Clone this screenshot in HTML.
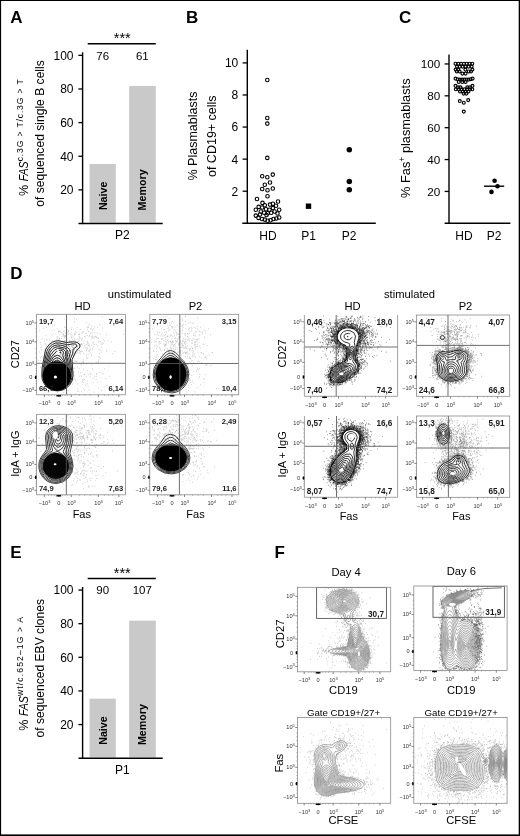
<!DOCTYPE html><html><head><meta charset="utf-8"><style>html,body{margin:0;padding:0;background:#fff;}body{width:520px;height:836px;overflow:hidden;font-family:"Liberation Sans", sans-serif;}</style></head><body><svg width="520" height="836" viewBox="0 0 520 836" style="display:block;font-family:'Liberation Sans', sans-serif;filter:grayscale(1)">
<rect x="0.00" y="0.00" width="520.00" height="836.00" fill="#fff"/>
<text x="10.20" y="23.40" font-size="17" text-anchor="start" font-weight="bold" fill="#000">A</text>
<rect x="89.50" y="163.97" width="26.30" height="58.73" fill="#c9c9c9"/>
<rect x="129.20" y="85.95" width="26.60" height="136.75" fill="#c9c9c9"/>
<line x1="82.60" y1="52.30" x2="82.60" y2="224.10" stroke="#000" stroke-width="1.4"/>
<line x1="78.50" y1="223.50" x2="162.70" y2="223.50" stroke="#000" stroke-width="1.4"/>
<line x1="78.40" y1="189.87" x2="82.60" y2="189.87" stroke="#000" stroke-width="1.3"/>
<text x="73.50" y="194.27" font-size="12" text-anchor="end" fill="#000">20</text>
<line x1="78.40" y1="156.24" x2="82.60" y2="156.24" stroke="#000" stroke-width="1.3"/>
<text x="73.50" y="160.64" font-size="12" text-anchor="end" fill="#000">40</text>
<line x1="78.40" y1="122.61" x2="82.60" y2="122.61" stroke="#000" stroke-width="1.3"/>
<text x="73.50" y="127.01" font-size="12" text-anchor="end" fill="#000">60</text>
<line x1="78.40" y1="88.98" x2="82.60" y2="88.98" stroke="#000" stroke-width="1.3"/>
<text x="73.50" y="93.38" font-size="12" text-anchor="end" fill="#000">80</text>
<line x1="78.40" y1="55.35" x2="82.60" y2="55.35" stroke="#000" stroke-width="1.3"/>
<text x="73.50" y="59.75" font-size="12" text-anchor="end" fill="#000">100</text>
<line x1="87.70" y1="43.80" x2="155.80" y2="43.80" stroke="#000" stroke-width="1.4"/>
<text x="122.30" y="43.00" font-size="14.5" text-anchor="middle" fill="#000">***</text>
<text x="102.70" y="59.50" font-size="11.5" text-anchor="middle" fill="#000">76</text>
<text x="142.30" y="59.50" font-size="11.5" text-anchor="middle" fill="#000">61</text>
<text x="122.30" y="239.40" font-size="12" text-anchor="middle" fill="#000">P2</text>
<text x="106.60" y="210.10" font-size="10.7" text-anchor="start" font-weight="bold" fill="#000" transform="rotate(-90 106.60 210.10)">Naive</text>
<text x="146.00" y="210.40" font-size="10.7" text-anchor="start" font-weight="bold" fill="#000" transform="rotate(-90 146.00 210.40)">Memory</text>
<text x="27.7" y="196.00" font-size="12.6" transform="rotate(-90 27.7 196.00)">% <tspan font-style="italic" textLength="20" lengthAdjust="spacingAndGlyphs">FAS</tspan><tspan font-size="8.6" dy="-4.6" textLength="82" lengthAdjust="spacing">c.3G &gt; T/c.3G &gt; T</tspan></text>
<text x="43.80" y="133.50" font-size="12.1" text-anchor="middle" fill="#000" transform="rotate(-90 43.80 133.50)">of sequenced single B cells</text>
<text x="186.00" y="23.40" font-size="17" text-anchor="start" font-weight="bold" fill="#000">B</text>
<line x1="247.30" y1="49.80" x2="247.30" y2="223.90" stroke="#000" stroke-width="1.4"/>
<line x1="242.30" y1="223.30" x2="375.80" y2="223.30" stroke="#000" stroke-width="1.4"/>
<line x1="242.60" y1="191.22" x2="247.30" y2="191.22" stroke="#000" stroke-width="1.3"/>
<text x="238.30" y="195.62" font-size="12" text-anchor="end" fill="#000">2</text>
<line x1="242.60" y1="159.14" x2="247.30" y2="159.14" stroke="#000" stroke-width="1.3"/>
<text x="238.30" y="163.54" font-size="12" text-anchor="end" fill="#000">4</text>
<line x1="242.60" y1="127.06" x2="247.30" y2="127.06" stroke="#000" stroke-width="1.3"/>
<text x="238.30" y="131.46" font-size="12" text-anchor="end" fill="#000">6</text>
<line x1="242.60" y1="94.98" x2="247.30" y2="94.98" stroke="#000" stroke-width="1.3"/>
<text x="238.30" y="99.38" font-size="12" text-anchor="end" fill="#000">8</text>
<line x1="242.60" y1="62.90" x2="247.30" y2="62.90" stroke="#000" stroke-width="1.3"/>
<text x="238.30" y="67.30" font-size="12" text-anchor="end" fill="#000">10</text>
<text x="268.00" y="240.00" font-size="12" text-anchor="middle" fill="#000">HD</text>
<text x="308.50" y="240.00" font-size="12" text-anchor="middle" fill="#000">P1</text>
<text x="349.20" y="240.00" font-size="12" text-anchor="middle" fill="#000">P2</text>
<text x="197.00" y="136.00" font-size="12.5" text-anchor="middle" fill="#000" transform="rotate(-90 197.00 136.00)">% Plasmablasts</text>
<text x="216.00" y="136.20" font-size="12.5" text-anchor="middle" fill="#000" transform="rotate(-90 216.00 136.20)">of CD19+ cells</text>
<circle cx="267.30" cy="80.00" r="1.75" fill="none" stroke="#000" stroke-width="1.1"/>
<circle cx="267.30" cy="118.00" r="1.75" fill="none" stroke="#000" stroke-width="1.1"/>
<circle cx="267.30" cy="123.60" r="1.75" fill="none" stroke="#000" stroke-width="1.1"/>
<circle cx="267.30" cy="157.90" r="1.75" fill="none" stroke="#000" stroke-width="1.1"/>
<circle cx="262.20" cy="176.30" r="1.75" fill="none" stroke="#000" stroke-width="1.1"/>
<circle cx="267.30" cy="177.30" r="1.75" fill="none" stroke="#000" stroke-width="1.1"/>
<circle cx="272.80" cy="174.60" r="1.75" fill="none" stroke="#000" stroke-width="1.1"/>
<circle cx="270.00" cy="182.50" r="1.75" fill="none" stroke="#000" stroke-width="1.1"/>
<circle cx="264.80" cy="184.80" r="1.75" fill="none" stroke="#000" stroke-width="1.1"/>
<circle cx="262.20" cy="189.00" r="1.75" fill="none" stroke="#000" stroke-width="1.1"/>
<circle cx="267.50" cy="190.20" r="1.75" fill="none" stroke="#000" stroke-width="1.1"/>
<circle cx="272.80" cy="188.50" r="1.75" fill="none" stroke="#000" stroke-width="1.1"/>
<circle cx="267.50" cy="196.20" r="1.75" fill="none" stroke="#000" stroke-width="1.1"/>
<circle cx="257.00" cy="199.00" r="1.75" fill="none" stroke="#000" stroke-width="1.1"/>
<circle cx="278.00" cy="201.50" r="1.75" fill="none" stroke="#000" stroke-width="1.1"/>
<circle cx="262.50" cy="202.90" r="1.75" fill="none" stroke="#000" stroke-width="1.1"/>
<circle cx="270.00" cy="204.60" r="1.75" fill="none" stroke="#000" stroke-width="1.1"/>
<circle cx="272.90" cy="203.80" r="1.75" fill="none" stroke="#000" stroke-width="1.1"/>
<circle cx="258.70" cy="206.90" r="1.75" fill="none" stroke="#000" stroke-width="1.1"/>
<circle cx="264.80" cy="205.20" r="1.75" fill="none" stroke="#000" stroke-width="1.1"/>
<circle cx="262.20" cy="207.50" r="1.75" fill="none" stroke="#000" stroke-width="1.1"/>
<circle cx="276.00" cy="205.80" r="1.75" fill="none" stroke="#000" stroke-width="1.1"/>
<circle cx="255.80" cy="209.80" r="1.75" fill="none" stroke="#000" stroke-width="1.1"/>
<circle cx="266.00" cy="209.20" r="1.75" fill="none" stroke="#000" stroke-width="1.1"/>
<circle cx="269.40" cy="209.80" r="1.75" fill="none" stroke="#000" stroke-width="1.1"/>
<circle cx="272.90" cy="208.10" r="1.75" fill="none" stroke="#000" stroke-width="1.1"/>
<circle cx="279.20" cy="209.80" r="1.75" fill="none" stroke="#000" stroke-width="1.1"/>
<circle cx="260.80" cy="211.50" r="1.75" fill="none" stroke="#000" stroke-width="1.1"/>
<circle cx="264.20" cy="212.70" r="1.75" fill="none" stroke="#000" stroke-width="1.1"/>
<circle cx="274.60" cy="211.50" r="1.75" fill="none" stroke="#000" stroke-width="1.1"/>
<circle cx="267.70" cy="213.30" r="1.75" fill="none" stroke="#000" stroke-width="1.1"/>
<circle cx="271.20" cy="212.70" r="1.75" fill="none" stroke="#000" stroke-width="1.1"/>
<circle cx="255.80" cy="215.60" r="1.75" fill="none" stroke="#000" stroke-width="1.1"/>
<circle cx="258.50" cy="217.90" r="1.75" fill="none" stroke="#000" stroke-width="1.1"/>
<circle cx="262.00" cy="219.00" r="1.75" fill="none" stroke="#000" stroke-width="1.1"/>
<circle cx="264.80" cy="219.60" r="1.75" fill="none" stroke="#000" stroke-width="1.1"/>
<circle cx="267.70" cy="220.80" r="1.75" fill="none" stroke="#000" stroke-width="1.1"/>
<circle cx="270.60" cy="220.20" r="1.75" fill="none" stroke="#000" stroke-width="1.1"/>
<circle cx="273.50" cy="219.00" r="1.75" fill="none" stroke="#000" stroke-width="1.1"/>
<circle cx="276.30" cy="218.50" r="1.75" fill="none" stroke="#000" stroke-width="1.1"/>
<circle cx="279.20" cy="217.50" r="1.75" fill="none" stroke="#000" stroke-width="1.1"/>
<circle cx="266.50" cy="215.00" r="1.75" fill="none" stroke="#000" stroke-width="1.1"/>
<circle cx="277.50" cy="213.50" r="1.75" fill="none" stroke="#000" stroke-width="1.1"/>
<circle cx="260.00" cy="214.50" r="1.75" fill="none" stroke="#000" stroke-width="1.1"/>
<rect x="305.80" y="203.50" width="5.40" height="5.40" fill="#000"/>
<circle cx="349.30" cy="149.70" r="2.75" fill="#000"/>
<circle cx="349.30" cy="181.50" r="2.75" fill="#000"/>
<circle cx="349.30" cy="189.70" r="2.75" fill="#000"/>
<text x="399.00" y="23.40" font-size="17" text-anchor="start" font-weight="bold" fill="#000">C</text>
<line x1="449.00" y1="54.40" x2="449.00" y2="223.90" stroke="#000" stroke-width="1.4"/>
<line x1="444.60" y1="223.30" x2="510.40" y2="223.30" stroke="#000" stroke-width="1.4"/>
<line x1="444.60" y1="191.43" x2="449.00" y2="191.43" stroke="#000" stroke-width="1.3"/>
<text x="440.30" y="195.73" font-size="11.7" text-anchor="end" fill="#000">20</text>
<line x1="444.60" y1="159.56" x2="449.00" y2="159.56" stroke="#000" stroke-width="1.3"/>
<text x="440.30" y="163.86" font-size="11.7" text-anchor="end" fill="#000">40</text>
<line x1="444.60" y1="127.69" x2="449.00" y2="127.69" stroke="#000" stroke-width="1.3"/>
<text x="440.30" y="131.99" font-size="11.7" text-anchor="end" fill="#000">60</text>
<line x1="444.60" y1="95.82" x2="449.00" y2="95.82" stroke="#000" stroke-width="1.3"/>
<text x="440.30" y="100.12" font-size="11.7" text-anchor="end" fill="#000">80</text>
<line x1="444.60" y1="63.95" x2="449.00" y2="63.95" stroke="#000" stroke-width="1.3"/>
<text x="440.30" y="68.25" font-size="11.7" text-anchor="end" fill="#000">100</text>
<text x="464.00" y="240.00" font-size="12" text-anchor="middle" fill="#000">HD</text>
<text x="494.00" y="240.00" font-size="12" text-anchor="middle" fill="#000">P2</text>
<text x="410.2" y="197.9" font-size="12.8" transform="rotate(-90 410.2 197.9)">% Fas<tspan font-size="8.5" dy="-4.8">+</tspan><tspan dy="4.8"> plasmablasts</tspan></text>
<circle cx="455.50" cy="63.70" r="1.45" fill="none" stroke="#000" stroke-width="1.15"/>
<circle cx="458.30" cy="63.70" r="1.45" fill="none" stroke="#000" stroke-width="1.15"/>
<circle cx="461.10" cy="63.70" r="1.45" fill="none" stroke="#000" stroke-width="1.15"/>
<circle cx="463.90" cy="63.70" r="1.45" fill="none" stroke="#000" stroke-width="1.15"/>
<circle cx="466.70" cy="63.70" r="1.45" fill="none" stroke="#000" stroke-width="1.15"/>
<circle cx="469.50" cy="63.70" r="1.45" fill="none" stroke="#000" stroke-width="1.15"/>
<circle cx="472.30" cy="63.70" r="1.45" fill="none" stroke="#000" stroke-width="1.15"/>
<circle cx="457.00" cy="66.60" r="1.45" fill="none" stroke="#000" stroke-width="1.15"/>
<circle cx="459.80" cy="66.60" r="1.45" fill="none" stroke="#000" stroke-width="1.15"/>
<circle cx="462.60" cy="66.60" r="1.45" fill="none" stroke="#000" stroke-width="1.15"/>
<circle cx="465.60" cy="66.60" r="1.45" fill="none" stroke="#000" stroke-width="1.15"/>
<circle cx="468.60" cy="66.60" r="1.45" fill="none" stroke="#000" stroke-width="1.15"/>
<circle cx="471.60" cy="66.60" r="1.45" fill="none" stroke="#000" stroke-width="1.15"/>
<circle cx="455.60" cy="69.60" r="1.45" fill="none" stroke="#000" stroke-width="1.15"/>
<circle cx="458.30" cy="69.60" r="1.45" fill="none" stroke="#000" stroke-width="1.15"/>
<circle cx="465.40" cy="69.60" r="1.45" fill="none" stroke="#000" stroke-width="1.15"/>
<circle cx="472.40" cy="69.60" r="1.45" fill="none" stroke="#000" stroke-width="1.15"/>
<circle cx="456.80" cy="71.40" r="1.45" fill="none" stroke="#000" stroke-width="1.15"/>
<circle cx="459.60" cy="71.40" r="1.45" fill="none" stroke="#000" stroke-width="1.15"/>
<circle cx="468.80" cy="71.40" r="1.45" fill="none" stroke="#000" stroke-width="1.15"/>
<circle cx="471.00" cy="71.40" r="1.45" fill="none" stroke="#000" stroke-width="1.15"/>
<circle cx="462.40" cy="73.60" r="1.45" fill="none" stroke="#000" stroke-width="1.15"/>
<circle cx="465.60" cy="73.60" r="1.45" fill="none" stroke="#000" stroke-width="1.15"/>
<circle cx="455.50" cy="78.60" r="1.45" fill="none" stroke="#000" stroke-width="1.15"/>
<circle cx="472.60" cy="78.60" r="1.45" fill="none" stroke="#000" stroke-width="1.15"/>
<circle cx="457.70" cy="79.20" r="1.45" fill="none" stroke="#000" stroke-width="1.15"/>
<circle cx="470.60" cy="79.20" r="1.45" fill="none" stroke="#000" stroke-width="1.15"/>
<circle cx="459.90" cy="79.60" r="1.45" fill="none" stroke="#000" stroke-width="1.15"/>
<circle cx="462.10" cy="79.60" r="1.45" fill="none" stroke="#000" stroke-width="1.15"/>
<circle cx="464.30" cy="79.60" r="1.45" fill="none" stroke="#000" stroke-width="1.15"/>
<circle cx="466.50" cy="79.60" r="1.45" fill="none" stroke="#000" stroke-width="1.15"/>
<circle cx="468.60" cy="79.60" r="1.45" fill="none" stroke="#000" stroke-width="1.15"/>
<circle cx="458.70" cy="81.90" r="1.45" fill="none" stroke="#000" stroke-width="1.15"/>
<circle cx="462.30" cy="81.90" r="1.45" fill="none" stroke="#000" stroke-width="1.15"/>
<circle cx="465.60" cy="81.90" r="1.45" fill="none" stroke="#000" stroke-width="1.15"/>
<circle cx="455.50" cy="85.80" r="1.45" fill="none" stroke="#000" stroke-width="1.15"/>
<circle cx="472.50" cy="85.80" r="1.45" fill="none" stroke="#000" stroke-width="1.15"/>
<circle cx="458.10" cy="87.30" r="1.45" fill="none" stroke="#000" stroke-width="1.15"/>
<circle cx="460.50" cy="87.30" r="1.45" fill="none" stroke="#000" stroke-width="1.15"/>
<circle cx="467.30" cy="87.30" r="1.45" fill="none" stroke="#000" stroke-width="1.15"/>
<circle cx="469.80" cy="87.30" r="1.45" fill="none" stroke="#000" stroke-width="1.15"/>
<circle cx="455.80" cy="89.30" r="1.45" fill="none" stroke="#000" stroke-width="1.15"/>
<circle cx="458.70" cy="89.30" r="1.45" fill="none" stroke="#000" stroke-width="1.15"/>
<circle cx="461.50" cy="89.30" r="1.45" fill="none" stroke="#000" stroke-width="1.15"/>
<circle cx="464.40" cy="89.30" r="1.45" fill="none" stroke="#000" stroke-width="1.15"/>
<circle cx="467.20" cy="89.30" r="1.45" fill="none" stroke="#000" stroke-width="1.15"/>
<circle cx="470.00" cy="89.30" r="1.45" fill="none" stroke="#000" stroke-width="1.15"/>
<circle cx="472.30" cy="89.30" r="1.45" fill="none" stroke="#000" stroke-width="1.15"/>
<circle cx="460.00" cy="91.40" r="1.45" fill="none" stroke="#000" stroke-width="1.15"/>
<circle cx="462.70" cy="91.40" r="1.45" fill="none" stroke="#000" stroke-width="1.15"/>
<circle cx="465.60" cy="91.40" r="1.45" fill="none" stroke="#000" stroke-width="1.15"/>
<circle cx="468.40" cy="91.40" r="1.45" fill="none" stroke="#000" stroke-width="1.15"/>
<circle cx="463.60" cy="93.60" r="1.45" fill="none" stroke="#000" stroke-width="1.15"/>
<circle cx="466.40" cy="93.60" r="1.45" fill="none" stroke="#000" stroke-width="1.15"/>
<circle cx="459.80" cy="101.00" r="1.45" fill="none" stroke="#000" stroke-width="1.15"/>
<circle cx="463.80" cy="102.70" r="1.45" fill="none" stroke="#000" stroke-width="1.15"/>
<circle cx="468.20" cy="100.10" r="1.45" fill="none" stroke="#000" stroke-width="1.15"/>
<circle cx="463.80" cy="111.60" r="1.45" fill="none" stroke="#000" stroke-width="1.15"/>
<circle cx="494.60" cy="180.80" r="2.30" fill="#000"/>
<circle cx="497.50" cy="186.20" r="2.30" fill="#000"/>
<circle cx="491.50" cy="191.90" r="2.30" fill="#000"/>
<line x1="484.00" y1="186.20" x2="504.20" y2="186.20" stroke="#000" stroke-width="1.4"/>
<text x="10.20" y="557.90" font-size="17" text-anchor="start" font-weight="bold" fill="#000">E</text>
<rect x="89.50" y="698.67" width="26.30" height="58.73" fill="#c9c9c9"/>
<rect x="129.20" y="620.65" width="26.60" height="136.75" fill="#c9c9c9"/>
<line x1="82.60" y1="587.00" x2="82.60" y2="758.80" stroke="#000" stroke-width="1.4"/>
<line x1="78.50" y1="758.20" x2="162.70" y2="758.20" stroke="#000" stroke-width="1.4"/>
<line x1="78.40" y1="724.57" x2="82.60" y2="724.57" stroke="#000" stroke-width="1.3"/>
<text x="73.50" y="728.97" font-size="12" text-anchor="end" fill="#000">20</text>
<line x1="78.40" y1="690.94" x2="82.60" y2="690.94" stroke="#000" stroke-width="1.3"/>
<text x="73.50" y="695.34" font-size="12" text-anchor="end" fill="#000">40</text>
<line x1="78.40" y1="657.31" x2="82.60" y2="657.31" stroke="#000" stroke-width="1.3"/>
<text x="73.50" y="661.71" font-size="12" text-anchor="end" fill="#000">60</text>
<line x1="78.40" y1="623.68" x2="82.60" y2="623.68" stroke="#000" stroke-width="1.3"/>
<text x="73.50" y="628.08" font-size="12" text-anchor="end" fill="#000">80</text>
<line x1="78.40" y1="590.05" x2="82.60" y2="590.05" stroke="#000" stroke-width="1.3"/>
<text x="73.50" y="594.45" font-size="12" text-anchor="end" fill="#000">100</text>
<line x1="87.70" y1="578.50" x2="155.80" y2="578.50" stroke="#000" stroke-width="1.4"/>
<text x="122.30" y="577.70" font-size="14.5" text-anchor="middle" fill="#000">***</text>
<text x="102.70" y="594.20" font-size="11.5" text-anchor="middle" fill="#000">90</text>
<text x="142.30" y="594.20" font-size="11.5" text-anchor="middle" fill="#000">107</text>
<text x="122.30" y="774.10" font-size="12" text-anchor="middle" fill="#000">P1</text>
<text x="106.60" y="744.80" font-size="10.7" text-anchor="start" font-weight="bold" fill="#000" transform="rotate(-90 106.60 744.80)">Naive</text>
<text x="146.00" y="745.10" font-size="10.7" text-anchor="start" font-weight="bold" fill="#000" transform="rotate(-90 146.00 745.10)">Memory</text>
<text x="27.7" y="730.70" font-size="12.6" transform="rotate(-90 27.7 730.70)">% <tspan font-style="italic" textLength="20" lengthAdjust="spacingAndGlyphs">FAS</tspan><tspan font-size="8.6" dy="-4.6" textLength="79" lengthAdjust="spacing">wt/c.652–1G &gt; A</tspan></text>
<text x="43.80" y="668.20" font-size="12.1" text-anchor="middle" fill="#000" transform="rotate(-90 43.80 668.20)">of sequenced EBV clones</text>
<text x="10.20" y="279.40" font-size="17" text-anchor="start" font-weight="bold" fill="#000">D</text>
<text x="139.50" y="297.60" font-size="11.2" text-anchor="middle" fill="#000">unstimulated</text>
<text x="82.50" y="309.60" font-size="11.2" text-anchor="middle" fill="#000">HD</text>
<text x="195.50" y="309.60" font-size="11.2" text-anchor="middle" fill="#000">P2</text>
<text x="409.50" y="298.00" font-size="11.2" text-anchor="middle" fill="#000">stimulated</text>
<text x="352.50" y="310.00" font-size="11.2" text-anchor="middle" fill="#000">HD</text>
<text x="465.50" y="310.00" font-size="11.2" text-anchor="middle" fill="#000">P2</text>
<text x="19.30" y="354.20" font-size="11" text-anchor="middle" fill="#000" transform="rotate(-90 19.30 354.20)">CD27</text>
<text x="18.80" y="453.60" font-size="11" text-anchor="middle" fill="#000" transform="rotate(-90 18.80 453.60)">IgA + IgG</text>
<text x="286.00" y="353.50" font-size="11" text-anchor="middle" fill="#000" transform="rotate(-90 286.00 353.50)">CD27</text>
<text x="286.00" y="454.30" font-size="11" text-anchor="middle" fill="#000" transform="rotate(-90 286.00 454.30)">IgA + IgG</text>
<text x="81.80" y="518.00" font-size="11" text-anchor="middle" fill="#000">Fas</text>
<text x="195.50" y="518.00" font-size="11" text-anchor="middle" fill="#000">Fas</text>
<text x="348.80" y="520.00" font-size="11" text-anchor="middle" fill="#000">Fas</text>
<text x="461.30" y="520.00" font-size="11" text-anchor="middle" fill="#000">Fas</text>
<clipPath id="c1"><rect x="36.60" y="314.30" width="88.90" height="80.50"/></clipPath>
<g clip-path="url(#c1)">
<path d="M74.5 334.3h0.75M86.1 356.3h0.75M54.8 373.5h0.75M61.7 346.8h0.75M100.0 334.1h0.75M92.8 337.3h0.75M64.0 337.0h0.75M66.9 353.0h0.75M60.9 354.8h0.75M72.4 346.8h0.75M59.0 331.1h0.75M56.7 342.6h0.75M68.8 341.6h0.75M56.9 351.2h0.75M78.6 368.5h0.75M96.4 374.0h0.75M71.5 327.8h0.75M54.4 325.1h0.75M51.6 365.0h0.75M101.3 352.0h0.75M66.5 347.2h0.75M72.1 384.2h0.75M77.0 350.9h0.75M114.6 351.5h0.75M109.6 376.4h0.75M54.6 373.0h0.75M79.3 346.5h0.75M59.5 334.2h0.75M75.8 351.2h0.75M57.6 346.3h0.75M58.9 346.0h0.75M89.8 348.3h0.75M61.7 336.5h0.75M102.7 373.6h0.75M76.6 349.6h0.75M76.7 346.0h0.75M74.8 360.9h0.75M81.5 343.8h0.75M66.2 354.3h0.75M65.2 359.1h0.75M58.3 330.1h0.75M102.9 339.5h0.75M73.5 363.2h0.75M56.7 357.5h0.75M67.5 390.6h0.75M60.5 344.8h0.75M83.2 361.7h0.75M91.0 328.1h0.75M50.4 353.9h0.75M72.8 347.0h0.75M69.7 350.2h0.75M71.0 337.1h0.75M77.2 384.0h0.75M75.6 346.4h0.75M57.5 342.5h0.75M90.7 331.9h0.75M58.7 375.1h0.75M63.3 341.7h0.75M56.4 337.2h0.75M40.7 349.2h0.75M52.1 356.1h0.75M77.6 358.3h0.75M89.5 373.7h0.75M75.2 334.0h0.75M60.0 375.1h0.75M101.4 347.1h0.75M75.2 394.1h0.75M53.4 345.6h0.75M44.0 340.8h0.75M56.1 339.9h0.75M51.3 351.2h0.75M54.6 343.6h0.75M88.4 345.5h0.75M87.0 329.4h0.75M54.8 355.2h0.75M93.9 326.9h0.75M84.1 374.6h0.75M86.2 344.4h0.75M71.6 344.3h0.75M60.5 353.6h0.75M59.4 338.4h0.75M72.1 354.7h0.75M61.6 364.3h0.75M82.3 338.6h0.75M59.4 370.6h0.75M49.9 367.2h0.75M88.5 344.9h0.75M76.0 344.3h0.75M91.8 333.0h0.75M49.4 339.5h0.75M63.9 341.1h0.75M59.2 338.4h0.75M71.4 380.0h0.75M61.3 377.3h0.75M86.4 364.0h0.75M59.8 332.3h0.75M99.5 341.0h0.75M46.2 345.1h0.75M39.1 352.0h0.75M45.7 375.1h0.75M87.9 325.7h0.75M57.5 336.6h0.75M78.0 334.6h0.75M52.0 361.3h0.75M98.5 357.3h0.75M79.1 350.9h0.75M72.7 379.2h0.75M65.2 349.6h0.75M61.3 332.6h0.75M78.5 347.9h0.75M41.3 346.8h0.75M80.5 344.6h0.75M48.5 355.7h0.75M78.4 391.1h0.75M65.3 335.8h0.75M95.8 376.4h0.75M92.2 368.5h0.75M42.2 364.8h0.75M82.8 382.5h0.75M65.0 376.5h0.75M69.8 350.4h0.75M51.6 345.8h0.75M70.4 354.9h0.75M79.0 334.7h0.75M46.3 339.7h0.75M99.1 324.2h0.75M48.4 363.2h0.75M72.7 352.2h0.75M89.6 349.9h0.75M92.4 342.8h0.75M101.8 344.5h0.75M77.2 339.1h0.75M92.0 329.9h0.75M57.9 347.6h0.75M49.0 361.0h0.75M64.1 358.7h0.75M59.1 339.0h0.75M81.6 351.5h0.75M68.4 347.9h0.75M106.7 385.3h0.75M79.1 337.1h0.75M87.4 327.7h0.75M64.2 360.3h0.75M81.3 333.0h0.75M45.3 362.1h0.75M72.3 368.0h0.75M78.2 343.8h0.75M80.8 344.1h0.75M75.0 379.1h0.75M84.0 390.1h0.75M69.2 346.3h0.75M62.1 356.9h0.75M92.7 382.8h0.75M65.6 341.9h0.75M68.2 365.0h0.75M74.9 340.2h0.75M57.7 339.9h0.75M67.1 394.0h0.75M54.8 356.7h0.75M69.2 356.0h0.75M104.2 340.9h0.75M86.9 335.5h0.75M103.7 386.3h0.75M67.9 355.5h0.75M63.8 361.1h0.75M84.7 336.4h0.75M72.1 349.3h0.75M58.9 342.0h0.75M108.0 340.9h0.75M71.8 336.0h0.75M67.7 368.9h0.75M62.4 367.4h0.75M41.4 350.1h0.75M53.8 355.3h0.75M86.4 322.6h0.75M123.3 334.3h0.75M86.5 385.0h0.75M69.6 358.5h0.75M47.4 361.9h0.75M90.0 333.6h0.75M64.6 319.3h0.75M73.8 362.1h0.75M48.4 353.0h0.75M57.9 339.2h0.75M55.7 358.3h0.75M88.6 389.8h0.75M59.3 348.2h0.75M63.7 345.8h0.75M43.9 370.6h0.75M54.3 356.3h0.75M88.0 331.4h0.75M66.5 360.9h0.75M57.7 360.1h0.75M49.7 323.7h0.75M55.4 341.8h0.75M91.0 345.1h0.75M52.5 355.2h0.75M98.1 388.1h0.75M63.2 360.6h0.75M55.5 352.7h0.75M87.1 341.3h0.75M83.0 331.3h0.75M38.8 330.7h0.75M72.7 355.7h0.75M96.0 362.5h0.75M63.1 384.0h0.75M87.3 358.1h0.75M93.6 344.2h0.75M97.4 345.9h0.75M92.5 378.3h0.75M65.5 340.1h0.75M69.3 350.8h0.75M64.9 327.1h0.75M67.0 370.6h0.75M99.0 353.4h0.75M40.7 344.7h0.75M52.2 354.2h0.75M82.6 332.9h0.75M83.2 388.7h0.75M79.4 353.0h0.75M93.0 346.5h0.75M63.3 349.3h0.75M96.1 337.7h0.75M73.4 382.9h0.75M68.6 346.7h0.75M71.4 355.6h0.75M80.2 351.6h0.75M67.8 332.9h0.75M66.0 390.4h0.75M86.4 349.5h0.75M59.9 342.7h0.75M47.0 361.1h0.75M82.7 380.4h0.75M62.5 348.7h0.75M106.3 334.5h0.75M74.6 368.3h0.75M66.6 353.7h0.75M62.6 333.7h0.75M68.0 368.3h0.75M73.5 368.1h0.75M91.6 338.2h0.75M44.4 357.5h0.75M64.9 355.8h0.75M40.6 347.4h0.75M41.2 356.7h0.75M64.2 340.9h0.75M83.5 343.9h0.75M98.3 361.3h0.75M48.4 352.0h0.75M98.6 356.9h0.75M83.0 348.0h0.75M83.4 359.1h0.75M75.1 380.6h0.75M70.9 361.7h0.75M57.4 338.3h0.75M94.6 336.5h0.75M45.4 335.7h0.75M50.2 375.9h0.75M86.9 380.9h0.75M71.8 351.1h0.75M83.3 363.6h0.75M72.7 344.7h0.75M96.0 374.0h0.75M65.0 383.0h0.75M72.4 359.8h0.75M70.8 360.9h0.75M57.8 358.5h0.75M55.1 362.0h0.75M74.4 350.6h0.75M45.0 343.4h0.75M83.4 369.1h0.75M90.4 374.2h0.75M71.5 344.8h0.75M52.7 333.0h0.75M63.2 334.7h0.75M72.6 343.7h0.75M91.9 348.2h0.75M80.4 372.7h0.75M73.3 348.6h0.75M83.6 353.7h0.75M62.0 369.2h0.75M86.9 383.3h0.75M55.3 360.3h0.75M74.2 349.5h0.75M55.6 346.1h0.75M97.2 381.8h0.75M58.9 362.5h0.75M49.0 343.3h0.75M54.9 352.9h0.75M70.8 342.4h0.75M71.2 332.9h0.75M49.7 354.4h0.75M95.5 336.6h0.75M49.2 347.0h0.75M81.8 361.9h0.75M64.6 335.8h0.75M60.3 364.2h0.75M78.7 339.0h0.75M88.7 343.8h0.75M111.9 353.7h0.75M74.1 338.8h0.75M72.3 339.3h0.75M88.6 336.3h0.75M101.5 373.8h0.75M77.2 352.2h0.75M58.4 363.6h0.75M87.6 342.8h0.75M82.0 379.6h0.75M70.8 341.0h0.75M42.8 328.6h0.75M96.9 333.4h0.75M69.2 356.7h0.75M71.8 347.5h0.75M52.7 353.7h0.75M47.6 362.5h0.75M81.2 344.0h0.75M89.7 349.9h0.75M81.2 376.1h0.75M55.2 351.7h0.75M68.6 357.6h0.75M89.1 335.7h0.75M74.7 353.4h0.75M69.9 333.7h0.75M63.0 372.0h0.75M86.5 327.1h0.75M70.0 341.2h0.75M106.2 351.6h0.75M91.1 354.7h0.75M55.4 361.6h0.75M64.9 341.2h0.75M81.9 381.5h0.75M46.1 366.2h0.75M89.8 353.0h0.75M68.3 343.8h0.75M99.5 350.6h0.75M68.1 344.9h0.75M76.1 353.8h0.75M63.6 390.8h0.75M78.6 341.6h0.75M65.0 336.1h0.75M76.9 352.8h0.75M67.8 363.5h0.75M79.1 350.3h0.75M68.6 349.7h0.75M53.1 359.7h0.75M65.2 363.2h0.75M72.9 340.8h0.75M64.9 336.5h0.75M60.9 361.7h0.75M93.4 342.1h0.75M79.5 376.1h0.75M72.9 371.9h0.75M84.4 345.2h0.75M46.1 349.8h0.75M49.0 350.3h0.75M52.2 357.6h0.75M63.2 341.4h0.75M63.9 367.9h0.75M65.2 384.3h0.75M56.5 343.3h0.75M87.2 370.6h0.75M74.2 335.1h0.75M84.1 374.5h0.75M75.9 332.6h0.75M71.2 346.1h0.75M73.7 353.7h0.75M98.1 342.0h0.75M63.1 348.4h0.75M64.8 346.1h0.75M71.2 349.7h0.75M77.1 366.8h0.75M81.7 344.7h0.75M90.7 372.9h0.75M57.3 359.4h0.75M44.9 356.3h0.75M63.4 331.3h0.75M87.8 374.4h0.75M43.4 357.0h0.75M44.7 344.3h0.75M40.4 342.5h0.75M63.1 355.8h0.75M85.1 385.1h0.75M57.9 344.8h0.75M74.4 358.6h0.75M78.8 345.3h0.75M57.2 357.5h0.75M63.5 353.9h0.75M56.5 343.1h0.75M48.2 359.7h0.75M88.8 351.3h0.75M79.1 333.9h0.75M87.1 348.3h0.75M57.4 350.1h0.75M86.5 358.7h0.75M67.9 358.8h0.75M89.3 324.2h0.75M68.2 331.2h0.75M46.3 327.4h0.75M75.1 351.9h0.75M84.6 346.6h0.75M77.2 391.4h0.75M87.8 386.7h0.75M56.8 345.6h0.75M62.5 345.7h0.75M60.9 338.5h0.75M60.6 370.4h0.75M85.5 348.1h0.75M48.2 344.8h0.75M45.3 356.1h0.75M95.8 379.5h0.75M78.6 331.1h0.75M63.9 351.0h0.75M52.0 325.1h0.75M73.9 333.4h0.75M101.6 342.7h0.75M64.1 337.5h0.75M77.7 341.1h0.75M89.4 346.7h0.75M76.2 361.7h0.75M73.0 347.6h0.75M79.6 352.0h0.75M77.8 362.1h0.75M77.3 346.7h0.75M73.8 375.9h0.75M79.1 344.1h0.75M91.3 337.1h0.75M67.0 353.5h0.75M55.3 345.2h0.75M72.5 365.3h0.75M41.9 338.7h0.75M68.2 366.1h0.75M71.7 358.0h0.75M49.3 351.3h0.75M60.4 354.5h0.75M68.5 368.8h0.75M81.3 391.3h0.75M73.7 372.0h0.75M102.9 343.5h0.75M93.8 338.3h0.75M75.3 341.5h0.75M81.4 339.2h0.75M59.1 364.0h0.75M73.4 356.2h0.75M66.7 367.4h0.75M64.1 327.0h0.75M101.3 390.4h0.75M59.7 359.7h0.75M65.9 328.9h0.75M62.8 334.1h0.75M91.8 335.9h0.75M83.1 361.9h0.75M81.5 351.0h0.75M93.9 332.4h0.75M70.9 346.3h0.75M75.5 346.7h0.75M65.4 356.1h0.75M43.9 352.8h0.75M99.9 341.7h0.75M86.0 350.8h0.75M50.1 371.8h0.75M99.9 358.5h0.75M97.3 337.9h0.75M70.8 334.7h0.75M66.3 334.6h0.75M93.7 392.1h0.75M70.0 350.6h0.75M43.7 350.0h0.75M69.9 355.1h0.75M59.5 355.7h0.75M73.2 337.3h0.75M47.0 352.7h0.75M70.4 344.8h0.75M44.3 357.7h0.75M85.9 354.8h0.75M94.3 376.7h0.75M73.5 352.5h0.75M58.6 374.2h0.75M101.9 317.0h0.75M49.6 349.5h0.75M69.2 376.6h0.75M79.2 337.2h0.75M58.3 332.1h0.75M65.1 333.4h0.75M91.2 326.1h0.75M56.1 365.3h0.75M77.9 350.5h0.75M50.8 360.5h0.75M91.3 364.7h0.75M67.4 374.4h0.75M58.8 355.8h0.75M100.5 381.4h0.75M98.6 349.5h0.75M108.5 366.2h0.75M67.1 361.0h0.75M64.0 361.2h0.75M57.4 364.6h0.75M63.3 335.2h0.75M68.2 345.4h0.75M91.8 349.9h0.75M84.1 336.6h0.75M37.8 360.3h0.75M83.7 378.9h0.75M99.1 372.5h0.75M76.2 319.4h0.75M86.8 342.1h0.75M73.1 379.3h0.75M46.4 347.1h0.75M106.5 350.1h0.75M70.1 365.2h0.75M89.7 377.0h0.75M111.0 341.8h0.75M67.7 351.6h0.75M74.0 318.2h0.75M52.0 358.0h0.75M76.7 348.5h0.75M78.5 348.6h0.75M46.9 379.3h0.75M64.3 335.3h0.75M40.2 357.6h0.75M59.5 377.3h0.75M64.8 345.8h0.75M79.9 344.4h0.75M98.1 338.4h0.75M91.3 355.9h0.75M65.5 362.5h0.75M85.5 333.4h0.75M61.7 376.9h0.75M64.8 343.2h0.75M90.4 328.8h0.75M80.1 354.1h0.75M51.4 334.7h0.75M70.9 368.5h0.75M78.4 371.9h0.75M74.8 331.4h0.75M51.1 358.7h0.75M64.6 338.2h0.75M72.0 347.7h0.75M72.6 379.7h0.75M83.5 340.8h0.75M73.5 354.6h0.75M44.5 358.5h0.75M60.1 353.7h0.75M61.4 387.2h0.75M84.4 379.8h0.75M55.6 372.6h0.75M80.9 364.7h0.75M66.9 380.6h0.75M67.5 332.1h0.75M49.9 363.3h0.75M93.0 329.1h0.75M53.7 365.9h0.75M71.1 337.8h0.75M71.0 329.2h0.75M59.1 358.5h0.75M58.9 343.3h0.75M94.1 344.4h0.75M91.8 336.8h0.75M75.0 343.3h0.75M104.2 368.9h0.75M73.0 363.6h0.75M53.6 347.4h0.75M50.3 349.7h0.75M87.9 351.1h0.75M77.5 389.1h0.75M46.6 339.9h0.75M45.0 362.7h0.75M56.8 328.3h0.75M73.9 378.2h0.75M97.3 327.3h0.75M81.7 384.2h0.75M59.7 331.6h0.75M54.4 330.4h0.75M43.7 384.3h0.75M88.0 327.5h0.75M40.5 360.6h0.75M69.9 348.0h0.75M69.4 340.2h0.75M81.8 331.9h0.75M51.6 330.3h0.75M68.7 340.1h0.75M77.6 341.5h0.75M85.6 333.2h0.75M97.9 362.2h0.75M85.8 376.4h0.75M73.4 363.2h0.75M81.0 340.5h0.75M68.0 330.5h0.75M87.7 354.0h0.75M63.6 341.4h0.75M61.0 348.1h0.75M72.3 369.4h0.75M50.8 341.5h0.75M92.6 370.0h0.75M100.8 344.0h0.75M76.6 327.7h0.75M73.8 340.4h0.75M49.6 378.3h0.75M52.1 340.8h0.75M63.3 360.2h0.75M102.0 328.1h0.75M49.4 355.4h0.75M80.2 338.3h0.75M67.7 352.9h0.75M63.7 336.4h0.75M98.5 359.5h0.75M68.8 342.0h0.75M66.4 333.1h0.75M44.8 348.2h0.75M96.1 344.3h0.75M67.8 334.3h0.75M61.9 354.2h0.75M58.1 331.5h0.75M40.4 367.4h0.75M57.3 392.3h0.75M63.7 331.1h0.75M86.5 347.6h0.75M74.2 321.8h0.75M75.5 361.8h0.75M63.0 345.5h0.75M65.8 345.9h0.75M78.6 340.0h0.75M95.6 337.2h0.75M73.1 352.9h0.75M60.8 353.4h0.75M55.1 366.9h0.75M68.8 346.5h0.75M105.3 378.5h0.75M66.8 329.7h0.75M79.9 329.5h0.75M55.5 334.1h0.75M44.7 365.7h0.75M63.4 392.5h0.75M48.8 355.1h0.75M87.1 343.9h0.75M66.5 339.5h0.75" stroke="#b0b0b0" stroke-width="0.75" fill="none"/>
<ellipse cx="56.80" cy="376.10" rx="14.2" ry="14.8" fill="#000" transform="rotate(0 56.80 376.10)"/>
<path d="M57.2 376.3 56.4 375.7 57.0 374.1 57.8 375.2 57.2 376.3Z M57.7 377.2 56.2 377.1 55.4 375.9 55.8 373.2 57.0 371.8 58.1 372.4 58.8 374.4 58.8 376.2 57.7 377.2Z M58.0 378.2 55.7 378.0 54.3 375.9 55.1 371.4 56.0 370.0 57.0 369.4 58.8 370.7 59.9 374.2 59.7 376.7 58.0 378.2Z M58.2 379.3 56.5 379.4 55.0 378.8 53.9 377.7 53.3 375.9 54.4 369.7 55.5 367.9 57.0 367.1 58.5 367.6 59.6 368.9 61.0 373.7 60.7 377.2 58.2 379.3Z M57.5 380.4 55.7 380.3 53.8 379.2 52.6 377.4 52.2 375.7 52.6 371.7 53.5 368.2 55.1 365.7 57.0 364.7 59.0 365.5 60.6 367.7 61.7 370.9 62.1 374.9 62.0 376.9 61.0 378.7 59.5 379.9 57.5 380.4Z M58.0 381.4 55.5 381.3 53.5 380.3 51.9 378.4 51.2 375.9 51.6 370.9 52.8 366.4 54.7 363.5 57.0 362.4 59.2 363.2 61.2 365.7 62.6 369.7 63.2 373.9 63.1 376.7 62.2 378.9 60.5 380.5 58.0 381.4Z M58.5 382.4 55.5 382.4 52.7 381.0 50.9 378.7 50.1 375.9 50.6 369.9 52.1 364.7 54.5 361.2 57.0 360.0 59.7 361.1 61.9 363.9 63.4 367.9 64.3 373.4 64.2 376.7 63.3 379.2 61.2 381.3 58.5 382.4Z M58.7 383.5 55.2 383.4 52.2 381.9 50.1 379.4 49.1 376.2 49.6 369.4 51.1 363.7 53.7 359.4 56.7 357.7 59.7 358.6 62.3 361.7 64.3 366.7 65.3 372.7 65.4 376.7 64.3 379.7 62.0 382.1 58.7 383.5Z M61.0 352.7 60.0 352.7 59.8 352.2 61.0 352.0 61.0 352.7Z M59.0 384.5 55.2 384.5 51.7 382.9 49.1 379.9 48.1 376.2 48.6 368.4 50.6 361.4 53.7 356.8 57.2 355.1 60.2 356.3 63.3 360.4 65.4 365.9 66.4 372.9 66.4 377.2 65.1 380.4 62.5 383.0 59.0 384.5Z M57.7 385.7 53.0 384.8 49.0 381.7 47.2 377.4 47.1 371.7 48.6 363.4 51.4 356.9 56.5 351.4 58.5 350.5 60.7 350.3 62.7 350.9 63.6 352.2 62.7 355.4 66.5 365.7 67.6 376.4 66.6 379.9 64.5 382.8 61.5 384.8 57.7 385.7Z M58.2 386.7 53.2 386.1 48.7 382.9 46.3 378.4 46.0 372.9 47.6 362.7 50.8 354.7 54.7 349.9 57.2 348.8 60.0 348.6 63.7 349.5 65.7 351.7 65.1 356.4 67.9 366.4 68.7 376.2 67.8 379.9 65.5 383.3 62.2 385.6 58.2 386.7Z M58.7 387.7 53.5 387.3 49.0 384.7 45.9 380.4 44.9 375.7 46.1 363.7 49.8 352.9 51.5 350.2 53.5 348.3 56.0 347.1 58.7 346.8 64.7 348.1 66.7 349.5 67.9 351.2 68.1 352.9 67.0 357.4 69.1 366.9 69.8 375.7 68.9 380.2 66.6 383.7 63.2 386.3 58.7 387.7Z M59.2 388.7 53.5 388.3 48.7 385.9 45.1 381.2 43.9 375.9 44.9 364.2 48.5 351.7 50.1 348.9 52.2 346.8 55.0 345.4 57.7 344.9 62.5 345.5 67.2 347.4 69.5 349.4 70.4 352.2 68.8 358.2 70.7 370.4 70.9 375.9 70.4 379.2 68.9 382.4 66.2 385.5 63.0 387.6 59.2 388.7Z M73.7 346.0 73.4 345.7 73.7 346.0Z M59.5 389.7 54.2 389.6 49.7 387.8 45.9 384.4 43.6 380.2 42.8 375.9 43.3 367.4 46.8 351.4 48.2 348.7 50.2 346.2 52.7 344.3 55.5 343.1 59.5 343.0 68.0 344.9 72.5 343.8 75.2 344.0 76.7 345.0 76.9 346.4 73.2 349.2 72.6 353.7 70.4 358.7 71.9 373.2 71.9 377.2 71.2 380.2 69.4 383.7 66.7 386.5 63.5 388.5 59.5 389.7Z M57.7 390.9 52.7 390.3 48.2 388.1 44.5 384.4 42.4 379.9 41.8 375.9 42.1 367.9 45.5 349.9 47.1 347.2 49.7 344.2 52.7 342.1 55.5 341.0 59.0 340.8 66.2 342.5 73.2 341.8 77.2 342.5 79.5 344.2 80.1 346.2 79.3 347.9 76.2 350.9 72.0 359.7 73.1 375.4 72.1 380.9 69.8 384.9 66.5 388.0 62.5 390.1 57.7 390.9Z" stroke="#000" stroke-width="0.85" fill="none" stroke-linejoin="round"/>
<ellipse cx="55.40" cy="376.90" rx="1.6" ry="1.5" fill="#fff"/>
<ellipse cx="57.80" cy="350.30" rx="0.9" ry="1.6" fill="#fff"/>
</g>
<line x1="66.50" y1="314.30" x2="66.50" y2="394.80" stroke="#555" stroke-width="0.85"/>
<line x1="36.60" y1="363.30" x2="125.50" y2="363.30" stroke="#555" stroke-width="0.85"/>
<rect x="36.60" y="314.30" width="88.90" height="80.50" fill="none" stroke="#8a8a8a" stroke-width="0.8"/>
<line x1="34.40" y1="322.90" x2="36.60" y2="322.90" stroke="#555" stroke-width="0.7"/>
<text x="34.00" y="324.80" font-size="5.6" fill="#333" text-anchor="end">10<tspan font-size="4.03" dy="-2.2">5</tspan></text>
<line x1="34.40" y1="341.80" x2="36.60" y2="341.80" stroke="#555" stroke-width="0.7"/>
<text x="34.00" y="343.70" font-size="5.6" fill="#333" text-anchor="end">10<tspan font-size="4.03" dy="-2.2">4</tspan></text>
<line x1="34.40" y1="364.40" x2="36.60" y2="364.40" stroke="#555" stroke-width="0.7"/>
<text x="34.00" y="366.30" font-size="5.6" fill="#333" text-anchor="end">10<tspan font-size="4.03" dy="-2.2">3</tspan></text>
<line x1="34.40" y1="377.30" x2="36.60" y2="377.30" stroke="#555" stroke-width="0.7"/>
<text x="32.40" y="379.20" font-size="5.6" fill="#333" text-anchor="end">0</text>
<line x1="34.40" y1="390.30" x2="36.60" y2="390.30" stroke="#555" stroke-width="0.7"/>
<text x="34.00" y="392.20" font-size="5.6" fill="#333" text-anchor="end">−10<tspan font-size="4.03" dy="-2.2">3</tspan></text>
<line x1="35.50" y1="328.57" x2="36.60" y2="328.57" stroke="#777" stroke-width="0.5"/>
<line x1="35.50" y1="332.35" x2="36.60" y2="332.35" stroke="#777" stroke-width="0.5"/>
<line x1="35.50" y1="336.13" x2="36.60" y2="336.13" stroke="#777" stroke-width="0.5"/>
<line x1="35.50" y1="348.58" x2="36.60" y2="348.58" stroke="#777" stroke-width="0.5"/>
<line x1="35.50" y1="353.10" x2="36.60" y2="353.10" stroke="#777" stroke-width="0.5"/>
<line x1="35.50" y1="357.62" x2="36.60" y2="357.62" stroke="#777" stroke-width="0.5"/>
<line x1="35.50" y1="368.27" x2="36.60" y2="368.27" stroke="#777" stroke-width="0.5"/>
<line x1="35.50" y1="370.85" x2="36.60" y2="370.85" stroke="#777" stroke-width="0.5"/>
<line x1="35.50" y1="373.43" x2="36.60" y2="373.43" stroke="#777" stroke-width="0.5"/>
<line x1="35.50" y1="381.20" x2="36.60" y2="381.20" stroke="#777" stroke-width="0.5"/>
<line x1="35.50" y1="383.80" x2="36.60" y2="383.80" stroke="#777" stroke-width="0.5"/>
<line x1="35.50" y1="386.40" x2="36.60" y2="386.40" stroke="#777" stroke-width="0.5"/>
<line x1="44.40" y1="394.80" x2="44.40" y2="397.00" stroke="#555" stroke-width="0.7"/>
<text x="44.60" y="405.40" font-size="5.6" fill="#333" text-anchor="middle">−10<tspan font-size="4.03" dy="-2.2">3</tspan></text>
<line x1="58.80" y1="394.80" x2="58.80" y2="397.00" stroke="#555" stroke-width="0.7"/>
<text x="58.80" y="405.40" font-size="5.6" fill="#333" text-anchor="middle">0</text>
<line x1="71.30" y1="394.80" x2="71.30" y2="397.00" stroke="#555" stroke-width="0.7"/>
<text x="71.50" y="405.40" font-size="5.6" fill="#333" text-anchor="middle">10<tspan font-size="4.03" dy="-2.2">3</tspan></text>
<line x1="98.30" y1="394.80" x2="98.30" y2="397.00" stroke="#555" stroke-width="0.7"/>
<text x="98.50" y="405.40" font-size="5.6" fill="#333" text-anchor="middle">10<tspan font-size="4.03" dy="-2.2">4</tspan></text>
<line x1="118.80" y1="394.80" x2="118.80" y2="397.00" stroke="#555" stroke-width="0.7"/>
<text x="119.00" y="405.40" font-size="5.6" fill="#333" text-anchor="middle">10<tspan font-size="4.03" dy="-2.2">5</tspan></text>
<line x1="48.72" y1="394.80" x2="48.72" y2="395.90" stroke="#777" stroke-width="0.5"/>
<line x1="51.60" y1="394.80" x2="51.60" y2="395.90" stroke="#777" stroke-width="0.5"/>
<line x1="54.48" y1="394.80" x2="54.48" y2="395.90" stroke="#777" stroke-width="0.5"/>
<line x1="62.55" y1="394.80" x2="62.55" y2="395.90" stroke="#777" stroke-width="0.5"/>
<line x1="65.05" y1="394.80" x2="65.05" y2="395.90" stroke="#777" stroke-width="0.5"/>
<line x1="67.55" y1="394.80" x2="67.55" y2="395.90" stroke="#777" stroke-width="0.5"/>
<line x1="79.40" y1="394.80" x2="79.40" y2="395.90" stroke="#777" stroke-width="0.5"/>
<line x1="84.80" y1="394.80" x2="84.80" y2="395.90" stroke="#777" stroke-width="0.5"/>
<line x1="90.20" y1="394.80" x2="90.20" y2="395.90" stroke="#777" stroke-width="0.5"/>
<line x1="104.45" y1="394.80" x2="104.45" y2="395.90" stroke="#777" stroke-width="0.5"/>
<line x1="108.55" y1="394.80" x2="108.55" y2="395.90" stroke="#777" stroke-width="0.5"/>
<line x1="112.65" y1="394.80" x2="112.65" y2="395.90" stroke="#777" stroke-width="0.5"/>
<rect x="35.00" y="375.70" width="1.4" height="3.2" fill="#000"/>
<rect x="56.40" y="395.10" width="4.8" height="1.4" fill="#000"/>
<text x="38.90" y="323.90" font-size="7.6" fill="#1a1a1a" font-weight="bold">19,7</text>
<text x="123.30" y="323.90" font-size="7.6" fill="#1a1a1a" font-weight="bold" text-anchor="end">7,64</text>
<text x="38.90" y="391.40" font-size="7.6" fill="#1a1a1a" font-weight="bold">66,7</text>
<text x="123.30" y="391.40" font-size="7.6" fill="#1a1a1a" font-weight="bold" text-anchor="end">6,14</text>
<clipPath id="c2"><rect x="149.80" y="314.30" width="88.90" height="80.50"/></clipPath>
<g clip-path="url(#c2)">
<path d="M199.0 362.0h0.75M167.6 325.2h0.75M185.9 374.9h0.75M205.0 333.0h0.75M173.2 353.0h0.75M181.6 343.4h0.75M175.5 341.0h0.75M182.0 347.1h0.75M171.3 323.2h0.75M203.7 378.8h0.75M189.1 363.4h0.75M193.1 322.8h0.75M187.8 387.2h0.75M174.5 338.4h0.75M182.8 384.9h0.75M188.1 379.9h0.75M175.6 364.1h0.75M192.3 348.2h0.75M170.6 359.3h0.75M199.1 376.6h0.75M165.3 337.5h0.75M171.1 370.1h0.75M176.8 353.2h0.75M179.3 360.2h0.75M157.7 331.7h0.75M178.4 373.8h0.75M166.3 344.1h0.75M158.9 344.0h0.75M160.8 370.3h0.75M184.3 377.9h0.75M206.5 364.6h0.75M200.7 352.6h0.75M153.2 350.6h0.75M189.2 380.1h0.75M160.7 341.9h0.75M194.7 342.3h0.75M163.4 340.6h0.75M159.3 347.1h0.75M161.9 364.3h0.75M190.8 350.8h0.75M179.5 326.5h0.75M195.2 328.1h0.75M175.2 346.9h0.75M184.5 342.5h0.75M154.5 346.8h0.75M165.3 374.5h0.75M185.0 364.9h0.75M166.9 336.7h0.75M181.7 333.4h0.75M163.9 350.3h0.75M176.7 374.3h0.75M153.8 340.3h0.75M191.7 328.4h0.75M163.6 343.8h0.75M178.4 354.8h0.75M168.6 329.3h0.75M173.5 384.1h0.75M185.2 347.1h0.75M187.1 336.4h0.75M185.9 392.0h0.75M179.7 382.4h0.75M174.0 344.3h0.75M188.9 330.8h0.75M185.1 317.0h0.75M158.2 335.6h0.75M165.5 339.6h0.75M193.1 335.6h0.75M169.9 377.8h0.75M174.4 327.1h0.75M161.1 365.3h0.75M201.1 358.5h0.75M197.2 346.2h0.75M164.1 349.8h0.75M167.6 336.5h0.75M169.7 341.2h0.75M199.6 331.7h0.75M197.4 329.1h0.75M185.1 356.6h0.75M160.5 336.0h0.75M164.2 329.7h0.75M167.1 348.8h0.75M176.9 361.9h0.75M205.8 357.8h0.75M189.4 358.0h0.75M178.8 343.1h0.75M185.8 352.7h0.75M154.3 334.6h0.75M179.9 350.4h0.75M181.8 319.2h0.75M155.8 339.1h0.75M159.1 342.0h0.75M190.1 349.0h0.75M168.5 349.9h0.75M178.6 344.5h0.75M176.5 361.5h0.75M192.2 380.8h0.75M191.9 323.5h0.75M176.4 334.0h0.75M156.5 359.4h0.75M186.6 348.3h0.75M179.9 363.7h0.75M169.9 334.8h0.75M177.5 333.8h0.75M192.5 354.9h0.75M172.5 336.8h0.75M172.4 342.1h0.75M164.4 345.9h0.75M173.9 329.3h0.75M200.3 384.8h0.75M191.3 342.9h0.75M178.9 352.1h0.75M153.3 358.6h0.75M174.2 335.9h0.75M185.7 348.5h0.75M193.7 327.4h0.75M175.8 360.9h0.75M182.2 325.6h0.75M205.3 365.4h0.75M179.3 337.4h0.75M173.2 332.4h0.75M183.4 347.9h0.75M175.9 332.5h0.75M171.6 338.8h0.75M154.9 359.5h0.75M156.0 348.3h0.75M198.7 331.1h0.75M199.6 374.5h0.75M180.6 331.4h0.75M170.6 355.8h0.75M168.3 351.7h0.75M187.6 333.8h0.75M168.1 341.5h0.75M188.6 354.3h0.75M159.3 367.5h0.75M198.4 369.8h0.75M185.3 383.4h0.75M177.4 367.0h0.75M168.0 352.3h0.75M184.8 339.1h0.75M205.1 374.7h0.75M188.4 339.5h0.75M193.3 352.0h0.75M168.4 327.2h0.75M193.5 333.4h0.75M165.8 345.1h0.75M192.3 352.9h0.75M208.7 354.8h0.75M191.3 375.4h0.75M179.4 336.9h0.75M172.5 354.5h0.75M184.5 373.0h0.75M201.6 332.4h0.75M171.9 356.2h0.75M186.6 354.1h0.75M188.2 323.0h0.75M183.3 341.1h0.75M185.5 343.9h0.75M173.6 345.3h0.75M171.0 335.7h0.75M166.5 336.3h0.75M162.3 359.1h0.75M170.5 335.0h0.75M197.4 339.0h0.75M203.9 330.2h0.75M185.0 334.1h0.75M188.4 371.6h0.75M183.8 343.3h0.75M180.1 341.9h0.75M188.4 338.0h0.75M159.8 320.7h0.75M175.9 341.9h0.75M168.4 380.6h0.75M162.6 327.0h0.75M181.9 380.5h0.75M171.2 342.7h0.75M153.4 351.3h0.75M179.4 324.2h0.75M162.3 353.8h0.75M165.0 334.6h0.75M184.3 347.9h0.75M168.1 365.2h0.75M194.7 334.4h0.75M177.5 338.6h0.75M171.6 354.5h0.75M199.1 345.9h0.75M156.9 354.6h0.75M190.9 330.1h0.75M156.2 345.2h0.75M193.6 354.8h0.75M176.2 369.2h0.75M204.4 357.7h0.75M178.9 351.9h0.75M203.1 353.6h0.75M178.6 365.7h0.75M151.3 342.3h0.75M178.6 371.5h0.75M165.6 348.1h0.75M176.5 377.9h0.75M203.5 344.5h0.75M195.1 349.1h0.75M181.6 371.9h0.75M169.6 347.7h0.75M211.6 364.8h0.75M163.9 335.7h0.75M183.6 348.3h0.75M195.2 347.8h0.75M194.7 346.2h0.75M160.6 326.1h0.75M159.9 343.5h0.75M186.5 352.7h0.75M188.8 349.5h0.75M198.6 339.1h0.75M154.9 370.3h0.75M196.8 387.9h0.75M185.2 321.5h0.75M202.8 354.1h0.75M187.6 336.8h0.75M171.9 352.5h0.75M199.5 356.6h0.75M196.3 371.5h0.75M156.7 334.8h0.75M154.7 341.7h0.75M179.9 352.4h0.75M189.9 358.4h0.75M175.1 370.3h0.75M195.2 336.0h0.75M166.2 331.9h0.75M186.2 342.0h0.75M177.1 352.2h0.75M190.0 380.3h0.75M161.2 334.6h0.75M163.9 375.8h0.75M174.3 344.7h0.75M165.7 321.0h0.75M172.3 342.0h0.75M174.6 352.2h0.75M168.8 322.9h0.75M197.0 340.2h0.75M175.4 337.9h0.75M186.8 351.1h0.75M206.6 345.6h0.75M158.2 323.4h0.75M164.0 346.0h0.75M162.7 374.7h0.75M189.0 350.4h0.75M190.8 327.7h0.75M181.7 351.0h0.75M179.6 330.1h0.75M170.2 342.0h0.75M183.1 324.3h0.75M197.6 361.5h0.75M185.4 333.9h0.75M203.7 379.2h0.75M182.9 352.8h0.75M182.3 340.5h0.75M182.6 353.1h0.75M184.4 366.6h0.75M187.8 385.3h0.75M202.9 344.0h0.75M194.1 344.8h0.75M180.0 364.6h0.75M180.1 324.1h0.75M164.6 344.6h0.75M191.1 340.4h0.75M185.2 316.3h0.75M197.3 367.9h0.75M182.0 320.8h0.75M198.6 342.5h0.75M153.7 327.0h0.75M192.7 356.0h0.75M168.4 343.1h0.75M206.5 365.5h0.75M178.7 334.4h0.75M199.9 348.0h0.75M182.7 387.8h0.75M196.6 369.7h0.75M185.8 346.9h0.75M162.6 359.4h0.75M181.8 344.8h0.75M203.8 382.3h0.75M173.7 346.6h0.75M194.2 353.7h0.75M187.2 356.3h0.75M185.5 328.7h0.75M191.3 346.8h0.75M206.5 358.8h0.75M195.1 357.3h0.75M154.4 345.2h0.75M166.1 343.1h0.75M169.0 353.9h0.75M178.3 343.3h0.75M165.0 341.3h0.75M162.6 336.0h0.75M177.7 339.3h0.75M197.1 369.0h0.75M188.2 329.2h0.75M185.7 371.0h0.75M180.3 353.6h0.75M202.2 333.8h0.75M173.6 359.5h0.75M171.7 341.2h0.75M180.9 355.4h0.75M171.7 355.6h0.75M187.9 372.0h0.75M169.4 325.6h0.75M192.0 350.6h0.75M204.3 337.7h0.75M163.5 338.5h0.75M197.8 361.0h0.75M161.0 328.8h0.75M168.0 331.1h0.75M198.7 335.8h0.75M176.7 325.5h0.75M153.6 321.3h0.75M173.6 350.0h0.75M198.5 377.8h0.75M201.3 363.5h0.75M184.6 374.8h0.75M190.4 382.7h0.75M196.8 326.6h0.75M156.9 333.0h0.75M171.5 353.6h0.75M171.1 357.1h0.75M164.0 323.3h0.75M170.1 341.6h0.75M153.7 356.1h0.75M159.0 332.6h0.75M172.3 327.9h0.75M176.9 347.6h0.75M195.0 344.3h0.75M164.5 332.2h0.75M193.4 362.7h0.75M178.8 347.5h0.75M201.3 362.4h0.75M155.8 342.1h0.75M183.9 334.0h0.75M184.9 353.0h0.75M167.7 358.9h0.75M186.7 352.8h0.75M216.1 388.5h0.75M174.9 330.9h0.75M178.9 344.2h0.75M174.4 352.3h0.75M209.7 365.7h0.75M161.6 339.0h0.75M187.1 368.1h0.75M189.3 333.5h0.75M177.5 349.5h0.75M173.9 363.0h0.75M187.4 340.1h0.75M199.1 368.4h0.75M173.8 364.5h0.75M187.5 364.1h0.75M184.5 342.0h0.75M204.4 336.9h0.75M155.7 341.4h0.75M190.8 384.5h0.75M182.0 318.6h0.75M172.8 348.5h0.75M175.3 340.5h0.75M170.2 347.9h0.75M180.7 369.9h0.75M157.0 346.4h0.75M165.7 334.0h0.75M196.6 341.6h0.75M155.9 356.9h0.75M180.3 347.9h0.75M157.7 356.5h0.75M162.8 317.0h0.75M167.9 365.7h0.75M184.8 381.9h0.75M184.7 344.2h0.75M165.8 341.9h0.75M175.9 335.0h0.75M193.2 351.1h0.75M185.2 353.3h0.75M195.6 339.5h0.75M187.3 345.3h0.75M167.7 339.0h0.75M178.0 345.2h0.75M197.6 352.2h0.75M160.2 349.2h0.75M196.2 331.7h0.75M195.2 341.6h0.75M165.3 344.9h0.75M171.7 327.2h0.75M168.4 350.7h0.75M166.8 336.0h0.75M170.9 348.2h0.75M181.0 369.6h0.75M194.4 391.9h0.75M169.3 353.2h0.75M181.2 343.8h0.75M170.1 325.0h0.75M189.1 341.2h0.75M163.8 374.9h0.75M172.4 344.6h0.75M172.6 327.0h0.75M161.0 338.9h0.75M179.5 337.2h0.75M202.3 331.8h0.75M165.2 365.0h0.75M167.5 328.4h0.75M171.8 343.7h0.75M190.5 359.2h0.75M192.3 348.5h0.75M211.8 352.6h0.75M185.2 379.2h0.75M176.9 340.2h0.75M189.2 361.8h0.75M175.1 349.0h0.75M159.4 348.0h0.75M171.2 388.7h0.75M185.1 352.9h0.75M205.4 330.9h0.75M182.9 345.9h0.75M183.0 338.4h0.75M183.6 389.7h0.75M175.1 343.8h0.75M158.1 360.2h0.75M167.0 340.4h0.75M183.1 345.4h0.75M197.0 344.4h0.75M169.6 336.1h0.75M186.7 364.0h0.75M187.3 333.8h0.75M173.3 322.3h0.75M173.1 346.5h0.75M192.2 365.4h0.75M190.3 348.7h0.75M186.5 358.2h0.75M182.7 327.7h0.75M182.5 341.7h0.75M152.4 328.7h0.75M208.1 328.8h0.75M199.5 334.7h0.75M181.1 347.1h0.75M200.1 327.2h0.75M193.2 371.2h0.75M178.7 352.1h0.75M172.2 341.4h0.75M170.3 346.2h0.75M184.9 339.4h0.75M163.4 329.5h0.75M181.6 326.1h0.75M184.4 352.0h0.75M171.9 321.5h0.75M190.6 331.3h0.75M191.8 357.0h0.75M194.2 342.1h0.75M188.3 363.7h0.75M166.4 365.1h0.75M192.5 338.4h0.75M173.7 365.0h0.75M183.6 381.2h0.75M182.0 330.0h0.75M194.7 347.0h0.75M185.0 365.1h0.75M189.3 374.6h0.75M178.5 334.5h0.75M173.7 333.8h0.75M179.7 352.0h0.75M158.0 338.3h0.75M196.0 346.3h0.75M180.3 359.4h0.75M185.5 324.6h0.75M205.1 357.1h0.75M189.3 370.6h0.75M164.7 345.6h0.75M158.0 341.9h0.75M188.7 349.0h0.75M206.6 356.2h0.75M153.0 365.8h0.75M179.7 351.6h0.75M186.8 371.9h0.75M159.3 341.3h0.75M191.8 343.2h0.75M168.9 318.5h0.75M162.4 333.1h0.75M193.7 339.4h0.75M185.6 346.2h0.75M185.3 341.4h0.75M182.2 340.9h0.75M160.6 350.6h0.75M179.0 350.9h0.75M156.2 354.9h0.75M170.9 344.6h0.75M171.3 348.8h0.75M175.6 361.7h0.75M173.1 342.0h0.75M177.3 341.8h0.75M182.2 345.1h0.75M178.5 336.6h0.75M201.1 353.0h0.75M161.5 338.4h0.75M171.4 326.5h0.75M179.9 381.6h0.75M175.9 360.0h0.75M156.8 338.5h0.75M176.4 341.9h0.75M190.9 361.0h0.75M161.2 371.3h0.75M195.1 332.0h0.75M192.8 382.9h0.75M197.0 318.1h0.75M189.8 322.6h0.75M188.1 390.5h0.75M194.4 344.3h0.75M163.7 350.0h0.75M184.9 335.8h0.75M174.7 338.1h0.75M165.7 316.7h0.75M173.0 354.6h0.75M188.7 358.1h0.75M192.2 360.4h0.75M192.0 340.5h0.75M165.2 344.3h0.75M193.6 335.3h0.75M189.0 328.4h0.75M156.3 351.3h0.75M194.5 356.4h0.75M192.1 348.4h0.75M210.1 334.8h0.75M173.7 363.0h0.75M212.2 352.3h0.75M169.4 330.1h0.75M189.0 378.5h0.75M170.7 349.5h0.75M196.5 339.3h0.75" stroke="#b0b0b0" stroke-width="0.75" fill="none"/>
<ellipse cx="171.00" cy="374.30" rx="15.2" ry="16.7" fill="#000" transform="rotate(0 171.00 374.30)"/>
<path d="M171.2 375.0 170.3 374.4 170.9 373.6 171.7 374.2 171.2 375.0Z M171.7 376.0 170.4 376.0 169.3 374.9 169.5 373.4 170.4 372.6 171.7 372.6 172.6 373.7 172.6 374.9 171.7 376.0Z M171.4 377.2 169.3 376.7 168.2 374.7 168.8 372.4 170.7 371.4 172.7 371.9 173.8 373.9 173.2 376.2 171.4 377.2Z M172.2 378.2 169.2 377.9 167.3 375.4 167.7 372.2 170.2 370.3 172.9 370.8 174.7 373.2 174.5 376.2 172.2 378.2Z M171.7 379.4 169.7 379.3 167.9 378.4 166.7 376.9 166.1 374.9 166.2 372.9 167.0 371.2 168.4 369.9 170.4 369.1 172.4 369.3 174.2 370.3 175.3 371.7 175.9 373.7 175.8 375.7 175.0 377.4 173.4 378.8 171.7 379.4Z M172.4 380.4 169.9 380.5 167.7 379.6 166.0 377.9 165.1 375.7 165.0 373.2 166.0 370.7 167.7 369.0 169.9 368.1 172.2 368.1 174.4 369.1 176.1 370.9 176.9 372.9 176.9 375.4 176.1 377.7 174.4 379.5 172.4 380.4Z M171.7 381.7 168.7 381.3 166.4 380.0 164.8 377.9 163.9 374.9 164.3 371.9 165.6 369.4 167.9 367.6 170.4 366.9 173.2 367.2 175.7 368.7 177.3 370.9 178.1 373.7 177.8 376.4 176.6 378.9 174.4 380.8 171.7 381.7Z M172.7 382.7 169.4 382.7 166.4 381.4 164.1 378.9 163.0 375.9 163.0 372.4 164.3 369.4 166.7 367.0 169.7 365.9 172.9 366.0 175.7 367.3 177.9 369.7 179.0 372.7 179.0 375.9 177.7 379.2 175.4 381.5 172.7 382.7Z M171.9 383.9 168.4 383.6 165.2 381.8 162.9 378.9 161.8 375.2 162.2 371.2 164.0 367.9 166.9 365.6 170.4 364.6 173.9 365.1 177.2 367.1 179.3 369.9 180.2 373.7 179.8 377.4 178.0 380.7 175.4 382.8 171.9 383.9Z M172.7 385.0 168.7 384.8 164.9 383.0 162.0 379.7 160.8 375.9 161.0 371.4 162.8 367.7 165.7 365.0 169.7 363.6 173.7 363.9 177.4 365.8 180.1 369.2 181.3 372.9 181.0 376.9 179.3 380.7 176.4 383.5 172.7 385.0Z M171.9 386.2 167.4 385.6 163.4 383.2 160.8 379.7 159.6 374.9 160.3 370.2 162.4 366.4 165.9 363.6 170.4 362.4 174.9 363.1 178.6 365.4 181.3 369.2 182.4 373.4 181.8 378.2 179.6 382.2 175.9 385.1 171.9 386.2Z M172.9 387.2 168.2 387.0 163.7 384.9 160.2 380.9 158.6 375.9 159.0 370.7 161.2 366.2 164.9 362.9 169.7 361.2 174.4 361.7 178.7 364.0 181.8 367.7 183.4 372.4 183.1 377.4 181.1 381.9 177.7 385.3 172.9 387.2Z M171.9 388.4 166.7 387.7 162.0 384.9 158.8 380.4 157.5 375.2 158.1 369.9 160.6 365.2 164.4 361.9 170.4 359.3 176.4 361.3 180.4 364.1 183.3 368.4 184.5 373.7 183.8 378.9 181.2 383.7 176.9 387.0 171.9 388.4Z M172.9 389.5 167.2 389.1 161.9 386.3 158.1 381.4 156.5 375.9 157.0 369.9 159.4 364.9 163.2 361.3 170.2 357.5 177.2 360.3 181.0 363.2 184.1 367.4 185.6 372.9 185.0 378.7 182.4 383.9 178.2 387.6 172.9 389.5Z M171.9 390.7 165.9 389.8 160.7 386.7 156.9 381.4 155.3 375.2 156.1 369.2 158.8 363.9 161.7 361.0 167.7 356.4 170.2 355.4 172.9 356.2 179.4 360.3 182.3 362.9 185.4 367.7 186.7 373.4 185.8 379.7 182.8 385.2 177.9 389.0 171.9 390.7Z M173.2 391.7 166.7 391.2 163.7 390.1 160.7 388.1 158.2 385.7 156.3 382.7 154.3 375.9 154.8 369.7 157.3 364.2 166.4 354.7 169.9 353.1 171.9 353.3 173.9 354.3 183.2 362.2 186.3 367.2 187.7 372.9 187.0 379.4 184.0 385.4 179.2 389.6 173.2 391.7Z M171.7 392.9 164.9 391.8 161.4 390.0 158.8 387.9 154.8 382.2 153.6 378.4 153.2 374.9 154.0 368.4 156.8 362.9 165.2 352.8 167.4 351.3 170.2 350.6 172.7 351.0 175.2 352.4 184.2 361.7 187.6 367.4 188.8 373.7 187.8 380.7 186.3 383.9 184.1 386.9 181.7 389.2 178.4 391.3 174.9 392.5 171.7 392.9Z" stroke="#000" stroke-width="0.75" fill="none" stroke-linejoin="round"/>
<ellipse cx="170.60" cy="377.10" rx="1.2" ry="1.8" fill="#fff"/>
</g>
<line x1="179.80" y1="314.30" x2="179.80" y2="394.80" stroke="#555" stroke-width="0.85"/>
<line x1="149.80" y1="363.50" x2="238.70" y2="363.50" stroke="#555" stroke-width="0.85"/>
<rect x="149.80" y="314.30" width="88.90" height="80.50" fill="none" stroke="#8a8a8a" stroke-width="0.8"/>
<line x1="147.60" y1="322.90" x2="149.80" y2="322.90" stroke="#555" stroke-width="0.7"/>
<text x="147.20" y="324.80" font-size="5.6" fill="#333" text-anchor="end">10<tspan font-size="4.03" dy="-2.2">5</tspan></text>
<line x1="147.60" y1="341.80" x2="149.80" y2="341.80" stroke="#555" stroke-width="0.7"/>
<text x="147.20" y="343.70" font-size="5.6" fill="#333" text-anchor="end">10<tspan font-size="4.03" dy="-2.2">4</tspan></text>
<line x1="147.60" y1="364.40" x2="149.80" y2="364.40" stroke="#555" stroke-width="0.7"/>
<text x="147.20" y="366.30" font-size="5.6" fill="#333" text-anchor="end">10<tspan font-size="4.03" dy="-2.2">3</tspan></text>
<line x1="147.60" y1="377.30" x2="149.80" y2="377.30" stroke="#555" stroke-width="0.7"/>
<text x="145.60" y="379.20" font-size="5.6" fill="#333" text-anchor="end">0</text>
<line x1="147.60" y1="390.30" x2="149.80" y2="390.30" stroke="#555" stroke-width="0.7"/>
<text x="147.20" y="392.20" font-size="5.6" fill="#333" text-anchor="end">−10<tspan font-size="4.03" dy="-2.2">3</tspan></text>
<line x1="148.70" y1="328.57" x2="149.80" y2="328.57" stroke="#777" stroke-width="0.5"/>
<line x1="148.70" y1="332.35" x2="149.80" y2="332.35" stroke="#777" stroke-width="0.5"/>
<line x1="148.70" y1="336.13" x2="149.80" y2="336.13" stroke="#777" stroke-width="0.5"/>
<line x1="148.70" y1="348.58" x2="149.80" y2="348.58" stroke="#777" stroke-width="0.5"/>
<line x1="148.70" y1="353.10" x2="149.80" y2="353.10" stroke="#777" stroke-width="0.5"/>
<line x1="148.70" y1="357.62" x2="149.80" y2="357.62" stroke="#777" stroke-width="0.5"/>
<line x1="148.70" y1="368.27" x2="149.80" y2="368.27" stroke="#777" stroke-width="0.5"/>
<line x1="148.70" y1="370.85" x2="149.80" y2="370.85" stroke="#777" stroke-width="0.5"/>
<line x1="148.70" y1="373.43" x2="149.80" y2="373.43" stroke="#777" stroke-width="0.5"/>
<line x1="148.70" y1="381.20" x2="149.80" y2="381.20" stroke="#777" stroke-width="0.5"/>
<line x1="148.70" y1="383.80" x2="149.80" y2="383.80" stroke="#777" stroke-width="0.5"/>
<line x1="148.70" y1="386.40" x2="149.80" y2="386.40" stroke="#777" stroke-width="0.5"/>
<line x1="157.60" y1="394.80" x2="157.60" y2="397.00" stroke="#555" stroke-width="0.7"/>
<text x="157.80" y="405.40" font-size="5.6" fill="#333" text-anchor="middle">−10<tspan font-size="4.03" dy="-2.2">3</tspan></text>
<line x1="172.00" y1="394.80" x2="172.00" y2="397.00" stroke="#555" stroke-width="0.7"/>
<text x="172.00" y="405.40" font-size="5.6" fill="#333" text-anchor="middle">0</text>
<line x1="184.50" y1="394.80" x2="184.50" y2="397.00" stroke="#555" stroke-width="0.7"/>
<text x="184.70" y="405.40" font-size="5.6" fill="#333" text-anchor="middle">10<tspan font-size="4.03" dy="-2.2">3</tspan></text>
<line x1="211.50" y1="394.80" x2="211.50" y2="397.00" stroke="#555" stroke-width="0.7"/>
<text x="211.70" y="405.40" font-size="5.6" fill="#333" text-anchor="middle">10<tspan font-size="4.03" dy="-2.2">4</tspan></text>
<line x1="232.00" y1="394.80" x2="232.00" y2="397.00" stroke="#555" stroke-width="0.7"/>
<text x="232.20" y="405.40" font-size="5.6" fill="#333" text-anchor="middle">10<tspan font-size="4.03" dy="-2.2">5</tspan></text>
<line x1="161.92" y1="394.80" x2="161.92" y2="395.90" stroke="#777" stroke-width="0.5"/>
<line x1="164.80" y1="394.80" x2="164.80" y2="395.90" stroke="#777" stroke-width="0.5"/>
<line x1="167.68" y1="394.80" x2="167.68" y2="395.90" stroke="#777" stroke-width="0.5"/>
<line x1="175.75" y1="394.80" x2="175.75" y2="395.90" stroke="#777" stroke-width="0.5"/>
<line x1="178.25" y1="394.80" x2="178.25" y2="395.90" stroke="#777" stroke-width="0.5"/>
<line x1="180.75" y1="394.80" x2="180.75" y2="395.90" stroke="#777" stroke-width="0.5"/>
<line x1="192.60" y1="394.80" x2="192.60" y2="395.90" stroke="#777" stroke-width="0.5"/>
<line x1="198.00" y1="394.80" x2="198.00" y2="395.90" stroke="#777" stroke-width="0.5"/>
<line x1="203.40" y1="394.80" x2="203.40" y2="395.90" stroke="#777" stroke-width="0.5"/>
<line x1="217.65" y1="394.80" x2="217.65" y2="395.90" stroke="#777" stroke-width="0.5"/>
<line x1="221.75" y1="394.80" x2="221.75" y2="395.90" stroke="#777" stroke-width="0.5"/>
<line x1="225.85" y1="394.80" x2="225.85" y2="395.90" stroke="#777" stroke-width="0.5"/>
<rect x="148.20" y="375.70" width="1.4" height="3.2" fill="#000"/>
<rect x="169.60" y="395.10" width="4.8" height="1.4" fill="#000"/>
<text x="152.10" y="323.90" font-size="7.6" fill="#1a1a1a" font-weight="bold">7,79</text>
<text x="236.50" y="323.90" font-size="7.6" fill="#1a1a1a" font-weight="bold" text-anchor="end">3,15</text>
<text x="152.10" y="391.40" font-size="7.6" fill="#1a1a1a" font-weight="bold">78,7</text>
<text x="236.50" y="391.40" font-size="7.6" fill="#1a1a1a" font-weight="bold" text-anchor="end">10,4</text>
<clipPath id="c3"><rect x="36.60" y="414.30" width="88.90" height="80.50"/></clipPath>
<g clip-path="url(#c3)">
<path d="M95.9 455.9h0.75M57.8 462.0h0.75M82.6 463.5h0.75M89.1 448.5h0.75M88.1 433.0h0.75M56.3 440.8h0.75M63.0 435.7h0.75M103.2 441.7h0.75M79.4 437.0h0.75M90.4 480.4h0.75M42.8 456.9h0.75M102.6 443.8h0.75M67.9 429.5h0.75M56.9 459.8h0.75M100.9 468.5h0.75M71.3 462.4h0.75M77.0 435.2h0.75M54.4 443.5h0.75M66.2 475.8h0.75M70.6 430.9h0.75M72.9 433.8h0.75M70.3 432.5h0.75M83.6 466.0h0.75M66.2 439.4h0.75M44.3 429.9h0.75M57.3 478.3h0.75M54.3 440.8h0.75M89.6 479.0h0.75M79.5 462.7h0.75M79.8 430.4h0.75M43.2 471.9h0.75M66.1 454.3h0.75M64.8 447.9h0.75M84.7 448.6h0.75M59.3 427.0h0.75M63.9 438.0h0.75M63.5 454.7h0.75M68.4 431.0h0.75M95.2 447.5h0.75M60.2 436.0h0.75M87.4 439.2h0.75M61.6 478.5h0.75M90.1 426.6h0.75M65.1 450.1h0.75M61.1 466.7h0.75M57.3 441.0h0.75M62.5 477.0h0.75M84.2 425.6h0.75M75.2 432.0h0.75M84.6 482.5h0.75M107.4 439.4h0.75M77.6 471.4h0.75M80.2 433.0h0.75M83.0 470.4h0.75M63.5 442.7h0.75M78.4 458.6h0.75M65.6 448.8h0.75M104.3 442.0h0.75M60.6 445.0h0.75M54.8 467.4h0.75M51.4 466.1h0.75M50.3 439.1h0.75M91.1 440.5h0.75M59.5 469.5h0.75M67.7 427.2h0.75M60.8 472.2h0.75M64.7 452.6h0.75M83.9 441.5h0.75M44.6 416.0h0.75M65.3 422.1h0.75M71.5 425.0h0.75M49.1 461.4h0.75M81.0 436.8h0.75M79.5 449.0h0.75M55.0 473.2h0.75M69.3 450.8h0.75M98.4 474.4h0.75M66.9 464.6h0.75M93.6 464.8h0.75M78.9 426.2h0.75M61.5 459.0h0.75M77.4 478.6h0.75M121.5 425.9h0.75M69.9 469.2h0.75M72.8 444.8h0.75M97.5 478.7h0.75M78.7 434.2h0.75M83.9 447.0h0.75M92.9 460.6h0.75M75.7 444.0h0.75M55.3 467.4h0.75M85.0 464.0h0.75M67.6 461.9h0.75M84.2 452.6h0.75M92.8 456.8h0.75M73.9 438.1h0.75M81.7 471.6h0.75M91.1 439.4h0.75M70.2 417.9h0.75M74.9 420.2h0.75M80.3 473.7h0.75M66.0 467.9h0.75M74.0 455.4h0.75M64.0 427.7h0.75M84.5 440.2h0.75M55.8 448.5h0.75M65.3 462.9h0.75M83.9 425.8h0.75M77.8 449.8h0.75M56.7 430.0h0.75M62.7 431.3h0.75M112.1 440.3h0.75M65.4 420.9h0.75M46.2 442.4h0.75M74.4 473.1h0.75M117.2 471.1h0.75M58.5 457.4h0.75M73.1 426.8h0.75M54.6 468.6h0.75M76.9 451.4h0.75M59.4 424.8h0.75M57.3 459.4h0.75M83.8 447.1h0.75M54.9 464.7h0.75M61.4 463.0h0.75M39.3 437.8h0.75M67.3 448.3h0.75M102.8 437.6h0.75M63.8 437.6h0.75M72.6 451.6h0.75M101.1 443.5h0.75M72.7 437.0h0.75M93.1 428.2h0.75M67.3 444.7h0.75M67.3 450.9h0.75M78.3 445.8h0.75M95.0 435.0h0.75M58.5 424.9h0.75M66.0 453.3h0.75M66.8 435.5h0.75M80.8 473.0h0.75M68.9 437.4h0.75M92.1 430.3h0.75M57.0 447.0h0.75M96.2 451.1h0.75M91.3 467.5h0.75M82.3 442.5h0.75M62.7 484.2h0.75M54.8 458.0h0.75M60.3 467.0h0.75M71.5 485.3h0.75M73.7 427.3h0.75M60.3 445.3h0.75M90.9 428.4h0.75M80.7 445.9h0.75M71.0 457.5h0.75M75.8 472.7h0.75M61.5 473.9h0.75M81.5 433.6h0.75M51.3 455.4h0.75M63.6 458.6h0.75M75.4 468.7h0.75M52.0 444.2h0.75M69.2 445.1h0.75M61.0 461.5h0.75M71.4 462.1h0.75M76.4 448.4h0.75M88.5 430.1h0.75M61.3 456.6h0.75M47.9 418.4h0.75M92.6 440.3h0.75M83.8 461.4h0.75M55.1 461.3h0.75M82.3 483.7h0.75M80.8 428.5h0.75M87.7 430.4h0.75M82.2 418.6h0.75M74.2 442.2h0.75M70.0 436.4h0.75M87.3 437.3h0.75M103.4 466.5h0.75M76.5 435.0h0.75M86.4 433.3h0.75M98.4 435.8h0.75M76.6 446.9h0.75M62.2 477.1h0.75M46.2 460.8h0.75M67.1 462.5h0.75M95.1 446.9h0.75M79.6 431.1h0.75M70.8 455.6h0.75M93.7 486.2h0.75M82.2 427.9h0.75M56.3 466.3h0.75M76.3 448.9h0.75M80.3 438.5h0.75M71.1 436.2h0.75M95.2 433.8h0.75M78.7 461.0h0.75M90.7 421.9h0.75M70.6 446.2h0.75M99.6 434.8h0.75M93.1 417.2h0.75M90.1 439.9h0.75M62.4 419.1h0.75M53.3 458.8h0.75M86.7 471.3h0.75M91.6 478.4h0.75M60.0 433.0h0.75M53.1 469.5h0.75M76.4 482.0h0.75M80.7 460.3h0.75M81.7 470.0h0.75M77.8 438.3h0.75M88.4 448.0h0.75M67.1 434.9h0.75M67.3 441.2h0.75M68.8 465.7h0.75M77.0 434.3h0.75M49.7 451.1h0.75M72.5 484.7h0.75M78.6 450.9h0.75M78.6 417.7h0.75M75.7 473.8h0.75M82.9 437.9h0.75M92.2 470.8h0.75M73.7 452.6h0.75M52.2 425.1h0.75M68.7 429.3h0.75M68.2 434.3h0.75M69.0 436.0h0.75M87.1 436.8h0.75M80.7 427.1h0.75M45.2 450.4h0.75M91.7 440.2h0.75M93.9 446.3h0.75M94.4 428.4h0.75M96.5 478.5h0.75M107.7 442.3h0.75M83.3 435.1h0.75M83.7 449.7h0.75M75.3 436.0h0.75M92.6 429.9h0.75M60.3 479.9h0.75M71.4 444.8h0.75M71.3 435.4h0.75M87.2 480.0h0.75M52.9 440.3h0.75M99.9 438.3h0.75M68.2 467.2h0.75M89.3 433.8h0.75M80.1 451.0h0.75M83.9 463.9h0.75M78.5 454.9h0.75M66.9 455.2h0.75M59.9 443.6h0.75M99.9 428.3h0.75M63.8 447.3h0.75M57.0 449.4h0.75M56.5 431.4h0.75M56.4 450.1h0.75M93.1 436.9h0.75M82.6 437.0h0.75M61.1 457.2h0.75M55.9 452.2h0.75M60.3 426.6h0.75M70.4 438.5h0.75M73.7 455.2h0.75M76.2 432.9h0.75M86.9 481.6h0.75M80.6 467.9h0.75M51.8 452.2h0.75M71.2 458.1h0.75M68.2 453.5h0.75M77.7 474.4h0.75M94.3 438.0h0.75M56.8 423.3h0.75M85.7 477.3h0.75M95.4 480.8h0.75M72.2 442.8h0.75M59.3 451.7h0.75M72.1 470.3h0.75M52.8 441.8h0.75M66.6 453.0h0.75M97.3 454.9h0.75M61.5 469.2h0.75M69.7 436.0h0.75M91.6 439.7h0.75M81.6 450.3h0.75M59.3 432.6h0.75M52.6 453.8h0.75M70.4 434.6h0.75M82.8 475.8h0.75M82.8 463.3h0.75M55.8 467.2h0.75M76.3 427.2h0.75M47.2 458.7h0.75M86.7 448.6h0.75M74.7 450.0h0.75M74.3 434.4h0.75M71.3 441.7h0.75M93.3 436.3h0.75M72.2 421.6h0.75M83.7 465.6h0.75M76.2 430.4h0.75M71.7 464.6h0.75M85.0 445.8h0.75M78.8 439.7h0.75M76.2 435.3h0.75M65.9 479.8h0.75M88.8 486.5h0.75M70.6 437.7h0.75M71.1 472.3h0.75M77.2 443.1h0.75M76.9 442.7h0.75M53.1 462.7h0.75M74.8 432.3h0.75M82.9 473.8h0.75M59.8 421.8h0.75M61.1 453.9h0.75M68.5 439.6h0.75M61.3 468.3h0.75M42.1 454.1h0.75M93.4 424.4h0.75M65.5 471.9h0.75M71.7 471.7h0.75M38.2 438.2h0.75M57.8 447.5h0.75M83.4 437.9h0.75M102.9 436.0h0.75M61.1 455.7h0.75M94.0 425.8h0.75M63.4 444.2h0.75M59.8 448.1h0.75M86.2 450.2h0.75M85.0 477.3h0.75M60.6 462.6h0.75M73.5 453.3h0.75M48.8 478.2h0.75M79.8 480.0h0.75M83.8 475.1h0.75M76.6 456.9h0.75M66.4 439.1h0.75M66.8 421.5h0.75M70.7 470.0h0.75M55.1 435.3h0.75M68.9 439.2h0.75M54.3 450.4h0.75M65.8 470.3h0.75M58.9 455.9h0.75M92.1 442.2h0.75M77.8 449.9h0.75M65.6 471.7h0.75M73.6 431.9h0.75M82.0 437.2h0.75M113.1 443.1h0.75M84.2 453.0h0.75M71.2 429.4h0.75M81.0 444.1h0.75M71.0 439.7h0.75M73.0 440.5h0.75M56.8 417.6h0.75M52.6 458.0h0.75M97.8 466.5h0.75M73.2 480.6h0.75M79.6 454.5h0.75M77.9 417.5h0.75M68.1 427.2h0.75M42.5 444.0h0.75M69.5 433.8h0.75M52.5 460.3h0.75M63.8 457.1h0.75M84.3 447.3h0.75M55.9 427.9h0.75M82.5 422.1h0.75M76.9 472.5h0.75M105.4 472.7h0.75M71.5 447.3h0.75M81.7 433.5h0.75M72.0 441.8h0.75M84.1 470.4h0.75M92.5 455.8h0.75M60.8 432.5h0.75M74.9 436.8h0.75M73.4 440.6h0.75M66.8 457.4h0.75M46.0 470.3h0.75M40.3 451.4h0.75M69.1 445.6h0.75M96.4 455.2h0.75M77.3 460.2h0.75M70.2 447.0h0.75M86.3 474.6h0.75M79.8 437.7h0.75M75.6 416.7h0.75M84.0 439.3h0.75M107.0 443.3h0.75M79.4 444.9h0.75M87.1 436.0h0.75M54.0 433.7h0.75M83.0 488.6h0.75M52.5 426.8h0.75M90.5 471.5h0.75M84.3 417.7h0.75M70.3 441.2h0.75M65.5 458.3h0.75M66.2 441.6h0.75M61.8 426.9h0.75M44.6 474.3h0.75M76.6 469.9h0.75M47.8 447.1h0.75M84.9 419.7h0.75M39.3 477.3h0.75M65.3 454.5h0.75M75.9 439.5h0.75M94.7 475.2h0.75M89.6 463.1h0.75M75.4 445.7h0.75M48.6 426.6h0.75M91.1 430.0h0.75M96.2 431.3h0.75M72.4 433.6h0.75M45.5 447.9h0.75M50.9 451.3h0.75M98.9 437.3h0.75M92.1 473.1h0.75M67.7 458.0h0.75M72.3 451.2h0.75M87.0 460.6h0.75M81.0 439.8h0.75M83.2 436.1h0.75M97.2 457.3h0.75M70.1 417.1h0.75M63.2 428.1h0.75M56.8 453.4h0.75M93.5 431.9h0.75M77.9 437.3h0.75M66.1 433.0h0.75M91.5 452.8h0.75M69.9 443.0h0.75M92.9 432.9h0.75M75.6 430.1h0.75M54.3 468.1h0.75M68.4 438.5h0.75M79.7 480.0h0.75M62.9 418.5h0.75M41.7 463.4h0.75M94.3 471.3h0.75M51.2 452.7h0.75M86.2 424.0h0.75M54.6 435.2h0.75M96.2 471.3h0.75M81.0 429.3h0.75M91.2 419.0h0.75M80.5 461.9h0.75M56.5 441.0h0.75M90.3 468.0h0.75M51.1 461.0h0.75M77.5 430.8h0.75M51.1 464.7h0.75M46.9 450.7h0.75M74.4 439.1h0.75M55.9 484.0h0.75M60.2 476.0h0.75M77.6 447.0h0.75M55.3 448.1h0.75M58.7 442.8h0.75M64.3 454.2h0.75M72.3 459.0h0.75M79.4 428.4h0.75M57.7 447.1h0.75M89.2 444.2h0.75M64.3 454.5h0.75M62.8 460.8h0.75M81.7 428.1h0.75M49.4 437.8h0.75M83.1 457.1h0.75M76.0 449.2h0.75M53.8 467.6h0.75M100.1 417.8h0.75M64.1 474.7h0.75M68.4 441.5h0.75M89.9 463.0h0.75M90.0 453.6h0.75M91.8 427.4h0.75M76.4 430.9h0.75M100.5 434.3h0.75M68.9 436.7h0.75M85.8 432.5h0.75M80.1 436.3h0.75M67.5 468.0h0.75M62.0 447.9h0.75M84.4 427.5h0.75M71.6 459.3h0.75M61.7 420.6h0.75M112.0 451.0h0.75M96.6 437.8h0.75M88.3 465.1h0.75M73.7 478.6h0.75M87.5 438.1h0.75M84.1 426.9h0.75M89.9 454.1h0.75M105.0 444.8h0.75M67.4 415.9h0.75M80.9 442.0h0.75M47.4 478.7h0.75M62.7 448.8h0.75M60.0 435.8h0.75M57.1 464.5h0.75M94.4 437.4h0.75M88.1 487.3h0.75M88.4 434.5h0.75M88.4 431.9h0.75M86.0 437.6h0.75M64.3 443.1h0.75M83.6 479.0h0.75M61.1 448.2h0.75M95.8 433.6h0.75M78.3 437.5h0.75M59.2 467.0h0.75M69.6 425.5h0.75M76.1 455.9h0.75M77.7 458.0h0.75M66.5 438.5h0.75M73.3 444.7h0.75M81.7 438.9h0.75M64.7 456.9h0.75M71.7 464.5h0.75M70.6 461.0h0.75M42.7 436.4h0.75M93.7 438.6h0.75M75.7 438.7h0.75M88.7 432.4h0.75M70.2 426.2h0.75M48.7 443.6h0.75M95.1 439.4h0.75M86.7 431.0h0.75M93.7 421.0h0.75M85.7 443.5h0.75M52.0 440.3h0.75M88.2 461.1h0.75M48.2 454.3h0.75M63.3 435.2h0.75M107.3 432.2h0.75M69.8 439.9h0.75M82.9 466.3h0.75M56.9 465.2h0.75M84.6 452.8h0.75M74.5 459.5h0.75M89.2 431.8h0.75M73.4 467.1h0.75M49.6 454.4h0.75M46.1 454.6h0.75M81.3 454.6h0.75M102.5 475.6h0.75M75.8 476.8h0.75M90.3 434.5h0.75M48.6 429.5h0.75M78.3 455.7h0.75M56.4 460.0h0.75M63.2 461.4h0.75M89.7 416.5h0.75M80.1 474.1h0.75M57.8 471.6h0.75M77.4 480.7h0.75M103.1 466.6h0.75M79.4 433.7h0.75M89.8 415.2h0.75M64.4 466.2h0.75M91.3 442.6h0.75M67.7 452.7h0.75M83.4 462.3h0.75M88.5 485.5h0.75M78.3 421.5h0.75M71.5 437.7h0.75M92.4 426.7h0.75M82.9 424.9h0.75M80.3 423.4h0.75M53.6 433.6h0.75M47.4 432.7h0.75M51.7 449.0h0.75M96.3 475.7h0.75M54.9 475.6h0.75M55.8 461.0h0.75M72.9 458.2h0.75M100.1 435.4h0.75M57.5 457.0h0.75M63.3 426.2h0.75M68.7 431.0h0.75M95.3 439.7h0.75M96.1 444.6h0.75M88.0 454.4h0.75M58.5 453.8h0.75M95.4 430.4h0.75M73.1 465.0h0.75M53.4 437.4h0.75M51.2 455.8h0.75M58.6 424.9h0.75M69.8 461.8h0.75M84.9 471.1h0.75M73.5 427.7h0.75M69.0 442.8h0.75M72.2 471.6h0.75M58.8 423.5h0.75M86.4 435.3h0.75M82.4 436.3h0.75M82.1 438.0h0.75M82.7 438.0h0.75M79.7 442.6h0.75M63.5 489.0h0.75M84.0 463.9h0.75M71.1 440.9h0.75M83.9 473.2h0.75M76.9 435.3h0.75M91.6 486.6h0.75M63.7 453.9h0.75M45.6 439.1h0.75M83.0 467.2h0.75M81.2 456.7h0.75M77.7 417.4h0.75M67.9 460.4h0.75M87.6 430.6h0.75M47.8 458.6h0.75M77.7 445.9h0.75M83.6 438.7h0.75M76.3 443.1h0.75M50.0 433.1h0.75M91.5 431.6h0.75M59.3 463.2h0.75M63.9 448.6h0.75M61.1 475.0h0.75M54.2 441.8h0.75M57.0 430.5h0.75M63.5 470.8h0.75M64.4 461.2h0.75M95.4 440.0h0.75M74.0 450.7h0.75M55.0 433.5h0.75M79.8 433.1h0.75M89.7 419.5h0.75" stroke="#b0b0b0" stroke-width="0.75" fill="none"/>
<ellipse cx="55.90" cy="465.90" rx="13.0" ry="13.0" fill="#111" transform="rotate(0 55.90 465.90)"/>
<path d="M56.0 466.5 55.3 465.9 55.7 465.3 56.5 465.7 56.0 466.5Z M56.5 467.5 55.2 467.4 54.4 466.4 54.4 465.2 55.5 464.3 56.7 464.5 57.5 465.4 57.3 466.7 56.5 467.5Z M56.7 468.5 54.7 468.4 53.3 466.7 53.5 464.7 55.2 463.3 57.2 463.5 58.5 465.2 58.3 467.2 56.7 468.5Z M56.2 469.7 53.5 468.8 52.2 466.2 53.1 463.4 55.7 462.1 58.5 463.2 59.6 465.7 58.7 468.4 56.2 469.7Z M56.7 470.7 54.7 470.6 53.2 469.9 51.9 468.4 51.2 466.7 51.3 464.7 52.2 462.9 53.5 461.7 55.2 461.1 57.2 461.2 58.7 462.0 60.0 463.4 60.6 465.2 59.8 468.7 58.5 470.0 56.7 470.7Z M57.0 471.7 55.0 471.7 52.7 470.8 51.1 469.2 50.2 466.9 50.3 464.4 51.2 462.4 53.0 460.8 55.0 460.1 57.2 460.1 59.2 461.1 60.9 462.9 61.6 464.9 61.5 467.2 60.7 469.2 59.0 470.9 57.0 471.7Z M57.5 472.7 54.7 472.8 52.2 471.8 50.4 469.9 49.3 467.4 49.2 464.7 50.2 462.2 52.0 460.2 54.5 459.1 57.0 459.0 59.5 460.0 61.5 461.9 62.5 464.4 62.6 467.2 61.6 469.7 59.7 471.7 57.5 472.7Z M56.2 473.9 53.5 473.5 50.7 471.9 48.9 469.4 48.1 466.2 48.6 463.2 50.2 460.4 52.7 458.6 55.7 457.9 58.5 458.3 61.2 460.0 63.1 462.7 63.7 465.7 63.1 468.9 61.6 471.4 59.0 473.3 56.2 473.9Z M58.5 437.9 57.7 437.9 57.3 436.9 57.4 435.9 58.0 435.6 59.1 436.2 58.5 437.9Z M57.0 474.9 53.5 474.6 50.5 473.1 48.1 470.2 47.1 466.9 47.4 463.4 49.0 460.2 51.7 457.9 55.0 456.8 58.2 457.1 61.5 458.8 63.6 461.4 64.7 464.7 64.4 468.4 62.9 471.4 60.2 473.8 57.0 474.9Z M58.7 441.0 57.0 440.5 55.9 437.7 56.0 435.4 57.7 434.4 59.7 434.7 60.8 436.2 60.3 439.2 58.7 441.0Z M57.5 475.9 53.5 475.8 50.0 474.0 47.3 470.9 46.1 467.4 46.3 463.4 47.9 459.9 50.7 457.2 54.5 455.8 58.2 456.0 61.7 457.7 64.4 460.7 65.6 464.2 65.5 468.2 63.8 471.9 61.0 474.6 57.5 475.9Z M58.2 444.2 56.7 443.6 55.6 442.2 54.3 436.7 55.2 434.2 58.0 433.1 61.0 433.9 62.5 436.2 61.3 441.7 60.0 443.4 58.2 444.2Z M57.7 477.0 53.5 476.8 49.5 475.0 46.6 471.7 45.1 467.7 45.3 463.2 47.2 459.2 50.2 456.3 54.2 454.8 58.5 455.0 62.2 456.7 65.1 459.9 66.6 463.9 66.6 468.2 64.8 472.4 61.7 475.4 57.7 477.0Z M58.7 447.2 56.7 446.9 54.9 444.9 53.6 441.9 52.9 437.7 52.9 435.4 53.9 433.7 55.5 432.5 57.7 431.9 60.0 432.1 62.2 433.0 63.6 434.4 64.2 436.2 63.8 440.2 62.6 443.7 61.0 446.0 58.7 447.2Z M56.0 478.2 51.5 477.3 47.5 474.6 44.8 470.4 44.0 465.7 45.1 460.7 47.7 457.0 51.7 454.4 56.2 453.5 60.7 454.6 64.5 457.3 66.9 461.2 67.8 465.9 66.9 470.7 64.2 474.7 60.5 477.2 56.0 478.2Z M57.7 450.9 55.2 449.1 53.1 445.7 51.8 441.4 51.4 436.2 52.0 433.9 53.5 432.2 55.7 431.0 58.5 430.7 61.7 431.3 64.1 432.7 65.6 434.7 65.9 437.2 65.1 442.4 63.3 446.7 60.7 449.6 57.7 450.9Z M57.0 479.2 51.7 478.5 47.0 475.6 43.9 470.9 42.9 465.7 44.1 460.4 47.0 456.2 51.0 453.5 57.5 451.5 62.2 454.0 65.9 457.4 68.1 461.4 68.9 466.2 67.9 470.9 65.4 474.9 61.7 477.8 57.0 479.2Z M57.7 480.2 52.0 479.7 46.6 476.7 43.1 471.7 41.9 465.7 42.6 461.4 44.6 457.4 47.2 454.6 52.7 450.7 50.2 440.7 49.9 436.2 50.4 433.9 51.5 432.2 53.5 430.6 58.2 429.4 61.2 429.8 64.0 430.9 66.2 432.7 67.3 434.7 67.6 438.2 66.8 443.2 63.1 451.9 68.4 459.4 69.5 462.7 69.9 465.9 68.9 471.2 66.4 475.4 62.5 478.6 57.7 480.2Z M58.0 481.2 51.7 480.8 48.7 479.5 46.0 477.5 43.9 475.2 42.2 472.2 40.9 465.9 41.4 461.9 43.2 457.7 45.3 454.9 50.4 450.2 48.6 439.7 48.4 435.9 49.1 433.4 50.6 431.2 52.7 429.5 55.2 428.5 58.2 428.2 61.7 428.6 65.2 430.0 67.6 431.9 69.0 434.4 69.3 437.4 68.8 442.4 65.7 452.4 69.9 460.2 70.9 465.9 69.9 471.4 67.1 476.2 63.0 479.5 58.0 481.2Z M58.5 482.2 55.0 482.4 51.5 481.8 48.5 480.6 45.5 478.5 43.1 475.9 41.4 472.9 40.3 469.7 39.8 466.2 40.3 461.9 41.8 457.9 48.4 449.9 47.0 438.4 47.0 435.2 47.7 432.9 49.4 430.4 51.7 428.6 54.7 427.4 58.0 426.9 62.0 427.4 66.0 428.9 68.9 431.2 70.6 433.9 71.0 436.4 70.6 442.2 67.9 452.9 71.1 460.4 72.0 465.7 71.0 471.4 68.1 476.7 63.7 480.3 58.5 482.2Z M57.2 483.4 53.7 483.3 50.2 482.5 47.2 481.1 44.2 478.7 41.9 475.9 40.1 472.7 39.1 469.2 38.8 465.4 39.3 461.7 40.7 457.9 46.6 449.7 45.5 437.2 46.4 432.4 48.5 429.5 51.5 427.3 55.0 426.0 58.7 425.7 63.0 426.3 67.2 428.0 70.3 430.4 72.3 433.7 72.7 436.2 72.4 441.9 69.9 453.4 72.4 461.2 73.0 466.2 71.7 472.7 68.4 477.9 63.2 481.8 57.2 483.4Z" stroke="#000" stroke-width="0.75" fill="none" stroke-linejoin="round"/>
<ellipse cx="55.10" cy="464.30" rx="1.4" ry="1.0" fill="#fff"/>
<ellipse cx="55.40" cy="435.30" rx="2.5" ry="3.8" fill="#fff"/>
</g>
<line x1="66.30" y1="414.30" x2="66.30" y2="494.80" stroke="#555" stroke-width="0.85"/>
<line x1="36.60" y1="445.30" x2="125.50" y2="445.30" stroke="#555" stroke-width="0.85"/>
<rect x="36.60" y="414.30" width="88.90" height="80.50" fill="none" stroke="#8a8a8a" stroke-width="0.8"/>
<line x1="34.40" y1="422.90" x2="36.60" y2="422.90" stroke="#555" stroke-width="0.7"/>
<text x="34.00" y="424.80" font-size="5.6" fill="#333" text-anchor="end">10<tspan font-size="4.03" dy="-2.2">5</tspan></text>
<line x1="34.40" y1="441.80" x2="36.60" y2="441.80" stroke="#555" stroke-width="0.7"/>
<text x="34.00" y="443.70" font-size="5.6" fill="#333" text-anchor="end">10<tspan font-size="4.03" dy="-2.2">4</tspan></text>
<line x1="34.40" y1="464.40" x2="36.60" y2="464.40" stroke="#555" stroke-width="0.7"/>
<text x="34.00" y="466.30" font-size="5.6" fill="#333" text-anchor="end">10<tspan font-size="4.03" dy="-2.2">3</tspan></text>
<line x1="34.40" y1="477.30" x2="36.60" y2="477.30" stroke="#555" stroke-width="0.7"/>
<text x="32.40" y="479.20" font-size="5.6" fill="#333" text-anchor="end">0</text>
<line x1="34.40" y1="490.30" x2="36.60" y2="490.30" stroke="#555" stroke-width="0.7"/>
<text x="34.00" y="492.20" font-size="5.6" fill="#333" text-anchor="end">−10<tspan font-size="4.03" dy="-2.2">3</tspan></text>
<line x1="35.50" y1="428.57" x2="36.60" y2="428.57" stroke="#777" stroke-width="0.5"/>
<line x1="35.50" y1="432.35" x2="36.60" y2="432.35" stroke="#777" stroke-width="0.5"/>
<line x1="35.50" y1="436.13" x2="36.60" y2="436.13" stroke="#777" stroke-width="0.5"/>
<line x1="35.50" y1="448.58" x2="36.60" y2="448.58" stroke="#777" stroke-width="0.5"/>
<line x1="35.50" y1="453.10" x2="36.60" y2="453.10" stroke="#777" stroke-width="0.5"/>
<line x1="35.50" y1="457.62" x2="36.60" y2="457.62" stroke="#777" stroke-width="0.5"/>
<line x1="35.50" y1="468.27" x2="36.60" y2="468.27" stroke="#777" stroke-width="0.5"/>
<line x1="35.50" y1="470.85" x2="36.60" y2="470.85" stroke="#777" stroke-width="0.5"/>
<line x1="35.50" y1="473.43" x2="36.60" y2="473.43" stroke="#777" stroke-width="0.5"/>
<line x1="35.50" y1="481.20" x2="36.60" y2="481.20" stroke="#777" stroke-width="0.5"/>
<line x1="35.50" y1="483.80" x2="36.60" y2="483.80" stroke="#777" stroke-width="0.5"/>
<line x1="35.50" y1="486.40" x2="36.60" y2="486.40" stroke="#777" stroke-width="0.5"/>
<line x1="44.40" y1="494.80" x2="44.40" y2="497.00" stroke="#555" stroke-width="0.7"/>
<text x="44.60" y="505.40" font-size="5.6" fill="#333" text-anchor="middle">−10<tspan font-size="4.03" dy="-2.2">3</tspan></text>
<line x1="58.80" y1="494.80" x2="58.80" y2="497.00" stroke="#555" stroke-width="0.7"/>
<text x="58.80" y="505.40" font-size="5.6" fill="#333" text-anchor="middle">0</text>
<line x1="71.30" y1="494.80" x2="71.30" y2="497.00" stroke="#555" stroke-width="0.7"/>
<text x="71.50" y="505.40" font-size="5.6" fill="#333" text-anchor="middle">10<tspan font-size="4.03" dy="-2.2">3</tspan></text>
<line x1="98.30" y1="494.80" x2="98.30" y2="497.00" stroke="#555" stroke-width="0.7"/>
<text x="98.50" y="505.40" font-size="5.6" fill="#333" text-anchor="middle">10<tspan font-size="4.03" dy="-2.2">4</tspan></text>
<line x1="118.80" y1="494.80" x2="118.80" y2="497.00" stroke="#555" stroke-width="0.7"/>
<text x="119.00" y="505.40" font-size="5.6" fill="#333" text-anchor="middle">10<tspan font-size="4.03" dy="-2.2">5</tspan></text>
<line x1="48.72" y1="494.80" x2="48.72" y2="495.90" stroke="#777" stroke-width="0.5"/>
<line x1="51.60" y1="494.80" x2="51.60" y2="495.90" stroke="#777" stroke-width="0.5"/>
<line x1="54.48" y1="494.80" x2="54.48" y2="495.90" stroke="#777" stroke-width="0.5"/>
<line x1="62.55" y1="494.80" x2="62.55" y2="495.90" stroke="#777" stroke-width="0.5"/>
<line x1="65.05" y1="494.80" x2="65.05" y2="495.90" stroke="#777" stroke-width="0.5"/>
<line x1="67.55" y1="494.80" x2="67.55" y2="495.90" stroke="#777" stroke-width="0.5"/>
<line x1="79.40" y1="494.80" x2="79.40" y2="495.90" stroke="#777" stroke-width="0.5"/>
<line x1="84.80" y1="494.80" x2="84.80" y2="495.90" stroke="#777" stroke-width="0.5"/>
<line x1="90.20" y1="494.80" x2="90.20" y2="495.90" stroke="#777" stroke-width="0.5"/>
<line x1="104.45" y1="494.80" x2="104.45" y2="495.90" stroke="#777" stroke-width="0.5"/>
<line x1="108.55" y1="494.80" x2="108.55" y2="495.90" stroke="#777" stroke-width="0.5"/>
<line x1="112.65" y1="494.80" x2="112.65" y2="495.90" stroke="#777" stroke-width="0.5"/>
<rect x="35.00" y="475.70" width="1.4" height="3.2" fill="#000"/>
<rect x="56.40" y="495.10" width="4.8" height="1.4" fill="#000"/>
<text x="38.90" y="423.90" font-size="7.6" fill="#1a1a1a" font-weight="bold">12,3</text>
<text x="123.30" y="423.90" font-size="7.6" fill="#1a1a1a" font-weight="bold" text-anchor="end">5,20</text>
<text x="38.90" y="491.40" font-size="7.6" fill="#1a1a1a" font-weight="bold">74,9</text>
<text x="123.30" y="491.40" font-size="7.6" fill="#1a1a1a" font-weight="bold" text-anchor="end">7,63</text>
<clipPath id="c4"><rect x="149.80" y="414.30" width="88.90" height="80.50"/></clipPath>
<g clip-path="url(#c4)">
<path d="M194.1 431.9h0.75M172.7 436.0h0.75M171.0 440.6h0.75M172.4 433.1h0.75M188.3 473.1h0.75M187.7 443.1h0.75M207.2 441.0h0.75M183.1 429.6h0.75M192.9 442.5h0.75M172.4 439.7h0.75M185.4 430.9h0.75M182.5 440.3h0.75M153.8 434.2h0.75M201.7 464.2h0.75M195.8 440.9h0.75M203.0 442.4h0.75M164.0 442.1h0.75M188.1 427.2h0.75M179.6 424.4h0.75M185.8 444.2h0.75M163.8 435.9h0.75M169.2 420.7h0.75M163.6 429.8h0.75M182.1 448.8h0.75M189.0 427.9h0.75M153.9 430.1h0.75M203.5 431.8h0.75M177.4 438.5h0.75M163.3 423.1h0.75M195.0 415.3h0.75M175.3 420.5h0.75M178.5 429.3h0.75M188.2 448.2h0.75M158.2 434.2h0.75M185.7 441.8h0.75M196.5 466.7h0.75M171.5 429.3h0.75M195.4 461.5h0.75M170.7 435.8h0.75M154.4 421.4h0.75M191.8 435.6h0.75M191.7 448.9h0.75M190.4 445.2h0.75M189.7 463.4h0.75M179.3 419.8h0.75M190.8 437.3h0.75M172.6 440.8h0.75M164.4 439.1h0.75M192.9 422.3h0.75M187.8 439.2h0.75M181.7 474.4h0.75M166.2 442.8h0.75M185.5 417.9h0.75M175.1 443.1h0.75M167.5 439.8h0.75M188.6 428.8h0.75M179.1 431.4h0.75M162.6 439.4h0.75M192.5 449.1h0.75M193.1 446.7h0.75M195.5 415.9h0.75M185.8 432.4h0.75M199.5 423.7h0.75M171.9 429.8h0.75M196.2 460.7h0.75M199.1 468.2h0.75M193.2 430.2h0.75M168.0 439.4h0.75M190.1 421.6h0.75M187.9 441.1h0.75M182.2 443.6h0.75M159.1 442.0h0.75M152.2 427.2h0.75M180.9 454.5h0.75M177.4 437.6h0.75M183.0 451.2h0.75M187.1 442.0h0.75M200.9 461.4h0.75M176.2 415.8h0.75M194.4 439.9h0.75M195.2 464.2h0.75M162.6 442.0h0.75M165.6 442.8h0.75M173.4 435.6h0.75M164.5 426.7h0.75M173.9 417.9h0.75M200.7 458.8h0.75M194.6 452.7h0.75M175.1 432.0h0.75M197.8 476.8h0.75M164.1 435.7h0.75M172.8 450.6h0.75M175.8 443.8h0.75M189.9 422.2h0.75M166.5 427.3h0.75M201.2 455.2h0.75M181.4 429.6h0.75M177.6 415.9h0.75M161.8 436.5h0.75M160.1 417.6h0.75M190.4 446.1h0.75M170.3 432.4h0.75M194.7 431.6h0.75M180.4 446.8h0.75M156.2 446.2h0.75M197.7 440.2h0.75M197.1 479.0h0.75M191.4 452.6h0.75M187.9 478.2h0.75M152.0 444.8h0.75M198.2 448.7h0.75M160.6 450.8h0.75M203.2 467.0h0.75M174.9 441.0h0.75M181.1 418.3h0.75M182.6 465.1h0.75M154.2 431.0h0.75M172.3 445.0h0.75M179.2 424.8h0.75M199.8 439.7h0.75M203.5 422.5h0.75M188.7 447.5h0.75M171.2 421.9h0.75M181.3 445.5h0.75M179.5 438.6h0.75M197.3 418.1h0.75M183.2 474.6h0.75M194.8 439.1h0.75M179.6 424.6h0.75M182.9 446.1h0.75M176.4 437.8h0.75M203.5 478.2h0.75M184.0 434.0h0.75M174.8 422.2h0.75M151.8 426.7h0.75M182.9 446.1h0.75M194.9 422.1h0.75M170.0 453.7h0.75M189.8 448.1h0.75M179.6 436.6h0.75M189.0 421.2h0.75M168.9 416.6h0.75M164.2 447.6h0.75M171.0 434.2h0.75M178.2 438.7h0.75M183.6 416.9h0.75M202.1 463.7h0.75M157.1 439.6h0.75M174.4 433.0h0.75M198.0 419.3h0.75M170.4 427.9h0.75M180.7 439.0h0.75M188.9 457.1h0.75M188.7 449.2h0.75M182.8 428.3h0.75M193.4 470.1h0.75M190.6 452.8h0.75M191.4 424.0h0.75M167.6 437.5h0.75M194.5 452.2h0.75M200.0 474.1h0.75M192.6 462.1h0.75M172.8 425.4h0.75M174.0 446.2h0.75M197.2 466.0h0.75M160.4 424.8h0.75M182.1 431.7h0.75M174.9 439.9h0.75M196.3 448.6h0.75M159.3 432.2h0.75M175.8 443.2h0.75M162.6 426.8h0.75M182.5 442.0h0.75M194.9 433.1h0.75M179.5 436.1h0.75M173.4 439.9h0.75M179.4 435.7h0.75M183.7 430.8h0.75M173.7 435.2h0.75M170.4 420.9h0.75M164.2 436.1h0.75M193.5 451.7h0.75M169.7 430.8h0.75M173.4 421.0h0.75M167.7 423.3h0.75M170.4 426.6h0.75M165.1 455.1h0.75M181.8 461.5h0.75M191.8 434.0h0.75M181.0 435.7h0.75M172.2 465.0h0.75M183.5 420.1h0.75M165.1 433.6h0.75M171.7 435.4h0.75M192.9 462.4h0.75M193.5 447.0h0.75M161.8 434.1h0.75M181.7 426.2h0.75M175.1 431.7h0.75M185.6 433.8h0.75M174.3 420.9h0.75M178.7 444.1h0.75M162.2 448.1h0.75M180.7 425.6h0.75M208.9 447.3h0.75M184.6 469.4h0.75M176.3 421.8h0.75M193.3 429.3h0.75M168.7 447.1h0.75M184.5 437.0h0.75M198.2 425.5h0.75M181.9 435.0h0.75M179.0 419.8h0.75M185.6 438.3h0.75M157.4 434.7h0.75M176.0 447.7h0.75M179.2 446.6h0.75M188.2 445.0h0.75M189.4 480.2h0.75M163.3 429.1h0.75M170.3 443.3h0.75M193.5 448.7h0.75M190.4 448.9h0.75M200.6 448.0h0.75M176.7 418.4h0.75M176.9 446.4h0.75M168.0 445.9h0.75M159.8 440.3h0.75M161.1 423.9h0.75M206.1 419.1h0.75M175.5 446.5h0.75M187.0 425.6h0.75M188.0 458.7h0.75M181.2 439.1h0.75M189.5 473.9h0.75M184.2 436.5h0.75M196.2 456.7h0.75M202.9 437.2h0.75M161.5 454.1h0.75M190.0 439.5h0.75M203.7 466.5h0.75M184.4 431.4h0.75M172.2 432.5h0.75M213.2 419.2h0.75M167.9 424.8h0.75M161.9 420.3h0.75M180.9 450.9h0.75M205.8 428.5h0.75M176.3 430.5h0.75M187.7 433.4h0.75M168.3 440.9h0.75M194.1 420.5h0.75M199.9 470.8h0.75M176.8 422.4h0.75M197.1 428.9h0.75M164.7 434.4h0.75M164.6 438.3h0.75M173.0 444.4h0.75M156.0 437.9h0.75M186.5 461.4h0.75M205.7 431.2h0.75M179.1 461.5h0.75M192.6 422.9h0.75M170.0 447.9h0.75M171.9 419.8h0.75M157.7 429.8h0.75M159.7 433.0h0.75M185.8 438.1h0.75M171.3 451.5h0.75M159.1 435.9h0.75M188.5 424.9h0.75M178.6 453.9h0.75M177.2 465.1h0.75M167.6 432.8h0.75M187.8 432.6h0.75M196.5 433.5h0.75M173.2 426.5h0.75M156.7 434.9h0.75M175.6 441.3h0.75M190.4 426.8h0.75M169.7 430.9h0.75M155.4 437.4h0.75M167.3 421.6h0.75M165.9 440.3h0.75M165.2 439.8h0.75M202.0 440.3h0.75M158.0 428.3h0.75M188.9 426.2h0.75M177.6 420.2h0.75M197.4 434.1h0.75M166.6 441.4h0.75M189.9 434.0h0.75M191.9 426.7h0.75M185.0 446.9h0.75M176.3 422.0h0.75M206.0 431.3h0.75M152.1 441.9h0.75M176.8 437.6h0.75M178.9 450.6h0.75M195.5 440.5h0.75M192.3 440.8h0.75M214.3 430.3h0.75M192.9 475.7h0.75M178.6 426.0h0.75M168.9 430.5h0.75M175.6 462.7h0.75M200.7 440.1h0.75M182.4 439.5h0.75M162.3 440.5h0.75M151.1 448.4h0.75M185.9 456.4h0.75M154.9 423.8h0.75M185.1 433.2h0.75M172.3 421.0h0.75M175.0 425.2h0.75M179.3 452.2h0.75M153.4 429.9h0.75M188.8 446.1h0.75M154.8 438.4h0.75M193.4 475.1h0.75M164.4 427.3h0.75M198.1 417.2h0.75M176.1 448.0h0.75M190.8 448.7h0.75M187.4 434.1h0.75M176.1 424.7h0.75M168.9 446.5h0.75M173.1 420.3h0.75M194.2 455.6h0.75M193.4 436.5h0.75M211.2 421.7h0.75M192.4 430.8h0.75M209.9 441.6h0.75M156.4 439.0h0.75M187.9 424.6h0.75M194.0 437.7h0.75M176.5 430.5h0.75M202.2 448.0h0.75M188.0 431.7h0.75M192.6 434.6h0.75M156.1 441.0h0.75M160.6 450.1h0.75M195.4 471.3h0.75M166.0 435.9h0.75M163.1 429.7h0.75M178.1 453.2h0.75M177.2 456.5h0.75M197.9 425.2h0.75M184.2 438.8h0.75M180.9 439.3h0.75M166.1 425.9h0.75M169.1 437.3h0.75M166.2 433.9h0.75M178.5 433.0h0.75M185.6 420.8h0.75M189.1 430.7h0.75M187.6 472.3h0.75M179.4 434.8h0.75M183.5 438.1h0.75M193.4 439.4h0.75M154.2 437.9h0.75M158.8 437.8h0.75M174.4 436.1h0.75M183.1 434.5h0.75M173.4 424.6h0.75M168.7 431.9h0.75M170.5 432.4h0.75M192.7 448.5h0.75M177.9 442.2h0.75M187.9 430.2h0.75M210.8 441.6h0.75M188.0 433.7h0.75M180.2 443.6h0.75M178.8 421.2h0.75M216.1 440.3h0.75M186.5 440.2h0.75M170.8 453.3h0.75M186.3 467.5h0.75M192.3 415.8h0.75M166.7 448.6h0.75M181.8 439.9h0.75M181.5 452.3h0.75M182.1 475.3h0.75M198.0 443.6h0.75M181.2 443.3h0.75M179.9 443.0h0.75M184.0 441.2h0.75M186.5 480.0h0.75M181.0 440.7h0.75M163.4 440.0h0.75M158.8 425.8h0.75M174.1 473.9h0.75M165.4 445.3h0.75M203.2 449.6h0.75M186.4 454.8h0.75M203.7 422.4h0.75M175.0 426.7h0.75M169.5 448.6h0.75M194.4 456.5h0.75M197.8 446.5h0.75M189.2 449.1h0.75M199.8 454.0h0.75M204.4 421.4h0.75M159.8 436.6h0.75M203.1 428.9h0.75M152.9 434.9h0.75M164.5 451.6h0.75M165.1 447.2h0.75M179.6 434.3h0.75M194.3 465.3h0.75M177.4 437.3h0.75M182.6 481.7h0.75M193.8 427.0h0.75M196.0 435.6h0.75M166.0 428.2h0.75M154.3 425.4h0.75M175.9 438.3h0.75M188.1 423.8h0.75M161.9 452.2h0.75M161.0 444.3h0.75M174.4 440.5h0.75M185.4 434.4h0.75M169.8 423.1h0.75M204.1 456.8h0.75M192.2 482.5h0.75M206.7 429.9h0.75M176.1 446.3h0.75M195.8 462.1h0.75M198.3 456.1h0.75M188.6 456.4h0.75M178.1 420.4h0.75M196.1 444.8h0.75M169.9 444.9h0.75M196.7 436.0h0.75M189.4 418.7h0.75M181.7 434.8h0.75M168.3 474.7h0.75M193.3 464.8h0.75M192.8 438.6h0.75M165.6 452.3h0.75M189.4 428.1h0.75M167.2 435.8h0.75M201.3 453.2h0.75M157.9 449.6h0.75M184.3 432.4h0.75M162.4 457.6h0.75M177.7 433.3h0.75M189.3 475.4h0.75M194.3 437.6h0.75M172.6 436.3h0.75M180.7 427.7h0.75M214.3 466.9h0.75M183.7 466.6h0.75M172.2 435.9h0.75M182.9 425.9h0.75M200.2 441.3h0.75M160.4 428.7h0.75M174.8 460.9h0.75M169.7 433.8h0.75M176.4 421.6h0.75M189.9 446.3h0.75M175.4 439.3h0.75M157.6 435.9h0.75M206.9 470.1h0.75M202.1 431.3h0.75M166.3 433.8h0.75M195.0 420.9h0.75M188.9 448.9h0.75M186.7 434.3h0.75M181.3 444.6h0.75M193.3 462.8h0.75M186.6 457.7h0.75M169.9 423.4h0.75M182.8 438.2h0.75M162.4 418.1h0.75M200.4 458.4h0.75M189.6 438.7h0.75M168.0 433.6h0.75M188.3 432.4h0.75M190.0 464.2h0.75M207.5 472.7h0.75M208.1 432.3h0.75M190.2 443.1h0.75M180.8 444.5h0.75M191.3 434.0h0.75M205.9 429.9h0.75M177.1 424.6h0.75M184.8 429.5h0.75M191.1 435.2h0.75M195.9 441.0h0.75M152.3 428.7h0.75M164.0 434.2h0.75M173.4 429.5h0.75M191.4 476.5h0.75M178.7 422.0h0.75M180.2 452.8h0.75M179.2 431.3h0.75M180.7 432.1h0.75M188.8 424.1h0.75M163.5 434.4h0.75M166.3 447.5h0.75M186.3 428.4h0.75M161.9 454.7h0.75M187.4 431.2h0.75M185.3 436.2h0.75M177.2 426.1h0.75M208.0 440.9h0.75M167.6 462.1h0.75M188.6 437.7h0.75M178.1 436.5h0.75M191.1 431.8h0.75M192.0 445.6h0.75M165.0 422.1h0.75M191.8 417.8h0.75M164.8 447.4h0.75M171.8 420.6h0.75M168.9 430.7h0.75M190.5 447.8h0.75" stroke="#b0b0b0" stroke-width="0.75" fill="none"/>
<ellipse cx="171.00" cy="457.80" rx="15.8" ry="13.4" fill="#000" transform="rotate(0 171.00 457.80)"/>
<path d="M171.4 458.3 170.4 458.2 170.4 457.4 171.6 457.4 171.4 458.3Z M171.9 459.2 170.7 459.4 169.4 458.7 169.1 457.7 169.7 456.7 171.2 456.2 172.4 456.8 172.8 458.2 171.9 459.2Z M171.9 460.2 169.7 460.1 168.3 458.9 168.1 457.2 169.4 455.6 171.9 455.4 173.7 456.7 173.8 458.7 171.9 460.2Z M172.2 461.2 169.2 461.0 167.2 459.2 167.1 456.7 168.9 454.7 172.4 454.5 174.8 456.4 174.8 459.2 173.7 460.5 172.2 461.2Z M172.2 462.2 168.7 461.8 166.1 459.4 165.7 457.9 166.1 456.2 168.7 453.8 170.7 453.3 172.9 453.6 174.8 454.7 176.0 456.4 176.3 458.2 175.6 459.9 174.2 461.4 172.2 462.2Z M172.2 463.2 169.9 463.2 167.7 462.5 166.0 461.2 164.9 459.4 164.6 457.4 165.2 455.4 166.7 453.8 168.4 452.8 171.2 452.3 173.7 452.8 175.8 454.2 177.1 456.2 177.4 458.4 176.4 460.7 174.7 462.3 172.2 463.2Z M171.9 464.2 169.2 464.1 166.7 463.1 164.6 461.2 163.6 458.9 163.6 456.4 164.8 454.2 166.7 452.5 169.2 451.5 172.2 451.4 174.9 452.3 177.2 454.1 178.4 456.4 178.4 459.2 177.2 461.4 174.9 463.3 171.9 464.2Z M171.7 465.2 168.2 464.8 165.4 463.5 163.3 461.2 162.4 458.7 162.6 455.9 164.0 453.4 166.4 451.5 169.4 450.5 172.9 450.6 176.2 451.8 178.6 454.2 179.6 456.9 179.3 459.9 177.7 462.5 175.2 464.3 171.7 465.2Z M171.4 466.2 167.9 465.8 164.4 464.0 162.3 461.7 161.2 458.4 161.6 455.4 163.5 452.4 166.4 450.4 169.9 449.5 173.9 449.8 177.2 451.3 179.7 453.9 180.8 457.2 180.3 460.4 178.3 463.4 175.2 465.4 171.4 466.2Z M173.2 467.0 169.2 467.0 165.4 465.9 162.3 463.4 160.5 460.4 160.1 457.2 161.0 453.9 163.4 451.1 166.9 449.1 171.4 448.4 175.7 449.3 179.3 451.7 181.5 455.2 181.8 459.2 180.3 462.7 177.2 465.5 173.2 467.0Z M173.2 468.0 168.9 468.0 164.7 466.6 161.3 463.9 159.3 460.4 159.0 456.7 160.4 452.9 163.2 449.9 166.9 448.1 171.7 447.4 176.4 448.6 180.3 451.2 182.6 454.9 183.0 459.2 181.3 463.2 177.9 466.3 173.2 468.0Z M173.2 468.9 168.2 468.8 163.4 467.1 160.1 464.2 158.1 460.2 158.0 455.9 159.7 451.9 162.9 448.9 167.7 446.8 171.9 446.4 177.7 448.0 181.7 451.2 183.9 455.4 184.0 459.9 181.9 464.2 178.2 467.3 173.2 468.9Z M172.9 470.0 166.9 469.6 161.9 467.3 158.3 463.4 156.7 458.9 157.3 454.2 160.0 449.9 163.9 447.1 170.4 444.7 176.7 446.5 180.7 448.7 183.9 452.4 185.3 456.7 184.8 461.2 182.2 465.4 177.9 468.5 172.9 470.0Z M172.9 470.9 166.7 470.5 161.2 468.0 157.3 463.9 155.6 458.7 156.3 453.7 159.0 449.4 162.7 446.5 170.4 442.8 177.9 445.8 181.9 448.4 185.0 452.2 186.4 456.7 185.8 461.7 183.0 466.2 178.7 469.3 172.9 470.9Z M172.7 471.9 165.9 471.3 160.2 468.6 156.0 463.9 154.4 458.7 155.1 453.7 157.8 449.2 167.9 441.2 170.4 440.3 172.9 441.0 183.4 448.3 186.4 452.4 187.6 456.9 186.8 462.2 183.7 467.0 178.9 470.3 172.7 471.9Z M172.2 472.9 164.9 472.1 159.2 469.1 155.0 464.4 153.8 461.4 153.3 458.4 154.0 453.4 156.5 448.9 162.9 443.2 166.4 439.0 170.2 437.4 172.4 437.6 174.4 438.7 178.3 442.9 184.7 448.1 187.6 452.4 188.7 457.2 188.5 460.2 187.6 463.2 184.2 468.0 178.7 471.5 172.2 472.9Z M171.7 473.9 164.7 473.0 158.2 469.6 155.6 467.2 153.8 464.4 152.5 461.2 152.1 458.2 153.0 452.9 155.5 448.4 160.4 443.2 164.7 436.8 167.4 435.0 170.4 434.4 173.4 434.9 176.2 436.5 180.7 442.7 186.1 447.9 188.8 452.4 189.9 457.4 189.6 460.7 188.6 463.7 184.7 468.9 178.7 472.6 171.7 473.9Z" stroke="#000" stroke-width="0.75" fill="none" stroke-linejoin="round"/>
<ellipse cx="170.60" cy="458.10" rx="1.6" ry="1.0" fill="#fff"/>
</g>
<line x1="179.40" y1="414.30" x2="179.40" y2="494.80" stroke="#555" stroke-width="0.85"/>
<line x1="149.80" y1="445.30" x2="238.70" y2="445.30" stroke="#555" stroke-width="0.85"/>
<rect x="149.80" y="414.30" width="88.90" height="80.50" fill="none" stroke="#8a8a8a" stroke-width="0.8"/>
<line x1="147.60" y1="422.90" x2="149.80" y2="422.90" stroke="#555" stroke-width="0.7"/>
<text x="147.20" y="424.80" font-size="5.6" fill="#333" text-anchor="end">10<tspan font-size="4.03" dy="-2.2">5</tspan></text>
<line x1="147.60" y1="441.80" x2="149.80" y2="441.80" stroke="#555" stroke-width="0.7"/>
<text x="147.20" y="443.70" font-size="5.6" fill="#333" text-anchor="end">10<tspan font-size="4.03" dy="-2.2">4</tspan></text>
<line x1="147.60" y1="464.40" x2="149.80" y2="464.40" stroke="#555" stroke-width="0.7"/>
<text x="147.20" y="466.30" font-size="5.6" fill="#333" text-anchor="end">10<tspan font-size="4.03" dy="-2.2">3</tspan></text>
<line x1="147.60" y1="477.30" x2="149.80" y2="477.30" stroke="#555" stroke-width="0.7"/>
<text x="145.60" y="479.20" font-size="5.6" fill="#333" text-anchor="end">0</text>
<line x1="147.60" y1="490.30" x2="149.80" y2="490.30" stroke="#555" stroke-width="0.7"/>
<text x="147.20" y="492.20" font-size="5.6" fill="#333" text-anchor="end">−10<tspan font-size="4.03" dy="-2.2">3</tspan></text>
<line x1="148.70" y1="428.57" x2="149.80" y2="428.57" stroke="#777" stroke-width="0.5"/>
<line x1="148.70" y1="432.35" x2="149.80" y2="432.35" stroke="#777" stroke-width="0.5"/>
<line x1="148.70" y1="436.13" x2="149.80" y2="436.13" stroke="#777" stroke-width="0.5"/>
<line x1="148.70" y1="448.58" x2="149.80" y2="448.58" stroke="#777" stroke-width="0.5"/>
<line x1="148.70" y1="453.10" x2="149.80" y2="453.10" stroke="#777" stroke-width="0.5"/>
<line x1="148.70" y1="457.62" x2="149.80" y2="457.62" stroke="#777" stroke-width="0.5"/>
<line x1="148.70" y1="468.27" x2="149.80" y2="468.27" stroke="#777" stroke-width="0.5"/>
<line x1="148.70" y1="470.85" x2="149.80" y2="470.85" stroke="#777" stroke-width="0.5"/>
<line x1="148.70" y1="473.43" x2="149.80" y2="473.43" stroke="#777" stroke-width="0.5"/>
<line x1="148.70" y1="481.20" x2="149.80" y2="481.20" stroke="#777" stroke-width="0.5"/>
<line x1="148.70" y1="483.80" x2="149.80" y2="483.80" stroke="#777" stroke-width="0.5"/>
<line x1="148.70" y1="486.40" x2="149.80" y2="486.40" stroke="#777" stroke-width="0.5"/>
<line x1="157.60" y1="494.80" x2="157.60" y2="497.00" stroke="#555" stroke-width="0.7"/>
<text x="157.80" y="505.40" font-size="5.6" fill="#333" text-anchor="middle">−10<tspan font-size="4.03" dy="-2.2">3</tspan></text>
<line x1="172.00" y1="494.80" x2="172.00" y2="497.00" stroke="#555" stroke-width="0.7"/>
<text x="172.00" y="505.40" font-size="5.6" fill="#333" text-anchor="middle">0</text>
<line x1="184.50" y1="494.80" x2="184.50" y2="497.00" stroke="#555" stroke-width="0.7"/>
<text x="184.70" y="505.40" font-size="5.6" fill="#333" text-anchor="middle">10<tspan font-size="4.03" dy="-2.2">3</tspan></text>
<line x1="211.50" y1="494.80" x2="211.50" y2="497.00" stroke="#555" stroke-width="0.7"/>
<text x="211.70" y="505.40" font-size="5.6" fill="#333" text-anchor="middle">10<tspan font-size="4.03" dy="-2.2">4</tspan></text>
<line x1="232.00" y1="494.80" x2="232.00" y2="497.00" stroke="#555" stroke-width="0.7"/>
<text x="232.20" y="505.40" font-size="5.6" fill="#333" text-anchor="middle">10<tspan font-size="4.03" dy="-2.2">5</tspan></text>
<line x1="161.92" y1="494.80" x2="161.92" y2="495.90" stroke="#777" stroke-width="0.5"/>
<line x1="164.80" y1="494.80" x2="164.80" y2="495.90" stroke="#777" stroke-width="0.5"/>
<line x1="167.68" y1="494.80" x2="167.68" y2="495.90" stroke="#777" stroke-width="0.5"/>
<line x1="175.75" y1="494.80" x2="175.75" y2="495.90" stroke="#777" stroke-width="0.5"/>
<line x1="178.25" y1="494.80" x2="178.25" y2="495.90" stroke="#777" stroke-width="0.5"/>
<line x1="180.75" y1="494.80" x2="180.75" y2="495.90" stroke="#777" stroke-width="0.5"/>
<line x1="192.60" y1="494.80" x2="192.60" y2="495.90" stroke="#777" stroke-width="0.5"/>
<line x1="198.00" y1="494.80" x2="198.00" y2="495.90" stroke="#777" stroke-width="0.5"/>
<line x1="203.40" y1="494.80" x2="203.40" y2="495.90" stroke="#777" stroke-width="0.5"/>
<line x1="217.65" y1="494.80" x2="217.65" y2="495.90" stroke="#777" stroke-width="0.5"/>
<line x1="221.75" y1="494.80" x2="221.75" y2="495.90" stroke="#777" stroke-width="0.5"/>
<line x1="225.85" y1="494.80" x2="225.85" y2="495.90" stroke="#777" stroke-width="0.5"/>
<rect x="148.20" y="475.70" width="1.4" height="3.2" fill="#000"/>
<rect x="169.60" y="495.10" width="4.8" height="1.4" fill="#000"/>
<text x="152.10" y="423.90" font-size="7.6" fill="#1a1a1a" font-weight="bold">6,28</text>
<text x="236.50" y="423.90" font-size="7.6" fill="#1a1a1a" font-weight="bold" text-anchor="end">2,49</text>
<text x="152.10" y="491.40" font-size="7.6" fill="#1a1a1a" font-weight="bold">79,6</text>
<text x="236.50" y="491.40" font-size="7.6" fill="#1a1a1a" font-weight="bold" text-anchor="end">11,6</text>
<clipPath id="c5"><rect x="304.40" y="315.00" width="93.20" height="81.30"/></clipPath>
<g clip-path="url(#c5)">
<path d="M347.0 348.0h0.65M324.0 374.3h0.65M335.4 361.4h0.65M341.4 329.1h0.65M337.0 332.4h0.65M358.1 370.9h0.65M368.1 316.5h0.65M364.7 364.6h0.65M362.9 362.5h0.65M328.6 340.9h0.65M368.9 332.3h0.65M337.2 331.4h0.65M335.9 330.3h0.65M358.9 339.6h0.65M331.0 342.7h0.65M373.1 344.6h0.65M334.7 385.4h0.65M357.1 362.4h0.65M327.1 348.0h0.65M334.3 384.1h0.65M368.9 328.5h0.65M350.5 327.1h0.65M332.9 347.3h0.65M344.1 322.0h0.65M347.4 321.5h0.65M326.5 343.2h0.65M361.0 340.6h0.65M356.1 376.8h0.65M345.8 348.2h0.65M364.6 342.9h0.65M358.8 342.0h0.65M376.4 330.0h0.65M362.6 318.2h0.65M364.6 328.0h0.65M336.2 353.0h0.65M366.7 328.1h0.65M332.3 335.8h0.65M337.5 316.4h0.65M335.6 365.5h0.65M323.1 327.2h0.65M338.5 330.8h0.65M355.7 371.8h0.65M330.8 342.9h0.65M331.1 367.6h0.65M377.2 348.7h0.65M356.4 358.4h0.65M345.4 325.0h0.65M360.7 344.2h0.65M359.5 342.7h0.65M356.7 370.7h0.65M336.9 335.5h0.65M343.2 346.7h0.65M353.0 323.0h0.65M364.9 336.6h0.65M363.5 333.3h0.65M348.5 326.8h0.65M335.6 364.3h0.65M332.9 336.5h0.65M337.8 383.0h0.65M322.4 346.3h0.65M347.0 346.9h0.65M346.3 348.6h0.65M345.3 351.3h0.65M350.0 327.0h0.65M359.3 339.4h0.65M357.3 329.6h0.65M366.1 337.3h0.65M342.4 325.1h0.65M333.7 382.7h0.65M363.9 328.7h0.65M359.8 350.8h0.65M337.8 332.4h0.65M328.2 371.1h0.65M359.9 350.2h0.65M343.8 326.3h0.65M331.9 367.3h0.65M349.2 380.3h0.65M353.7 375.1h0.65M356.9 345.5h0.65M380.7 326.7h0.65M365.3 327.9h0.65M348.7 378.4h0.65M359.3 344.5h0.65M351.4 327.6h0.65M355.7 372.5h0.65M344.6 349.0h0.65M356.8 345.4h0.65M359.5 336.2h0.65M360.4 338.0h0.65M357.4 329.7h0.65M344.2 321.6h0.65M330.0 371.4h0.65M324.8 340.8h0.65M370.2 344.4h0.65M360.0 333.4h0.65M346.0 359.3h0.65M323.6 320.3h0.65M361.7 335.9h0.65M344.1 320.9h0.65M339.7 326.2h0.65M331.0 382.5h0.65M346.9 349.8h0.65M331.1 338.9h0.65M358.6 343.5h0.65M330.7 370.9h0.65M325.0 334.6h0.65M331.0 346.4h0.65M363.8 352.0h0.65M334.7 335.2h0.65M362.1 343.2h0.65M339.0 360.6h0.65M352.4 375.8h0.65M350.7 327.0h0.65M330.1 379.2h0.65M360.5 316.7h0.65M334.8 359.6h0.65M336.0 363.8h0.65M366.1 326.3h0.65M334.2 338.5h0.65M359.4 364.2h0.65M354.1 318.6h0.65M343.0 348.2h0.65M358.2 362.3h0.65M359.0 342.9h0.65M346.1 356.6h0.65M355.9 329.1h0.65M355.0 328.1h0.65M365.5 335.3h0.65M349.0 327.6h0.65M336.2 334.6h0.65M330.9 380.8h0.65M339.2 345.7h0.65M332.7 334.3h0.65M331.9 331.1h0.65M354.2 381.2h0.65M336.5 339.5h0.65M326.7 383.4h0.65M333.4 343.1h0.65M335.6 343.4h0.65M353.9 374.2h0.65M341.9 358.7h0.65M343.4 345.8h0.65M363.5 338.7h0.65M330.2 371.6h0.65M362.6 337.9h0.65M352.4 377.5h0.65M364.1 323.6h0.65M337.2 338.9h0.65M365.0 343.2h0.65M343.7 381.2h0.65M356.2 330.1h0.65M358.1 363.5h0.65M345.4 351.4h0.65M338.2 355.7h0.65M347.1 348.2h0.65M342.7 382.6h0.65M361.2 334.0h0.65M322.7 337.5h0.65M339.6 328.5h0.65M345.6 322.6h0.65M354.8 328.6h0.65M324.6 376.8h0.65M361.5 366.7h0.65M353.2 325.7h0.65M343.7 346.8h0.65M335.5 341.4h0.65M359.1 346.4h0.65M326.0 350.0h0.65M359.3 332.7h0.65M333.6 382.1h0.65M359.9 340.6h0.65M341.3 348.0h0.65M363.8 348.4h0.65M369.2 327.6h0.65M343.8 323.4h0.65M362.0 337.8h0.65M356.3 360.4h0.65M359.5 364.1h0.65M346.1 357.2h0.65M357.2 325.7h0.65M353.6 376.4h0.65M340.4 363.1h0.65M328.4 371.5h0.65M357.6 343.5h0.65M327.6 377.0h0.65M339.3 322.4h0.65M343.2 321.0h0.65M345.5 319.7h0.65M362.7 330.2h0.65M334.3 330.1h0.65M343.8 327.8h0.65M338.8 345.4h0.65M353.1 321.6h0.65M332.5 346.4h0.65M341.5 327.4h0.65M363.6 351.3h0.65M362.4 319.6h0.65M336.7 332.8h0.65M348.5 379.7h0.65M338.5 344.2h0.65M357.4 363.9h0.65M356.7 349.9h0.65M357.6 347.2h0.65M357.3 327.8h0.65M342.7 345.6h0.65M365.1 321.7h0.65M339.5 363.2h0.65M351.1 381.8h0.65M357.3 368.3h0.65M345.6 322.7h0.65M367.3 334.2h0.65M363.6 333.2h0.65M354.8 325.7h0.65M371.0 347.9h0.65M335.1 363.0h0.65M318.9 333.1h0.65M327.1 369.6h0.65M364.1 362.7h0.65M323.6 326.3h0.65M354.8 360.7h0.65M357.6 372.1h0.65M352.1 328.2h0.65M340.3 345.7h0.65M357.9 348.6h0.65M344.3 347.2h0.65M340.4 325.2h0.65M346.8 350.2h0.65M337.1 348.3h0.65M327.9 365.0h0.65M362.2 363.2h0.65M359.7 333.7h0.65M355.6 356.2h0.65M331.0 370.2h0.65M354.4 373.5h0.65M354.2 327.2h0.65M354.4 320.5h0.65M357.6 349.4h0.65M361.5 328.6h0.65M357.2 345.2h0.65M347.8 380.3h0.65M332.0 336.4h0.65M362.9 330.2h0.65M363.2 340.1h0.65M345.6 349.8h0.65M320.8 325.3h0.65M336.4 336.3h0.65M349.7 326.5h0.65M364.1 350.1h0.65M358.7 365.5h0.65M361.0 336.1h0.65M360.3 335.9h0.65M341.5 344.1h0.65M364.8 328.7h0.65M371.1 330.0h0.65M332.0 334.0h0.65M314.2 340.5h0.65M349.8 324.4h0.65M362.6 359.3h0.65M337.3 346.0h0.65M335.8 332.3h0.65M356.4 324.2h0.65M345.5 360.3h0.65M342.1 326.5h0.65M348.2 326.3h0.65M340.3 326.4h0.65M348.6 324.3h0.65M327.7 375.7h0.65M359.3 330.9h0.65M358.7 332.7h0.65M358.2 365.8h0.65M345.8 347.5h0.65M343.1 328.0h0.65M337.2 339.2h0.65M355.4 372.4h0.65M335.7 336.2h0.65M343.0 354.9h0.65M343.0 325.0h0.65M341.7 356.9h0.65M342.0 361.3h0.65M358.9 365.1h0.65M356.7 351.1h0.65M336.2 335.9h0.65M361.6 323.5h0.65M360.2 343.2h0.65M355.3 359.9h0.65M355.8 328.0h0.65M334.0 331.0h0.65M365.2 343.9h0.65M345.0 359.1h0.65M354.4 374.2h0.65M349.3 326.1h0.65M327.0 327.8h0.65M357.7 362.8h0.65M336.9 349.2h0.65M326.1 356.1h0.65M332.8 385.9h0.65M329.6 379.9h0.65M332.2 367.0h0.65M344.1 361.3h0.65M335.4 337.0h0.65M342.8 348.9h0.65M330.2 327.8h0.65M343.8 360.1h0.65M355.7 360.0h0.65M342.5 356.2h0.65M337.3 339.7h0.65M369.6 336.2h0.65M336.7 338.5h0.65M349.9 321.0h0.65M360.2 367.1h0.65M326.8 344.5h0.65M364.4 336.6h0.65M327.4 344.7h0.65M345.5 356.0h0.65M359.9 336.3h0.65M359.1 365.7h0.65M328.4 377.4h0.65M363.7 336.6h0.65M335.3 326.7h0.65M354.9 360.1h0.65M341.1 384.7h0.65M342.7 326.8h0.65M325.0 355.1h0.65M357.8 365.1h0.65M351.1 377.4h0.65M341.8 326.1h0.65M346.7 325.0h0.65M340.0 383.8h0.65M344.3 325.8h0.65M343.5 327.5h0.65M344.1 345.7h0.65M362.4 339.7h0.65M340.1 359.4h0.65M355.1 327.9h0.65M329.8 376.7h0.65M338.0 328.8h0.65M341.9 360.8h0.65M352.4 323.7h0.65M332.1 341.1h0.65M341.3 321.2h0.65M323.6 333.1h0.65M360.9 332.8h0.65M346.0 355.8h0.65M358.2 340.1h0.65M331.7 323.1h0.65M332.3 385.4h0.65M328.6 373.1h0.65M350.6 376.9h0.65M361.3 329.9h0.65M331.9 337.0h0.65M358.1 329.1h0.65M346.9 326.2h0.65M346.8 321.0h0.65M363.7 342.4h0.65M340.7 326.1h0.65M342.3 327.7h0.65M359.1 369.1h0.65M335.2 341.6h0.65M365.5 327.6h0.65M339.9 351.0h0.65M331.7 330.8h0.65M337.0 343.5h0.65M333.9 331.5h0.65M336.6 343.2h0.65M343.3 348.1h0.65M366.3 343.8h0.65M336.7 337.1h0.65M338.1 362.5h0.65M357.5 370.9h0.65M348.9 327.5h0.65M360.6 326.4h0.65M357.4 325.6h0.65M340.7 383.0h0.65M330.4 380.2h0.65M337.9 329.4h0.65M338.2 382.5h0.65M364.4 328.5h0.65M339.1 342.7h0.65M360.4 342.2h0.65M352.1 376.6h0.65M340.1 321.8h0.65M335.7 333.1h0.65M357.8 346.6h0.65M345.8 323.7h0.65M336.0 329.7h0.65M338.3 340.7h0.65M357.8 371.8h0.65M356.8 360.1h0.65M366.8 365.3h0.65M357.3 360.1h0.65M358.2 354.3h0.65M332.4 367.8h0.65M337.7 351.8h0.65M334.3 357.8h0.65M359.8 332.3h0.65M345.6 327.4h0.65M343.9 359.8h0.65M340.7 327.3h0.65M328.5 377.4h0.65M336.5 346.7h0.65M328.8 333.9h0.65M354.6 379.4h0.65M334.8 327.2h0.65M369.7 342.9h0.65M345.8 324.9h0.65M340.7 382.3h0.65M345.0 345.6h0.65M366.9 363.2h0.65M311.5 331.5h0.65M339.8 363.1h0.65M356.3 353.8h0.65M365.8 348.9h0.65M331.5 381.2h0.65M333.3 339.2h0.65M336.9 338.1h0.65M338.3 352.8h0.65M358.1 366.2h0.65M333.1 334.2h0.65M337.5 350.9h0.65M333.4 328.7h0.65M357.4 344.7h0.65M342.6 361.0h0.65M338.1 323.7h0.65M345.8 357.0h0.65M347.9 318.9h0.65M332.9 381.9h0.65M334.0 341.0h0.65M333.6 337.8h0.65M357.4 355.9h0.65M357.4 343.4h0.65M357.9 357.0h0.65M339.5 324.7h0.65M343.8 345.2h0.65M359.1 345.0h0.65M348.8 378.8h0.65M362.6 321.6h0.65M329.1 340.2h0.65M368.7 348.1h0.65M342.0 344.7h0.65M335.6 324.1h0.65M345.3 346.3h0.65M372.7 328.8h0.65M341.8 328.1h0.65M356.2 371.6h0.65M353.3 328.0h0.65M336.6 340.2h0.65M337.4 359.5h0.65M356.4 354.3h0.65M371.3 344.5h0.65M332.1 363.5h0.65M359.9 340.7h0.65M346.9 347.5h0.65M334.1 364.7h0.65M381.1 351.3h0.65M345.5 348.8h0.65M360.3 337.6h0.65M359.7 344.9h0.65M359.5 337.0h0.65M356.7 358.7h0.65M336.0 336.4h0.65M362.9 340.6h0.65M360.0 359.6h0.65M367.3 342.4h0.65M362.8 334.2h0.65M333.3 365.3h0.65M359.1 336.3h0.65M329.1 367.4h0.65M355.9 362.0h0.65M374.4 339.6h0.65M338.3 355.2h0.65M385.2 321.2h0.65M334.6 336.9h0.65M358.3 369.1h0.65M339.4 345.9h0.65M358.1 344.9h0.65M356.5 350.4h0.65M359.8 351.3h0.65M364.9 345.8h0.65M359.9 338.5h0.65M362.8 327.6h0.65M371.6 332.0h0.65M322.9 332.2h0.65M360.3 338.9h0.65M331.0 387.5h0.65M361.5 334.9h0.65M389.3 339.7h0.65M360.1 335.8h0.65M345.1 346.0h0.65M330.2 380.9h0.65M329.9 373.0h0.65M361.7 336.0h0.65M336.7 330.8h0.65M357.0 372.4h0.65M330.2 342.2h0.65M346.8 352.0h0.65M363.0 323.8h0.65M325.2 370.2h0.65M364.6 332.9h0.65M334.9 342.1h0.65M353.6 328.2h0.65M359.1 338.5h0.65M358.4 365.5h0.65M335.7 365.4h0.65M333.6 341.0h0.65M358.9 360.5h0.65M331.2 340.4h0.65M371.9 336.0h0.65M357.4 344.3h0.65M330.7 328.4h0.65M358.5 333.1h0.65M344.2 354.4h0.65M355.3 360.8h0.65M329.7 323.1h0.65M356.9 357.3h0.65M357.8 364.3h0.65M359.0 339.6h0.65M347.4 323.4h0.65M356.6 351.9h0.65M359.5 329.9h0.65M360.4 349.0h0.65M360.4 336.1h0.65M343.0 348.7h0.65M359.9 330.3h0.65M361.2 341.2h0.65M362.7 343.5h0.65M366.7 348.1h0.65M340.2 328.4h0.65M341.7 382.2h0.65M336.2 331.8h0.65M357.8 332.6h0.65M339.7 330.3h0.65M351.7 323.6h0.65M327.7 338.7h0.65M364.5 361.0h0.65M355.9 354.7h0.65M341.8 328.1h0.65M371.1 326.3h0.65M358.4 333.4h0.65M364.0 360.6h0.65M378.3 341.6h0.65M327.8 377.9h0.65M339.8 349.9h0.65M358.1 347.6h0.65M357.7 360.7h0.65M336.3 359.4h0.65M371.5 334.4h0.65M356.8 330.5h0.65M325.6 339.5h0.65M334.4 342.0h0.65M349.1 326.7h0.65M362.2 339.3h0.65M324.3 348.9h0.65M356.8 326.4h0.65M336.9 326.6h0.65M322.2 327.7h0.65M335.6 331.5h0.65M341.0 382.1h0.65M342.2 320.4h0.65M366.0 327.5h0.65M337.8 327.4h0.65M336.2 341.1h0.65M340.6 319.0h0.65M331.9 340.3h0.65M360.5 327.1h0.65M360.7 331.0h0.65M356.2 362.4h0.65M390.4 327.5h0.65M377.6 347.3h0.65M360.9 337.7h0.65M316.9 338.3h0.65M337.1 364.3h0.65M352.5 327.2h0.65M330.0 377.9h0.65M356.6 373.6h0.65M357.4 350.6h0.65M329.2 322.7h0.65M338.4 350.3h0.65M359.2 346.6h0.65M338.1 361.1h0.65M357.5 328.7h0.65M343.2 381.3h0.65M356.5 372.6h0.65M321.7 325.8h0.65M335.2 333.2h0.65M339.7 321.2h0.65M360.3 365.5h0.65M352.7 376.7h0.65M339.7 384.2h0.65M368.9 347.1h0.65M313.9 350.7h0.65M334.8 351.6h0.65M357.7 345.4h0.65M329.8 381.3h0.65M338.1 347.1h0.65M335.3 334.1h0.65M358.5 343.0h0.65M348.2 319.5h0.65M355.5 356.4h0.65M361.5 352.8h0.65M361.1 338.4h0.65M331.5 368.1h0.65M361.1 359.7h0.65M358.9 334.2h0.65M355.8 324.1h0.65M345.4 326.3h0.65M327.0 327.9h0.65M330.9 332.5h0.65M323.2 340.0h0.65M349.0 378.4h0.65M337.3 331.4h0.65M354.9 374.4h0.65M358.4 351.6h0.65M331.3 368.3h0.65M325.3 337.6h0.65M352.0 316.0h0.65M336.7 362.0h0.65M357.3 329.9h0.65M351.2 326.7h0.65M357.6 362.8h0.65M360.4 352.1h0.65M353.7 328.7h0.65M338.6 331.0h0.65M329.4 380.0h0.65M357.3 330.9h0.65M345.9 353.9h0.65M333.1 326.4h0.65M358.7 364.2h0.65M347.1 325.9h0.65M336.4 343.1h0.65M342.7 321.3h0.65M340.2 344.5h0.65M360.9 367.3h0.65M336.4 324.7h0.65M357.8 331.1h0.65M361.0 360.3h0.65M339.4 347.2h0.65M363.3 332.8h0.65M344.8 348.2h0.65M337.5 340.2h0.65M358.7 369.4h0.65M323.6 332.1h0.65M356.1 360.0h0.65M326.0 348.5h0.65M341.8 358.3h0.65M371.3 336.1h0.65M365.2 356.3h0.65M357.4 353.4h0.65M364.1 336.6h0.65M351.1 320.3h0.65M344.9 382.2h0.65M346.0 355.2h0.65M352.4 328.3h0.65M357.5 357.2h0.65M337.9 331.4h0.65M336.4 340.9h0.65M357.0 369.2h0.65M331.4 340.0h0.65M330.7 331.8h0.65M337.4 332.7h0.65M352.8 324.1h0.65M354.9 328.8h0.65M326.8 331.1h0.65M361.8 327.3h0.65M351.2 323.5h0.65M359.7 340.6h0.65M359.7 328.5h0.65M346.1 358.2h0.65M351.1 377.6h0.65M337.8 331.2h0.65M332.8 345.5h0.65M339.7 342.7h0.65M342.9 324.2h0.65M346.8 326.0h0.65M326.6 372.6h0.65M335.6 341.0h0.65M338.2 363.4h0.65M346.8 323.5h0.65M359.8 346.5h0.65M331.1 369.8h0.65M330.4 370.2h0.65M346.1 316.9h0.65M337.6 343.3h0.65M328.1 335.8h0.65M345.4 360.2h0.65M361.9 323.8h0.65M368.4 330.6h0.65M361.7 363.8h0.65M337.1 340.9h0.65M332.0 340.1h0.65M335.5 382.5h0.65M333.4 333.4h0.65M351.3 321.9h0.65M362.9 336.9h0.65M359.2 326.9h0.65M351.6 324.3h0.65M341.6 345.3h0.65M343.7 381.4h0.65M339.0 345.9h0.65M358.3 349.1h0.65M369.2 333.5h0.65M362.9 345.3h0.65M357.0 359.5h0.65M362.1 346.2h0.65M358.1 363.2h0.65M341.2 344.7h0.65M354.1 328.1h0.65M358.6 346.0h0.65M339.2 341.9h0.65M341.2 327.4h0.65M343.2 347.7h0.65M337.5 364.4h0.65M354.2 326.4h0.65M341.2 344.3h0.65M342.6 357.6h0.65M381.1 337.3h0.65M363.0 330.8h0.65M362.1 335.8h0.65M365.1 344.2h0.65M385.9 352.2h0.65M368.1 344.9h0.65M362.3 325.3h0.65M359.1 364.3h0.65M349.1 378.0h0.65M329.6 325.3h0.65M338.1 330.2h0.65M318.5 327.6h0.65M330.0 367.8h0.65M328.5 376.1h0.65M346.9 322.1h0.65M360.6 333.9h0.65M365.8 327.9h0.65M337.0 340.9h0.65M329.2 377.6h0.65M341.6 323.8h0.65M354.1 327.4h0.65M361.9 341.5h0.65M359.6 343.4h0.65M344.0 358.9h0.65M326.8 339.4h0.65M347.6 326.5h0.65M368.9 334.8h0.65M337.5 383.4h0.65M343.5 359.3h0.65M342.9 326.0h0.65M338.8 363.7h0.65M337.6 332.8h0.65M355.5 361.6h0.65M350.6 318.4h0.65M356.4 370.6h0.65M356.9 327.2h0.65M359.9 340.2h0.65M357.3 350.2h0.65M359.7 342.6h0.65M339.4 327.5h0.65M341.9 326.6h0.65M338.7 331.5h0.65M360.4 322.6h0.65M335.3 328.9h0.65M337.6 326.5h0.65M337.7 340.7h0.65M359.1 335.1h0.65M343.7 346.2h0.65M362.0 331.4h0.65M357.2 321.1h0.65M336.5 333.9h0.65M357.5 359.6h0.65M338.8 330.3h0.65M334.8 337.7h0.65M356.5 359.7h0.65M362.1 337.7h0.65M329.6 372.8h0.65M329.9 377.2h0.65M336.6 332.9h0.65M343.0 357.8h0.65M366.0 330.1h0.65M343.0 326.7h0.65M329.2 339.3h0.65M338.2 346.8h0.65M330.5 379.5h0.65M331.8 326.8h0.65M359.7 354.9h0.65M358.3 341.1h0.65M344.0 326.5h0.65M331.9 382.9h0.65M356.7 353.1h0.65M368.1 326.2h0.65M353.8 375.3h0.65M343.4 325.4h0.65M350.3 324.8h0.65M337.6 333.9h0.65M346.9 379.7h0.65M346.8 321.2h0.65M350.2 377.1h0.65M362.8 347.1h0.65M349.4 323.7h0.65M343.2 345.5h0.65M334.7 340.3h0.65M357.9 345.0h0.65M356.6 357.8h0.65M338.7 351.7h0.65M329.8 386.0h0.65M341.9 327.0h0.65M367.3 363.8h0.65M360.6 338.0h0.65M337.9 361.8h0.65M358.0 373.4h0.65M330.7 384.7h0.65M333.0 330.9h0.65M330.2 340.2h0.65M349.2 380.1h0.65M330.6 380.6h0.65M365.4 335.8h0.65M346.9 379.8h0.65M359.9 337.6h0.65M333.7 336.1h0.65M344.2 359.8h0.65M360.6 341.0h0.65M332.1 339.8h0.65M359.3 336.5h0.65M328.1 339.2h0.65M344.0 326.6h0.65M337.1 323.3h0.65M345.5 359.6h0.65M360.2 345.2h0.65M361.4 350.8h0.65M356.8 363.2h0.65M336.0 329.4h0.65M358.9 329.4h0.65M335.7 331.5h0.65M330.9 332.5h0.65M355.9 360.1h0.65M330.6 336.2h0.65M364.4 333.4h0.65M337.2 348.5h0.65M341.4 327.9h0.65M357.0 325.4h0.65M342.8 353.4h0.65M343.4 359.8h0.65M359.8 332.0h0.65M334.4 348.6h0.65M360.3 321.0h0.65M333.9 337.5h0.65M321.1 345.9h0.65M372.3 330.1h0.65M364.2 334.5h0.65M345.1 347.2h0.65M380.7 346.1h0.65M368.8 327.0h0.65M344.5 354.4h0.65M342.5 324.4h0.65M337.8 382.6h0.65M337.6 328.4h0.65M309.6 330.3h0.65M363.1 328.1h0.65M340.0 384.5h0.65M363.4 331.6h0.65M356.9 346.8h0.65M333.1 384.4h0.65M329.7 381.1h0.65M358.6 321.8h0.65M335.6 343.5h0.65M378.5 346.6h0.65M346.1 353.8h0.65M335.9 334.2h0.65M362.2 333.6h0.65M360.1 316.3h0.65M342.9 321.5h0.65M340.3 344.6h0.65M346.9 324.2h0.65M338.1 328.5h0.65M363.9 334.0h0.65M343.3 323.8h0.65M349.9 320.8h0.65M326.7 378.4h0.65M359.1 339.2h0.65M352.8 328.3h0.65M339.9 354.6h0.65M374.6 317.6h0.65M355.9 329.8h0.65M331.8 382.1h0.65M329.1 374.4h0.65M332.9 348.7h0.65M352.8 324.8h0.65M363.7 333.0h0.65M342.0 320.5h0.65M354.0 328.8h0.65M335.5 320.3h0.65M350.5 326.2h0.65M344.5 348.3h0.65M360.4 325.0h0.65M338.6 327.2h0.65M327.7 375.2h0.65M334.5 334.2h0.65M362.5 333.9h0.65M348.3 324.6h0.65M356.5 362.6h0.65M344.8 351.3h0.65M362.8 344.5h0.65M336.3 347.7h0.65M360.1 325.1h0.65M333.3 330.7h0.65M365.9 345.9h0.65M328.4 381.4h0.65M337.8 364.3h0.65M339.5 348.8h0.65M360.5 343.1h0.65M341.7 319.0h0.65M329.6 373.5h0.65M348.3 323.7h0.65M318.4 326.5h0.65M346.4 353.0h0.65M358.7 363.9h0.65M363.3 361.9h0.65M316.1 340.0h0.65M343.9 327.7h0.65M343.7 321.3h0.65M331.0 368.2h0.65M334.7 383.2h0.65M339.7 329.8h0.65M357.9 369.9h0.65M366.5 337.5h0.65M358.2 332.8h0.65M334.9 342.6h0.65M359.7 317.4h0.65M326.7 339.7h0.65M358.6 328.2h0.65M362.1 354.9h0.65M360.1 342.3h0.65M330.0 370.4h0.65M354.4 374.1h0.65M358.9 333.0h0.65M359.7 331.3h0.65M329.4 379.8h0.65M385.9 342.3h0.65M341.8 325.1h0.65M369.8 322.2h0.65M330.3 384.5h0.65M337.9 345.9h0.65M346.7 322.9h0.65M338.1 342.9h0.65M322.6 342.7h0.65M359.5 339.2h0.65M344.7 381.0h0.65M344.7 381.0h0.65M347.0 326.0h0.65M352.6 326.8h0.65M367.3 337.6h0.65M332.7 366.1h0.65M342.4 347.9h0.65M345.2 357.1h0.65M356.9 345.7h0.65M338.4 328.7h0.65M358.6 364.5h0.65M348.7 318.6h0.65M358.0 353.3h0.65M338.0 328.0h0.65M360.4 340.9h0.65M339.0 382.9h0.65M340.2 344.1h0.65M335.1 323.1h0.65M334.0 338.8h0.65M342.3 350.1h0.65M329.7 323.1h0.65M362.0 330.2h0.65M342.7 319.3h0.65M357.2 344.2h0.65M359.9 336.5h0.65M367.9 342.3h0.65M358.2 332.2h0.65M343.0 349.9h0.65M363.0 327.4h0.65M328.9 375.7h0.65M352.0 382.0h0.65M367.3 341.8h0.65M358.8 340.7h0.65M331.8 369.0h0.65M338.0 331.8h0.65M359.3 363.1h0.65M373.6 331.6h0.65M355.5 355.9h0.65M377.0 333.9h0.65M339.1 346.9h0.65M348.8 378.2h0.65M345.6 323.0h0.65M334.7 363.6h0.65M367.0 344.1h0.65M330.2 336.4h0.65M334.0 334.8h0.65M334.4 323.9h0.65M361.2 330.4h0.65M339.3 347.8h0.65M346.4 325.2h0.65M332.9 350.9h0.65M342.2 382.1h0.65M331.9 383.3h0.65M354.4 373.1h0.65M360.7 363.3h0.65M346.1 327.7h0.65M338.8 382.6h0.65M338.9 328.3h0.65M330.7 370.5h0.65M329.6 371.7h0.65M370.1 347.5h0.65M335.9 343.4h0.65M364.3 328.1h0.65M364.4 343.2h0.65M358.2 331.8h0.65M349.7 326.1h0.65M359.4 326.2h0.65M337.8 363.1h0.65M350.6 377.7h0.65M349.5 326.5h0.65M379.0 318.3h0.65M359.3 330.5h0.65M352.1 326.5h0.65M350.4 327.9h0.65M362.0 345.8h0.65M369.2 338.3h0.65M335.5 338.9h0.65M354.2 328.3h0.65M346.6 350.4h0.65M337.2 331.9h0.65M332.7 337.3h0.65M333.0 340.5h0.65M325.8 375.3h0.65M360.2 329.8h0.65M361.4 355.7h0.65M332.1 332.8h0.65M329.7 373.9h0.65M331.9 337.1h0.65M335.0 342.7h0.65M358.2 371.4h0.65M338.3 351.0h0.65M360.6 324.9h0.65M367.7 326.5h0.65M334.0 384.4h0.65M357.8 320.7h0.65M357.9 332.3h0.65M342.2 381.8h0.65M341.4 318.9h0.65M353.9 327.2h0.65M356.0 328.6h0.65M347.9 324.5h0.65M364.2 340.8h0.65M343.3 346.4h0.65M365.7 333.1h0.65M338.8 325.7h0.65M337.8 363.9h0.65M337.8 363.5h0.65M342.1 345.1h0.65M334.7 326.7h0.65M368.2 344.2h0.65M346.7 348.0h0.65M331.6 338.9h0.65M357.2 369.5h0.65M335.2 336.9h0.65M336.7 342.8h0.65M369.1 325.7h0.65M357.0 345.1h0.65M345.2 360.7h0.65M321.3 357.4h0.65M356.7 330.5h0.65M326.0 384.7h0.65M355.6 355.9h0.65M333.8 338.7h0.65M336.5 338.0h0.65M333.1 361.5h0.65M340.5 327.7h0.65M369.5 348.7h0.65M376.6 355.7h0.65M337.4 343.1h0.65M356.8 370.9h0.65M333.7 340.9h0.65M337.8 340.6h0.65M356.9 331.6h0.65M328.0 377.5h0.65M358.1 333.1h0.65M346.0 353.2h0.65M334.6 337.9h0.65M330.1 379.4h0.65M330.5 381.0h0.65M339.6 321.0h0.65M333.5 385.2h0.65M346.8 346.9h0.65M330.0 324.1h0.65M359.2 342.2h0.65M330.1 322.7h0.65M335.9 344.7h0.65M337.9 327.8h0.65M365.1 335.5h0.65M334.9 332.6h0.65M336.5 346.9h0.65M336.5 365.0h0.65M351.0 379.3h0.65M372.3 333.6h0.65M356.7 345.4h0.65M351.3 316.8h0.65M361.9 335.8h0.65M331.5 382.1h0.65M351.1 325.9h0.65M358.2 370.5h0.65M338.4 349.5h0.65M333.9 332.2h0.65M356.6 361.3h0.65M336.9 331.9h0.65M354.3 373.9h0.65M356.8 324.3h0.65M351.5 326.0h0.65M363.4 359.2h0.65M335.9 340.0h0.65M341.1 326.8h0.65M360.4 342.9h0.65M362.1 332.2h0.65M337.7 344.7h0.65M354.8 358.6h0.65M360.9 368.5h0.65M351.3 323.2h0.65M342.9 346.3h0.65M329.6 383.5h0.65M337.8 340.3h0.65M344.1 360.9h0.65M344.9 325.1h0.65M357.7 370.9h0.65M356.9 346.0h0.65M358.6 372.8h0.65M338.1 362.2h0.65M331.0 370.5h0.65M339.3 323.2h0.65M345.4 355.4h0.65M351.3 328.1h0.65M331.2 330.8h0.65M332.4 333.7h0.65M338.9 346.4h0.65M339.7 348.1h0.65M329.9 378.9h0.65M350.5 318.4h0.65M332.6 328.2h0.65M360.6 335.4h0.65M359.5 364.4h0.65M339.7 344.7h0.65M339.9 342.8h0.65M346.1 360.1h0.65M360.6 349.7h0.65M338.2 332.0h0.65M351.0 324.7h0.65M371.8 340.3h0.65M330.5 371.8h0.65M343.2 346.7h0.65M336.4 323.0h0.65M358.5 339.3h0.65M333.7 336.7h0.65M357.5 345.8h0.65M344.6 346.1h0.65M344.7 381.2h0.65M363.1 334.1h0.65M324.5 338.0h0.65M340.3 347.5h0.65M357.7 372.5h0.65M336.7 354.4h0.65M359.6 340.8h0.65M357.5 364.0h0.65M338.3 341.6h0.65M329.9 382.4h0.65M330.7 331.7h0.65M354.9 326.2h0.65M358.3 365.5h0.65M363.7 332.0h0.65M332.4 367.7h0.65M344.4 347.1h0.65M367.3 342.7h0.65M350.4 324.6h0.65M360.2 362.0h0.65M342.7 323.6h0.65M340.4 382.4h0.65M357.0 371.3h0.65M367.8 332.4h0.65M357.2 326.1h0.65M354.7 372.5h0.65M337.6 341.4h0.65M346.8 326.2h0.65M371.1 342.1h0.65M362.8 329.8h0.65M375.5 337.5h0.65M335.1 348.9h0.65M356.0 376.7h0.65M336.4 363.0h0.65M352.8 327.1h0.65M366.4 341.1h0.65M360.3 341.8h0.65M337.6 384.1h0.65M350.0 324.6h0.65M336.5 342.8h0.65M329.8 376.7h0.65M330.9 337.3h0.65M338.4 330.6h0.65M340.7 344.9h0.65M333.9 333.4h0.65M328.2 378.3h0.65M339.7 324.7h0.65M357.8 328.3h0.65M328.0 324.6h0.65M356.2 355.0h0.65M328.1 332.2h0.65M353.8 374.7h0.65M358.6 373.6h0.65M349.6 379.4h0.65M339.2 330.5h0.65M364.8 336.7h0.65M343.2 382.0h0.65M355.6 360.4h0.65M356.6 323.1h0.65M346.5 353.8h0.65M353.8 376.8h0.65M333.3 382.7h0.65M355.8 355.3h0.65M329.5 369.7h0.65M358.2 366.8h0.65M366.2 335.1h0.65M352.1 325.1h0.65M343.8 357.0h0.65M370.3 326.3h0.65M331.7 336.7h0.65M338.5 385.3h0.65M330.3 345.2h0.65M337.8 343.4h0.65M330.4 380.8h0.65M337.5 331.6h0.65M326.0 388.3h0.65M327.7 376.4h0.65M324.2 335.5h0.65M360.0 333.7h0.65M352.1 326.1h0.65M327.5 376.8h0.65M339.3 327.8h0.65M350.1 317.7h0.65M360.2 373.0h0.65M343.0 346.6h0.65M360.8 350.8h0.65M360.7 357.3h0.65M365.4 321.9h0.65M347.1 324.9h0.65M334.8 342.3h0.65M341.7 322.6h0.65M328.2 342.7h0.65M345.6 357.8h0.65M346.0 349.8h0.65M362.2 347.4h0.65M336.1 322.3h0.65M336.6 329.7h0.65M328.4 374.3h0.65M341.2 326.1h0.65M339.6 343.9h0.65M339.8 322.6h0.65M329.5 380.0h0.65M355.0 327.3h0.65M336.2 337.9h0.65M360.4 344.4h0.65M360.9 355.7h0.65M330.6 379.6h0.65M345.6 358.0h0.65M360.5 334.7h0.65M344.2 324.1h0.65M356.6 354.3h0.65M331.2 382.9h0.65M348.2 319.1h0.65M357.1 361.1h0.65M341.8 327.5h0.65M338.0 340.4h0.65M340.1 343.5h0.65M343.9 347.5h0.65M337.7 384.1h0.65M342.8 352.4h0.65M364.1 337.0h0.65M336.6 355.4h0.65M363.5 340.7h0.65M327.8 338.2h0.65M335.7 335.7h0.65M319.7 342.2h0.65M363.7 331.3h0.65M331.2 329.8h0.65M344.2 326.8h0.65M359.0 339.5h0.65M329.5 332.2h0.65M334.6 366.4h0.65M357.6 367.5h0.65M372.8 334.3h0.65M343.3 347.6h0.65M355.0 374.8h0.65M326.7 335.3h0.65M336.3 344.8h0.65M333.6 339.7h0.65M346.9 349.4h0.65M345.6 381.8h0.65M339.7 326.6h0.65M340.8 382.3h0.65M363.9 350.4h0.65M356.6 362.7h0.65M362.4 348.4h0.65M328.1 370.7h0.65M337.2 333.6h0.65M368.5 354.3h0.65M361.2 330.7h0.65M364.1 342.7h0.65M338.1 352.0h0.65M327.3 328.3h0.65M338.2 323.3h0.65M338.8 362.4h0.65M357.7 363.7h0.65M362.6 350.4h0.65M358.4 333.4h0.65M357.2 349.8h0.65M328.3 324.7h0.65M365.8 350.0h0.65M357.2 345.6h0.65M320.4 347.7h0.65M367.2 339.7h0.65M341.1 329.2h0.65M345.9 356.6h0.65M336.0 340.6h0.65M343.1 359.0h0.65M328.7 335.6h0.65M354.3 324.6h0.65M328.8 344.3h0.65M336.5 348.0h0.65M329.8 377.7h0.65M355.2 372.9h0.65M337.9 323.1h0.65M364.8 360.9h0.65M337.5 330.7h0.65M343.4 353.4h0.65M332.8 336.4h0.65M359.9 333.5h0.65M324.9 341.9h0.65M364.7 343.6h0.65M337.0 353.0h0.65M346.0 348.7h0.65M330.3 351.7h0.65M330.9 336.7h0.65M357.2 351.3h0.65M334.3 334.5h0.65M335.6 347.2h0.65M337.1 340.5h0.65M343.8 345.0h0.65M359.3 319.2h0.65M322.2 342.3h0.65M355.7 329.0h0.65M337.0 336.6h0.65M327.5 324.0h0.65M343.7 349.9h0.65M356.7 373.6h0.65M330.7 335.1h0.65M350.7 325.3h0.65M346.9 347.6h0.65M353.6 326.0h0.65M356.3 373.3h0.65M337.2 326.1h0.65M360.0 335.3h0.65M335.4 342.2h0.65M347.8 326.0h0.65M373.6 333.1h0.65M361.3 331.0h0.65M345.1 355.2h0.65M328.8 383.8h0.65M363.7 335.3h0.65M337.5 362.4h0.65M345.6 326.7h0.65M340.9 345.8h0.65M326.4 339.1h0.65M332.2 331.9h0.65M334.2 364.9h0.65M355.2 358.8h0.65M350.6 326.4h0.65M367.0 331.8h0.65M336.6 364.6h0.65M335.8 384.7h0.65M362.2 347.1h0.65M358.3 370.6h0.65M333.9 383.7h0.65M343.2 358.5h0.65M338.8 349.2h0.65M360.6 328.8h0.65M335.6 336.0h0.65M341.5 347.8h0.65M350.6 378.2h0.65M360.5 332.4h0.65M336.0 337.1h0.65M348.4 320.0h0.65M333.8 353.4h0.65M333.8 339.7h0.65M337.3 363.0h0.65M358.5 329.3h0.65M336.1 350.1h0.65M341.9 351.2h0.65M336.5 340.5h0.65M350.2 327.9h0.65M372.5 337.5h0.65M336.1 358.8h0.65M351.6 327.8h0.65M337.7 324.8h0.65M327.5 340.6h0.65M362.4 329.3h0.65M330.6 363.1h0.65M357.3 364.5h0.65M327.7 380.6h0.65M359.0 366.6h0.65M361.1 349.0h0.65M342.8 327.8h0.65M358.6 365.0h0.65M355.2 356.8h0.65M356.7 359.0h0.65M345.3 353.3h0.65M335.4 365.7h0.65M369.9 332.2h0.65M332.4 351.0h0.65M339.8 343.0h0.65M362.1 334.1h0.65M359.1 333.5h0.65M337.0 327.1h0.65M359.1 341.8h0.65M321.4 335.8h0.65M362.8 338.4h0.65M332.0 368.1h0.65M338.5 351.8h0.65M357.3 351.6h0.65M333.1 383.7h0.65M339.9 328.8h0.65M360.0 342.7h0.65M349.8 324.9h0.65M366.9 337.0h0.65M331.1 381.0h0.65M345.5 324.5h0.65M356.0 359.8h0.65M331.3 370.0h0.65M367.1 342.6h0.65M336.6 363.0h0.65M361.4 339.4h0.65M365.8 334.8h0.65M337.0 342.6h0.65M339.5 328.1h0.65M362.3 332.6h0.65M337.1 332.7h0.65M324.1 384.0h0.65M333.4 334.2h0.65M316.3 329.4h0.65M331.1 379.8h0.65M339.8 326.7h0.65M341.8 382.3h0.65M330.6 368.4h0.65M358.1 349.1h0.65M326.6 338.9h0.65M352.1 328.0h0.65M355.7 325.3h0.65M345.8 325.5h0.65M323.2 334.9h0.65M364.5 337.6h0.65M329.9 377.9h0.65M366.9 344.0h0.65M333.1 384.3h0.65M369.3 356.0h0.65M335.6 326.8h0.65M379.6 344.7h0.65M348.6 327.1h0.65M355.5 321.6h0.65M330.9 380.4h0.65M362.1 334.2h0.65M352.6 327.9h0.65M336.3 325.4h0.65M333.3 349.7h0.65M361.3 340.3h0.65M357.6 318.1h0.65M341.3 355.4h0.65M356.1 330.4h0.65M342.7 361.6h0.65M330.0 341.9h0.65M361.1 343.9h0.65M370.5 340.2h0.65M341.5 351.5h0.65M341.9 384.2h0.65M338.1 362.8h0.65M326.2 324.0h0.65M336.1 342.2h0.65M361.2 329.3h0.65M340.3 325.5h0.65M340.7 328.1h0.65M331.1 330.2h0.65M345.0 381.9h0.65M366.4 358.7h0.65M363.8 368.2h0.65M364.6 353.5h0.65M336.5 333.0h0.65M359.5 336.8h0.65M360.1 339.3h0.65M331.0 332.1h0.65M362.5 338.4h0.65M357.5 360.8h0.65M346.0 324.1h0.65M323.7 331.4h0.65M334.9 341.4h0.65M343.7 351.4h0.65M345.9 349.1h0.65M372.1 356.5h0.65M351.5 325.4h0.65M352.1 327.6h0.65M328.7 332.8h0.65M369.8 331.3h0.65M362.0 359.6h0.65M331.0 384.8h0.65M357.1 351.8h0.65M346.9 321.0h0.65M366.4 332.1h0.65M358.7 363.0h0.65M350.1 378.0h0.65M360.2 346.4h0.65M371.5 334.5h0.65M333.6 335.1h0.65M345.3 348.3h0.65M358.2 369.5h0.65M335.5 334.4h0.65M355.3 327.8h0.65M323.1 316.0h0.65M331.7 326.7h0.65M329.6 368.1h0.65M345.6 347.9h0.65M333.1 384.4h0.65M335.0 323.9h0.65M336.7 335.6h0.65M356.1 362.6h0.65M346.8 350.1h0.65M347.2 323.6h0.65M360.7 337.5h0.65M345.0 348.6h0.65M345.6 352.3h0.65M364.6 339.8h0.65M345.2 327.9h0.65M342.4 382.5h0.65M362.3 340.6h0.65M343.8 355.6h0.65M358.0 343.9h0.65M346.0 324.5h0.65M336.5 329.6h0.65M351.1 323.4h0.65M355.5 327.9h0.65M362.0 328.1h0.65M336.5 338.0h0.65M358.9 333.4h0.65M362.3 335.3h0.65M337.2 364.3h0.65M329.0 319.9h0.65M344.8 325.5h0.65M337.7 363.5h0.65M341.4 343.8h0.65M335.1 339.4h0.65M337.9 331.0h0.65M325.5 344.3h0.65M362.5 328.9h0.65M358.5 368.8h0.65M332.0 365.1h0.65M359.2 333.3h0.65M352.8 320.2h0.65M355.0 372.8h0.65M330.8 332.4h0.65M343.6 349.8h0.65M357.8 368.8h0.65M339.7 362.8h0.65M359.7 369.3h0.65M334.1 341.8h0.65M361.1 366.8h0.65M361.3 340.4h0.65M359.9 330.6h0.65M358.9 341.5h0.65M334.4 334.1h0.65M355.6 360.6h0.65M332.9 365.9h0.65M347.8 326.7h0.65M333.9 327.4h0.65M326.6 336.5h0.65M332.3 340.6h0.65M343.6 381.5h0.65M330.7 380.2h0.65M330.1 382.5h0.65M345.1 357.1h0.65M357.1 351.3h0.65M365.8 331.0h0.65M363.7 335.8h0.65M362.6 315.9h0.65M358.8 365.9h0.65M367.3 331.1h0.65M337.6 324.4h0.65M336.5 333.1h0.65M364.4 333.3h0.65M346.3 356.3h0.65M345.5 316.8h0.65M335.5 329.4h0.65M353.7 374.0h0.65M360.8 368.3h0.65M345.4 348.0h0.65M364.5 345.0h0.65M328.7 329.1h0.65M356.9 371.1h0.65M355.7 360.1h0.65M358.7 343.0h0.65M352.8 327.2h0.65M328.7 328.9h0.65M331.8 336.3h0.65M336.9 333.9h0.65M337.3 323.5h0.65M360.9 337.6h0.65M334.5 339.9h0.65M367.8 331.7h0.65M332.4 336.5h0.65M360.3 333.8h0.65M360.8 336.2h0.65M342.8 347.7h0.65M360.2 342.0h0.65M352.8 328.0h0.65M341.2 362.5h0.65M359.5 342.9h0.65M333.1 340.3h0.65M345.2 355.1h0.65M356.6 359.4h0.65M328.8 367.8h0.65M338.4 364.0h0.65M367.4 350.6h0.65M337.7 356.1h0.65M343.4 327.1h0.65M337.0 353.6h0.65M333.8 330.4h0.65M359.1 330.3h0.65M356.4 325.9h0.65M362.0 337.1h0.65M339.4 319.6h0.65M344.3 349.8h0.65M344.0 359.1h0.65M389.9 361.2h0.65M368.2 326.2h0.65M342.1 348.8h0.65M329.5 366.7h0.65M350.2 321.4h0.65M332.1 328.0h0.65M339.0 330.8h0.65M366.4 340.5h0.65M357.3 327.3h0.65M339.9 344.0h0.65M376.7 334.4h0.65M360.9 349.7h0.65M328.6 344.0h0.65M360.0 352.1h0.65M360.2 329.8h0.65M346.6 354.3h0.65M355.2 357.6h0.65M346.3 356.2h0.65M359.9 323.7h0.65M331.6 380.5h0.65M359.4 345.6h0.65M335.8 331.1h0.65M335.5 339.0h0.65M340.6 343.1h0.65M357.2 343.2h0.65M329.2 330.1h0.65M369.2 330.7h0.65M372.7 335.5h0.65M343.8 361.6h0.65M317.0 339.5h0.65M349.5 321.7h0.65M371.5 339.9h0.65M331.0 328.3h0.65M343.7 318.3h0.65M331.7 383.0h0.65M333.1 332.2h0.65M334.7 344.2h0.65M365.1 335.0h0.65M337.7 322.9h0.65M326.7 374.8h0.65M330.4 379.4h0.65M341.1 327.9h0.65M328.7 338.5h0.65M322.2 336.2h0.65M344.6 327.3h0.65M356.9 350.1h0.65M357.2 361.6h0.65M344.5 360.2h0.65M322.6 351.3h0.65M357.7 319.0h0.65M333.4 329.3h0.65M374.9 342.8h0.65M356.3 353.8h0.65M360.1 336.6h0.65M336.3 339.8h0.65M331.8 366.9h0.65M338.5 320.2h0.65M357.5 331.0h0.65M338.4 331.8h0.65M339.0 384.6h0.65M359.6 329.2h0.65M343.8 322.3h0.65M362.6 338.1h0.65M344.2 349.3h0.65M359.4 326.8h0.65M358.9 366.6h0.65M343.8 328.2h0.65M344.1 354.1h0.65M355.3 327.1h0.65M329.8 372.1h0.65M330.6 328.3h0.65M335.3 357.5h0.65M332.7 366.6h0.65M336.1 330.3h0.65M350.9 324.9h0.65M341.9 346.1h0.65M328.2 342.4h0.65M336.1 341.3h0.65M355.3 361.5h0.65M330.9 340.7h0.65M359.3 342.1h0.65M363.0 341.7h0.65M337.2 340.1h0.65M359.4 337.6h0.65M352.3 327.2h0.65M338.3 332.1h0.65M367.9 330.5h0.65M331.7 330.1h0.65M364.7 361.7h0.65M366.1 325.6h0.65M353.9 328.4h0.65M334.9 343.7h0.65M362.0 332.9h0.65M359.4 329.7h0.65M372.8 336.0h0.65M358.3 342.3h0.65M357.1 351.2h0.65M328.5 382.9h0.65M359.5 368.1h0.65M337.3 338.8h0.65M364.2 339.8h0.65M360.1 338.0h0.65M355.9 329.7h0.65M347.0 381.1h0.65M363.0 323.5h0.65M352.7 328.5h0.65M358.3 350.1h0.65M365.3 346.1h0.65M337.7 331.3h0.65M328.6 379.6h0.65M334.7 338.0h0.65M333.1 346.6h0.65M343.6 324.9h0.65M329.9 373.4h0.65M343.0 325.4h0.65M331.8 337.2h0.65M330.4 372.5h0.65M349.7 380.3h0.65M354.0 375.0h0.65M336.1 365.5h0.65M357.2 329.3h0.65M374.9 320.8h0.65M365.5 339.9h0.65M352.0 323.4h0.65M330.9 382.2h0.65M360.7 317.3h0.65M335.2 333.5h0.65M340.7 328.3h0.65M341.8 318.6h0.65M329.3 342.3h0.65M347.7 324.1h0.65M353.3 374.7h0.65M344.7 352.3h0.65M334.4 335.9h0.65M358.0 366.8h0.65M360.6 362.6h0.65M358.4 333.7h0.65M331.5 367.7h0.65M329.9 378.6h0.65M345.8 347.7h0.65M359.3 334.8h0.65M356.2 374.6h0.65M350.8 380.1h0.65M360.3 334.6h0.65M347.3 324.7h0.65M357.4 370.1h0.65M356.5 350.3h0.65M341.4 329.4h0.65M338.4 345.3h0.65M367.5 332.7h0.65M326.1 377.3h0.65M359.8 334.3h0.65M343.2 328.0h0.65M335.5 322.1h0.65M360.9 334.4h0.65M337.3 384.1h0.65M341.4 328.8h0.65M331.1 340.4h0.65M324.4 382.9h0.65M346.5 317.0h0.65M337.4 332.1h0.65M363.5 364.5h0.65M336.7 325.0h0.65M350.0 378.3h0.65M334.5 366.1h0.65M352.9 326.7h0.65M343.1 346.3h0.65M339.5 344.9h0.65M358.4 352.9h0.65M359.9 332.6h0.65M331.5 336.6h0.65M362.9 329.6h0.65M362.8 331.8h0.65M340.5 327.5h0.65M325.4 375.5h0.65M354.5 372.8h0.65M333.2 335.3h0.65M356.2 352.9h0.65M337.7 341.9h0.65M361.6 331.4h0.65M330.3 334.8h0.65M340.3 382.3h0.65M336.9 334.4h0.65M334.7 345.8h0.65M354.8 380.3h0.65M366.3 332.2h0.65M357.8 363.6h0.65M367.0 325.7h0.65M373.5 357.3h0.65M361.6 363.4h0.65M358.6 366.4h0.65M339.0 382.9h0.65M343.9 354.9h0.65M332.7 383.0h0.65M337.0 331.4h0.65M337.0 343.4h0.65M358.6 328.5h0.65M367.3 324.4h0.65M335.1 339.4h0.65M345.9 355.9h0.65M357.5 361.4h0.65M347.7 319.2h0.65M346.5 380.2h0.65M367.0 330.0h0.65M364.7 331.9h0.65M335.2 366.0h0.65M329.1 373.9h0.65M345.9 357.8h0.65M361.9 333.8h0.65M328.5 340.5h0.65M334.8 366.1h0.65M361.1 335.0h0.65M340.1 363.4h0.65M357.2 361.7h0.65M334.1 340.9h0.65M354.1 374.1h0.65M333.2 336.6h0.65M361.0 359.1h0.65M309.7 349.0h0.65M337.0 333.8h0.65M333.3 343.8h0.65M360.3 346.9h0.65M327.7 344.0h0.65M347.3 325.7h0.65M339.6 384.4h0.65M346.3 382.3h0.65M337.1 321.5h0.65M345.8 380.3h0.65M330.8 343.9h0.65M349.3 326.1h0.65M358.9 364.5h0.65M329.7 339.1h0.65M344.1 355.1h0.65M335.1 365.5h0.65M337.2 344.2h0.65M334.8 322.7h0.65M336.7 365.0h0.65M365.8 353.0h0.65M328.0 376.1h0.65M363.6 330.9h0.65M355.8 361.8h0.65M356.6 370.8h0.65M333.2 335.1h0.65M336.7 337.8h0.65M375.3 333.8h0.65M346.1 316.8h0.65M340.4 329.4h0.65M337.6 333.8h0.65M337.2 325.5h0.65M341.8 360.6h0.65M365.7 338.6h0.65M342.6 345.4h0.65M338.8 331.6h0.65M334.6 335.4h0.65M342.5 359.5h0.65M337.5 340.9h0.65M335.6 346.7h0.65M321.9 338.6h0.65M343.6 344.9h0.65M327.3 374.4h0.65M338.4 330.8h0.65M361.7 343.0h0.65M340.6 352.5h0.65M349.5 324.6h0.65M341.4 382.2h0.65M320.5 342.4h0.65M357.0 330.0h0.65M355.0 360.0h0.65M362.0 364.1h0.65M360.4 348.1h0.65M329.6 376.9h0.65M365.2 324.5h0.65M339.2 343.6h0.65M343.3 358.6h0.65M352.1 376.9h0.65M344.1 348.8h0.65M337.4 346.9h0.65M375.6 336.7h0.65M373.0 345.4h0.65M336.9 344.8h0.65M329.5 375.4h0.65M334.5 365.3h0.65M356.5 357.8h0.65M330.0 377.8h0.65M344.3 323.7h0.65M343.9 360.8h0.65M334.1 340.7h0.65M355.2 359.3h0.65M359.3 332.0h0.65M370.3 340.6h0.65M335.3 365.1h0.65M342.2 321.5h0.65M359.8 332.0h0.65M328.2 342.0h0.65M331.6 368.1h0.65M362.8 330.8h0.65M358.8 364.9h0.65M340.6 330.0h0.65M371.2 332.3h0.65M327.6 345.0h0.65M346.6 349.5h0.65M330.4 371.9h0.65M327.9 371.9h0.65M339.5 330.2h0.65M344.6 359.0h0.65M360.8 348.3h0.65M359.5 336.6h0.65M339.8 361.3h0.65M328.4 374.4h0.65M335.6 341.3h0.65M329.6 376.8h0.65M355.9 326.1h0.65M342.1 327.3h0.65M357.1 360.4h0.65M337.3 332.7h0.65M338.9 346.0h0.65M359.4 342.2h0.65M329.7 326.9h0.65M345.9 359.6h0.65M355.3 358.5h0.65M366.6 326.6h0.65M328.1 330.6h0.65M331.9 363.1h0.65M328.8 376.5h0.65M361.0 370.3h0.65M358.0 342.3h0.65M362.4 335.6h0.65M359.0 339.5h0.65M342.4 327.7h0.65M339.2 342.1h0.65M338.8 329.4h0.65M355.9 327.2h0.65M336.4 336.4h0.65M358.0 323.3h0.65M358.2 340.9h0.65M358.9 353.1h0.65M361.9 349.3h0.65M339.6 382.8h0.65M355.0 372.6h0.65M346.3 348.4h0.65M328.8 374.3h0.65M336.5 339.7h0.65M341.0 362.8h0.65M338.5 331.6h0.65M336.0 343.5h0.65M341.9 383.1h0.65M345.0 346.6h0.65M339.8 342.7h0.65M339.3 362.2h0.65M361.3 332.8h0.65M361.0 365.7h0.65M346.6 319.3h0.65M340.9 329.6h0.65M344.5 327.5h0.65M357.5 330.5h0.65M329.6 380.6h0.65M344.2 320.2h0.65M331.6 332.3h0.65M342.8 345.7h0.65M357.3 353.8h0.65M345.0 361.1h0.65M375.1 336.4h0.65M356.2 328.8h0.65M358.4 368.1h0.65M334.5 326.2h0.65M334.5 323.5h0.65M340.6 329.4h0.65M363.6 341.8h0.65M346.4 380.0h0.65M359.3 356.9h0.65M358.0 345.1h0.65M335.7 343.4h0.65M356.8 353.0h0.65M366.0 347.9h0.65M336.8 334.1h0.65M350.9 324.9h0.65M315.3 328.4h0.65M362.0 361.7h0.65M357.4 348.4h0.65M365.9 362.6h0.65M348.7 322.0h0.65M325.8 375.0h0.65M362.6 336.3h0.65M349.6 378.1h0.65M358.3 346.5h0.65M364.6 344.3h0.65M359.8 364.5h0.65M357.4 347.8h0.65M358.1 351.0h0.65M344.4 327.1h0.65M345.9 346.9h0.65M358.7 335.1h0.65M345.6 324.2h0.65M348.2 326.3h0.65M337.3 341.5h0.65M356.2 330.5h0.65M340.0 360.6h0.65M336.7 326.0h0.65M344.9 318.7h0.65M337.5 385.9h0.65M364.6 332.9h0.65M330.6 342.8h0.65M338.4 328.7h0.65M331.3 328.7h0.65M364.4 337.3h0.65M359.3 362.1h0.65M353.4 321.7h0.65M358.2 366.5h0.65M351.9 384.2h0.65M367.8 344.8h0.65M333.2 335.4h0.65M359.6 329.3h0.65M359.0 327.6h0.65M365.7 333.4h0.65M332.0 368.1h0.65M351.4 316.1h0.65M358.4 361.8h0.65M345.3 350.5h0.65M354.5 319.3h0.65M336.0 323.9h0.65M357.1 357.5h0.65M342.7 351.2h0.65M371.3 333.0h0.65M330.6 369.5h0.65M338.8 328.7h0.65M365.3 338.5h0.65M335.6 325.8h0.65M344.8 349.1h0.65M350.5 324.5h0.65M349.4 327.5h0.65M345.0 360.7h0.65M336.3 342.5h0.65M357.7 350.2h0.65M345.1 357.6h0.65M366.2 347.0h0.65M353.1 328.2h0.65M358.0 353.3h0.65M341.1 325.8h0.65M361.5 330.8h0.65M331.9 339.9h0.65M326.5 326.0h0.65M354.8 325.3h0.65M335.5 349.6h0.65M357.5 358.3h0.65M336.3 336.0h0.65M334.7 336.8h0.65M362.3 328.4h0.65M337.4 343.3h0.65M342.2 345.9h0.65M330.5 379.2h0.65M340.9 322.0h0.65M329.8 376.0h0.65M333.2 384.3h0.65M336.8 334.6h0.65M345.8 356.5h0.65M336.1 365.1h0.65M359.1 349.3h0.65M335.6 331.9h0.65M337.5 347.8h0.65M356.9 371.3h0.65M362.9 325.4h0.65M337.7 341.4h0.65M354.8 320.0h0.65M331.4 367.3h0.65M357.8 361.3h0.65M324.4 322.5h0.65M345.5 358.8h0.65M363.8 352.7h0.65M351.0 326.0h0.65M368.5 343.3h0.65M330.1 352.6h0.65M334.5 334.2h0.65M373.3 342.4h0.65M341.8 382.9h0.65M326.3 348.6h0.65M358.2 342.3h0.65M343.2 323.5h0.65M365.4 325.8h0.65M360.3 367.9h0.65M338.2 358.6h0.65M358.2 366.0h0.65M327.0 345.9h0.65M356.7 345.6h0.65M365.4 343.6h0.65M357.2 357.7h0.65M333.9 334.0h0.65M358.6 342.0h0.65M337.5 340.9h0.65M357.1 350.1h0.65M333.1 328.8h0.65M368.2 320.0h0.65M360.0 324.5h0.65M348.7 327.5h0.65M329.7 368.8h0.65M373.9 355.4h0.65M362.4 359.0h0.65M336.1 339.7h0.65M341.9 325.5h0.65M358.6 340.6h0.65M329.3 369.7h0.65M371.8 342.7h0.65M335.7 348.3h0.65M330.8 336.1h0.65M348.2 326.9h0.65M371.8 347.8h0.65M337.5 341.6h0.65M335.3 334.5h0.65M362.0 330.4h0.65M357.8 353.0h0.65M363.1 333.1h0.65M356.9 345.7h0.65M327.6 330.6h0.65M342.8 359.6h0.65M334.3 336.2h0.65M332.0 341.4h0.65M330.1 378.4h0.65M357.2 355.6h0.65M345.5 357.9h0.65M326.6 334.3h0.65M365.4 366.6h0.65M336.7 336.6h0.65M344.8 383.8h0.65M329.1 374.2h0.65M372.7 349.9h0.65M330.8 366.0h0.65M339.1 344.3h0.65M359.8 357.3h0.65M346.5 326.0h0.65M330.6 384.1h0.65M361.3 362.8h0.65M351.1 326.5h0.65M334.8 329.8h0.65M344.1 345.6h0.65M343.9 360.5h0.65M345.2 326.9h0.65M331.4 382.2h0.65M336.0 334.5h0.65M339.5 385.0h0.65M360.1 359.5h0.65M338.7 341.5h0.65M363.1 335.3h0.65M341.5 325.1h0.65M355.1 324.6h0.65M346.6 348.0h0.65M344.6 361.2h0.65M353.6 375.7h0.65M333.8 335.5h0.65M330.8 379.6h0.65M361.4 332.1h0.65M345.9 380.0h0.65M352.6 377.0h0.65M333.7 327.1h0.65M362.9 369.1h0.65M324.7 354.0h0.65M346.3 354.0h0.65M327.5 367.0h0.65M322.8 344.1h0.65M339.8 342.7h0.65M360.7 335.6h0.65M330.9 370.0h0.65M328.3 374.8h0.65M351.5 327.0h0.65M337.5 361.0h0.65M362.5 331.1h0.65M368.6 327.5h0.65M351.7 328.2h0.65M339.2 345.7h0.65M358.0 331.4h0.65M332.9 329.9h0.65M349.9 325.1h0.65M332.0 333.7h0.65M355.2 361.2h0.65M337.6 319.9h0.65M369.8 341.3h0.65M340.1 346.8h0.65M333.9 322.6h0.65M334.3 332.1h0.65M328.4 375.5h0.65M329.1 385.2h0.65M358.4 367.8h0.65M350.1 327.4h0.65M357.0 360.3h0.65M360.8 339.9h0.65M352.3 327.4h0.65M358.8 341.3h0.65M354.7 377.7h0.65M358.5 371.3h0.65M360.6 336.8h0.65M353.0 323.4h0.65M355.7 374.6h0.65M329.4 384.0h0.65M338.4 342.8h0.65M341.4 329.1h0.65M338.1 344.4h0.65M361.1 353.2h0.65M364.3 341.5h0.65M361.6 334.8h0.65M326.3 330.1h0.65M361.5 332.1h0.65M337.0 322.7h0.65M336.6 330.3h0.65M332.3 381.5h0.65M356.9 317.4h0.65M343.8 356.8h0.65M356.0 362.1h0.65M335.2 337.6h0.65M362.9 346.5h0.65M358.7 328.9h0.65M356.5 350.7h0.65M359.9 354.5h0.65M355.2 357.6h0.65M359.4 342.0h0.65M339.3 382.6h0.65M359.5 369.8h0.65M334.4 345.5h0.65M346.1 351.9h0.65M359.2 331.1h0.65M330.5 380.5h0.65M341.8 349.1h0.65M354.8 373.9h0.65M334.6 331.8h0.65M338.5 383.4h0.65M352.2 325.4h0.65M363.2 343.6h0.65M346.6 325.6h0.65M352.8 328.0h0.65M356.7 360.5h0.65M343.7 323.6h0.65M365.0 336.3h0.65M359.0 328.0h0.65M358.0 367.9h0.65M354.2 324.5h0.65M358.6 334.2h0.65M357.8 368.6h0.65M334.4 352.5h0.65M359.5 353.9h0.65M337.5 384.4h0.65M335.6 320.2h0.65M356.6 350.4h0.65M327.4 359.0h0.65M344.5 359.1h0.65M356.1 355.1h0.65M352.8 323.9h0.65M330.0 324.6h0.65M342.2 361.2h0.65M364.9 347.1h0.65M356.7 330.7h0.65M359.7 317.7h0.65M340.0 343.9h0.65M340.3 325.0h0.65M345.2 359.2h0.65M335.2 334.5h0.65M336.2 363.5h0.65M335.2 325.0h0.65M331.4 342.2h0.65M355.5 325.1h0.65M342.3 361.7h0.65M332.4 345.1h0.65M364.1 329.4h0.65M344.6 382.1h0.65M344.1 351.9h0.65M336.9 334.2h0.65M330.2 368.7h0.65M334.8 336.3h0.65M347.4 380.1h0.65M362.9 332.1h0.65" stroke="#1a1a1a" stroke-width="0.65" fill="none"/>
<path d="M341.3 374.2 340.8 373.4 342.3 372.9 342.2 373.6 341.3 374.2Z M341.5 375.0 339.8 374.8 339.8 372.9 341.8 371.7 343.8 371.8 344.1 372.4 343.7 373.4 341.5 375.0Z M341.3 375.9 339.8 376.0 338.6 375.4 338.3 373.9 338.9 372.4 342.0 370.5 344.0 370.3 345.3 370.7 345.8 371.6 345.2 373.1 341.3 375.9Z M340.8 376.9 338.5 376.8 337.3 375.6 337.1 373.6 338.1 371.6 339.8 370.3 342.5 369.2 345.0 369.0 346.8 369.6 347.5 371.1 346.5 373.1 343.8 375.5 340.8 376.9Z M351.5 353.5 351.1 353.1 351.5 352.4 351.5 353.5Z M340.0 377.9 337.5 377.5 336.1 375.9 336.0 373.4 337.4 370.9 340.0 369.0 343.5 367.8 346.5 367.7 348.4 368.6 349.1 370.6 347.3 373.6 343.3 376.8 340.0 377.9Z M351.3 355.5 350.5 355.1 350.2 353.4 350.8 351.3 351.8 350.4 352.5 351.1 352.6 352.6 351.3 355.5Z M340.8 378.7 337.5 378.7 335.3 377.1 334.7 373.9 336.2 370.6 338.8 368.5 343.3 366.7 347.0 366.4 349.8 367.3 350.9 369.6 349.3 372.9 345.3 376.5 340.8 378.7Z M348.3 336.9 347.5 336.9 347.3 336.4 348.3 336.1 348.3 336.9Z M351.3 357.4 350.5 357.5 349.8 356.8 349.3 353.6 350.4 349.9 352.0 348.4 353.2 349.4 353.5 352.4 352.6 355.6 351.3 357.4Z M340.3 379.6 336.5 379.5 334.1 377.6 333.5 373.9 335.3 370.1 338.5 367.5 343.8 365.5 348.3 365.0 351.3 366.2 352.3 367.4 352.5 368.9 350.6 372.9 345.5 377.3 340.3 379.6Z M349.3 339.7 346.5 339.6 344.4 338.1 344.0 335.9 345.3 334.0 348.5 333.3 351.4 334.9 352.0 336.4 351.7 337.9 349.3 339.7Z M350.8 359.7 349.8 359.6 348.9 358.1 348.5 353.1 350.2 347.9 351.3 346.5 352.5 346.1 354.1 348.1 354.3 352.6 352.9 357.4 350.8 359.7Z M339.5 380.6 335.3 380.2 332.8 377.9 332.4 373.9 334.3 369.6 337.8 366.8 344.0 364.2 349.5 363.3 352.5 364.7 353.9 366.4 354.2 368.1 353.6 370.4 351.9 372.9 345.5 378.3 342.8 379.7 339.5 380.6Z M338.8 381.6 335.0 381.3 332.6 379.9 331.2 376.9 331.2 373.6 332.7 370.1 335.5 367.0 340.0 364.5 346.6 362.1 347.6 361.1 347.6 353.1 349.7 344.1 348.8 343.2 344.8 342.0 342.5 340.6 340.9 338.6 340.5 336.1 341.4 333.6 343.8 331.5 346.8 330.5 350.0 330.7 353.8 332.7 355.5 336.1 354.3 342.4 355.3 347.9 355.3 351.9 352.7 361.4 355.6 365.6 355.8 368.1 353.8 372.1 349.5 376.4 343.8 380.2 338.8 381.6Z M339.8 382.4 335.8 382.5 332.8 381.5 330.9 379.6 329.9 376.1 330.7 371.6 333.3 367.6 337.3 364.7 345.3 361.1 346.4 359.4 347.0 346.7 346.0 345.6 341.0 343.3 338.9 341.4 337.3 338.4 337.2 335.1 338.7 331.9 341.8 329.2 346.0 327.8 350.5 328.0 353.5 329.0 356.0 330.6 357.9 332.9 358.8 335.4 358.8 338.1 356.9 344.1 356.2 352.4 354.6 359.9 354.9 361.4 357.4 364.9 357.5 367.4 355.5 371.6 351.0 376.3 344.8 380.6 339.8 382.4Z" stroke="#000" stroke-width="0.8" fill="none" stroke-linejoin="round"/>
<ellipse cx="350.50" cy="335.80" rx="2.6" ry="1.7" fill="#fff"/>
<ellipse cx="341.40" cy="373.80" rx="2.3" ry="1.4" fill="#fff"/>
</g>
<line x1="336.20" y1="315.00" x2="336.20" y2="396.30" stroke="#555" stroke-width="0.85"/>
<line x1="304.40" y1="347.00" x2="397.60" y2="347.00" stroke="#555" stroke-width="0.85"/>
<path d="M304.40 315.00V396.30H397.60V315.00" fill="none" stroke="#8a8a8a" stroke-width="0.8"/>
<line x1="302.20" y1="321.80" x2="304.40" y2="321.80" stroke="#555" stroke-width="0.7"/>
<text x="301.80" y="323.70" font-size="5.6" fill="#333" text-anchor="end">10<tspan font-size="4.03" dy="-2.2">5</tspan></text>
<line x1="302.20" y1="342.00" x2="304.40" y2="342.00" stroke="#555" stroke-width="0.7"/>
<text x="301.80" y="343.90" font-size="5.6" fill="#333" text-anchor="end">10<tspan font-size="4.03" dy="-2.2">4</tspan></text>
<line x1="302.20" y1="362.40" x2="304.40" y2="362.40" stroke="#555" stroke-width="0.7"/>
<text x="301.80" y="364.30" font-size="5.6" fill="#333" text-anchor="end">10<tspan font-size="4.03" dy="-2.2">3</tspan></text>
<line x1="302.20" y1="377.00" x2="304.40" y2="377.00" stroke="#555" stroke-width="0.7"/>
<text x="300.20" y="378.90" font-size="5.6" fill="#333" text-anchor="end">0</text>
<line x1="302.20" y1="388.50" x2="304.40" y2="388.50" stroke="#555" stroke-width="0.7"/>
<text x="301.80" y="390.40" font-size="5.6" fill="#333" text-anchor="end">−10<tspan font-size="4.03" dy="-2.2">3</tspan></text>
<line x1="303.30" y1="327.86" x2="304.40" y2="327.86" stroke="#777" stroke-width="0.5"/>
<line x1="303.30" y1="331.90" x2="304.40" y2="331.90" stroke="#777" stroke-width="0.5"/>
<line x1="303.30" y1="335.94" x2="304.40" y2="335.94" stroke="#777" stroke-width="0.5"/>
<line x1="303.30" y1="348.12" x2="304.40" y2="348.12" stroke="#777" stroke-width="0.5"/>
<line x1="303.30" y1="352.20" x2="304.40" y2="352.20" stroke="#777" stroke-width="0.5"/>
<line x1="303.30" y1="356.28" x2="304.40" y2="356.28" stroke="#777" stroke-width="0.5"/>
<line x1="303.30" y1="366.78" x2="304.40" y2="366.78" stroke="#777" stroke-width="0.5"/>
<line x1="303.30" y1="369.70" x2="304.40" y2="369.70" stroke="#777" stroke-width="0.5"/>
<line x1="303.30" y1="372.62" x2="304.40" y2="372.62" stroke="#777" stroke-width="0.5"/>
<line x1="303.30" y1="380.45" x2="304.40" y2="380.45" stroke="#777" stroke-width="0.5"/>
<line x1="303.30" y1="382.75" x2="304.40" y2="382.75" stroke="#777" stroke-width="0.5"/>
<line x1="303.30" y1="385.05" x2="304.40" y2="385.05" stroke="#777" stroke-width="0.5"/>
<line x1="310.60" y1="396.30" x2="310.60" y2="398.50" stroke="#555" stroke-width="0.7"/>
<text x="310.80" y="406.90" font-size="5.6" fill="#333" text-anchor="middle">−10<tspan font-size="4.03" dy="-2.2">3</tspan></text>
<line x1="324.60" y1="396.30" x2="324.60" y2="398.50" stroke="#555" stroke-width="0.7"/>
<text x="324.60" y="406.90" font-size="5.6" fill="#333" text-anchor="middle">0</text>
<line x1="338.50" y1="396.30" x2="338.50" y2="398.50" stroke="#555" stroke-width="0.7"/>
<text x="338.70" y="406.90" font-size="5.6" fill="#333" text-anchor="middle">10<tspan font-size="4.03" dy="-2.2">3</tspan></text>
<line x1="365.40" y1="396.30" x2="365.40" y2="398.50" stroke="#555" stroke-width="0.7"/>
<text x="365.60" y="406.90" font-size="5.6" fill="#333" text-anchor="middle">10<tspan font-size="4.03" dy="-2.2">4</tspan></text>
<line x1="385.60" y1="396.30" x2="385.60" y2="398.50" stroke="#555" stroke-width="0.7"/>
<text x="385.80" y="406.90" font-size="5.6" fill="#333" text-anchor="middle">10<tspan font-size="4.03" dy="-2.2">5</tspan></text>
<line x1="314.80" y1="396.30" x2="314.80" y2="397.40" stroke="#777" stroke-width="0.5"/>
<line x1="317.60" y1="396.30" x2="317.60" y2="397.40" stroke="#777" stroke-width="0.5"/>
<line x1="320.40" y1="396.30" x2="320.40" y2="397.40" stroke="#777" stroke-width="0.5"/>
<line x1="328.77" y1="396.30" x2="328.77" y2="397.40" stroke="#777" stroke-width="0.5"/>
<line x1="331.55" y1="396.30" x2="331.55" y2="397.40" stroke="#777" stroke-width="0.5"/>
<line x1="334.33" y1="396.30" x2="334.33" y2="397.40" stroke="#777" stroke-width="0.5"/>
<line x1="346.57" y1="396.30" x2="346.57" y2="397.40" stroke="#777" stroke-width="0.5"/>
<line x1="351.95" y1="396.30" x2="351.95" y2="397.40" stroke="#777" stroke-width="0.5"/>
<line x1="357.33" y1="396.30" x2="357.33" y2="397.40" stroke="#777" stroke-width="0.5"/>
<line x1="371.46" y1="396.30" x2="371.46" y2="397.40" stroke="#777" stroke-width="0.5"/>
<line x1="375.50" y1="396.30" x2="375.50" y2="397.40" stroke="#777" stroke-width="0.5"/>
<line x1="379.54" y1="396.30" x2="379.54" y2="397.40" stroke="#777" stroke-width="0.5"/>
<rect x="302.80" y="375.40" width="1.4" height="3.2" fill="#000"/>
<rect x="322.20" y="396.60" width="4.8" height="1.4" fill="#000"/>
<text x="306.70" y="324.60" font-size="8.2" fill="#1a1a1a" font-weight="bold">0,46</text>
<text x="392.40" y="324.60" font-size="8.2" fill="#1a1a1a" font-weight="bold" text-anchor="end">18,0</text>
<text x="306.70" y="392.90" font-size="8.2" fill="#1a1a1a" font-weight="bold">7,40</text>
<text x="392.40" y="392.90" font-size="8.2" fill="#1a1a1a" font-weight="bold" text-anchor="end">74,2</text>
<clipPath id="c6"><rect x="304.40" y="416.00" width="93.20" height="81.30"/></clipPath>
<g clip-path="url(#c6)">
<path d="M359.8 438.2h0.65M347.5 485.4h0.65M362.3 437.7h0.65M329.0 469.4h0.65M331.3 477.7h0.65M364.6 441.5h0.65M365.1 443.6h0.65M339.8 440.6h0.65M344.1 428.6h0.65M367.8 445.7h0.65M342.2 433.7h0.65M360.0 434.3h0.65M362.6 430.8h0.65M344.7 431.4h0.65M356.4 471.9h0.65M339.5 443.0h0.65M342.1 434.3h0.65M340.0 452.1h0.65M357.6 453.0h0.65M331.5 456.0h0.65M349.0 480.8h0.65M359.2 429.5h0.65M364.9 440.5h0.65M342.1 435.9h0.65M340.3 422.8h0.65M344.9 430.9h0.65M359.3 441.6h0.65M342.5 441.6h0.65M338.3 453.8h0.65M358.8 444.3h0.65M356.4 453.0h0.65M360.9 432.7h0.65M344.1 429.4h0.65M332.1 438.4h0.65M355.3 428.2h0.65M361.5 440.1h0.65M343.0 444.9h0.65M330.0 462.4h0.65M331.1 477.4h0.65M356.1 426.2h0.65M338.4 483.2h0.65M333.4 462.3h0.65M346.4 485.5h0.65M351.4 429.0h0.65M360.0 440.5h0.65M360.9 446.8h0.65M329.0 465.2h0.65M336.7 437.3h0.65M342.4 444.4h0.65M360.2 435.3h0.65M339.0 444.3h0.65M356.9 447.4h0.65M360.3 450.3h0.65M356.1 460.9h0.65M342.9 433.7h0.65M336.9 454.8h0.65M360.0 428.0h0.65M356.5 453.3h0.65M333.9 444.8h0.65M346.2 429.4h0.65M359.4 434.3h0.65M353.3 427.0h0.65M337.7 440.5h0.65M343.5 442.2h0.65M373.2 446.0h0.65M352.3 427.2h0.65M357.8 461.8h0.65M363.1 437.6h0.65M363.1 435.7h0.65M323.0 479.7h0.65M359.4 452.5h0.65M357.5 456.8h0.65M344.8 448.6h0.65M344.0 432.4h0.65M363.4 429.5h0.65M360.0 430.9h0.65M342.5 438.8h0.65M356.4 430.3h0.65M358.8 445.5h0.65M341.9 483.7h0.65M328.6 464.5h0.65M336.0 437.5h0.65M336.9 437.1h0.65M330.5 468.6h0.65M340.7 484.0h0.65M356.2 453.5h0.65M359.0 434.3h0.65M340.6 444.4h0.65M358.9 430.0h0.65M342.2 443.7h0.65M348.5 479.3h0.65M326.2 431.8h0.65M358.7 443.8h0.65M356.9 455.0h0.65M333.9 483.0h0.65M358.8 454.7h0.65M364.9 443.9h0.65M330.3 456.6h0.65M360.1 436.3h0.65M343.5 428.4h0.65M352.3 473.8h0.65M346.3 445.0h0.65M343.6 481.8h0.65M344.7 431.0h0.65M345.5 422.1h0.65M357.9 447.7h0.65M358.4 461.5h0.65M340.2 486.0h0.65M338.2 455.3h0.65M344.5 428.0h0.65M344.9 450.2h0.65M365.3 441.1h0.65M363.5 430.9h0.65M327.9 472.7h0.65M332.7 461.8h0.65M353.9 471.5h0.65M340.3 453.4h0.65M332.0 460.4h0.65M333.4 459.3h0.65M367.1 434.1h0.65M357.5 450.2h0.65M331.3 477.8h0.65M359.5 440.4h0.65M339.5 430.5h0.65M344.9 423.7h0.65M344.5 427.6h0.65M345.0 443.7h0.65M366.2 423.1h0.65M335.4 458.5h0.65M365.8 462.7h0.65M333.1 482.4h0.65M331.9 464.7h0.65M361.4 443.2h0.65M327.9 468.2h0.65M356.2 466.2h0.65M356.0 426.8h0.65M351.9 424.1h0.65M344.9 431.3h0.65M335.5 482.9h0.65M362.9 440.8h0.65M352.9 472.4h0.65M359.1 440.1h0.65M360.5 456.0h0.65M341.3 440.7h0.65M355.0 472.5h0.65M360.1 447.6h0.65M341.0 482.6h0.65M329.2 471.9h0.65M340.1 484.7h0.65M359.6 438.3h0.65M362.2 435.4h0.65M333.5 456.1h0.65M356.8 460.8h0.65M359.4 443.1h0.65M337.1 429.8h0.65M367.0 433.8h0.65M341.1 489.8h0.65M335.8 437.2h0.65M360.7 438.3h0.65M346.4 447.7h0.65M347.0 428.9h0.65M361.8 429.6h0.65M328.3 469.9h0.65M357.4 446.5h0.65M365.6 432.4h0.65M333.9 480.6h0.65M361.4 434.8h0.65M358.6 459.2h0.65M334.4 460.0h0.65M351.9 428.2h0.65M360.9 427.4h0.65M354.5 467.6h0.65M348.3 429.4h0.65M359.5 431.3h0.65M330.6 478.0h0.65M357.9 449.7h0.65M352.8 479.7h0.65M332.5 479.2h0.65M331.6 463.3h0.65M348.0 427.9h0.65M358.8 448.0h0.65M341.2 434.4h0.65M346.7 430.3h0.65M337.5 443.6h0.65M353.9 470.8h0.65M340.9 482.6h0.65M357.3 447.3h0.65M341.2 447.4h0.65M350.2 478.4h0.65M357.4 451.4h0.65M329.7 473.9h0.65M359.3 446.7h0.65M339.5 483.8h0.65M333.0 461.2h0.65M339.7 444.6h0.65M346.5 430.1h0.65M345.7 481.2h0.65M351.6 426.6h0.65M338.1 426.7h0.65M348.0 422.9h0.65M327.5 474.5h0.65M332.9 462.5h0.65M349.8 426.6h0.65M345.9 426.6h0.65M338.7 430.4h0.65M332.7 459.8h0.65M338.9 439.5h0.65M352.7 471.7h0.65M337.2 483.3h0.65M356.2 456.4h0.65M359.4 445.5h0.65M351.6 477.7h0.65M333.0 435.3h0.65M355.7 462.3h0.65M338.2 425.4h0.65M368.5 434.7h0.65M335.0 455.9h0.65M331.6 465.2h0.65M361.0 443.7h0.65M346.0 445.0h0.65M331.0 465.0h0.65M355.6 463.9h0.65M357.4 463.8h0.65M333.1 480.4h0.65M348.5 427.7h0.65M338.2 436.4h0.65M356.5 464.5h0.65M351.1 479.6h0.65M351.5 475.3h0.65M331.2 444.4h0.65M330.1 470.5h0.65M342.5 451.9h0.65M340.5 428.5h0.65M330.2 475.1h0.65M361.0 442.3h0.65M337.3 422.3h0.65M359.8 432.0h0.65M366.5 432.7h0.65M360.5 426.6h0.65M337.8 483.3h0.65M340.2 443.3h0.65M344.2 450.1h0.65M342.1 452.5h0.65M339.1 482.7h0.65M345.9 449.5h0.65M361.7 438.8h0.65M359.7 443.6h0.65M360.2 437.1h0.65M355.6 466.0h0.65M350.9 477.6h0.65M363.5 430.5h0.65M359.7 424.4h0.65M330.8 477.5h0.65M337.9 456.2h0.65M346.0 482.1h0.65M341.0 438.6h0.65M342.9 431.5h0.65M333.2 480.1h0.65M343.6 426.9h0.65M358.8 468.6h0.65M328.1 470.1h0.65M329.4 475.0h0.65M345.3 444.8h0.65M340.3 432.8h0.65M365.0 424.4h0.65M340.2 445.4h0.65M340.5 488.7h0.65M340.4 439.1h0.65M336.3 448.9h0.65M347.1 429.5h0.65M335.3 459.4h0.65M329.9 474.4h0.65M337.2 437.1h0.65M338.9 448.8h0.65M339.1 435.3h0.65M342.3 436.1h0.65M350.0 426.0h0.65M361.6 442.4h0.65M329.2 474.9h0.65M330.5 466.3h0.65M356.3 460.7h0.65M343.4 441.4h0.65M346.2 447.9h0.65M357.4 453.3h0.65M354.6 428.6h0.65M327.6 472.6h0.65M361.3 435.3h0.65M370.8 440.0h0.65M346.5 427.1h0.65M342.5 444.6h0.65M355.4 465.0h0.65M358.5 442.2h0.65M337.6 448.6h0.65M336.5 453.6h0.65M343.5 482.0h0.65M353.2 475.3h0.65M344.1 446.0h0.65M339.9 438.3h0.65M328.5 473.6h0.65M346.1 448.7h0.65M355.9 472.8h0.65M354.6 430.0h0.65M363.2 434.4h0.65M332.0 458.6h0.65M357.1 452.4h0.65M342.0 438.4h0.65M331.5 440.3h0.65M369.8 439.4h0.65M330.2 468.7h0.65M348.5 427.2h0.65M365.2 431.8h0.65M335.8 457.7h0.65M357.2 430.8h0.65M335.1 452.8h0.65M344.2 443.2h0.65M330.0 471.6h0.65M355.0 468.7h0.65M362.4 436.1h0.65M360.7 431.5h0.65M359.1 426.7h0.65M359.1 443.5h0.65M343.3 443.8h0.65M329.8 463.7h0.65M360.6 464.1h0.65M355.2 466.2h0.65M334.3 460.5h0.65M339.5 453.8h0.65M359.1 443.2h0.65M358.1 432.3h0.65M357.0 464.3h0.65M360.1 469.0h0.65M355.4 430.0h0.65M359.8 434.4h0.65M342.9 449.4h0.65M340.5 435.0h0.65M340.1 446.5h0.65M346.3 480.3h0.65M361.2 437.8h0.65M357.8 454.8h0.65M362.2 451.5h0.65M364.3 439.9h0.65M368.5 438.2h0.65M345.0 443.1h0.65M343.1 419.2h0.65M356.8 428.7h0.65M330.1 469.7h0.65M341.5 430.2h0.65M342.4 435.8h0.65M374.7 445.1h0.65M328.7 471.9h0.65M357.6 462.8h0.65M359.6 445.0h0.65M356.7 463.7h0.65M361.4 435.1h0.65M330.0 471.0h0.65M350.7 426.7h0.65M359.9 434.5h0.65M342.8 434.3h0.65M366.6 441.9h0.65M348.6 429.1h0.65M328.8 479.6h0.65M359.5 438.6h0.65M343.6 451.1h0.65M346.9 427.9h0.65M333.4 446.7h0.65M359.4 442.6h0.65M345.3 425.8h0.65M337.1 448.0h0.65M334.3 459.1h0.65M330.0 472.3h0.65M356.1 462.0h0.65M327.8 467.3h0.65M366.8 453.7h0.65M356.3 460.7h0.65M342.1 442.6h0.65M366.1 445.0h0.65M361.8 439.9h0.65M357.6 455.2h0.65M339.3 442.7h0.65M358.5 449.3h0.65M351.3 477.7h0.65M357.8 454.8h0.65M358.3 447.8h0.65M358.9 444.8h0.65M357.6 461.4h0.65M331.5 464.8h0.65M329.4 480.6h0.65M342.3 438.0h0.65M368.0 445.1h0.65M359.3 452.2h0.65M327.1 469.4h0.65M358.3 447.5h0.65M356.5 431.0h0.65M329.1 463.6h0.65M352.2 429.4h0.65M361.0 446.5h0.65M336.1 486.1h0.65M356.1 478.9h0.65M349.9 479.8h0.65M362.0 432.7h0.65M362.1 422.4h0.65M340.8 428.1h0.65M329.6 466.7h0.65M333.1 483.0h0.65M336.9 484.5h0.65M358.3 444.1h0.65M355.3 464.9h0.65M353.0 472.3h0.65M351.0 426.3h0.65M342.5 449.4h0.65M329.7 467.1h0.65M342.9 441.4h0.65M358.2 446.0h0.65M347.0 423.0h0.65M356.5 430.9h0.65M348.1 429.7h0.65M358.5 446.1h0.65M335.2 482.2h0.65M360.2 453.5h0.65M361.1 449.6h0.65M361.1 437.3h0.65M346.4 428.3h0.65M358.5 445.0h0.65M346.6 445.7h0.65M361.4 438.0h0.65M348.7 426.6h0.65M338.4 482.4h0.65M358.0 454.6h0.65M344.6 450.7h0.65M357.4 451.4h0.65M361.6 452.1h0.65M367.7 452.2h0.65M337.8 456.8h0.65M371.2 434.8h0.65M355.8 430.1h0.65M343.2 451.3h0.65M355.4 471.1h0.65M342.5 443.4h0.65M345.0 449.2h0.65M351.8 426.6h0.65M359.0 447.4h0.65M334.2 437.1h0.65M353.1 471.1h0.65M357.7 427.7h0.65M359.4 432.2h0.65M356.3 467.8h0.65M349.0 426.5h0.65M341.1 437.7h0.65M343.9 449.0h0.65M362.4 447.3h0.65M363.3 448.8h0.65M342.5 483.9h0.65M352.8 422.4h0.65M358.4 459.9h0.65M341.5 437.9h0.65M339.3 436.2h0.65M343.0 427.0h0.65M365.4 433.7h0.65M350.1 480.7h0.65M334.9 481.2h0.65M343.6 482.8h0.65M346.5 447.0h0.65M346.5 429.7h0.65M343.1 426.8h0.65M342.0 436.6h0.65M357.6 445.8h0.65M363.0 446.7h0.65M330.2 477.8h0.65M343.5 446.3h0.65M354.0 469.2h0.65M337.6 434.7h0.65M336.6 484.1h0.65M333.6 482.3h0.65M362.3 438.5h0.65M349.5 480.1h0.65M357.6 453.1h0.65M367.3 440.9h0.65M327.1 439.2h0.65M357.9 445.1h0.65M344.7 426.7h0.65M330.3 468.7h0.65M363.0 435.5h0.65M358.8 468.4h0.65M353.1 429.2h0.65M345.8 445.7h0.65M348.0 429.3h0.65M363.9 446.4h0.65M331.0 460.5h0.65M342.3 449.0h0.65M340.2 429.8h0.65M348.0 482.4h0.65M330.6 480.4h0.65M337.6 482.9h0.65M359.6 445.1h0.65M346.5 448.7h0.65M343.8 430.9h0.65M338.2 431.5h0.65M332.2 456.1h0.65M331.2 463.4h0.65M340.7 443.6h0.65M356.2 457.9h0.65M360.7 458.4h0.65M357.4 446.4h0.65M360.8 442.4h0.65M333.5 482.3h0.65M343.4 430.4h0.65M365.8 437.6h0.65M332.0 479.5h0.65M340.0 453.9h0.65M343.9 450.7h0.65M344.3 446.7h0.65M335.9 436.4h0.65M335.4 458.1h0.65M344.2 450.1h0.65M341.1 439.3h0.65M342.0 448.5h0.65M360.8 449.3h0.65M336.7 455.4h0.65M347.6 430.0h0.65M341.1 425.4h0.65M345.9 426.9h0.65M340.8 442.9h0.65M337.9 450.2h0.65M328.6 469.9h0.65M345.9 444.6h0.65M328.3 475.1h0.65M357.9 444.4h0.65M363.1 428.0h0.65M340.7 425.2h0.65M340.6 447.5h0.65M359.3 439.3h0.65M351.6 428.2h0.65M341.1 438.3h0.65M325.2 469.1h0.65M328.4 485.3h0.65M338.8 426.3h0.65M342.4 426.3h0.65M348.2 427.1h0.65M360.2 439.7h0.65M337.3 441.0h0.65M361.2 436.0h0.65M330.3 469.3h0.65M334.9 434.8h0.65M336.3 439.5h0.65M337.8 440.3h0.65M368.0 443.2h0.65M341.8 433.2h0.65M336.0 458.7h0.65M343.7 449.5h0.65M358.3 456.1h0.65M334.3 443.9h0.65M341.1 437.1h0.65M341.2 446.0h0.65M330.2 467.3h0.65M349.7 482.5h0.65M359.0 464.8h0.65M341.8 433.1h0.65M359.1 442.0h0.65M356.9 461.7h0.65M350.8 476.1h0.65M327.0 434.8h0.65M357.2 431.6h0.65M360.0 429.8h0.65M356.3 459.9h0.65M330.6 431.5h0.65M336.2 457.9h0.65M339.1 449.9h0.65M356.8 469.6h0.65M336.8 442.4h0.65M357.7 451.9h0.65M349.4 481.9h0.65M332.9 430.6h0.65M358.6 441.8h0.65M360.2 449.8h0.65M353.6 474.0h0.65M341.3 442.0h0.65M364.2 439.6h0.65M356.5 456.7h0.65M343.5 442.1h0.65M341.2 441.3h0.65M360.3 448.8h0.65M358.1 431.1h0.65M348.2 423.0h0.65M344.0 444.8h0.65M343.8 451.1h0.65M360.9 441.6h0.65M362.8 439.7h0.65M346.2 448.7h0.65M341.2 430.8h0.65M349.7 427.2h0.65M342.9 444.1h0.65M355.7 429.9h0.65M364.0 436.1h0.65M362.4 440.2h0.65M342.2 433.9h0.65M346.1 447.0h0.65M338.6 455.3h0.65M346.1 429.3h0.65M348.8 479.8h0.65M356.6 455.7h0.65M335.0 486.4h0.65M352.6 474.0h0.65M344.3 449.0h0.65M333.6 459.7h0.65M357.5 452.0h0.65M352.4 428.9h0.65M340.9 483.0h0.65M360.0 436.1h0.65M341.1 437.6h0.65M342.2 426.4h0.65M339.3 444.9h0.65M342.1 434.5h0.65M328.0 471.6h0.65M362.1 450.3h0.65M331.8 460.5h0.65M340.3 435.3h0.65M365.1 445.3h0.65M361.1 443.9h0.65M359.7 431.7h0.65M363.7 445.6h0.65M340.3 449.1h0.65M356.5 460.0h0.65M361.0 438.7h0.65M359.4 439.8h0.65M360.1 449.4h0.65M331.5 477.8h0.65M361.8 433.3h0.65M357.0 470.4h0.65M327.1 471.6h0.65M351.8 429.1h0.65M358.6 442.7h0.65M349.7 428.9h0.65M339.7 447.5h0.65M351.9 477.1h0.65M343.2 482.0h0.65M350.8 428.3h0.65M346.8 426.6h0.65M354.6 471.8h0.65M340.2 423.7h0.65M328.2 473.9h0.65M337.7 441.8h0.65M359.8 456.8h0.65M334.6 481.7h0.65M343.1 432.7h0.65M332.4 461.6h0.65M342.6 451.3h0.65M352.5 477.1h0.65M359.0 455.0h0.65M332.2 463.1h0.65M346.0 482.5h0.65M363.6 442.1h0.65M342.7 442.8h0.65M347.2 427.6h0.65M329.3 473.0h0.65M338.8 447.7h0.65M339.5 487.0h0.65M362.0 439.6h0.65M332.0 480.0h0.65M363.1 442.9h0.65M351.8 474.2h0.65M356.5 431.1h0.65M345.9 427.3h0.65M359.5 435.2h0.65M353.0 473.9h0.65M350.2 476.3h0.65M345.4 430.1h0.65M339.7 436.5h0.65M357.5 456.2h0.65M359.3 433.7h0.65M329.8 474.5h0.65M332.4 479.1h0.65M341.8 433.3h0.65M364.1 428.3h0.65M377.8 442.2h0.65M342.7 444.7h0.65M359.6 441.1h0.65M339.1 451.4h0.65M343.7 486.9h0.65M358.9 432.8h0.65M344.1 482.6h0.65M332.1 464.7h0.65M364.4 447.4h0.65M361.8 436.0h0.65M356.4 429.6h0.65M349.9 428.8h0.65M351.3 423.7h0.65M343.4 441.9h0.65M362.6 443.7h0.65M337.0 437.9h0.65M353.0 475.5h0.65M329.7 471.6h0.65M353.2 427.7h0.65M339.7 451.3h0.65M341.1 430.3h0.65M344.5 421.0h0.65M345.4 484.2h0.65M360.0 439.1h0.65M337.1 439.2h0.65M360.4 432.5h0.65M349.9 478.0h0.65M342.6 427.5h0.65M356.9 451.4h0.65M330.5 475.5h0.65M328.1 470.2h0.65M341.9 442.7h0.65M356.2 454.0h0.65M348.4 423.0h0.65M350.2 477.6h0.65M338.6 419.3h0.65M343.1 451.6h0.65M362.0 448.4h0.65M356.2 426.1h0.65M345.7 421.3h0.65M362.3 432.7h0.65M330.5 442.5h0.65M357.5 461.3h0.65M341.7 447.5h0.65M355.1 475.9h0.65M358.1 462.3h0.65M355.8 463.3h0.65M339.1 433.4h0.65M356.6 459.3h0.65M338.4 455.2h0.65M355.3 464.7h0.65M357.6 459.7h0.65M344.4 449.0h0.65M342.1 434.1h0.65M340.1 432.7h0.65M328.6 444.8h0.65M344.8 429.1h0.65M358.3 447.1h0.65M356.1 427.3h0.65M348.1 429.7h0.65M341.6 485.2h0.65M360.1 439.5h0.65M349.3 480.0h0.65M351.3 474.9h0.65M340.2 451.2h0.65M341.7 482.6h0.65M333.0 462.8h0.65M349.2 427.6h0.65M359.2 439.3h0.65M332.7 456.1h0.65M358.5 441.3h0.65M365.5 437.8h0.65M367.7 442.3h0.65M360.3 441.6h0.65M359.7 464.8h0.65M355.0 471.3h0.65M356.2 463.6h0.65M336.9 457.6h0.65M329.8 467.6h0.65M361.8 439.9h0.65M351.6 474.2h0.65M337.8 439.9h0.65M353.0 474.8h0.65M332.0 462.8h0.65M361.3 449.1h0.65M358.6 429.6h0.65M357.4 457.7h0.65M355.9 429.8h0.65M340.0 435.5h0.65M356.3 467.6h0.65M377.2 448.9h0.65M360.2 434.7h0.65M333.1 482.5h0.65M348.5 427.7h0.65M330.4 468.0h0.65M332.7 480.0h0.65M358.1 431.4h0.65M342.1 482.7h0.65M343.2 429.8h0.65M361.0 433.4h0.65M358.0 448.2h0.65M340.6 486.9h0.65M361.4 439.7h0.65M351.4 421.3h0.65M340.6 452.6h0.65M337.3 437.3h0.65M330.5 482.3h0.65M360.2 432.0h0.65M326.5 458.4h0.65M364.3 420.6h0.65M335.5 456.2h0.65M341.4 432.6h0.65M331.3 479.5h0.65M343.6 433.0h0.65M358.8 446.9h0.65M354.2 469.6h0.65M349.6 428.7h0.65M363.6 437.6h0.65M328.9 476.5h0.65M354.4 468.4h0.65M353.4 472.2h0.65M355.9 467.7h0.65M331.6 458.4h0.65M337.3 442.3h0.65M345.0 484.3h0.65M360.2 440.2h0.65M329.4 473.6h0.65M357.2 454.4h0.65M338.6 442.3h0.65M354.3 427.4h0.65M365.5 424.9h0.65M341.8 434.1h0.65M330.6 467.2h0.65M332.5 459.0h0.65M357.0 429.4h0.65M357.1 446.1h0.65M340.5 433.2h0.65M342.6 430.6h0.65M333.4 459.6h0.65M345.8 444.3h0.65M334.2 457.1h0.65M345.2 444.6h0.65M351.9 479.3h0.65M344.0 418.1h0.65M358.1 446.9h0.65M350.3 427.9h0.65M341.6 426.0h0.65M331.2 458.8h0.65M365.0 425.9h0.65M351.2 476.2h0.65M346.5 429.8h0.65M365.3 430.0h0.65M336.7 452.0h0.65M343.1 433.1h0.65M327.8 460.2h0.65M358.9 445.2h0.65M330.8 479.7h0.65M356.2 460.5h0.65M346.0 449.0h0.65M334.9 450.9h0.65M329.4 479.8h0.65M343.4 444.0h0.65M357.2 457.0h0.65M329.9 465.3h0.65M340.9 453.7h0.65M342.0 452.2h0.65M338.3 455.5h0.65M361.3 435.2h0.65M341.3 429.5h0.65M359.0 442.5h0.65M356.9 447.6h0.65M341.2 437.9h0.65M330.9 452.0h0.65M336.0 456.8h0.65M329.7 470.1h0.65M330.3 458.2h0.65M330.0 480.7h0.65M333.1 459.4h0.65M341.4 438.4h0.65M331.1 450.6h0.65M347.2 428.5h0.65M335.2 455.7h0.65M338.0 486.7h0.65M355.9 462.9h0.65M346.9 420.0h0.65M366.8 449.2h0.65M360.4 428.9h0.65M330.7 462.9h0.65M361.9 428.1h0.65M330.8 461.2h0.65M345.9 423.2h0.65M332.6 462.5h0.65M357.2 454.6h0.65M356.2 463.7h0.65M354.6 468.5h0.65M356.4 449.0h0.65M347.8 479.4h0.65M335.7 459.5h0.65M366.7 442.4h0.65M362.8 442.5h0.65M367.6 440.6h0.65M339.6 441.3h0.65M329.1 468.1h0.65M360.5 426.0h0.65M341.4 435.8h0.65M326.7 477.7h0.65M342.8 440.7h0.65M331.3 464.4h0.65M371.2 431.8h0.65M350.5 476.2h0.65M341.7 428.1h0.65M359.2 454.7h0.65M358.8 428.7h0.65M356.5 452.1h0.65M341.4 452.5h0.65M345.6 429.8h0.65M360.8 435.8h0.65M352.0 427.6h0.65M364.0 438.8h0.65M345.8 429.9h0.65M339.5 429.8h0.65M365.3 434.9h0.65M357.8 430.7h0.65M343.2 482.1h0.65M360.7 466.2h0.65M353.0 426.0h0.65M358.1 430.0h0.65M336.7 482.2h0.65M359.7 450.4h0.65M362.5 444.4h0.65M346.3 426.7h0.65M343.0 426.8h0.65M344.4 442.9h0.65M343.9 441.9h0.65M362.7 440.0h0.65M345.9 425.1h0.65M360.4 435.4h0.65M333.8 461.2h0.65M361.9 446.7h0.65M342.2 439.7h0.65M353.6 470.7h0.65M359.3 428.5h0.65M358.3 458.0h0.65M340.1 433.8h0.65M331.9 464.7h0.65M366.6 437.6h0.65M353.0 427.9h0.65M344.7 445.8h0.65M346.7 428.8h0.65M358.7 465.2h0.65M351.1 480.9h0.65M341.2 448.2h0.65M325.7 468.3h0.65M346.6 447.6h0.65M331.1 478.5h0.65M341.5 432.6h0.65M356.1 430.3h0.65M357.8 426.7h0.65M359.6 436.6h0.65M359.1 444.7h0.65M337.6 440.9h0.65M353.4 428.2h0.65M343.6 447.9h0.65M343.3 426.4h0.65M363.3 442.2h0.65M329.4 469.9h0.65M356.5 449.6h0.65M339.6 452.0h0.65M344.1 444.3h0.65M358.7 444.2h0.65M363.5 427.4h0.65M350.3 426.6h0.65M341.9 440.7h0.65M352.5 473.1h0.65M359.8 449.7h0.65M356.3 455.9h0.65M329.5 477.5h0.65M351.0 476.2h0.65M330.7 463.4h0.65M345.7 446.1h0.65M339.1 425.5h0.65M341.6 441.4h0.65M339.6 438.5h0.65M338.7 450.2h0.65M331.4 466.2h0.65M328.5 477.6h0.65M330.0 469.4h0.65M331.7 455.5h0.65M359.0 450.4h0.65M361.4 444.4h0.65M351.2 423.2h0.65M359.7 437.9h0.65M340.0 444.3h0.65M339.3 441.1h0.65M340.3 483.2h0.65M360.0 456.3h0.65M349.4 479.2h0.65M333.6 461.7h0.65M341.7 447.4h0.65M337.0 451.1h0.65M356.4 449.6h0.65M331.8 443.0h0.65M357.6 430.1h0.65M367.9 424.4h0.65M345.2 429.8h0.65M359.3 433.1h0.65M341.9 482.8h0.65M337.6 440.4h0.65M369.9 437.3h0.65M368.4 432.1h0.65M329.1 469.3h0.65M342.9 447.0h0.65M338.8 439.4h0.65M356.3 450.0h0.65M364.8 436.7h0.65M339.0 450.1h0.65M351.4 476.1h0.65M362.1 434.3h0.65M352.2 477.8h0.65M340.7 443.8h0.65M351.3 428.0h0.65M328.4 418.5h0.65M358.7 432.2h0.65M362.4 439.7h0.65M328.5 474.8h0.65M338.3 441.6h0.65M357.8 460.5h0.65M358.1 445.4h0.65M358.5 445.9h0.65M343.5 422.1h0.65M357.3 448.2h0.65M357.8 466.2h0.65M332.6 462.1h0.65M357.9 463.2h0.65M335.5 457.8h0.65M351.4 427.8h0.65M338.5 445.8h0.65M358.2 444.1h0.65M343.1 448.7h0.65M343.8 430.5h0.65M359.3 439.9h0.65M341.8 450.9h0.65M360.5 446.6h0.65M360.8 439.8h0.65M338.1 437.2h0.65M344.5 427.0h0.65M348.1 427.0h0.65M348.1 480.5h0.65M364.0 455.3h0.65M352.9 428.9h0.65M353.1 472.5h0.65M327.8 475.7h0.65M360.5 459.6h0.65M365.6 445.5h0.65M343.4 482.3h0.65M351.4 428.2h0.65M356.9 453.8h0.65M356.3 453.1h0.65M346.8 429.7h0.65M359.8 434.1h0.65M345.8 430.0h0.65M360.7 442.0h0.65M357.3 459.2h0.65M350.5 424.8h0.65M349.1 429.6h0.65M358.7 459.0h0.65M330.6 479.8h0.65M358.3 462.2h0.65M342.6 447.5h0.65M329.2 470.7h0.65M358.6 441.3h0.65M327.3 473.1h0.65M341.3 446.8h0.65M354.3 471.8h0.65M358.7 471.9h0.65M338.2 433.8h0.65M353.5 422.7h0.65M339.1 452.6h0.65M358.0 457.5h0.65M362.4 459.6h0.65M360.1 436.2h0.65M341.0 423.8h0.65M360.2 454.0h0.65M356.5 461.0h0.65M341.4 426.9h0.65M334.1 431.7h0.65M360.0 437.5h0.65M347.3 429.2h0.65M339.2 455.4h0.65M329.1 477.6h0.65M352.7 480.4h0.65M326.4 473.2h0.65M360.0 448.3h0.65M363.0 441.5h0.65M325.4 465.1h0.65M342.3 437.7h0.65M359.4 440.4h0.65M343.7 442.6h0.65M344.5 443.9h0.65M333.6 481.2h0.65M360.0 446.8h0.65M336.9 444.1h0.65M332.0 435.4h0.65M361.6 446.5h0.65M342.1 450.8h0.65M346.2 448.7h0.65M335.4 458.3h0.65M345.9 446.5h0.65M365.6 436.7h0.65M358.2 456.3h0.65M359.7 447.5h0.65M329.4 465.8h0.65M368.4 435.0h0.65M337.3 437.1h0.65M344.6 446.2h0.65M345.8 449.4h0.65M346.0 445.2h0.65M346.2 449.1h0.65M360.1 437.8h0.65M351.2 424.8h0.65M363.3 423.6h0.65M337.6 434.7h0.65M335.9 426.9h0.65M360.6 431.6h0.65M360.3 435.9h0.65M339.9 454.3h0.65M342.0 488.9h0.65M334.9 459.7h0.65M343.1 440.0h0.65M354.0 468.8h0.65M340.5 435.6h0.65M353.8 472.6h0.65M343.8 444.7h0.65M342.1 441.4h0.65M337.8 423.1h0.65M359.8 432.6h0.65M338.5 454.0h0.65M338.2 483.5h0.65M357.0 450.3h0.65M356.6 462.0h0.65M343.5 443.9h0.65M357.9 450.1h0.65M356.9 467.4h0.65M336.3 424.3h0.65M359.7 441.7h0.65M339.9 453.6h0.65M370.3 440.6h0.65M358.5 442.5h0.65M332.1 424.5h0.65M345.5 444.7h0.65M363.0 433.7h0.65M344.4 431.9h0.65M337.3 484.4h0.65M352.5 425.3h0.65M334.2 438.9h0.65M358.2 447.2h0.65M350.1 428.0h0.65M337.6 443.7h0.65M329.0 466.2h0.65M340.7 434.1h0.65M340.6 441.2h0.65M357.7 459.5h0.65M339.6 454.6h0.65M348.1 428.6h0.65M336.7 438.5h0.65M358.3 454.6h0.65M354.8 467.6h0.65M344.8 430.7h0.65M341.6 440.3h0.65M360.6 460.5h0.65M349.9 427.4h0.65M344.0 432.4h0.65M354.2 425.5h0.65M348.1 480.5h0.65M344.4 431.2h0.65M356.9 452.1h0.65M332.5 430.7h0.65M364.9 439.9h0.65M353.7 472.8h0.65M363.3 437.9h0.65M354.5 473.8h0.65M346.1 445.2h0.65M339.1 489.2h0.65M356.0 430.6h0.65M328.6 468.2h0.65M358.5 448.3h0.65M367.0 432.1h0.65M345.0 446.1h0.65M356.6 455.0h0.65M361.8 452.1h0.65M344.7 443.2h0.65M363.7 444.5h0.65M351.3 424.0h0.65M344.0 448.5h0.65M358.3 464.2h0.65M363.8 437.5h0.65M362.0 426.8h0.65M344.0 444.6h0.65M353.3 470.8h0.65M353.7 471.2h0.65M341.4 430.8h0.65M341.7 437.8h0.65M360.1 442.1h0.65M356.8 431.4h0.65M340.7 433.1h0.65M329.0 466.3h0.65M336.3 447.8h0.65M341.8 429.9h0.65M367.1 429.0h0.65M337.0 455.8h0.65M328.6 476.7h0.65M332.8 463.5h0.65M349.9 428.7h0.65M342.9 482.8h0.65M343.5 450.3h0.65M359.1 431.2h0.65M360.3 445.2h0.65M365.5 442.8h0.65M344.8 484.6h0.65M343.4 484.1h0.65M358.3 468.3h0.65M332.6 482.4h0.65M355.0 466.1h0.65M325.2 471.1h0.65M338.7 441.2h0.65M340.9 449.5h0.65M357.3 447.2h0.65M366.2 434.4h0.65M351.8 426.4h0.65M361.8 458.4h0.65M329.2 469.6h0.65M346.9 483.9h0.65M359.8 436.3h0.65M342.4 439.4h0.65M365.4 442.9h0.65M339.9 449.8h0.65M344.6 481.8h0.65M332.1 483.3h0.65M355.5 465.9h0.65M328.9 464.9h0.65M361.6 438.3h0.65M327.0 465.6h0.65M360.4 444.6h0.65M360.0 439.1h0.65M342.0 482.6h0.65M356.8 456.9h0.65M331.4 478.1h0.65M336.6 454.0h0.65M356.6 455.3h0.65M360.1 454.9h0.65M362.6 433.1h0.65M358.0 445.3h0.65M346.2 446.8h0.65M341.9 443.3h0.65M354.7 469.9h0.65M354.8 420.6h0.65M350.0 478.2h0.65M370.0 431.5h0.65M358.9 428.3h0.65M344.9 484.9h0.65M341.8 484.0h0.65M355.2 429.9h0.65M339.5 483.6h0.65M341.3 433.8h0.65M341.4 450.4h0.65M356.4 455.3h0.65M354.2 426.6h0.65M330.3 433.4h0.65M360.8 433.0h0.65M353.8 428.1h0.65M347.4 429.0h0.65M357.5 430.6h0.65M362.2 424.0h0.65M335.8 455.9h0.65M359.7 439.8h0.65M334.3 461.3h0.65M362.1 440.7h0.65M335.5 483.4h0.65M334.0 460.5h0.65M349.7 479.6h0.65M348.8 429.4h0.65M333.6 482.8h0.65M359.3 434.3h0.65M327.1 479.4h0.65M358.9 442.0h0.65M342.4 482.8h0.65M337.8 482.5h0.65M366.9 454.4h0.65M331.3 466.1h0.65M329.5 472.8h0.65M343.8 442.4h0.65M342.9 450.8h0.65M335.5 453.7h0.65M356.8 450.6h0.65M373.1 443.7h0.65M357.2 445.2h0.65M370.1 436.7h0.65M355.7 430.4h0.65M357.4 450.1h0.65M330.5 479.6h0.65M341.8 434.5h0.65M328.9 470.4h0.65M362.1 450.5h0.65M336.8 458.0h0.65M356.5 461.9h0.65M344.9 485.8h0.65M336.8 483.3h0.65M363.5 439.2h0.65M346.0 444.9h0.65M339.1 438.4h0.65M331.4 464.1h0.65M337.0 456.6h0.65M359.5 470.1h0.65M359.2 458.2h0.65M339.2 436.2h0.65M335.3 456.8h0.65M344.5 481.8h0.65M352.8 472.6h0.65M357.5 449.7h0.65M360.3 438.6h0.65M357.6 449.5h0.65M348.6 479.6h0.65M366.9 439.5h0.65M359.8 437.7h0.65M341.5 438.0h0.65M339.1 432.1h0.65M335.8 433.5h0.65M329.6 457.8h0.65M343.5 448.5h0.65M359.1 452.5h0.65M357.9 431.1h0.65M359.6 433.4h0.65M356.4 447.8h0.65M341.6 438.3h0.65M338.9 441.1h0.65M356.8 472.2h0.65M345.1 445.0h0.65M341.0 436.0h0.65M339.6 484.2h0.65M346.0 446.4h0.65M330.8 484.8h0.65M360.1 448.5h0.65M344.5 444.4h0.65M354.8 426.7h0.65M323.4 468.1h0.65M350.6 480.6h0.65M356.4 453.7h0.65M362.7 438.8h0.65M351.2 425.2h0.65M354.0 474.4h0.65M361.1 435.8h0.65M349.1 427.3h0.65M326.8 482.7h0.65M330.2 464.9h0.65M368.5 441.6h0.65M337.0 484.6h0.65M334.9 433.8h0.65M353.5 474.2h0.65M364.3 444.0h0.65M348.2 422.8h0.65M384.9 426.3h0.65M362.7 438.6h0.65M350.6 423.7h0.65M360.1 434.9h0.65M360.6 436.5h0.65M348.7 479.5h0.65M363.6 439.2h0.65M361.8 461.1h0.65M337.3 440.2h0.65M332.1 434.6h0.65M357.7 450.4h0.65M347.8 428.8h0.65M324.3 461.8h0.65M354.7 425.5h0.65M356.6 450.9h0.65M349.7 477.4h0.65M362.0 436.6h0.65M353.6 475.4h0.65M360.1 440.9h0.65M360.0 439.6h0.65M356.5 456.4h0.65M357.3 466.8h0.65M352.1 422.6h0.65M331.4 478.4h0.65M348.1 425.3h0.65M347.5 479.8h0.65M340.1 440.6h0.65M344.8 448.7h0.65M330.2 466.8h0.65M356.0 464.2h0.65M358.6 452.1h0.65M351.9 427.1h0.65M341.2 452.9h0.65M343.2 446.8h0.65M352.9 428.6h0.65M361.1 423.7h0.65M347.8 424.9h0.65M357.0 446.4h0.65M356.0 428.8h0.65M340.4 431.2h0.65M356.4 427.4h0.65M357.1 459.6h0.65M350.6 481.1h0.65M352.2 425.0h0.65M356.3 450.6h0.65M345.0 481.0h0.65M354.0 426.1h0.65M359.9 440.7h0.65M361.5 434.4h0.65M337.0 448.8h0.65M342.4 433.2h0.65M369.7 424.4h0.65M345.6 481.6h0.65M336.2 485.2h0.65M353.3 427.8h0.65M343.2 487.5h0.65M348.4 423.3h0.65M342.1 429.9h0.65M362.2 441.4h0.65M358.9 467.6h0.65M350.5 478.7h0.65M359.0 443.1h0.65M344.0 431.1h0.65M324.5 476.8h0.65M357.5 453.3h0.65M332.6 459.4h0.65M342.1 443.6h0.65M366.9 437.0h0.65M350.6 476.1h0.65M340.2 442.9h0.65M359.5 433.0h0.65M329.6 471.1h0.65M364.5 432.8h0.65M343.8 429.6h0.65M333.2 482.0h0.65M343.3 441.0h0.65M356.3 469.4h0.65M355.7 464.9h0.65M353.5 476.4h0.65M334.5 460.4h0.65M343.9 482.4h0.65M358.6 464.1h0.65M360.8 436.3h0.65M337.0 455.8h0.65M341.1 436.5h0.65M336.1 431.3h0.65M360.2 429.9h0.65M351.8 479.1h0.65M341.7 441.6h0.65M361.9 431.1h0.65M342.1 443.2h0.65M364.8 450.4h0.65M330.5 476.5h0.65M356.3 452.3h0.65M353.5 427.2h0.65M333.6 461.8h0.65M342.3 424.4h0.65M327.6 463.9h0.65M344.5 481.5h0.65M335.4 459.3h0.65M328.4 477.5h0.65M333.7 484.5h0.65M346.6 429.0h0.65M353.0 471.3h0.65M343.3 484.1h0.65M341.9 439.6h0.65M355.2 466.2h0.65M356.5 454.5h0.65M339.3 453.6h0.65M342.8 433.9h0.65M357.5 467.3h0.65M338.7 483.5h0.65M359.3 439.6h0.65M374.1 445.8h0.65M362.4 444.1h0.65M343.4 442.3h0.65M356.0 470.2h0.65M337.6 492.2h0.65M331.2 464.3h0.65M379.6 445.5h0.65M357.2 445.9h0.65M348.3 427.4h0.65M339.5 429.4h0.65M351.8 474.9h0.65M340.7 436.3h0.65M344.5 444.8h0.65M345.6 444.6h0.65M356.7 473.2h0.65M359.1 454.1h0.65M357.3 430.9h0.65M357.1 455.2h0.65M342.6 432.9h0.65M330.4 474.9h0.65M342.5 442.2h0.65M359.8 438.3h0.65M358.1 458.1h0.65M336.3 484.2h0.65M344.1 484.3h0.65M332.7 463.4h0.65M345.1 482.7h0.65M329.1 469.0h0.65M344.4 428.2h0.65M331.8 458.6h0.65M351.0 429.5h0.65M361.5 431.2h0.65M364.4 434.4h0.65M332.6 463.1h0.65M366.5 439.3h0.65M345.6 446.9h0.65M336.3 482.4h0.65M358.2 450.7h0.65M355.3 427.9h0.65M360.2 437.9h0.65M345.0 445.1h0.65M340.7 441.1h0.65M347.5 429.6h0.65M353.1 471.5h0.65M340.8 430.9h0.65M357.5 451.1h0.65M339.6 433.4h0.65M367.0 430.3h0.65M357.3 445.4h0.65M357.3 448.8h0.65M367.9 430.0h0.65M330.6 476.0h0.65M322.6 477.0h0.65M352.9 424.4h0.65M335.6 451.2h0.65M361.8 430.5h0.65M341.9 444.1h0.65M339.2 433.7h0.65M362.2 435.1h0.65M357.8 456.0h0.65M345.7 444.0h0.65M334.0 430.8h0.65M355.9 467.0h0.65M361.7 440.6h0.65M332.9 431.2h0.65M353.4 429.3h0.65M335.2 485.2h0.65M358.6 445.5h0.65M363.0 426.0h0.65M345.2 444.5h0.65M358.7 442.9h0.65M340.6 454.1h0.65M346.9 480.3h0.65M365.9 433.3h0.65M360.7 434.4h0.65M340.5 440.2h0.65M340.2 424.4h0.65M345.5 444.5h0.65M362.3 428.6h0.65M346.3 446.9h0.65M360.3 426.5h0.65M344.6 430.1h0.65M359.7 438.2h0.65M336.0 454.2h0.65M351.7 474.4h0.65M363.3 443.7h0.65M357.2 450.8h0.65M367.8 454.6h0.65M336.0 442.2h0.65M361.1 445.8h0.65M356.0 464.3h0.65M360.4 439.2h0.65M349.7 428.7h0.65M357.8 432.0h0.65M335.3 459.9h0.65M330.6 466.1h0.65M354.6 468.6h0.65M337.8 454.1h0.65M327.2 469.1h0.65M356.2 455.2h0.65M358.3 445.7h0.65M333.7 480.4h0.65M344.6 481.3h0.65M356.8 428.8h0.65M359.9 437.2h0.65M336.8 484.5h0.65M358.1 469.0h0.65M353.2 473.2h0.65M330.5 477.9h0.65M330.0 473.5h0.65M358.9 453.2h0.65M359.6 431.0h0.65M358.2 464.2h0.65M343.2 451.9h0.65M362.6 430.9h0.65M344.4 449.3h0.65M340.6 442.0h0.65M357.8 461.6h0.65M357.6 452.2h0.65M346.2 445.8h0.65M336.8 443.6h0.65M335.3 483.8h0.65M335.3 484.1h0.65M335.9 439.6h0.65M338.5 482.6h0.65M331.1 465.5h0.65M357.9 432.4h0.65M346.6 481.5h0.65M330.1 468.6h0.65M351.4 485.5h0.65M340.8 435.8h0.65M359.9 436.4h0.65M332.3 463.4h0.65M337.9 439.8h0.65M342.1 451.9h0.65M354.2 467.9h0.65M340.8 433.4h0.65M369.7 442.3h0.65M347.3 429.7h0.65M359.9 444.6h0.65M340.9 447.5h0.65M361.7 440.7h0.65M363.4 433.0h0.65M351.0 484.1h0.65M360.9 444.0h0.65M362.5 443.3h0.65M361.1 431.0h0.65M357.7 451.7h0.65M337.6 455.7h0.65M329.1 482.0h0.65M360.4 435.8h0.65M342.5 428.0h0.65M344.0 444.2h0.65M342.4 432.4h0.65M338.2 482.5h0.65M359.6 436.6h0.65M327.7 460.8h0.65M359.9 440.1h0.65M359.5 433.0h0.65M356.5 449.3h0.65M362.9 438.1h0.65M345.7 447.7h0.65M343.6 430.4h0.65M342.2 435.7h0.65M363.3 468.8h0.65M330.1 470.4h0.65M340.4 437.5h0.65M343.0 445.9h0.65M341.9 438.1h0.65M345.9 449.0h0.65M341.3 429.8h0.65M345.2 444.3h0.65M357.3 452.1h0.65M340.4 423.7h0.65M328.1 471.1h0.65M333.8 433.7h0.65M346.3 449.0h0.65M357.4 450.4h0.65M365.1 427.8h0.65M353.0 429.2h0.65M358.5 457.7h0.65M324.0 437.6h0.65M343.1 443.2h0.65M360.1 440.4h0.65M352.5 477.1h0.65M357.4 449.8h0.65M358.2 453.2h0.65M345.2 429.9h0.65M353.8 470.6h0.65M343.7 432.0h0.65M335.0 446.1h0.65M345.6 445.2h0.65M340.2 488.6h0.65M329.8 487.1h0.65M342.9 443.7h0.65M334.9 451.3h0.65M353.4 429.7h0.65M333.4 437.7h0.65M338.9 444.9h0.65M359.8 446.5h0.65M360.7 435.8h0.65M362.8 448.8h0.65M331.2 479.8h0.65M364.6 437.5h0.65M359.5 438.9h0.65M334.3 458.9h0.65M341.5 447.1h0.65M346.0 430.3h0.65M355.9 428.4h0.65M356.6 456.1h0.65M329.6 472.9h0.65M354.2 427.8h0.65M330.1 470.5h0.65M352.6 427.4h0.65M358.8 441.2h0.65M356.2 461.0h0.65M359.6 441.6h0.65M355.0 470.6h0.65M330.7 477.9h0.65M331.5 465.9h0.65M330.9 435.1h0.65M328.7 471.4h0.65M353.4 473.5h0.65M359.9 459.7h0.65M366.5 436.8h0.65M363.7 455.5h0.65M362.9 437.3h0.65M352.3 425.7h0.65M368.4 423.6h0.65M330.0 475.2h0.65M341.3 436.6h0.65M329.3 476.3h0.65M354.5 426.8h0.65M333.3 462.9h0.65M332.4 460.7h0.65M357.5 457.7h0.65M359.7 442.3h0.65M348.6 480.5h0.65M339.2 443.4h0.65M347.3 429.5h0.65M331.3 462.4h0.65M331.3 466.5h0.65M343.3 451.2h0.65M349.7 477.2h0.65M345.9 483.7h0.65M357.3 448.2h0.65M356.3 459.4h0.65M359.1 467.4h0.65M341.7 442.4h0.65M331.2 479.4h0.65M357.9 432.0h0.65M366.4 436.6h0.65M345.6 446.5h0.65M343.0 427.7h0.65M359.9 447.4h0.65M345.7 446.3h0.65M347.9 479.3h0.65M344.9 431.3h0.65M345.5 481.9h0.65M344.2 426.8h0.65M353.4 471.4h0.65M340.2 437.7h0.65M360.3 429.0h0.65M330.1 469.8h0.65M352.9 471.7h0.65M336.2 486.8h0.65M360.0 453.0h0.65M331.9 464.2h0.65M340.3 446.1h0.65M360.1 437.2h0.65M339.6 449.8h0.65M333.0 457.3h0.65M341.5 434.4h0.65M357.9 461.4h0.65M362.8 456.6h0.65M331.8 457.3h0.65M341.0 441.9h0.65M348.9 480.5h0.65M357.8 457.8h0.65M352.3 473.7h0.65M351.9 475.9h0.65M351.0 475.5h0.65M339.5 440.5h0.65M344.5 442.5h0.65M356.7 448.8h0.65M356.2 452.4h0.65M345.9 485.9h0.65M334.1 455.0h0.65M356.0 471.2h0.65M357.2 450.1h0.65M329.4 467.4h0.65M359.6 464.8h0.65M332.6 463.2h0.65M365.0 429.4h0.65M333.1 459.5h0.65M364.3 449.0h0.65M328.7 481.2h0.65M358.9 447.1h0.65M365.6 444.2h0.65M354.3 425.3h0.65M359.4 430.6h0.65M331.7 461.7h0.65M356.4 452.1h0.65M342.4 437.2h0.65M354.4 473.2h0.65M332.6 427.0h0.65M344.4 446.9h0.65M339.6 430.9h0.65M346.0 448.9h0.65M352.2 472.6h0.65M355.2 468.7h0.65M350.1 477.0h0.65M354.9 428.3h0.65M344.9 445.2h0.65M329.2 433.5h0.65M336.7 456.9h0.65M346.4 428.7h0.65M343.2 444.9h0.65M355.2 465.2h0.65M331.4 479.2h0.65M343.1 443.8h0.65M342.7 450.3h0.65M334.4 456.9h0.65M340.4 448.7h0.65M339.3 436.7h0.65M328.9 475.4h0.65M335.1 455.0h0.65M344.3 451.2h0.65M340.8 438.6h0.65M331.6 478.6h0.65M344.0 430.8h0.65M359.4 446.2h0.65M346.0 428.7h0.65M337.3 483.3h0.65M340.8 451.7h0.65M338.3 439.2h0.65M350.5 478.0h0.65M330.0 482.9h0.65M354.0 426.0h0.65M357.8 451.7h0.65M370.7 450.6h0.65M339.2 483.0h0.65M343.7 444.5h0.65M342.9 439.7h0.65M341.7 440.2h0.65M340.4 452.9h0.65M331.3 466.0h0.65M361.2 463.3h0.65M329.6 471.1h0.65M349.5 480.5h0.65M353.7 429.4h0.65M358.6 446.3h0.65M356.7 452.2h0.65M360.6 431.0h0.65M347.7 480.0h0.65M357.7 455.3h0.65M360.4 434.7h0.65M344.2 451.2h0.65M343.0 451.9h0.65M346.1 429.0h0.65M338.7 455.3h0.65M331.1 485.3h0.65M342.3 436.1h0.65M353.4 470.2h0.65M347.1 481.4h0.65M339.9 441.5h0.65M341.3 439.1h0.65M332.9 458.2h0.65M344.5 485.9h0.65M358.1 458.2h0.65M345.9 445.8h0.65M349.6 428.3h0.65M346.6 448.7h0.65M330.1 473.9h0.65M340.1 453.7h0.65M345.3 481.4h0.65M342.3 432.6h0.65M353.1 426.4h0.65M342.3 484.8h0.65M360.1 442.5h0.65M353.5 473.4h0.65M337.5 451.3h0.65M362.5 440.0h0.65M346.1 445.4h0.65M362.5 437.1h0.65M357.3 463.6h0.65M337.9 482.4h0.65M357.7 443.7h0.65M356.7 447.3h0.65M332.8 437.2h0.65M340.4 448.7h0.65M331.0 464.9h0.65M362.1 437.1h0.65M340.3 441.7h0.65M331.9 479.7h0.65M358.6 428.5h0.65M332.8 480.1h0.65M340.3 435.6h0.65M348.4 426.2h0.65M358.3 450.8h0.65M336.7 441.2h0.65M329.3 465.0h0.65M358.7 450.0h0.65M340.4 454.0h0.65M356.8 448.9h0.65M342.4 442.0h0.65M360.7 453.8h0.65M332.9 459.2h0.65M356.0 461.3h0.65M331.2 462.4h0.65M328.9 471.2h0.65M361.9 441.1h0.65M354.0 468.7h0.65M347.6 480.7h0.65M382.0 436.6h0.65M343.9 448.8h0.65M361.4 426.0h0.65M329.0 474.5h0.65M355.3 466.3h0.65M347.9 425.2h0.65M340.5 445.3h0.65M366.8 448.9h0.65M331.0 479.5h0.65M353.7 470.2h0.65M341.5 483.9h0.65M330.0 480.4h0.65M334.3 481.5h0.65M361.0 449.9h0.65M341.7 437.6h0.65M354.6 428.7h0.65M327.2 476.9h0.65M367.6 437.2h0.65M328.5 472.7h0.65M367.0 438.4h0.65M359.2 431.7h0.65M356.5 455.3h0.65M357.8 444.6h0.65M340.6 431.5h0.65M363.7 436.1h0.65M361.2 447.0h0.65M363.9 441.1h0.65M330.0 473.6h0.65M347.7 479.5h0.65M330.4 476.1h0.65M357.4 445.2h0.65M356.8 450.0h0.65M353.4 428.3h0.65M327.7 466.9h0.65M332.3 480.0h0.65M362.1 446.8h0.65M343.8 448.2h0.65M344.0 482.9h0.65M350.5 425.5h0.65M334.0 480.6h0.65M341.1 483.9h0.65M357.3 475.1h0.65M347.8 429.6h0.65M359.5 466.9h0.65M340.9 453.0h0.65M323.1 479.0h0.65M345.0 448.9h0.65M344.8 425.6h0.65M331.6 461.0h0.65M360.2 434.0h0.65M340.5 452.9h0.65M357.4 428.3h0.65M352.3 427.0h0.65M341.1 450.9h0.65M326.6 469.9h0.65M357.6 426.5h0.65M356.1 429.2h0.65M341.7 443.5h0.65M346.6 448.4h0.65M336.5 434.9h0.65M331.0 465.0h0.65M357.5 451.3h0.65M333.6 462.4h0.65M357.1 455.6h0.65M343.6 428.4h0.65M340.1 440.0h0.65M344.1 450.4h0.65M363.9 432.4h0.65M348.5 480.2h0.65M339.2 433.8h0.65M341.0 437.0h0.65M344.6 444.1h0.65M355.7 462.5h0.65M350.1 420.1h0.65M336.8 482.5h0.65M343.6 445.9h0.65M330.6 464.8h0.65M339.1 483.1h0.65M361.6 440.7h0.65M328.3 479.8h0.65M356.8 425.7h0.65M354.0 468.9h0.65M329.7 474.8h0.65M360.3 438.3h0.65M338.2 442.7h0.65M367.1 442.0h0.65M330.0 472.7h0.65M357.1 458.4h0.65M361.7 436.4h0.65M357.2 474.0h0.65M331.9 440.8h0.65M345.7 445.8h0.65M349.1 479.7h0.65M333.6 442.5h0.65M349.9 477.7h0.65M360.7 428.2h0.65M351.3 429.1h0.65M351.1 428.4h0.65M343.1 442.0h0.65M344.4 447.5h0.65M358.2 432.9h0.65M341.6 436.8h0.65M329.3 471.1h0.65M357.8 442.9h0.65M358.4 471.7h0.65M359.1 450.7h0.65M341.1 446.2h0.65M340.8 439.9h0.65M338.3 456.5h0.65M341.9 482.9h0.65M327.8 443.6h0.65M357.3 459.0h0.65M358.6 426.7h0.65M354.7 472.3h0.65M358.0 467.8h0.65M358.6 431.2h0.65M334.6 432.3h0.65M357.4 428.8h0.65M360.4 444.6h0.65M342.8 450.3h0.65M360.0 431.0h0.65M346.0 445.6h0.65M341.7 441.2h0.65M342.8 434.0h0.65M360.1 437.8h0.65M355.8 467.3h0.65M359.5 433.9h0.65M340.9 438.1h0.65M366.9 436.0h0.65M332.1 462.9h0.65M366.3 430.3h0.65M347.6 428.0h0.65M341.7 435.3h0.65M345.2 427.5h0.65M341.3 444.0h0.65M357.9 467.2h0.65M337.4 483.1h0.65M361.8 447.2h0.65M348.6 479.3h0.65M348.7 427.3h0.65M357.5 428.7h0.65M354.1 426.9h0.65M332.8 461.6h0.65M360.8 439.2h0.65M340.9 444.2h0.65M344.9 447.1h0.65M353.4 470.2h0.65M360.5 422.9h0.65M345.0 431.0h0.65M343.2 430.7h0.65M337.8 484.7h0.65M340.2 437.2h0.65M342.2 440.5h0.65M357.0 457.2h0.65M361.0 433.2h0.65M359.0 468.6h0.65M359.5 440.0h0.65M351.8 474.1h0.65M359.7 439.4h0.65M351.2 475.7h0.65M365.3 448.5h0.65M358.0 446.2h0.65M360.1 438.7h0.65M326.2 466.8h0.65M324.8 477.2h0.65M338.7 455.5h0.65M357.6 463.9h0.65M333.1 463.1h0.65M360.4 441.1h0.65M356.5 453.0h0.65M328.3 474.5h0.65M355.4 465.2h0.65M362.0 446.8h0.65M337.2 445.7h0.65M338.0 484.4h0.65M344.8 431.2h0.65M367.6 443.8h0.65M359.0 423.2h0.65M346.4 446.9h0.65M333.5 457.8h0.65M344.0 432.2h0.65M352.9 427.9h0.65M333.2 459.4h0.65M327.4 470.5h0.65M354.6 472.1h0.65M353.1 471.5h0.65M367.7 440.4h0.65M329.1 475.2h0.65M362.1 439.5h0.65M337.5 452.6h0.65M352.7 429.5h0.65M358.5 425.6h0.65M326.3 470.0h0.65M340.5 435.5h0.65M361.2 459.4h0.65M359.8 439.0h0.65M354.6 473.6h0.65M349.4 477.9h0.65M351.3 474.6h0.65M342.6 433.9h0.65M344.5 421.3h0.65M328.8 467.2h0.65M339.3 450.1h0.65M366.5 445.0h0.65M349.0 479.8h0.65M360.8 434.8h0.65M358.7 464.6h0.65M343.0 433.4h0.65M361.6 455.1h0.65M346.0 430.6h0.65M359.4 434.7h0.65M349.1 428.3h0.65M345.9 426.9h0.65M355.2 428.1h0.65M356.8 427.9h0.65M331.3 478.7h0.65M334.3 459.2h0.65M366.2 436.3h0.65M356.7 450.7h0.65M352.2 476.4h0.65M357.7 457.7h0.65M340.9 437.0h0.65M356.8 430.3h0.65M353.8 430.0h0.65M357.6 431.6h0.65M358.6 450.0h0.65M336.0 458.3h0.65M359.9 448.4h0.65M362.0 436.3h0.65M328.9 470.8h0.65M360.7 453.1h0.65M334.3 445.5h0.65M348.9 427.3h0.65M359.8 446.4h0.65M360.2 436.0h0.65M335.4 488.6h0.65M343.5 431.9h0.65M331.9 478.6h0.65M341.5 448.2h0.65M353.0 421.3h0.65M337.2 437.0h0.65M351.5 428.3h0.65M341.7 433.2h0.65M330.8 478.5h0.65M342.4 451.1h0.65M343.8 444.4h0.65M328.8 471.1h0.65M329.7 475.4h0.65M343.0 451.4h0.65M332.4 460.8h0.65M344.2 444.1h0.65M344.2 428.9h0.65M334.4 453.4h0.65M327.3 474.7h0.65M342.0 441.6h0.65M343.2 446.2h0.65M330.2 468.6h0.65M333.6 462.5h0.65M359.1 441.6h0.65M349.6 428.1h0.65M357.8 445.4h0.65M342.3 430.1h0.65M338.4 454.8h0.65M354.5 478.2h0.65M339.4 453.0h0.65M331.4 458.0h0.65M334.2 480.9h0.65M352.7 471.6h0.65M338.7 454.4h0.65M374.1 443.7h0.65M342.5 449.1h0.65M354.6 468.2h0.65M335.1 488.7h0.65M345.7 483.4h0.65M359.2 439.3h0.65M360.7 432.7h0.65M340.9 446.2h0.65M342.9 451.7h0.65M339.1 434.2h0.65M362.0 435.7h0.65M328.6 466.8h0.65M345.8 445.6h0.65M343.0 432.7h0.65M364.9 449.8h0.65M356.0 465.2h0.65M357.3 460.3h0.65M358.0 431.4h0.65M336.4 447.4h0.65M330.0 474.7h0.65M353.9 428.8h0.65M357.7 458.1h0.65M330.2 468.8h0.65M347.1 429.8h0.65M332.3 479.1h0.65M340.8 441.8h0.65M343.3 432.3h0.65M342.5 432.4h0.65M359.6 449.4h0.65M349.3 428.6h0.65M360.6 428.4h0.65M346.9 425.8h0.65M361.0 434.8h0.65M362.7 427.3h0.65M361.4 453.8h0.65M327.8 474.5h0.65M335.5 440.2h0.65M330.1 479.1h0.65M338.3 454.1h0.65M350.7 477.2h0.65M339.6 440.9h0.65M346.0 482.2h0.65M337.9 436.6h0.65M327.9 466.4h0.65M343.3 441.3h0.65M335.5 481.8h0.65M335.3 450.0h0.65M359.9 426.9h0.65M359.2 456.3h0.65M362.7 431.4h0.65M345.5 449.7h0.65M340.6 449.5h0.65M335.1 450.9h0.65M357.3 450.4h0.65M342.0 452.9h0.65M363.4 430.5h0.65M333.0 480.6h0.65M343.3 430.2h0.65M329.0 471.8h0.65M333.8 482.8h0.65M339.7 447.5h0.65M343.6 451.2h0.65M342.3 452.5h0.65M339.6 440.6h0.65M343.5 484.3h0.65M358.9 454.1h0.65M359.7 445.1h0.65M323.5 451.2h0.65M343.5 443.1h0.65M357.9 444.6h0.65M356.2 450.2h0.65M341.4 439.6h0.65M358.7 432.6h0.65M339.9 433.1h0.65M330.8 465.0h0.65M366.6 433.7h0.65M359.4 440.2h0.65M327.4 471.5h0.65M340.8 428.0h0.65M362.9 434.2h0.65M358.1 445.4h0.65M342.0 442.3h0.65M341.7 435.5h0.65M344.0 483.3h0.65M360.3 436.8h0.65M349.0 429.6h0.65M360.0 457.4h0.65M365.3 429.0h0.65M359.4 438.1h0.65M358.7 449.4h0.65M335.5 430.9h0.65M351.6 477.1h0.65M343.6 444.7h0.65M329.4 473.5h0.65M331.2 465.6h0.65M347.1 429.7h0.65M340.8 449.8h0.65M358.7 429.1h0.65M344.7 428.3h0.65M359.7 441.2h0.65M340.2 439.3h0.65M353.7 473.2h0.65M333.5 461.2h0.65M339.7 424.0h0.65M357.4 446.5h0.65M339.1 431.8h0.65M347.9 428.4h0.65M329.4 461.0h0.65M338.1 450.2h0.65M345.7 481.6h0.65M344.3 482.5h0.65M356.2 470.5h0.65M368.9 436.3h0.65M355.0 466.7h0.65M345.6 444.4h0.65M363.0 464.8h0.65M344.4 449.3h0.65M335.0 489.8h0.65M336.3 457.7h0.65M346.3 448.8h0.65M343.6 432.3h0.65M342.0 436.6h0.65M356.9 456.3h0.65M352.0 474.8h0.65M356.0 430.5h0.65M342.6 432.4h0.65M361.4 449.3h0.65M341.1 485.0h0.65M355.0 428.2h0.65M333.1 488.2h0.65M350.6 428.3h0.65M336.5 482.3h0.65M347.9 479.4h0.65M330.1 470.8h0.65M357.9 451.2h0.65M345.1 481.9h0.65M343.6 443.6h0.65M338.9 419.3h0.65M335.1 455.3h0.65M342.3 432.3h0.65M361.1 438.7h0.65M356.7 459.4h0.65M343.7 421.3h0.65M359.7 465.8h0.65M358.1 443.4h0.65M359.2 442.4h0.65M356.5 430.1h0.65M363.6 438.2h0.65M343.7 442.1h0.65M328.7 478.4h0.65M350.2 478.1h0.65M336.7 430.2h0.65M329.9 469.7h0.65M357.0 460.4h0.65M330.1 472.2h0.65M360.0 463.4h0.65M333.7 458.4h0.65M332.8 448.1h0.65M353.8 469.9h0.65M356.8 453.3h0.65M363.1 437.8h0.65M356.5 423.9h0.65M345.1 482.8h0.65M341.6 436.7h0.65M359.6 433.5h0.65M357.6 431.5h0.65M359.6 431.1h0.65M361.5 427.6h0.65M342.1 442.2h0.65M352.7 428.9h0.65" stroke="#1a1a1a" stroke-width="0.65" fill="none"/>
<path d="M341.5 470.9 340.7 470.1 342.0 469.0 342.2 469.9 341.5 470.9Z M341.5 472.2 339.9 471.6 339.6 469.9 341.3 467.6 343.0 466.8 343.8 467.6 343.7 469.4 342.7 471.4 341.5 472.2Z M341.8 473.4 340.3 473.4 339.0 472.6 338.5 469.9 341.0 466.0 342.5 465.0 344.0 464.7 345.2 465.9 345.2 468.6 343.8 471.9 341.8 473.4Z M341.8 474.7 339.8 474.7 338.2 473.6 337.2 471.6 337.4 469.4 338.9 466.6 341.3 464.1 343.5 462.7 345.3 462.6 346.3 463.4 346.8 464.6 346.4 468.6 344.4 472.9 341.8 474.7Z M341.8 475.9 339.0 475.8 337.1 474.4 336.1 471.9 336.3 469.1 338.1 465.9 341.0 462.6 343.8 460.8 346.3 460.5 347.6 461.4 348.3 463.1 347.9 468.1 345.3 473.6 343.8 475.0 341.8 475.9Z M342.0 477.1 338.8 477.1 336.3 475.4 335.0 472.6 335.1 469.1 337.4 464.9 340.8 461.0 344.3 458.7 347.3 458.4 348.9 459.4 349.8 461.4 349.9 464.1 349.4 467.4 346.3 474.1 344.3 476.1 342.0 477.1Z M351.5 438.2 350.5 438.3 349.6 437.6 350.0 436.0 351.3 435.8 352.2 436.4 352.3 437.4 351.5 438.2Z M352.0 447.2 351.4 446.6 351.8 445.7 352.4 446.4 352.0 447.2Z M340.5 478.6 337.0 477.8 334.6 475.4 333.7 471.9 334.4 467.9 337.5 462.9 341.5 458.7 345.5 456.4 348.8 456.4 350.6 457.9 351.4 460.6 351.3 464.4 350.1 468.9 348.1 473.4 346.3 475.9 343.8 477.8 340.5 478.6Z M351.8 441.5 348.8 440.1 347.2 437.9 347.6 435.4 350.0 433.7 353.0 434.2 354.7 436.4 354.2 439.1 351.8 441.5Z M352.0 449.4 350.8 448.8 350.1 446.6 350.5 444.2 351.8 442.8 353.0 443.9 353.6 446.1 353.2 448.4 352.0 449.4Z M340.8 479.9 337.0 479.3 333.9 476.6 332.5 472.4 333.1 467.9 336.6 462.1 341.3 457.1 346.0 454.3 350.0 454.0 352.0 455.8 353.0 459.1 352.8 463.4 351.5 468.6 349.4 473.4 347.1 476.6 344.0 479.0 340.8 479.9Z M340.8 481.2 336.5 480.5 333.2 477.9 331.4 473.6 331.7 468.9 333.7 464.4 338.2 458.4 342.0 454.8 348.5 450.4 348.3 443.9 345.1 439.1 344.8 435.9 345.8 433.9 347.8 432.3 350.0 431.6 352.5 431.7 355.8 433.6 357.2 436.9 356.8 439.1 355.3 442.9 354.9 447.9 353.8 452.1 354.6 459.1 353.9 464.9 351.7 471.1 348.6 476.6 345.0 479.8 340.8 481.2Z M341.0 482.4 336.0 481.7 332.3 478.9 330.3 474.4 330.4 469.1 331.9 465.1 336.0 459.1 340.0 454.7 345.6 450.1 346.6 448.6 346.4 445.1 343.4 440.9 342.5 438.6 342.4 436.1 343.3 433.6 344.9 431.6 347.3 430.2 350.0 429.5 353.0 429.7 355.5 430.6 357.5 432.2 359.0 434.4 359.5 436.6 359.2 439.4 356.7 446.1 356.1 451.6 356.2 459.1 355.4 463.9 353.0 471.1 349.5 477.4 345.5 480.8 341.0 482.4Z" stroke="#000" stroke-width="0.8" fill="none" stroke-linejoin="round"/>
<ellipse cx="351.80" cy="436.30" rx="3.3" ry="2.4" fill="#fff"/>
<ellipse cx="341.40" cy="470.20" rx="2.2" ry="1.6" fill="#fff"/>
</g>
<line x1="336.50" y1="416.00" x2="336.50" y2="497.30" stroke="#555" stroke-width="0.85"/>
<line x1="304.40" y1="446.30" x2="397.60" y2="446.30" stroke="#555" stroke-width="0.85"/>
<path d="M304.40 416.00V497.30H397.60V416.00" fill="none" stroke="#8a8a8a" stroke-width="0.8"/>
<line x1="302.20" y1="422.80" x2="304.40" y2="422.80" stroke="#555" stroke-width="0.7"/>
<text x="301.80" y="424.70" font-size="5.6" fill="#333" text-anchor="end">10<tspan font-size="4.03" dy="-2.2">5</tspan></text>
<line x1="302.20" y1="443.00" x2="304.40" y2="443.00" stroke="#555" stroke-width="0.7"/>
<text x="301.80" y="444.90" font-size="5.6" fill="#333" text-anchor="end">10<tspan font-size="4.03" dy="-2.2">4</tspan></text>
<line x1="302.20" y1="463.40" x2="304.40" y2="463.40" stroke="#555" stroke-width="0.7"/>
<text x="301.80" y="465.30" font-size="5.6" fill="#333" text-anchor="end">10<tspan font-size="4.03" dy="-2.2">3</tspan></text>
<line x1="302.20" y1="478.00" x2="304.40" y2="478.00" stroke="#555" stroke-width="0.7"/>
<text x="300.20" y="479.90" font-size="5.6" fill="#333" text-anchor="end">0</text>
<line x1="302.20" y1="489.50" x2="304.40" y2="489.50" stroke="#555" stroke-width="0.7"/>
<text x="301.80" y="491.40" font-size="5.6" fill="#333" text-anchor="end">−10<tspan font-size="4.03" dy="-2.2">3</tspan></text>
<line x1="303.30" y1="428.86" x2="304.40" y2="428.86" stroke="#777" stroke-width="0.5"/>
<line x1="303.30" y1="432.90" x2="304.40" y2="432.90" stroke="#777" stroke-width="0.5"/>
<line x1="303.30" y1="436.94" x2="304.40" y2="436.94" stroke="#777" stroke-width="0.5"/>
<line x1="303.30" y1="449.12" x2="304.40" y2="449.12" stroke="#777" stroke-width="0.5"/>
<line x1="303.30" y1="453.20" x2="304.40" y2="453.20" stroke="#777" stroke-width="0.5"/>
<line x1="303.30" y1="457.28" x2="304.40" y2="457.28" stroke="#777" stroke-width="0.5"/>
<line x1="303.30" y1="467.78" x2="304.40" y2="467.78" stroke="#777" stroke-width="0.5"/>
<line x1="303.30" y1="470.70" x2="304.40" y2="470.70" stroke="#777" stroke-width="0.5"/>
<line x1="303.30" y1="473.62" x2="304.40" y2="473.62" stroke="#777" stroke-width="0.5"/>
<line x1="303.30" y1="481.45" x2="304.40" y2="481.45" stroke="#777" stroke-width="0.5"/>
<line x1="303.30" y1="483.75" x2="304.40" y2="483.75" stroke="#777" stroke-width="0.5"/>
<line x1="303.30" y1="486.05" x2="304.40" y2="486.05" stroke="#777" stroke-width="0.5"/>
<line x1="310.60" y1="497.30" x2="310.60" y2="499.50" stroke="#555" stroke-width="0.7"/>
<text x="310.80" y="507.90" font-size="5.6" fill="#333" text-anchor="middle">−10<tspan font-size="4.03" dy="-2.2">3</tspan></text>
<line x1="324.60" y1="497.30" x2="324.60" y2="499.50" stroke="#555" stroke-width="0.7"/>
<text x="324.60" y="507.90" font-size="5.6" fill="#333" text-anchor="middle">0</text>
<line x1="338.50" y1="497.30" x2="338.50" y2="499.50" stroke="#555" stroke-width="0.7"/>
<text x="338.70" y="507.90" font-size="5.6" fill="#333" text-anchor="middle">10<tspan font-size="4.03" dy="-2.2">3</tspan></text>
<line x1="365.40" y1="497.30" x2="365.40" y2="499.50" stroke="#555" stroke-width="0.7"/>
<text x="365.60" y="507.90" font-size="5.6" fill="#333" text-anchor="middle">10<tspan font-size="4.03" dy="-2.2">4</tspan></text>
<line x1="385.60" y1="497.30" x2="385.60" y2="499.50" stroke="#555" stroke-width="0.7"/>
<text x="385.80" y="507.90" font-size="5.6" fill="#333" text-anchor="middle">10<tspan font-size="4.03" dy="-2.2">5</tspan></text>
<line x1="314.80" y1="497.30" x2="314.80" y2="498.40" stroke="#777" stroke-width="0.5"/>
<line x1="317.60" y1="497.30" x2="317.60" y2="498.40" stroke="#777" stroke-width="0.5"/>
<line x1="320.40" y1="497.30" x2="320.40" y2="498.40" stroke="#777" stroke-width="0.5"/>
<line x1="328.77" y1="497.30" x2="328.77" y2="498.40" stroke="#777" stroke-width="0.5"/>
<line x1="331.55" y1="497.30" x2="331.55" y2="498.40" stroke="#777" stroke-width="0.5"/>
<line x1="334.33" y1="497.30" x2="334.33" y2="498.40" stroke="#777" stroke-width="0.5"/>
<line x1="346.57" y1="497.30" x2="346.57" y2="498.40" stroke="#777" stroke-width="0.5"/>
<line x1="351.95" y1="497.30" x2="351.95" y2="498.40" stroke="#777" stroke-width="0.5"/>
<line x1="357.33" y1="497.30" x2="357.33" y2="498.40" stroke="#777" stroke-width="0.5"/>
<line x1="371.46" y1="497.30" x2="371.46" y2="498.40" stroke="#777" stroke-width="0.5"/>
<line x1="375.50" y1="497.30" x2="375.50" y2="498.40" stroke="#777" stroke-width="0.5"/>
<line x1="379.54" y1="497.30" x2="379.54" y2="498.40" stroke="#777" stroke-width="0.5"/>
<rect x="302.80" y="476.40" width="1.4" height="3.2" fill="#000"/>
<rect x="322.20" y="497.60" width="4.8" height="1.4" fill="#000"/>
<text x="306.70" y="425.60" font-size="8.2" fill="#1a1a1a" font-weight="bold">0,57</text>
<text x="392.40" y="425.60" font-size="8.2" fill="#1a1a1a" font-weight="bold" text-anchor="end">16,6</text>
<text x="306.70" y="493.90" font-size="8.2" fill="#1a1a1a" font-weight="bold">8,07</text>
<text x="392.40" y="493.90" font-size="8.2" fill="#1a1a1a" font-weight="bold" text-anchor="end">74,7</text>
<clipPath id="c7"><rect x="416.50" y="315.00" width="93.20" height="81.30"/></clipPath>
<g clip-path="url(#c7)">
<path d="M446.2 326.9h0.7M463.1 332.9h0.7M454.6 339.0h0.7M478.0 334.3h0.7M472.1 334.9h0.7M438.2 332.2h0.7M443.4 332.7h0.7M438.7 331.5h0.7M471.9 340.0h0.7M457.6 359.0h0.7M439.7 343.9h0.7M450.3 336.7h0.7M448.4 338.5h0.7M465.7 351.6h0.7M445.5 342.0h0.7M464.0 361.6h0.7M458.8 329.7h0.7M455.0 351.8h0.7M444.0 338.0h0.7M460.1 324.7h0.7M473.4 346.9h0.7M451.2 330.6h0.7M445.4 346.3h0.7M458.6 352.3h0.7M437.1 336.5h0.7M436.5 331.0h0.7M457.2 335.7h0.7M439.5 338.8h0.7M460.4 335.9h0.7M461.9 350.8h0.7M465.7 333.0h0.7M459.2 329.4h0.7M453.7 349.9h0.7M453.6 331.6h0.7M449.2 343.2h0.7M469.0 348.1h0.7M443.6 341.8h0.7M463.1 354.6h0.7M448.4 344.7h0.7M450.9 330.5h0.7M465.8 343.6h0.7M455.2 353.3h0.7M456.0 326.4h0.7M448.1 331.4h0.7M446.7 332.0h0.7M453.1 347.8h0.7M449.4 340.8h0.7M453.4 335.6h0.7M443.5 332.3h0.7M459.7 344.2h0.7M447.0 328.3h0.7M445.8 348.2h0.7M447.8 333.7h0.7M447.1 326.1h0.7M453.3 347.8h0.7M449.3 351.1h0.7M454.0 345.7h0.7M476.8 364.2h0.7M457.1 338.0h0.7M453.2 345.6h0.7M437.7 328.6h0.7M453.3 327.8h0.7M445.6 352.6h0.7M441.4 331.8h0.7M449.3 331.4h0.7M445.1 346.1h0.7M453.5 357.9h0.7M442.2 338.5h0.7M443.0 339.8h0.7M449.2 330.2h0.7M463.4 327.2h0.7M444.2 340.9h0.7M461.2 338.6h0.7M457.3 336.6h0.7M451.2 328.6h0.7M459.5 327.1h0.7M472.6 344.4h0.7M450.7 344.9h0.7M452.3 352.5h0.7M450.7 354.3h0.7M444.9 338.3h0.7M454.0 326.3h0.7M451.6 337.2h0.7M443.8 326.8h0.7M458.9 327.9h0.7M468.8 356.0h0.7M450.3 341.3h0.7M459.3 345.7h0.7M449.7 346.0h0.7M449.8 335.9h0.7M465.8 336.1h0.7M445.9 330.2h0.7M457.4 327.9h0.7M445.8 338.8h0.7M446.0 362.2h0.7M448.5 345.3h0.7M441.4 333.0h0.7M461.9 343.5h0.7M460.3 330.1h0.7M456.3 334.6h0.7M441.8 350.7h0.7M448.4 334.2h0.7M462.2 344.9h0.7M477.9 336.2h0.7M467.5 335.8h0.7M454.8 350.0h0.7M460.5 331.1h0.7M453.8 339.3h0.7M469.8 328.0h0.7M456.6 344.4h0.7M455.8 331.0h0.7M447.9 331.5h0.7M437.1 339.1h0.7M447.1 339.9h0.7M449.3 335.4h0.7M444.6 331.8h0.7M451.2 325.8h0.7M465.1 342.2h0.7M450.7 332.7h0.7M450.5 333.4h0.7M457.1 332.9h0.7M450.1 341.8h0.7M453.1 337.2h0.7M455.3 335.0h0.7M444.5 334.2h0.7M465.5 326.9h0.7M447.2 332.1h0.7M451.2 353.8h0.7M451.9 351.0h0.7M461.8 345.9h0.7M460.3 341.4h0.7M459.4 351.8h0.7M436.3 341.5h0.7M465.1 329.3h0.7M454.2 347.4h0.7M438.8 340.7h0.7M444.7 339.9h0.7M457.9 340.0h0.7M445.4 337.1h0.7M448.8 340.7h0.7M451.1 326.9h0.7M448.3 329.7h0.7M450.0 350.1h0.7M457.8 347.5h0.7M445.5 339.1h0.7M446.6 315.7h0.7M459.8 324.6h0.7M455.5 325.5h0.7M459.4 343.8h0.7M445.3 324.7h0.7M430.5 331.3h0.7M443.5 332.5h0.7M460.7 335.9h0.7M454.4 329.3h0.7M440.8 337.6h0.7M462.0 351.4h0.7M456.0 321.7h0.7M451.4 338.7h0.7M440.0 334.7h0.7M448.6 327.1h0.7M445.1 340.6h0.7M459.3 351.6h0.7M452.0 337.6h0.7M438.8 340.3h0.7M466.7 327.5h0.7M446.4 333.8h0.7M459.1 345.6h0.7M441.4 326.1h0.7M447.7 334.4h0.7M466.2 337.4h0.7M455.6 339.2h0.7M448.5 349.9h0.7M459.1 346.3h0.7M445.5 328.7h0.7M459.3 329.3h0.7M446.2 369.3h0.7M462.7 331.9h0.7M447.8 343.6h0.7M456.5 332.1h0.7M463.3 346.1h0.7M447.2 326.9h0.7M458.4 361.8h0.7M444.6 332.0h0.7M447.3 330.8h0.7M453.1 361.3h0.7M451.7 356.3h0.7M445.8 344.6h0.7M444.3 334.4h0.7M445.6 345.1h0.7M458.1 345.0h0.7M455.3 342.9h0.7M458.3 347.1h0.7M453.5 330.0h0.7M450.4 331.3h0.7M459.6 327.6h0.7M461.2 340.2h0.7M449.7 338.4h0.7M464.5 342.6h0.7M456.4 333.7h0.7M459.0 338.4h0.7M449.1 331.4h0.7M437.2 351.3h0.7M465.1 331.5h0.7M443.2 345.4h0.7M449.1 336.9h0.7M448.7 352.6h0.7M462.7 349.6h0.7M471.8 336.8h0.7M456.2 361.5h0.7M462.3 367.1h0.7M431.1 318.7h0.7M459.9 342.6h0.7M444.1 325.6h0.7M446.4 344.3h0.7M441.3 334.6h0.7M456.4 358.5h0.7M452.0 345.3h0.7M454.3 333.8h0.7M438.7 333.9h0.7M435.5 328.5h0.7M455.0 338.0h0.7M446.4 334.0h0.7M440.0 341.1h0.7M443.4 369.4h0.7M461.5 335.5h0.7M470.4 325.5h0.7M465.5 329.1h0.7M454.8 330.1h0.7M447.4 329.8h0.7M456.0 333.1h0.7M471.0 337.7h0.7M430.1 327.6h0.7M451.5 340.0h0.7M459.4 320.4h0.7M455.6 325.6h0.7M454.4 332.4h0.7M464.8 347.9h0.7M450.2 331.7h0.7M448.8 336.1h0.7M441.8 332.5h0.7M458.0 362.1h0.7M456.4 354.5h0.7M440.6 359.9h0.7M473.3 337.8h0.7M449.0 343.1h0.7M438.5 339.3h0.7M437.7 354.8h0.7M443.9 331.9h0.7M434.6 353.2h0.7M454.5 329.4h0.7M464.5 319.8h0.7M448.6 344.5h0.7M451.5 350.8h0.7M469.4 327.6h0.7M447.9 346.6h0.7M461.2 327.5h0.7M426.2 318.3h0.7M465.5 330.9h0.7M445.9 341.3h0.7M438.5 363.6h0.7M436.9 334.5h0.7M446.0 340.6h0.7M444.4 332.7h0.7M463.7 338.4h0.7M460.5 338.7h0.7M456.2 326.5h0.7M443.8 333.6h0.7M444.3 354.1h0.7M460.9 351.7h0.7M441.0 321.2h0.7M460.3 338.8h0.7M456.5 348.5h0.7M445.3 321.6h0.7M446.6 361.9h0.7M453.8 327.3h0.7M467.3 347.4h0.7M462.1 344.2h0.7M452.3 357.9h0.7M461.8 322.4h0.7M444.1 328.9h0.7M462.0 329.3h0.7M451.9 331.2h0.7M454.9 351.5h0.7M450.4 337.0h0.7M469.8 318.4h0.7M457.3 339.3h0.7M453.8 349.1h0.7M453.2 337.1h0.7M454.1 344.7h0.7M444.0 332.8h0.7M457.3 339.7h0.7M448.0 350.2h0.7M440.0 332.9h0.7M445.5 341.7h0.7M461.8 335.9h0.7M465.0 332.2h0.7M455.4 339.7h0.7M454.3 339.2h0.7M442.4 334.8h0.7M452.4 324.6h0.7M443.3 361.2h0.7M461.3 341.1h0.7M456.1 329.5h0.7M453.3 350.7h0.7M463.6 330.3h0.7M450.2 330.8h0.7M448.2 348.1h0.7M460.4 340.9h0.7M449.2 352.1h0.7M465.9 339.8h0.7M449.2 352.8h0.7M433.5 329.2h0.7M460.7 328.5h0.7M472.8 360.8h0.7M457.1 339.8h0.7M470.1 344.7h0.7M445.3 334.2h0.7M446.8 344.6h0.7M456.3 354.1h0.7M457.1 328.1h0.7M444.7 355.4h0.7M466.2 327.3h0.7M441.4 318.4h0.7M463.7 332.8h0.7M471.0 332.4h0.7M452.1 334.4h0.7M460.3 358.3h0.7M446.3 346.9h0.7M467.5 335.7h0.7M443.1 343.9h0.7M449.6 334.3h0.7M446.5 331.5h0.7M457.5 342.2h0.7M453.0 338.8h0.7M443.3 362.5h0.7M445.2 343.7h0.7M447.7 337.4h0.7M436.6 329.0h0.7M443.6 341.1h0.7M455.5 326.1h0.7M445.7 342.0h0.7M450.1 344.1h0.7M457.1 331.4h0.7M454.3 334.2h0.7M454.2 354.5h0.7M445.1 337.1h0.7M454.5 331.9h0.7M467.3 336.6h0.7M466.0 345.5h0.7M447.9 339.7h0.7M464.6 332.8h0.7M455.4 334.5h0.7M443.8 341.8h0.7M447.3 333.3h0.7M445.2 321.4h0.7M451.8 338.3h0.7M458.1 329.3h0.7M446.1 347.5h0.7M448.3 342.3h0.7M455.3 328.1h0.7M450.3 327.6h0.7M448.5 338.1h0.7M437.6 348.1h0.7M467.1 352.3h0.7M446.4 331.1h0.7M449.3 354.6h0.7M455.4 340.6h0.7M452.5 320.6h0.7M462.7 364.0h0.7M452.2 326.5h0.7M448.7 329.7h0.7M441.4 331.0h0.7M451.6 319.1h0.7M458.5 331.8h0.7M444.3 337.6h0.7M469.0 354.0h0.7M464.9 350.8h0.7M463.6 346.2h0.7M462.7 361.7h0.7M451.5 347.4h0.7M442.7 345.5h0.7M467.5 333.5h0.7M470.4 326.3h0.7M469.0 334.7h0.7M458.4 333.1h0.7M460.7 335.7h0.7M465.1 337.9h0.7M457.3 334.7h0.7M458.8 332.1h0.7M452.9 321.1h0.7M450.8 332.9h0.7M444.1 337.6h0.7M441.1 347.1h0.7M475.0 338.0h0.7M437.4 347.1h0.7M455.0 335.1h0.7M456.4 337.8h0.7M453.1 344.4h0.7M457.4 334.0h0.7M461.4 352.9h0.7M466.7 326.1h0.7M445.1 341.2h0.7M456.7 336.6h0.7M449.5 339.6h0.7M459.5 320.2h0.7M442.6 332.1h0.7M457.0 349.2h0.7M448.3 357.1h0.7M457.0 332.5h0.7M462.5 355.3h0.7M456.0 338.7h0.7M457.9 347.5h0.7M453.4 337.7h0.7M456.9 336.4h0.7M458.5 329.7h0.7M437.7 331.7h0.7M451.8 360.4h0.7M464.6 342.4h0.7M450.7 323.7h0.7M449.0 343.5h0.7M453.6 325.1h0.7M456.5 329.3h0.7M458.8 360.0h0.7M464.8 331.0h0.7M457.2 341.4h0.7M456.9 316.1h0.7M466.0 326.0h0.7M446.6 340.2h0.7M461.1 330.5h0.7M440.5 342.4h0.7M452.2 347.6h0.7M465.8 322.6h0.7M443.4 335.4h0.7M447.1 357.6h0.7M445.1 338.0h0.7M457.1 355.4h0.7M458.9 347.6h0.7M448.9 346.8h0.7M451.6 331.2h0.7M449.9 352.0h0.7M452.1 342.5h0.7M455.9 343.8h0.7M449.7 321.7h0.7M452.0 338.7h0.7M447.2 337.1h0.7M468.2 349.4h0.7M457.6 351.7h0.7M436.8 339.7h0.7M458.5 343.6h0.7M459.1 359.7h0.7M461.3 330.4h0.7M442.0 326.1h0.7M451.6 340.2h0.7M454.9 340.6h0.7M449.8 332.8h0.7M458.4 334.7h0.7M448.8 331.9h0.7M459.0 331.0h0.7M451.9 359.1h0.7M453.6 339.6h0.7M464.7 358.0h0.7M460.9 321.8h0.7M476.2 326.3h0.7M444.1 327.4h0.7M467.7 336.6h0.7M437.4 359.6h0.7M440.5 359.6h0.7M431.7 335.5h0.7M454.8 329.9h0.7M453.9 349.9h0.7M445.3 341.4h0.7M455.7 339.4h0.7M449.4 336.4h0.7M462.7 350.4h0.7M444.1 329.6h0.7M456.2 335.6h0.7M457.1 328.7h0.7M473.1 351.3h0.7M458.5 321.4h0.7M448.1 350.6h0.7M447.6 334.2h0.7M458.6 344.5h0.7M451.4 343.4h0.7M439.6 337.1h0.7M453.5 357.4h0.7M468.6 369.9h0.7M459.8 345.6h0.7M469.1 337.1h0.7" stroke="#888" stroke-width="0.7" fill="none"/>
<path d="M467.5 362.9h0.7M464.7 352.0h0.7M434.4 355.3h0.7M468.7 352.3h0.7M437.5 366.5h0.7M436.0 373.1h0.7M470.8 367.7h0.7M465.2 351.5h0.7M432.1 367.3h0.7M457.8 348.4h0.7M459.5 382.9h0.7M452.5 382.1h0.7M448.0 352.2h0.7M467.4 376.9h0.7M459.5 349.1h0.7M466.8 369.1h0.7M467.3 360.5h0.7M467.7 369.2h0.7M465.9 351.9h0.7M435.8 370.8h0.7M436.6 378.5h0.7M433.4 363.8h0.7M468.4 366.6h0.7M464.6 350.3h0.7M454.2 383.4h0.7M438.6 351.5h0.7M469.9 370.8h0.7M435.9 369.4h0.7M467.8 350.4h0.7M435.6 352.7h0.7M467.0 373.0h0.7M471.2 350.6h0.7M437.8 375.4h0.7M457.5 349.2h0.7M443.0 347.4h0.7M439.8 350.7h0.7M460.8 348.1h0.7M472.6 370.9h0.7M460.7 350.3h0.7M466.4 374.1h0.7M466.1 374.2h0.7M456.3 380.6h0.7M455.0 382.2h0.7M472.7 363.1h0.7M469.4 375.4h0.7M457.1 380.3h0.7M463.8 350.6h0.7M435.2 355.3h0.7M455.4 381.6h0.7M435.2 360.1h0.7M450.8 350.6h0.7M436.7 350.7h0.7M461.1 380.2h0.7M467.5 371.3h0.7M450.3 348.1h0.7M432.4 375.9h0.7M432.5 371.2h0.7M454.1 348.0h0.7M467.7 355.2h0.7M437.3 364.5h0.7M468.4 354.8h0.7M455.4 381.5h0.7M433.8 360.2h0.7M432.7 375.6h0.7M460.1 350.1h0.7M438.1 374.2h0.7M435.2 359.6h0.7M436.4 369.5h0.7M451.1 351.8h0.7M463.4 378.6h0.7M446.6 351.6h0.7M464.4 351.0h0.7M463.4 378.0h0.7M446.9 351.3h0.7M467.5 371.4h0.7M444.0 382.1h0.7M472.7 378.5h0.7M468.7 357.9h0.7M469.5 359.9h0.7M439.2 377.1h0.7M434.0 369.5h0.7M468.8 362.6h0.7M469.3 356.3h0.7M435.8 357.7h0.7M466.5 365.7h0.7M437.3 369.3h0.7M470.2 370.4h0.7M462.1 342.9h0.7M467.8 360.0h0.7M465.7 375.3h0.7M468.8 355.4h0.7M469.4 367.1h0.7M453.9 350.0h0.7M438.7 351.8h0.7M433.3 358.3h0.7M445.7 380.8h0.7M435.9 358.9h0.7M442.8 379.7h0.7M444.4 349.8h0.7M455.6 350.5h0.7M470.9 343.5h0.7M467.8 354.1h0.7M467.3 353.5h0.7M436.1 379.1h0.7M432.0 369.2h0.7M448.5 381.0h0.7M436.8 374.4h0.7M434.4 360.6h0.7M455.7 383.5h0.7M454.9 348.3h0.7M467.2 367.7h0.7M463.1 381.1h0.7M452.2 350.2h0.7M465.4 378.7h0.7M436.2 372.3h0.7M437.5 368.3h0.7M444.0 382.6h0.7M467.3 371.9h0.7M451.3 349.8h0.7M435.9 374.7h0.7M464.5 351.6h0.7M458.6 380.1h0.7M453.6 349.6h0.7M466.1 363.7h0.7M441.7 350.6h0.7M452.2 348.0h0.7M466.7 370.4h0.7M466.9 374.9h0.7M454.3 350.7h0.7M467.4 362.7h0.7M441.6 378.2h0.7M460.8 379.1h0.7M436.7 365.6h0.7M434.4 359.8h0.7M436.3 366.1h0.7M448.0 348.9h0.7M449.0 351.7h0.7M458.8 349.8h0.7M436.4 368.4h0.7M467.0 370.2h0.7M438.9 375.4h0.7M469.1 369.9h0.7M437.5 377.2h0.7M433.4 372.8h0.7M469.1 364.7h0.7M447.7 351.9h0.7M465.0 351.5h0.7M464.9 349.6h0.7M469.5 359.6h0.7M470.2 359.1h0.7M469.0 359.6h0.7M472.7 358.2h0.7M468.6 362.8h0.7M470.7 369.1h0.7M447.6 382.3h0.7M465.9 352.2h0.7M451.6 382.2h0.7M451.5 351.5h0.7M464.4 350.9h0.7M438.1 376.0h0.7M468.0 369.9h0.7M463.9 377.4h0.7M451.8 351.0h0.7M451.4 351.9h0.7M466.5 349.3h0.7M452.4 350.9h0.7M433.9 360.7h0.7M472.2 358.4h0.7M465.5 348.3h0.7M473.8 357.7h0.7M452.7 381.6h0.7M466.4 380.9h0.7M468.2 368.5h0.7M472.3 355.6h0.7M435.0 356.2h0.7M436.7 370.8h0.7M432.8 362.4h0.7M467.1 361.5h0.7M436.3 372.2h0.7M456.8 350.2h0.7M445.6 349.3h0.7M466.2 363.4h0.7M445.7 381.3h0.7M447.8 350.4h0.7M471.1 359.8h0.7M461.7 346.4h0.7M445.6 386.8h0.7M437.4 377.2h0.7M466.3 374.5h0.7M433.3 362.3h0.7M469.7 373.8h0.7M466.9 364.8h0.7M467.8 364.6h0.7M462.1 379.5h0.7M452.5 381.4h0.7M461.8 349.6h0.7M467.4 351.0h0.7M437.9 372.9h0.7M429.6 364.8h0.7M451.0 381.0h0.7M470.7 356.4h0.7M470.0 361.3h0.7M434.2 360.8h0.7M466.2 353.2h0.7M458.4 349.9h0.7M466.0 352.9h0.7M431.9 375.3h0.7M466.3 350.2h0.7M455.6 350.5h0.7M456.8 347.4h0.7M470.2 355.0h0.7M475.0 348.1h0.7M430.8 362.0h0.7M471.0 366.0h0.7M437.4 369.6h0.7M469.9 371.1h0.7M452.9 382.9h0.7M469.3 356.2h0.7M450.1 382.8h0.7M467.8 373.1h0.7M466.4 351.8h0.7M457.6 349.7h0.7M469.7 370.4h0.7M437.1 372.1h0.7M469.4 358.2h0.7M435.4 371.9h0.7M460.2 380.0h0.7M466.6 366.4h0.7M458.7 349.2h0.7M459.3 380.0h0.7M435.4 360.4h0.7M437.4 366.0h0.7M441.8 351.5h0.7M436.1 364.9h0.7M467.3 354.9h0.7M451.2 351.2h0.7M457.0 348.1h0.7M448.7 381.1h0.7M452.3 381.9h0.7M454.2 347.9h0.7M466.1 362.7h0.7M467.2 347.9h0.7M463.0 378.5h0.7M468.8 365.5h0.7M477.6 358.7h0.7M440.1 377.3h0.7M458.2 350.2h0.7M438.4 374.6h0.7M469.3 359.6h0.7M440.1 378.2h0.7M447.9 382.8h0.7M432.7 367.2h0.7M457.5 381.4h0.7M436.1 366.7h0.7M448.2 383.1h0.7M455.6 350.3h0.7M447.3 351.6h0.7M433.6 366.8h0.7M434.3 361.2h0.7M434.9 363.9h0.7M435.2 374.0h0.7M468.5 349.7h0.7M469.9 371.2h0.7M467.5 351.2h0.7M458.4 349.3h0.7M435.3 368.3h0.7M445.8 349.0h0.7M436.7 371.4h0.7M435.7 358.7h0.7M455.6 383.1h0.7M434.0 353.3h0.7M466.8 352.1h0.7M464.7 376.6h0.7M445.2 347.8h0.7M467.8 370.1h0.7M468.2 354.5h0.7M467.0 367.2h0.7M466.0 378.6h0.7M476.1 354.8h0.7M467.8 366.7h0.7M460.4 349.1h0.7M454.5 387.8h0.7M432.8 359.9h0.7M436.0 351.5h0.7M456.7 348.2h0.7M451.7 381.2h0.7M460.9 381.2h0.7M432.3 370.6h0.7M464.5 375.9h0.7M461.1 378.7h0.7M466.6 374.8h0.7M450.8 348.7h0.7M466.6 370.6h0.7M471.7 358.2h0.7M466.6 382.4h0.7M467.3 373.3h0.7M465.8 350.6h0.7M441.6 351.4h0.7M451.8 350.2h0.7M469.4 356.8h0.7M468.5 370.2h0.7M436.4 374.4h0.7M433.1 359.2h0.7M457.4 380.3h0.7M460.8 383.0h0.7M439.0 377.4h0.7M466.4 366.0h0.7M462.3 381.5h0.7M448.6 351.6h0.7M465.1 376.6h0.7M467.5 361.0h0.7M435.1 360.9h0.7M443.7 380.4h0.7M470.5 359.7h0.7M462.2 379.4h0.7M471.6 352.2h0.7M469.9 378.5h0.7M466.9 362.8h0.7M438.9 351.4h0.7M461.3 348.8h0.7M459.5 348.1h0.7M449.9 382.1h0.7M471.6 356.9h0.7M468.0 364.8h0.7M429.5 377.5h0.7M444.6 380.5h0.7M467.0 372.5h0.7M472.9 354.3h0.7M470.7 355.0h0.7M460.1 349.7h0.7M451.9 349.5h0.7M467.8 362.9h0.7M438.8 351.5h0.7M450.0 350.7h0.7M481.3 376.3h0.7M435.4 348.4h0.7M468.5 368.6h0.7M435.5 356.0h0.7M436.9 367.5h0.7M437.6 370.3h0.7M446.9 352.1h0.7M448.1 381.8h0.7M441.7 351.5h0.7M443.7 351.4h0.7M466.3 366.7h0.7M445.7 347.9h0.7M451.9 351.4h0.7M460.5 379.9h0.7M452.3 351.0h0.7M469.8 361.1h0.7M437.9 376.0h0.7M434.6 362.6h0.7M470.8 362.0h0.7M448.3 350.2h0.7M436.8 369.4h0.7M470.8 358.8h0.7M437.7 370.7h0.7M435.5 358.1h0.7M460.8 346.7h0.7M456.7 349.7h0.7M467.4 360.2h0.7M443.5 351.4h0.7M439.5 352.7h0.7M466.1 353.2h0.7M468.8 354.9h0.7M454.2 350.8h0.7M471.2 371.8h0.7M459.7 348.1h0.7M470.5 353.3h0.7M440.6 379.8h0.7M471.0 357.0h0.7M456.1 350.5h0.7M440.6 351.8h0.7M439.8 350.1h0.7M437.1 368.6h0.7M467.2 360.7h0.7M434.3 370.7h0.7M442.8 347.8h0.7M468.8 357.3h0.7M464.6 375.9h0.7M448.6 352.2h0.7M457.9 381.8h0.7M433.2 357.7h0.7M433.3 377.3h0.7M466.9 368.0h0.7M450.8 347.8h0.7M481.2 355.3h0.7M435.6 361.2h0.7M447.5 382.7h0.7M466.4 364.2h0.7M472.6 369.8h0.7M468.3 349.4h0.7M442.1 380.1h0.7M464.5 378.2h0.7M433.9 375.3h0.7M442.4 350.5h0.7M449.0 381.1h0.7M436.7 355.3h0.7M470.2 353.4h0.7M457.3 380.5h0.7M429.9 365.6h0.7M466.6 362.2h0.7M437.6 368.8h0.7M466.5 370.6h0.7M455.5 382.4h0.7M457.4 349.8h0.7M436.9 366.4h0.7M469.8 362.4h0.7M432.2 352.5h0.7M438.6 376.5h0.7M467.7 347.5h0.7M467.3 371.5h0.7M468.6 379.4h0.7M437.1 364.4h0.7M435.8 354.0h0.7M462.4 348.8h0.7M466.5 372.7h0.7M465.7 374.5h0.7M463.0 378.0h0.7M461.1 349.4h0.7M459.3 384.2h0.7M437.4 369.4h0.7M460.4 346.6h0.7M452.1 350.7h0.7M467.1 367.6h0.7M461.4 343.7h0.7M458.0 347.8h0.7M459.8 347.8h0.7M435.5 359.5h0.7M441.8 380.6h0.7M471.4 357.0h0.7M439.5 378.4h0.7M455.5 381.8h0.7M473.7 360.9h0.7M468.9 363.3h0.7M448.7 351.3h0.7M461.4 350.1h0.7M451.0 385.9h0.7M446.7 348.7h0.7M434.1 359.9h0.7M435.6 351.9h0.7M434.4 360.9h0.7M457.7 380.1h0.7M467.2 367.0h0.7M470.6 357.3h0.7M433.3 356.3h0.7M445.9 384.9h0.7M437.3 370.0h0.7M435.4 370.2h0.7M437.1 373.0h0.7M468.0 359.3h0.7M443.6 382.5h0.7M445.9 351.9h0.7M448.6 350.3h0.7M437.1 368.9h0.7M441.1 351.8h0.7M470.1 370.5h0.7M448.2 384.5h0.7M445.0 349.1h0.7M467.7 353.8h0.7M438.0 349.8h0.7M468.6 359.3h0.7M467.9 360.3h0.7M448.6 351.0h0.7M468.1 368.9h0.7M470.8 372.4h0.7M433.5 361.7h0.7M457.2 349.6h0.7M463.3 377.1h0.7M436.7 362.9h0.7M469.8 366.2h0.7M435.2 351.5h0.7M456.7 348.7h0.7M468.3 355.0h0.7M437.6 379.4h0.7M468.2 351.8h0.7M449.2 352.0h0.7M435.6 353.2h0.7M467.2 369.5h0.7M447.6 383.4h0.7M465.0 383.6h0.7M435.5 358.6h0.7M432.3 356.9h0.7M468.4 352.2h0.7M465.0 351.7h0.7M437.5 365.4h0.7M434.9 358.4h0.7M436.2 369.0h0.7M468.1 375.9h0.7M450.3 381.9h0.7M466.7 352.8h0.7M466.6 369.0h0.7M438.5 375.3h0.7M437.7 350.3h0.7M471.5 354.5h0.7M451.2 381.4h0.7M445.1 380.3h0.7M461.8 380.3h0.7M467.5 374.6h0.7M445.3 382.2h0.7M464.0 377.2h0.7M468.1 371.9h0.7M471.7 353.9h0.7M468.1 356.2h0.7M436.0 360.9h0.7M466.5 376.6h0.7M438.3 351.4h0.7M448.8 383.5h0.7M477.1 360.8h0.7M436.4 361.7h0.7M468.2 361.7h0.7M462.0 348.9h0.7M445.4 381.3h0.7M459.7 382.2h0.7M444.1 351.5h0.7M468.0 360.5h0.7M443.8 383.5h0.7M462.6 380.1h0.7M436.5 364.3h0.7M435.5 370.3h0.7M433.8 356.8h0.7M437.6 370.9h0.7M432.3 363.2h0.7M446.1 381.0h0.7M437.6 367.8h0.7M470.4 357.5h0.7M448.6 352.4h0.7M466.4 368.1h0.7M435.6 363.2h0.7M470.3 353.7h0.7M436.0 360.9h0.7M434.8 370.5h0.7M463.1 378.0h0.7M468.9 360.9h0.7M467.8 364.4h0.7M436.9 350.8h0.7M437.3 369.6h0.7M434.8 357.8h0.7M469.1 375.9h0.7M439.3 376.7h0.7M455.8 381.7h0.7M462.5 349.3h0.7M446.5 381.9h0.7M474.5 365.8h0.7M429.6 352.4h0.7M448.6 350.7h0.7M441.8 378.6h0.7M468.2 362.5h0.7M451.9 350.4h0.7M455.9 381.5h0.7M462.6 378.7h0.7M466.2 366.1h0.7M472.1 356.1h0.7M438.1 383.0h0.7M453.5 350.9h0.7M446.5 345.0h0.7M464.8 350.2h0.7M474.6 360.6h0.7M467.3 352.6h0.7M436.1 355.3h0.7M456.6 348.6h0.7M470.4 355.5h0.7M434.6 363.2h0.7M452.2 350.4h0.7M437.4 367.5h0.7M459.6 379.8h0.7M465.5 350.4h0.7M468.4 361.1h0.7M432.3 373.3h0.7M455.6 382.6h0.7M471.0 372.4h0.7M444.8 349.0h0.7M437.5 354.4h0.7M440.3 349.6h0.7M445.5 380.7h0.7M469.1 373.8h0.7M466.5 373.7h0.7M442.9 350.2h0.7M468.0 366.6h0.7M467.7 360.7h0.7M437.6 367.0h0.7M434.5 354.7h0.7M464.6 378.9h0.7M472.9 369.0h0.7M465.4 350.4h0.7M467.5 365.4h0.7M440.8 384.7h0.7M436.2 360.6h0.7M468.7 351.6h0.7M446.5 349.9h0.7M471.6 361.4h0.7M467.5 363.8h0.7M450.7 381.4h0.7M468.2 371.8h0.7M466.6 371.2h0.7M454.5 343.8h0.7M438.4 352.3h0.7M470.3 369.9h0.7M455.2 383.1h0.7M475.1 374.6h0.7M462.4 348.6h0.7M430.6 364.3h0.7M456.5 349.8h0.7M431.8 355.1h0.7M468.9 356.3h0.7M451.7 350.8h0.7M447.3 381.7h0.7M442.8 381.3h0.7M447.7 350.5h0.7M435.2 371.0h0.7M460.6 347.7h0.7M437.3 366.0h0.7M463.0 377.9h0.7M437.4 366.6h0.7M466.9 366.2h0.7M448.1 350.1h0.7M459.3 349.7h0.7M436.2 364.4h0.7M439.1 375.7h0.7M433.3 360.4h0.7M457.5 350.2h0.7M437.9 353.7h0.7M460.2 348.5h0.7M466.5 372.8h0.7M439.5 350.4h0.7M439.1 349.2h0.7M436.8 368.5h0.7M435.9 350.6h0.7M475.2 361.9h0.7M453.8 381.1h0.7M437.5 365.0h0.7M443.0 379.5h0.7M472.9 352.3h0.7M468.1 352.1h0.7M434.1 355.0h0.7M437.2 374.7h0.7M435.5 357.2h0.7M464.7 378.8h0.7M453.9 347.7h0.7M435.8 355.6h0.7M441.5 378.1h0.7M466.3 376.2h0.7M467.4 371.4h0.7M467.0 366.2h0.7M435.8 358.5h0.7M433.9 364.2h0.7M446.8 351.5h0.7M466.5 374.3h0.7M466.3 364.1h0.7M445.5 380.5h0.7M459.0 347.7h0.7M459.1 349.2h0.7M441.8 382.7h0.7M452.1 351.3h0.7M462.8 381.1h0.7M447.0 351.9h0.7M463.4 350.8h0.7M472.4 380.7h0.7M449.6 348.8h0.7M462.0 379.9h0.7M445.6 380.4h0.7M465.5 374.9h0.7M466.4 372.6h0.7M433.5 360.3h0.7M450.3 350.5h0.7M437.6 379.2h0.7M436.6 355.0h0.7M468.8 369.6h0.7M460.4 347.8h0.7M431.3 357.1h0.7M455.0 349.7h0.7M466.2 352.5h0.7M469.5 368.2h0.7M437.4 368.7h0.7M458.7 349.2h0.7M467.3 354.6h0.7M467.5 370.9h0.7M444.4 380.8h0.7M432.4 359.2h0.7M453.0 348.9h0.7M435.6 358.8h0.7M468.3 364.8h0.7M438.5 376.9h0.7M467.0 367.4h0.7M442.6 379.7h0.7M443.8 346.3h0.7M461.0 349.7h0.7M435.8 355.1h0.7M436.9 362.8h0.7M453.0 345.7h0.7M442.6 351.1h0.7M435.1 350.3h0.7M461.3 380.9h0.7M457.3 349.0h0.7M450.4 382.2h0.7M461.2 379.7h0.7M475.4 345.3h0.7M436.4 372.3h0.7M448.4 352.1h0.7M440.8 378.3h0.7M434.6 361.0h0.7M450.6 384.5h0.7M435.1 364.8h0.7M468.1 360.7h0.7M434.0 363.6h0.7M460.8 380.4h0.7M465.6 375.3h0.7M436.9 370.1h0.7M442.2 346.9h0.7M433.8 368.5h0.7M467.1 374.0h0.7M439.8 376.9h0.7M467.3 369.4h0.7M436.6 372.5h0.7M434.0 351.3h0.7M442.5 381.5h0.7M448.9 350.4h0.7M431.2 358.5h0.7M466.7 353.5h0.7M470.9 353.9h0.7M468.4 378.5h0.7M458.5 349.2h0.7M460.2 349.5h0.7M455.1 350.4h0.7M442.1 351.5h0.7M446.6 380.7h0.7M431.5 354.4h0.7M450.7 381.3h0.7M436.4 353.5h0.7M468.2 361.3h0.7M467.1 351.0h0.7M464.9 351.9h0.7M435.7 371.0h0.7M439.1 352.1h0.7M444.6 349.7h0.7M457.4 343.4h0.7M448.5 352.5h0.7M438.6 351.3h0.7M435.3 354.2h0.7M457.6 381.3h0.7M468.9 361.2h0.7M437.2 373.2h0.7M461.7 348.0h0.7M458.1 380.9h0.7M433.5 356.3h0.7M466.8 362.7h0.7M435.2 360.0h0.7M471.0 356.2h0.7M451.9 350.9h0.7M435.8 364.1h0.7M467.0 361.8h0.7M453.8 350.7h0.7M439.5 377.1h0.7M444.9 347.7h0.7M468.4 365.8h0.7M434.4 354.7h0.7M452.9 381.3h0.7M468.4 354.5h0.7M474.7 355.3h0.7M474.6 362.3h0.7M444.1 379.8h0.7M457.2 348.6h0.7M438.0 352.3h0.7M436.0 361.3h0.7M455.1 350.4h0.7M465.1 351.0h0.7M435.2 358.8h0.7M460.6 379.5h0.7M479.9 353.5h0.7M436.6 362.1h0.7M448.4 351.3h0.7M466.5 366.1h0.7M459.7 349.4h0.7M467.1 376.7h0.7M459.9 347.3h0.7M452.0 383.4h0.7M433.8 357.9h0.7M442.9 380.0h0.7M468.5 366.4h0.7M457.7 381.8h0.7M434.4 374.3h0.7M467.3 354.3h0.7M461.2 380.8h0.7M458.6 383.3h0.7M469.8 362.9h0.7M469.1 358.9h0.7M441.2 351.6h0.7M433.5 366.7h0.7M437.4 368.8h0.7M471.0 360.7h0.7M436.3 361.3h0.7M461.4 379.6h0.7M469.2 377.5h0.7M437.3 371.2h0.7M447.3 348.8h0.7M450.6 351.5h0.7M463.5 377.8h0.7M466.8 372.9h0.7M451.8 350.5h0.7M449.0 352.2h0.7M455.8 348.8h0.7M466.1 351.2h0.7M462.1 378.6h0.7M465.6 352.1h0.7M464.4 376.8h0.7M442.2 346.9h0.7M436.2 357.2h0.7M452.3 381.4h0.7M445.5 381.2h0.7M467.4 353.3h0.7M439.6 352.2h0.7M468.3 357.1h0.7M468.4 369.2h0.7M471.8 356.0h0.7M467.5 362.3h0.7M469.8 357.4h0.7M440.3 352.1h0.7M467.3 363.3h0.7M432.5 372.8h0.7M450.3 381.7h0.7M447.4 383.4h0.7M466.3 367.5h0.7M459.9 380.1h0.7M454.2 346.1h0.7M468.1 353.0h0.7M455.6 380.7h0.7M469.8 377.8h0.7M467.1 372.4h0.7M453.4 382.1h0.7M449.9 384.6h0.7M473.1 359.9h0.7M446.0 350.0h0.7M469.1 359.9h0.7M455.4 350.3h0.7M450.9 381.3h0.7M466.3 375.9h0.7M442.0 378.6h0.7M472.7 362.1h0.7M449.4 382.0h0.7M472.3 370.6h0.7M436.8 368.1h0.7M448.1 348.7h0.7M434.4 359.6h0.7M463.3 348.6h0.7M435.1 375.6h0.7M435.2 366.6h0.7M467.0 369.2h0.7M458.2 380.7h0.7M471.8 366.4h0.7M434.5 361.6h0.7M441.1 377.8h0.7M466.2 363.4h0.7M433.5 367.9h0.7M458.8 381.7h0.7M464.2 376.5h0.7M437.0 375.0h0.7M468.3 367.6h0.7M465.0 348.6h0.7M470.6 357.8h0.7M469.5 365.8h0.7M460.3 349.5h0.7M456.5 381.2h0.7M458.4 350.1h0.7M466.6 363.6h0.7M449.5 348.5h0.7M444.4 379.9h0.7M456.4 382.5h0.7M470.3 356.2h0.7M455.6 349.1h0.7M462.4 349.5h0.7M439.4 351.3h0.7M466.6 370.8h0.7M446.0 350.8h0.7M466.7 371.5h0.7M437.9 376.8h0.7M461.9 346.2h0.7M433.0 356.7h0.7M459.3 346.4h0.7M439.4 376.3h0.7M468.4 354.7h0.7M447.2 381.2h0.7M471.2 378.3h0.7M462.1 379.1h0.7M436.3 363.1h0.7M468.4 378.2h0.7M432.6 369.0h0.7M470.3 355.0h0.7M481.0 353.8h0.7M443.9 379.5h0.7M467.2 373.2h0.7M469.7 358.9h0.7M467.9 369.3h0.7M434.4 354.5h0.7M463.2 378.1h0.7M469.2 368.0h0.7M466.6 371.7h0.7M455.4 382.6h0.7M437.4 366.9h0.7M437.3 352.9h0.7M442.9 351.4h0.7" stroke="#777" stroke-width="0.7" fill="none"/>
<path d="M451.1 371.6 450.0 371.1 450.9 369.9 451.9 370.9 451.1 371.6Z M452.1 372.7 450.1 372.7 448.6 371.6 448.7 369.6 450.1 368.0 452.1 368.2 453.5 369.6 453.7 371.4 452.1 372.7Z M452.1 373.9 448.9 373.6 447.1 371.6 447.6 368.1 450.1 366.0 453.4 366.6 455.4 369.6 455.6 371.1 455.1 372.4 452.1 373.9Z M451.9 375.1 447.6 374.4 446.2 373.1 445.5 371.4 445.8 368.6 446.7 366.4 448.4 364.7 450.4 363.9 452.9 364.2 454.9 365.3 456.5 367.4 457.3 369.9 457.3 371.9 456.3 373.4 454.4 374.5 451.9 375.1Z M459.6 357.9 458.1 357.9 457.7 356.6 458.6 356.0 459.9 356.3 460.3 357.1 459.6 357.9Z M443.1 359.5 441.7 358.9 442.4 357.5 443.7 358.1 443.1 359.5Z M453.4 376.1 450.4 376.4 447.6 375.7 445.4 374.3 444.1 372.1 444.1 369.1 445.2 365.6 447.1 363.2 449.4 362.0 452.4 361.9 455.1 363.0 457.3 365.1 458.8 368.1 459.2 371.1 458.5 373.1 456.4 375.0 453.4 376.1Z M453.1 377.4 449.9 377.5 446.9 376.8 444.6 375.4 443.0 373.4 442.4 371.6 442.5 368.9 444.5 362.1 441.6 360.9 440.5 359.6 440.4 357.6 441.6 356.3 443.1 356.1 444.6 356.8 446.4 360.4 450.4 359.7 455.2 359.6 455.6 356.4 457.9 354.7 460.4 354.8 462.0 356.1 462.1 357.6 461.2 358.9 456.8 360.6 460.4 367.1 461.0 370.4 460.7 372.6 457.9 375.8 453.1 377.4Z M452.6 378.6 449.1 378.6 446.1 377.8 443.6 376.3 441.9 374.4 440.9 371.1 441.5 363.9 439.1 360.1 439.0 357.4 440.2 355.6 442.1 354.7 444.4 354.9 447.6 357.0 449.6 357.2 452.1 356.6 456.6 353.5 460.9 353.4 463.1 354.8 464.0 356.9 463.6 358.9 461.0 362.4 462.7 368.9 462.6 372.6 461.3 374.9 458.9 376.8 452.6 378.6Z M451.9 379.9 448.4 379.7 445.1 378.7 442.4 377.0 440.5 374.9 439.3 371.6 439.5 364.6 437.5 359.6 437.8 356.6 439.4 354.4 441.9 353.2 444.1 353.2 449.4 354.7 456.9 351.9 461.9 352.2 464.6 354.0 465.9 356.6 465.6 358.9 463.6 363.1 464.7 369.9 464.3 373.1 462.7 375.6 459.9 377.8 456.1 379.2 451.9 379.9Z M453.9 380.9 449.1 381.0 444.9 380.0 441.1 377.7 438.7 374.6 437.8 371.6 437.8 365.4 436.0 358.4 437.1 354.9 439.9 352.4 443.1 351.6 449.4 352.3 455.9 350.5 459.6 350.3 464.4 351.7 467.2 354.6 467.8 357.6 465.9 363.4 466.5 371.1 465.8 374.1 464.1 376.4 461.4 378.5 457.9 380.0 453.9 380.9Z" stroke="#000" stroke-width="0.75" fill="none" stroke-linejoin="round"/>
<ellipse cx="450.90" cy="371.00" rx="1.8" ry="2.0" fill="#fff"/>
<ellipse cx="442.70" cy="358.40" rx="0.8" ry="0.8" fill="#fff"/>
<circle cx="442.40" cy="337.60" r="2.0" fill="none" stroke="#000" stroke-width="0.8"/>
</g>
<line x1="448.00" y1="315.00" x2="448.00" y2="396.30" stroke="#555" stroke-width="0.85"/>
<line x1="416.50" y1="345.40" x2="509.70" y2="345.40" stroke="#555" stroke-width="0.85"/>
<rect x="416.50" y="315.00" width="93.20" height="81.30" fill="none" stroke="#8a8a8a" stroke-width="0.8"/>
<line x1="414.30" y1="321.80" x2="416.50" y2="321.80" stroke="#555" stroke-width="0.7"/>
<text x="413.90" y="323.70" font-size="5.6" fill="#333" text-anchor="end">10<tspan font-size="4.03" dy="-2.2">5</tspan></text>
<line x1="414.30" y1="342.00" x2="416.50" y2="342.00" stroke="#555" stroke-width="0.7"/>
<text x="413.90" y="343.90" font-size="5.6" fill="#333" text-anchor="end">10<tspan font-size="4.03" dy="-2.2">4</tspan></text>
<line x1="414.30" y1="362.40" x2="416.50" y2="362.40" stroke="#555" stroke-width="0.7"/>
<text x="413.90" y="364.30" font-size="5.6" fill="#333" text-anchor="end">10<tspan font-size="4.03" dy="-2.2">3</tspan></text>
<line x1="414.30" y1="377.00" x2="416.50" y2="377.00" stroke="#555" stroke-width="0.7"/>
<text x="412.30" y="378.90" font-size="5.6" fill="#333" text-anchor="end">0</text>
<line x1="414.30" y1="388.50" x2="416.50" y2="388.50" stroke="#555" stroke-width="0.7"/>
<text x="413.90" y="390.40" font-size="5.6" fill="#333" text-anchor="end">−10<tspan font-size="4.03" dy="-2.2">3</tspan></text>
<line x1="415.40" y1="327.86" x2="416.50" y2="327.86" stroke="#777" stroke-width="0.5"/>
<line x1="415.40" y1="331.90" x2="416.50" y2="331.90" stroke="#777" stroke-width="0.5"/>
<line x1="415.40" y1="335.94" x2="416.50" y2="335.94" stroke="#777" stroke-width="0.5"/>
<line x1="415.40" y1="348.12" x2="416.50" y2="348.12" stroke="#777" stroke-width="0.5"/>
<line x1="415.40" y1="352.20" x2="416.50" y2="352.20" stroke="#777" stroke-width="0.5"/>
<line x1="415.40" y1="356.28" x2="416.50" y2="356.28" stroke="#777" stroke-width="0.5"/>
<line x1="415.40" y1="366.78" x2="416.50" y2="366.78" stroke="#777" stroke-width="0.5"/>
<line x1="415.40" y1="369.70" x2="416.50" y2="369.70" stroke="#777" stroke-width="0.5"/>
<line x1="415.40" y1="372.62" x2="416.50" y2="372.62" stroke="#777" stroke-width="0.5"/>
<line x1="415.40" y1="380.45" x2="416.50" y2="380.45" stroke="#777" stroke-width="0.5"/>
<line x1="415.40" y1="382.75" x2="416.50" y2="382.75" stroke="#777" stroke-width="0.5"/>
<line x1="415.40" y1="385.05" x2="416.50" y2="385.05" stroke="#777" stroke-width="0.5"/>
<line x1="422.70" y1="396.30" x2="422.70" y2="398.50" stroke="#555" stroke-width="0.7"/>
<text x="422.90" y="406.90" font-size="5.6" fill="#333" text-anchor="middle">−10<tspan font-size="4.03" dy="-2.2">3</tspan></text>
<line x1="436.70" y1="396.30" x2="436.70" y2="398.50" stroke="#555" stroke-width="0.7"/>
<text x="436.70" y="406.90" font-size="5.6" fill="#333" text-anchor="middle">0</text>
<line x1="450.60" y1="396.30" x2="450.60" y2="398.50" stroke="#555" stroke-width="0.7"/>
<text x="450.80" y="406.90" font-size="5.6" fill="#333" text-anchor="middle">10<tspan font-size="4.03" dy="-2.2">3</tspan></text>
<line x1="477.50" y1="396.30" x2="477.50" y2="398.50" stroke="#555" stroke-width="0.7"/>
<text x="477.70" y="406.90" font-size="5.6" fill="#333" text-anchor="middle">10<tspan font-size="4.03" dy="-2.2">4</tspan></text>
<line x1="497.70" y1="396.30" x2="497.70" y2="398.50" stroke="#555" stroke-width="0.7"/>
<text x="497.90" y="406.90" font-size="5.6" fill="#333" text-anchor="middle">10<tspan font-size="4.03" dy="-2.2">5</tspan></text>
<line x1="426.90" y1="396.30" x2="426.90" y2="397.40" stroke="#777" stroke-width="0.5"/>
<line x1="429.70" y1="396.30" x2="429.70" y2="397.40" stroke="#777" stroke-width="0.5"/>
<line x1="432.50" y1="396.30" x2="432.50" y2="397.40" stroke="#777" stroke-width="0.5"/>
<line x1="440.87" y1="396.30" x2="440.87" y2="397.40" stroke="#777" stroke-width="0.5"/>
<line x1="443.65" y1="396.30" x2="443.65" y2="397.40" stroke="#777" stroke-width="0.5"/>
<line x1="446.43" y1="396.30" x2="446.43" y2="397.40" stroke="#777" stroke-width="0.5"/>
<line x1="458.67" y1="396.30" x2="458.67" y2="397.40" stroke="#777" stroke-width="0.5"/>
<line x1="464.05" y1="396.30" x2="464.05" y2="397.40" stroke="#777" stroke-width="0.5"/>
<line x1="469.43" y1="396.30" x2="469.43" y2="397.40" stroke="#777" stroke-width="0.5"/>
<line x1="483.56" y1="396.30" x2="483.56" y2="397.40" stroke="#777" stroke-width="0.5"/>
<line x1="487.60" y1="396.30" x2="487.60" y2="397.40" stroke="#777" stroke-width="0.5"/>
<line x1="491.64" y1="396.30" x2="491.64" y2="397.40" stroke="#777" stroke-width="0.5"/>
<rect x="414.90" y="375.40" width="1.4" height="3.2" fill="#000"/>
<rect x="434.30" y="396.60" width="4.8" height="1.4" fill="#000"/>
<text x="418.80" y="324.60" font-size="8.2" fill="#1a1a1a" font-weight="bold">4,47</text>
<text x="504.50" y="324.60" font-size="8.2" fill="#1a1a1a" font-weight="bold" text-anchor="end">4,07</text>
<text x="418.80" y="392.90" font-size="8.2" fill="#1a1a1a" font-weight="bold">24,6</text>
<text x="504.50" y="392.90" font-size="8.2" fill="#1a1a1a" font-weight="bold" text-anchor="end">66,8</text>
<clipPath id="c8"><rect x="416.50" y="416.00" width="93.20" height="81.30"/></clipPath>
<g clip-path="url(#c8)">
<path d="M453.9 438.8h0.7M446.6 468.6h0.7M460.6 443.1h0.7M467.0 468.7h0.7M457.6 458.3h0.7M452.4 455.6h0.7M462.3 436.5h0.7M481.5 440.8h0.7M463.5 441.3h0.7M452.3 423.3h0.7M431.5 446.8h0.7M444.1 433.8h0.7M463.0 427.5h0.7M459.0 444.4h0.7M461.8 446.4h0.7M437.8 446.5h0.7M469.5 431.8h0.7M471.8 436.8h0.7M451.8 451.5h0.7M449.4 448.9h0.7M446.8 452.8h0.7M463.4 443.4h0.7M449.6 442.5h0.7M452.6 433.8h0.7M444.8 440.3h0.7M437.6 470.9h0.7M467.3 444.3h0.7M460.2 447.6h0.7M452.3 435.6h0.7M441.0 459.2h0.7M467.7 431.3h0.7M473.7 446.3h0.7M446.2 430.2h0.7M458.4 449.8h0.7M473.6 451.4h0.7M466.4 442.1h0.7M455.3 444.8h0.7M454.8 447.4h0.7M464.2 425.4h0.7M470.8 429.0h0.7M472.1 446.8h0.7M464.7 440.0h0.7M455.5 454.8h0.7M458.3 425.5h0.7M471.8 447.6h0.7M456.5 431.5h0.7M452.0 428.7h0.7M440.3 466.2h0.7M457.1 440.2h0.7M464.9 432.9h0.7M477.2 453.1h0.7M456.7 450.7h0.7M471.9 467.3h0.7M477.0 427.0h0.7M449.5 454.6h0.7M470.3 453.5h0.7M454.2 448.8h0.7M466.3 457.9h0.7M445.7 475.2h0.7M463.8 442.8h0.7M448.1 446.9h0.7M447.4 456.6h0.7M442.5 449.9h0.7M447.8 447.9h0.7M479.7 441.1h0.7M463.6 439.8h0.7M448.5 460.0h0.7M446.4 454.5h0.7M459.9 441.7h0.7M468.8 437.4h0.7M465.2 430.8h0.7M460.1 429.5h0.7M454.0 457.5h0.7M463.1 454.3h0.7M460.5 441.1h0.7M457.5 433.1h0.7M474.2 451.0h0.7M454.6 447.0h0.7M442.2 463.2h0.7M457.0 432.4h0.7M466.1 465.9h0.7M464.2 442.1h0.7M468.6 450.4h0.7M453.6 460.6h0.7M459.9 440.7h0.7M433.2 452.9h0.7M440.8 429.0h0.7M451.1 435.2h0.7M459.4 444.5h0.7M461.1 428.9h0.7M458.0 426.4h0.7M455.9 439.3h0.7M460.5 451.0h0.7M472.3 424.6h0.7M469.7 441.4h0.7M456.5 453.0h0.7M462.8 444.4h0.7M440.4 449.6h0.7M476.0 451.8h0.7M458.6 467.9h0.7M465.8 442.8h0.7M467.3 433.9h0.7M463.3 441.4h0.7M466.9 444.6h0.7M456.7 437.7h0.7M467.9 425.4h0.7M441.3 456.8h0.7M463.6 456.4h0.7M461.9 438.5h0.7M448.7 444.3h0.7M442.6 452.6h0.7M464.5 428.4h0.7M466.0 424.1h0.7M445.9 453.9h0.7M456.6 437.2h0.7M453.0 436.3h0.7M462.2 453.4h0.7M467.2 428.1h0.7M461.5 433.2h0.7M465.6 430.8h0.7M452.8 481.3h0.7M460.2 439.8h0.7M470.3 429.0h0.7M448.3 455.2h0.7M461.1 441.0h0.7M478.4 443.6h0.7M465.7 436.7h0.7M485.9 437.7h0.7M469.5 442.3h0.7M461.7 431.7h0.7M462.5 442.7h0.7M478.9 443.3h0.7M460.9 443.8h0.7M458.7 446.5h0.7M451.8 467.6h0.7M465.4 429.2h0.7M460.0 438.9h0.7M450.1 447.0h0.7M473.3 426.5h0.7M454.5 437.1h0.7M471.6 424.1h0.7M458.5 468.5h0.7M477.0 444.2h0.7M448.2 437.2h0.7M451.0 446.6h0.7M461.8 456.9h0.7M445.3 456.3h0.7M470.8 439.5h0.7M450.9 438.8h0.7M464.1 436.4h0.7M477.1 443.7h0.7M466.2 443.2h0.7M447.8 450.0h0.7M485.9 450.0h0.7M470.2 447.1h0.7M452.3 446.4h0.7M462.0 450.6h0.7M454.1 425.6h0.7M460.0 446.7h0.7M492.5 436.3h0.7M445.9 453.1h0.7M462.2 442.1h0.7M469.5 437.7h0.7M455.7 437.1h0.7M453.8 435.8h0.7M448.0 461.5h0.7M459.5 433.2h0.7M463.0 434.1h0.7M457.4 445.3h0.7M451.2 439.7h0.7M470.1 454.0h0.7M449.7 462.1h0.7M471.1 433.0h0.7M448.5 439.3h0.7M448.8 443.3h0.7M460.4 443.9h0.7M450.3 449.0h0.7M456.3 448.7h0.7M467.5 439.2h0.7M471.4 451.7h0.7M460.2 445.4h0.7M459.1 429.2h0.7M459.1 428.0h0.7M439.3 461.0h0.7M457.9 443.0h0.7M448.3 442.8h0.7M453.9 453.5h0.7M454.5 447.5h0.7M464.3 456.0h0.7M475.0 424.8h0.7M448.8 459.5h0.7M451.5 463.9h0.7M449.0 459.3h0.7M444.3 431.3h0.7M463.2 432.3h0.7M435.8 449.7h0.7M470.0 455.1h0.7M451.2 440.5h0.7M451.0 420.0h0.7M458.8 454.0h0.7M465.2 427.6h0.7M432.3 444.6h0.7M463.3 450.7h0.7M447.8 416.5h0.7M457.2 466.7h0.7M462.3 455.9h0.7M454.7 453.2h0.7M441.4 469.3h0.7M477.7 427.8h0.7M477.0 419.9h0.7M460.2 441.1h0.7M468.3 450.5h0.7M448.7 458.9h0.7M455.6 431.9h0.7M465.7 454.8h0.7M465.0 433.9h0.7M456.7 439.5h0.7M458.1 447.8h0.7M455.3 443.7h0.7M465.9 457.4h0.7M460.1 444.8h0.7M458.9 445.4h0.7M456.1 450.8h0.7M453.7 434.3h0.7M440.7 422.8h0.7M464.2 460.3h0.7M474.9 447.9h0.7M429.2 438.4h0.7M452.8 463.2h0.7M450.7 438.4h0.7M460.8 440.2h0.7M443.9 445.3h0.7M456.6 441.2h0.7M465.4 416.5h0.7M463.4 430.0h0.7M452.8 429.9h0.7M445.4 436.7h0.7M436.2 426.9h0.7M464.1 443.1h0.7M473.8 450.8h0.7M465.4 445.1h0.7M457.0 420.6h0.7M457.5 440.6h0.7M457.0 431.6h0.7M455.4 470.0h0.7M460.8 453.5h0.7M465.3 434.7h0.7M460.0 437.8h0.7M476.1 452.7h0.7M461.8 443.0h0.7M459.0 451.4h0.7M476.6 452.4h0.7M472.1 428.3h0.7M457.2 460.6h0.7M457.4 432.9h0.7M471.7 428.4h0.7M453.2 439.8h0.7M454.0 421.0h0.7M481.5 436.9h0.7M436.5 462.5h0.7M451.5 463.1h0.7M473.7 439.3h0.7M459.2 457.4h0.7M453.3 431.3h0.7M464.9 451.7h0.7M450.9 432.7h0.7M459.5 437.0h0.7M462.8 478.9h0.7M465.9 443.1h0.7M449.5 436.2h0.7M470.6 471.8h0.7M451.4 440.4h0.7M476.3 438.6h0.7M451.3 453.3h0.7M464.1 451.7h0.7M475.7 456.8h0.7M463.1 424.1h0.7M448.4 443.2h0.7M461.4 430.1h0.7M478.1 462.9h0.7M460.4 446.5h0.7M463.6 421.4h0.7M462.0 434.5h0.7M438.1 463.0h0.7M465.5 445.1h0.7M464.0 436.9h0.7M452.9 449.3h0.7M453.6 429.0h0.7M453.0 445.3h0.7M457.8 456.7h0.7M456.3 444.4h0.7M474.3 432.9h0.7M461.6 450.8h0.7M456.3 434.3h0.7M450.1 423.3h0.7M448.2 438.4h0.7M477.0 444.5h0.7M457.1 440.3h0.7M448.6 430.3h0.7M469.2 451.1h0.7M449.6 420.4h0.7M469.4 446.5h0.7M451.0 448.7h0.7M457.4 437.5h0.7M449.9 462.9h0.7M445.0 452.8h0.7M460.0 439.9h0.7M471.2 446.8h0.7M460.1 440.8h0.7M451.5 444.4h0.7M453.9 458.8h0.7M472.2 444.0h0.7M455.3 434.1h0.7M476.4 436.9h0.7M451.3 430.9h0.7M442.4 461.3h0.7M460.8 442.9h0.7M462.7 439.4h0.7M465.4 474.3h0.7M463.9 439.8h0.7M475.7 454.6h0.7M452.4 433.2h0.7M465.1 448.2h0.7M436.6 444.9h0.7M453.6 452.4h0.7M444.7 455.5h0.7M447.4 458.4h0.7M488.0 443.7h0.7M458.2 451.1h0.7M440.1 446.6h0.7M464.0 447.7h0.7M456.7 423.0h0.7M475.1 430.4h0.7M466.8 445.6h0.7M453.1 443.7h0.7M438.8 428.8h0.7M456.5 444.3h0.7M477.7 430.1h0.7M469.5 438.8h0.7M461.0 452.5h0.7M466.5 447.4h0.7M478.3 440.8h0.7M449.9 444.0h0.7M450.8 464.8h0.7M452.7 441.1h0.7M441.6 453.4h0.7M461.1 456.5h0.7M450.2 430.1h0.7M463.5 444.7h0.7M464.7 442.3h0.7M459.4 441.9h0.7M459.5 437.5h0.7M443.0 454.3h0.7M465.7 457.5h0.7M446.1 462.6h0.7M443.3 457.0h0.7M474.2 453.2h0.7M440.2 444.9h0.7M448.7 454.1h0.7M467.5 420.8h0.7M471.1 459.2h0.7M457.2 457.1h0.7M466.5 446.6h0.7M459.6 458.0h0.7M488.3 434.5h0.7M462.6 443.9h0.7M469.5 455.4h0.7M464.9 448.0h0.7M476.7 450.1h0.7M457.5 456.0h0.7M451.3 450.9h0.7M451.0 437.9h0.7M454.1 457.0h0.7M463.2 454.0h0.7M455.9 457.2h0.7M449.9 445.7h0.7M459.0 424.6h0.7M442.3 457.2h0.7M459.2 425.2h0.7M459.8 439.7h0.7M454.2 441.3h0.7M458.2 450.1h0.7M463.4 443.4h0.7M454.3 450.7h0.7M463.0 448.1h0.7M484.7 431.8h0.7M460.2 439.9h0.7M463.5 463.7h0.7M463.6 439.4h0.7M470.2 442.0h0.7M449.1 462.1h0.7M481.1 445.8h0.7M450.8 449.6h0.7M455.6 427.1h0.7M442.9 438.5h0.7M461.9 433.7h0.7M453.7 440.5h0.7M445.9 446.8h0.7M470.7 447.6h0.7M442.4 439.5h0.7M455.3 453.6h0.7M461.7 458.7h0.7M465.6 448.7h0.7M468.3 434.3h0.7M459.9 448.9h0.7M461.1 427.9h0.7M445.4 448.0h0.7M455.8 438.2h0.7M448.0 448.2h0.7M463.4 438.2h0.7M454.7 442.7h0.7M463.1 450.7h0.7M477.2 422.1h0.7M457.2 448.8h0.7M451.2 441.3h0.7M453.0 445.9h0.7M450.5 470.2h0.7M463.9 450.9h0.7M458.5 453.8h0.7M464.3 435.0h0.7M457.3 455.3h0.7M451.4 442.5h0.7M458.3 451.9h0.7M481.2 438.7h0.7M448.6 449.7h0.7M449.2 440.4h0.7M439.0 445.5h0.7M477.3 447.9h0.7M461.0 446.6h0.7M474.1 425.2h0.7M454.0 446.4h0.7M455.5 449.2h0.7M456.1 442.2h0.7M439.9 462.5h0.7M451.7 459.3h0.7M455.4 446.9h0.7M452.7 452.3h0.7M464.8 425.9h0.7M477.2 456.2h0.7M457.1 425.9h0.7M450.9 440.6h0.7M446.3 450.1h0.7M449.8 442.1h0.7M462.9 434.5h0.7M451.3 432.6h0.7M465.5 437.3h0.7M452.0 447.8h0.7M475.4 434.9h0.7M447.4 440.5h0.7M463.2 452.9h0.7M463.0 450.9h0.7M458.0 454.3h0.7M449.9 451.4h0.7M457.3 460.6h0.7M459.8 458.3h0.7M476.4 440.5h0.7M463.8 426.4h0.7M457.4 456.8h0.7M450.2 446.3h0.7M437.4 475.6h0.7M452.0 447.5h0.7M462.9 445.4h0.7M469.9 451.1h0.7M468.7 467.3h0.7M480.4 441.4h0.7M458.5 431.4h0.7M459.0 441.9h0.7M461.2 442.7h0.7M463.0 437.9h0.7M458.1 447.5h0.7M463.6 453.9h0.7M444.5 436.0h0.7M459.9 437.3h0.7M456.1 436.5h0.7M449.5 451.5h0.7M466.2 433.0h0.7M447.0 435.1h0.7M441.5 443.5h0.7M467.2 422.8h0.7M461.4 446.2h0.7M454.0 451.4h0.7M486.4 440.5h0.7M463.2 435.8h0.7M462.3 443.9h0.7M471.6 440.4h0.7M461.8 442.6h0.7M443.6 448.1h0.7M482.7 419.1h0.7M463.6 436.8h0.7M451.9 444.2h0.7M455.2 449.0h0.7M468.0 426.3h0.7M480.0 455.2h0.7M459.3 441.5h0.7M445.8 446.1h0.7M456.4 449.8h0.7M462.7 446.8h0.7M458.2 444.7h0.7M456.3 454.7h0.7M471.6 445.5h0.7M478.3 438.1h0.7M477.7 437.4h0.7M455.3 441.6h0.7M466.1 444.5h0.7M455.3 445.8h0.7M451.4 441.7h0.7M456.1 447.3h0.7M474.7 439.9h0.7M442.4 451.7h0.7M455.2 430.5h0.7M450.0 453.6h0.7M451.3 433.4h0.7M457.2 469.5h0.7M453.1 456.4h0.7M458.6 446.7h0.7M447.8 444.8h0.7M459.5 438.7h0.7M456.0 450.2h0.7M455.9 436.1h0.7M455.2 467.3h0.7M453.9 455.5h0.7M464.9 443.0h0.7M465.8 440.3h0.7M448.0 436.0h0.7M468.7 433.6h0.7M466.4 440.8h0.7M462.2 445.9h0.7M469.1 446.5h0.7M463.7 440.1h0.7M446.5 448.5h0.7M453.1 433.8h0.7M461.2 437.5h0.7M469.9 445.0h0.7M477.1 424.2h0.7M462.8 446.1h0.7M476.0 438.4h0.7M464.0 441.6h0.7M437.4 436.7h0.7M478.6 454.3h0.7M463.5 446.0h0.7M471.4 440.9h0.7M444.8 451.6h0.7M446.1 442.4h0.7M445.1 446.6h0.7M452.1 444.7h0.7M456.1 448.7h0.7M459.7 434.8h0.7M457.9 460.9h0.7M449.3 433.5h0.7M459.7 433.9h0.7M464.2 447.2h0.7M460.7 443.7h0.7M475.7 425.0h0.7M461.3 444.1h0.7M460.2 439.5h0.7M440.4 438.0h0.7M460.7 441.2h0.7M449.0 432.8h0.7M455.4 466.5h0.7M453.4 453.3h0.7M465.0 452.8h0.7M455.5 443.6h0.7M472.9 443.2h0.7M457.9 430.3h0.7M465.5 431.5h0.7M459.3 458.0h0.7M453.2 440.0h0.7M461.2 433.0h0.7M444.0 464.9h0.7M476.9 440.9h0.7M450.1 462.2h0.7M462.3 462.9h0.7M474.6 429.1h0.7M472.6 434.2h0.7M450.8 457.0h0.7M473.5 443.7h0.7M458.6 451.2h0.7M452.6 446.4h0.7M466.4 444.7h0.7M445.3 450.5h0.7M462.6 440.3h0.7M454.1 461.1h0.7M452.2 438.9h0.7M451.5 436.7h0.7M464.3 443.7h0.7M457.2 451.0h0.7M456.9 456.5h0.7M476.2 448.9h0.7M433.2 464.6h0.7M455.4 447.9h0.7M460.5 454.8h0.7M450.7 430.4h0.7M451.0 434.3h0.7M464.7 446.3h0.7M465.7 435.9h0.7M458.9 436.9h0.7M449.6 452.4h0.7M461.5 434.8h0.7M468.8 445.0h0.7M459.8 446.6h0.7M452.7 457.5h0.7M452.4 449.8h0.7M448.1 452.8h0.7M468.4 448.8h0.7M457.2 449.7h0.7M448.6 464.1h0.7M463.2 432.2h0.7M466.9 442.6h0.7M473.1 424.2h0.7M469.7 437.6h0.7M461.2 443.1h0.7M465.4 434.7h0.7M470.2 448.2h0.7M464.2 441.4h0.7M468.2 443.0h0.7M470.0 443.0h0.7M458.9 437.9h0.7M445.3 448.4h0.7M458.2 457.3h0.7M454.3 448.4h0.7M455.8 450.9h0.7M450.0 460.4h0.7M458.2 430.2h0.7M457.2 442.0h0.7M475.2 445.2h0.7M443.4 456.9h0.7M462.4 476.5h0.7M454.7 434.8h0.7M479.6 451.7h0.7M443.9 450.3h0.7M461.1 445.8h0.7M454.4 449.0h0.7M458.1 468.3h0.7M452.9 434.6h0.7M460.7 441.0h0.7M450.8 440.8h0.7M446.9 444.2h0.7M463.5 446.1h0.7M457.4 428.6h0.7M456.2 432.1h0.7M460.7 474.6h0.7M461.1 443.8h0.7M477.9 442.3h0.7M485.9 436.9h0.7M440.5 470.7h0.7M451.1 449.9h0.7M464.0 450.4h0.7M450.8 438.9h0.7M456.8 467.1h0.7M471.8 426.7h0.7M463.4 442.0h0.7M478.2 450.6h0.7M456.8 433.8h0.7M459.4 443.4h0.7M471.4 433.6h0.7M450.2 464.0h0.7M471.3 442.9h0.7M465.4 465.3h0.7M455.8 458.2h0.7M448.7 446.7h0.7M457.5 455.9h0.7M456.6 453.1h0.7M461.6 434.9h0.7M481.5 455.5h0.7M459.9 440.1h0.7M468.6 430.2h0.7M432.0 462.7h0.7M492.0 448.0h0.7M462.6 439.3h0.7M451.3 430.9h0.7M462.8 447.8h0.7M452.5 455.3h0.7M461.7 450.8h0.7M439.4 440.3h0.7M457.1 470.8h0.7M457.8 459.7h0.7M434.0 444.7h0.7M461.7 433.5h0.7M464.8 441.5h0.7M451.1 451.9h0.7M478.2 447.9h0.7M465.9 437.3h0.7M468.8 442.7h0.7M468.3 452.0h0.7M462.0 435.8h0.7M471.3 434.9h0.7M455.9 441.6h0.7M449.4 442.3h0.7M463.8 438.5h0.7M455.9 449.6h0.7M441.7 460.0h0.7M462.2 441.8h0.7" stroke="#888" stroke-width="0.7" fill="none"/>
<path d="M445.6 459.1h0.7M449.9 436.7h0.7M438.6 479.7h0.7M464.6 458.4h0.7M436.9 444.2h0.7M449.4 429.1h0.7M469.6 472.3h0.7M440.2 420.7h0.7M467.8 452.4h0.7M458.9 481.8h0.7M438.5 424.8h0.7M441.9 464.6h0.7M436.7 436.2h0.7M445.2 423.7h0.7M447.7 422.3h0.7M451.0 439.6h0.7M462.3 451.2h0.7M439.3 462.3h0.7M444.4 444.2h0.7M441.0 482.6h0.7M474.8 469.5h0.7M447.4 461.1h0.7M435.7 472.7h0.7M447.7 424.2h0.7M446.9 461.7h0.7M449.6 436.2h0.7M468.2 459.2h0.7M465.8 459.9h0.7M458.0 484.4h0.7M437.7 478.7h0.7M434.0 438.4h0.7M449.3 483.9h0.7M447.0 459.1h0.7M467.6 478.9h0.7M461.8 480.8h0.7M471.4 469.3h0.7M446.9 458.1h0.7M463.8 455.9h0.7M438.1 480.6h0.7M463.0 479.9h0.7M469.9 468.1h0.7M467.3 460.7h0.7M460.4 481.1h0.7M465.4 477.8h0.7M440.8 463.9h0.7M466.2 459.9h0.7M446.0 460.0h0.7M440.1 419.6h0.7M452.9 456.0h0.7M475.5 468.1h0.7M450.6 418.7h0.7M472.2 473.4h0.7M458.5 453.9h0.7M447.7 484.0h0.7M440.5 462.3h0.7M467.6 465.0h0.7M437.8 463.3h0.7M437.9 466.2h0.7M446.1 459.9h0.7M465.2 455.0h0.7M470.2 473.1h0.7M465.3 460.0h0.7M466.0 458.5h0.7M471.4 474.4h0.7M453.7 455.8h0.7M438.2 440.8h0.7M462.2 481.3h0.7M450.4 484.5h0.7M438.5 421.0h0.7M434.7 472.3h0.7M464.9 479.7h0.7M437.3 428.8h0.7M469.9 470.9h0.7M445.2 420.1h0.7M467.0 463.1h0.7M447.9 422.4h0.7M438.4 468.5h0.7M443.7 485.8h0.7M458.8 455.2h0.7M462.1 456.2h0.7M448.8 429.1h0.7M444.6 460.5h0.7M437.5 473.3h0.7M444.0 444.6h0.7M437.2 472.7h0.7M459.6 455.3h0.7M443.4 423.7h0.7M442.6 421.8h0.7M445.4 443.9h0.7M470.1 473.5h0.7M463.8 457.7h0.7M453.4 455.5h0.7M449.7 455.9h0.7M433.9 477.0h0.7M437.3 467.6h0.7M438.2 440.5h0.7M434.4 440.1h0.7M443.9 462.1h0.7M437.2 475.5h0.7M438.4 480.5h0.7M449.0 456.7h0.7M433.8 458.5h0.7M450.7 458.3h0.7M451.8 421.8h0.7M439.0 426.4h0.7M466.9 461.8h0.7M438.8 441.3h0.7M470.1 474.1h0.7M437.5 471.5h0.7M439.7 424.0h0.7M447.2 446.0h0.7M451.5 485.2h0.7M469.6 469.5h0.7M470.3 469.9h0.7M464.3 455.6h0.7M446.3 417.9h0.7M437.1 429.7h0.7M463.2 453.8h0.7M446.9 422.7h0.7M457.3 483.4h0.7M457.8 453.1h0.7M471.5 477.1h0.7M438.0 448.8h0.7M446.7 443.4h0.7M452.1 457.7h0.7M439.3 482.9h0.7M470.0 476.7h0.7M435.7 433.6h0.7M436.5 431.1h0.7M444.8 458.5h0.7M436.7 427.4h0.7M438.4 480.6h0.7M440.5 482.1h0.7M470.8 467.4h0.7M440.9 484.6h0.7M469.7 470.3h0.7M467.3 462.3h0.7M462.7 453.8h0.7M461.7 452.4h0.7M444.9 447.6h0.7M466.4 461.4h0.7M471.6 462.4h0.7M456.5 454.7h0.7M437.1 486.0h0.7M449.3 459.9h0.7M436.1 436.0h0.7M471.0 477.8h0.7M448.0 425.5h0.7M444.4 416.6h0.7M447.1 442.5h0.7M435.9 469.1h0.7M467.9 461.2h0.7M443.7 461.3h0.7M440.7 464.9h0.7M435.8 473.3h0.7M463.8 479.2h0.7M470.0 469.0h0.7M468.4 480.1h0.7M459.0 454.2h0.7M466.8 461.1h0.7M439.3 466.3h0.7M463.1 456.7h0.7M450.1 430.5h0.7M442.5 462.1h0.7M438.3 466.9h0.7M466.9 479.1h0.7M437.9 439.8h0.7M441.6 460.1h0.7M469.9 471.2h0.7M454.3 455.1h0.7M443.8 446.0h0.7M437.5 467.0h0.7M436.2 427.3h0.7M441.9 446.1h0.7M443.9 483.7h0.7M442.8 483.3h0.7M442.1 482.8h0.7M444.7 484.1h0.7M436.9 476.2h0.7M451.0 483.8h0.7M450.0 433.6h0.7M445.4 447.3h0.7M457.3 486.0h0.7M438.6 443.5h0.7M447.0 485.5h0.7M437.1 427.6h0.7M450.2 457.7h0.7M436.8 442.0h0.7M439.9 461.8h0.7M437.8 440.4h0.7M439.0 426.9h0.7M462.1 455.1h0.7M467.7 477.1h0.7M433.3 486.0h0.7M458.6 481.9h0.7M435.4 477.4h0.7M449.5 485.9h0.7M453.5 439.1h0.7M454.5 483.6h0.7M450.8 458.7h0.7M464.9 456.3h0.7M440.6 422.8h0.7M461.4 454.9h0.7M458.4 482.5h0.7M466.1 477.7h0.7M469.1 472.8h0.7M443.0 461.2h0.7M438.2 468.9h0.7M467.2 476.8h0.7M449.0 421.4h0.7M447.8 445.3h0.7M436.1 433.6h0.7M437.2 437.1h0.7M446.3 460.3h0.7M442.3 444.4h0.7M447.5 422.1h0.7M449.0 484.5h0.7M436.0 464.9h0.7M447.7 459.3h0.7M470.0 469.8h0.7M438.3 482.5h0.7M472.0 464.0h0.7M461.1 454.3h0.7M463.0 484.5h0.7M469.6 471.4h0.7M438.3 480.2h0.7M443.0 463.7h0.7M462.6 454.6h0.7M459.0 482.8h0.7M466.5 479.7h0.7M443.2 483.1h0.7M436.8 479.6h0.7M468.0 458.9h0.7M468.5 461.1h0.7M436.4 466.0h0.7M465.4 458.2h0.7M437.2 428.2h0.7M465.5 478.0h0.7M450.9 484.4h0.7M451.8 430.0h0.7M434.9 434.6h0.7M449.3 441.6h0.7M444.0 486.9h0.7M455.6 483.7h0.7M444.4 459.5h0.7M449.5 484.2h0.7M472.0 470.1h0.7M435.7 432.1h0.7M471.9 453.9h0.7M457.5 450.2h0.7M466.4 478.7h0.7M439.1 462.2h0.7M450.9 436.1h0.7M440.2 442.9h0.7M436.6 481.3h0.7M449.8 435.2h0.7M431.8 473.5h0.7M447.0 461.6h0.7M442.8 482.9h0.7M468.3 464.9h0.7M471.1 459.8h0.7M448.6 425.6h0.7M456.2 484.0h0.7M448.6 483.9h0.7M447.1 452.6h0.7M446.9 424.9h0.7M454.4 427.7h0.7M451.2 432.1h0.7M457.0 455.2h0.7M468.0 464.3h0.7M450.9 437.8h0.7M449.6 432.6h0.7M443.0 461.9h0.7M441.7 448.6h0.7M437.3 468.3h0.7M476.2 472.4h0.7M441.2 482.2h0.7M443.5 445.7h0.7M466.9 462.0h0.7M466.5 458.6h0.7M447.6 459.3h0.7M477.7 459.8h0.7M454.6 456.4h0.7M448.7 428.3h0.7M467.3 459.6h0.7M462.2 456.1h0.7M463.6 480.7h0.7M447.7 485.6h0.7M463.3 481.1h0.7M472.4 462.5h0.7M468.3 476.5h0.7M452.0 453.9h0.7M443.2 423.5h0.7M444.3 458.9h0.7M470.1 470.4h0.7M435.4 462.5h0.7M441.3 424.1h0.7M442.6 461.7h0.7M469.3 468.7h0.7M445.0 462.2h0.7M451.5 427.0h0.7M438.3 468.3h0.7M441.7 462.5h0.7M475.6 461.9h0.7M435.5 433.6h0.7M461.8 455.6h0.7M447.8 453.2h0.7M449.7 442.2h0.7M476.0 466.1h0.7M449.1 459.7h0.7M468.7 463.1h0.7M469.9 459.9h0.7M449.3 442.2h0.7M437.8 428.7h0.7M442.9 445.1h0.7M448.3 460.8h0.7M468.1 479.0h0.7M437.7 469.8h0.7M444.5 445.6h0.7M450.9 436.9h0.7M469.1 461.4h0.7M469.5 467.7h0.7M472.6 461.3h0.7M437.1 436.8h0.7M456.6 453.7h0.7M437.9 480.8h0.7M442.5 445.1h0.7M450.0 437.7h0.7M443.8 461.9h0.7M469.9 478.5h0.7M469.7 472.3h0.7M439.1 481.4h0.7M464.4 482.0h0.7M436.8 437.1h0.7M449.9 436.7h0.7M449.1 487.1h0.7M438.2 426.5h0.7M451.3 436.3h0.7M466.3 461.6h0.7M436.9 471.2h0.7M440.0 483.1h0.7M464.0 457.0h0.7M427.5 486.2h0.7M435.6 427.6h0.7M435.7 435.5h0.7M435.0 478.8h0.7M437.1 436.6h0.7M449.1 419.3h0.7M441.0 465.0h0.7M439.2 424.8h0.7M450.2 429.8h0.7M436.3 430.3h0.7M435.3 434.7h0.7M437.7 445.7h0.7M436.9 435.9h0.7M450.2 431.5h0.7M448.8 425.8h0.7M461.1 481.2h0.7M442.2 423.7h0.7M471.4 460.2h0.7M452.5 456.6h0.7M437.4 470.7h0.7M466.7 477.0h0.7M449.2 440.0h0.7M439.1 443.9h0.7M439.9 466.1h0.7M480.1 474.2h0.7M442.0 447.7h0.7M442.6 463.4h0.7M472.5 463.0h0.7M462.9 479.9h0.7M472.6 466.4h0.7M470.9 465.0h0.7M472.7 467.3h0.7M471.4 472.9h0.7M439.8 466.0h0.7M450.5 435.8h0.7M470.5 475.1h0.7M438.8 481.5h0.7M470.5 476.1h0.7M451.6 459.0h0.7M444.8 423.6h0.7M468.3 476.3h0.7M455.5 455.7h0.7M439.9 481.3h0.7M439.1 423.8h0.7M437.8 424.8h0.7M436.6 478.1h0.7M441.5 423.8h0.7M436.2 436.5h0.7M450.2 431.8h0.7M449.9 439.2h0.7M450.6 433.4h0.7M437.1 476.3h0.7M449.3 428.0h0.7M444.5 484.7h0.7M447.4 442.9h0.7M448.8 439.4h0.7M438.3 427.1h0.7M454.7 483.3h0.7M449.3 457.8h0.7M432.8 480.0h0.7M452.0 487.7h0.7M462.7 456.0h0.7M449.7 442.1h0.7M437.4 463.0h0.7M472.6 470.6h0.7M437.3 470.0h0.7M452.0 437.5h0.7M438.5 479.8h0.7M466.2 477.8h0.7M451.1 439.2h0.7M473.4 465.6h0.7M442.6 451.3h0.7M446.2 461.0h0.7M466.6 463.1h0.7M446.4 424.9h0.7M444.8 444.6h0.7M451.7 458.9h0.7M448.5 427.6h0.7M436.7 433.7h0.7M469.8 464.6h0.7M462.1 455.2h0.7M438.0 427.8h0.7M450.4 455.3h0.7M436.3 484.3h0.7M457.3 454.4h0.7M453.8 455.9h0.7M451.4 456.5h0.7M451.8 420.9h0.7M435.6 428.6h0.7M462.4 480.2h0.7M436.7 439.1h0.7M431.0 479.2h0.7M436.7 440.5h0.7M434.9 436.3h0.7M449.5 483.9h0.7M454.0 456.6h0.7M436.1 428.4h0.7M456.9 453.4h0.7M468.9 466.6h0.7M436.6 478.0h0.7M466.3 461.3h0.7M464.7 456.9h0.7M444.0 460.5h0.7M441.3 423.9h0.7M442.9 485.9h0.7M443.0 423.9h0.7M440.7 424.7h0.7M463.7 456.5h0.7M450.6 427.9h0.7M438.6 479.7h0.7M468.5 463.8h0.7M447.4 425.6h0.7M448.0 459.9h0.7M443.8 461.5h0.7M460.3 453.9h0.7M463.9 451.1h0.7M435.6 425.1h0.7M443.0 419.8h0.7M451.4 448.2h0.7M470.7 468.6h0.7M441.1 483.5h0.7M454.2 454.4h0.7M467.5 461.4h0.7M440.1 481.9h0.7M435.0 426.2h0.7M463.9 457.7h0.7M462.2 480.1h0.7M449.4 428.1h0.7M452.6 457.1h0.7M449.0 428.5h0.7M441.0 488.0h0.7M453.2 429.8h0.7M449.2 484.6h0.7M437.4 424.3h0.7M439.7 466.3h0.7M456.0 482.8h0.7M437.3 483.3h0.7M455.3 455.3h0.7M436.0 440.4h0.7M432.0 435.2h0.7M452.6 457.3h0.7M457.7 455.1h0.7M445.2 484.4h0.7M435.5 472.7h0.7M443.9 485.4h0.7M435.8 479.2h0.7M446.4 443.1h0.7M469.7 468.3h0.7M436.0 431.4h0.7M455.9 482.9h0.7M448.1 426.4h0.7M468.4 462.3h0.7M456.3 455.4h0.7M457.5 482.0h0.7M448.8 422.2h0.7M437.0 433.7h0.7M452.6 456.2h0.7M436.4 433.2h0.7M449.3 438.1h0.7M455.2 455.6h0.7M437.8 427.0h0.7M443.5 448.2h0.7M450.1 443.8h0.7M439.7 448.3h0.7M450.1 456.5h0.7M424.8 462.5h0.7M471.8 479.5h0.7M442.1 464.0h0.7M450.3 459.6h0.7M439.1 443.2h0.7M468.4 465.9h0.7M463.5 483.7h0.7M468.7 464.6h0.7M465.7 456.9h0.7M440.7 481.9h0.7M435.6 438.8h0.7M442.0 421.2h0.7M450.7 485.9h0.7M445.5 445.9h0.7M445.6 449.4h0.7M440.2 443.0h0.7M469.4 463.1h0.7M436.7 433.3h0.7M443.9 444.3h0.7M439.0 461.8h0.7M468.5 474.3h0.7M440.1 425.5h0.7M437.2 438.2h0.7M443.1 462.5h0.7M437.5 429.5h0.7M451.2 458.7h0.7M472.5 457.5h0.7M469.5 465.2h0.7M447.5 441.6h0.7M474.4 467.9h0.7M437.9 478.9h0.7M437.7 483.9h0.7M444.7 450.8h0.7M448.4 460.8h0.7M470.7 469.6h0.7M434.7 467.2h0.7M437.0 472.5h0.7M462.8 479.9h0.7M450.6 485.7h0.7M446.6 456.4h0.7M469.3 458.5h0.7M447.3 442.7h0.7M436.1 475.8h0.7M464.0 457.5h0.7M446.5 418.6h0.7M463.0 456.7h0.7M441.6 464.6h0.7M441.3 448.8h0.7M437.2 476.8h0.7M449.9 437.0h0.7M457.0 482.7h0.7M432.4 472.9h0.7M466.1 482.7h0.7M470.0 464.8h0.7M461.6 455.7h0.7M437.3 439.1h0.7M451.6 454.4h0.7M449.5 420.5h0.7M439.7 481.3h0.7M470.9 455.4h0.7M467.7 463.7h0.7M470.1 469.9h0.7M433.5 476.6h0.7M436.7 477.1h0.7M441.4 464.1h0.7M439.8 481.6h0.7M450.6 484.4h0.7M451.6 456.8h0.7M435.3 436.9h0.7M435.3 435.1h0.7M454.5 453.4h0.7M459.1 453.9h0.7M473.4 466.9h0.7M446.7 425.2h0.7M442.1 461.6h0.7M466.3 477.4h0.7M450.4 459.6h0.7M469.8 476.7h0.7M468.4 460.4h0.7M448.7 442.9h0.7M443.9 448.3h0.7M471.0 472.2h0.7M453.7 453.8h0.7M469.2 479.9h0.7M448.4 427.1h0.7M452.0 486.9h0.7M469.6 462.0h0.7M441.7 444.3h0.7M450.0 435.9h0.7M472.9 470.9h0.7M435.6 432.5h0.7M471.9 479.3h0.7M436.4 479.0h0.7M466.0 461.1h0.7M445.9 445.4h0.7M468.2 475.2h0.7M443.4 462.2h0.7M475.0 475.2h0.7M469.0 475.8h0.7M439.0 425.3h0.7M434.3 473.6h0.7M446.4 443.0h0.7M447.6 449.9h0.7M444.2 485.1h0.7M462.0 480.5h0.7M467.4 477.5h0.7M449.1 444.1h0.7M437.1 420.3h0.7M442.5 445.2h0.7M476.3 472.2h0.7M438.9 487.6h0.7M437.2 483.3h0.7M444.4 422.4h0.7M441.0 443.7h0.7M439.0 465.1h0.7M456.4 454.1h0.7M437.3 430.3h0.7M445.3 460.4h0.7M466.4 462.1h0.7M438.4 468.6h0.7M436.1 480.7h0.7M449.6 456.7h0.7M440.3 424.2h0.7M469.6 467.6h0.7M451.3 459.2h0.7M450.6 443.7h0.7M471.7 470.4h0.7M462.8 481.3h0.7M469.8 469.0h0.7M452.8 484.3h0.7M430.5 480.6h0.7M464.9 456.1h0.7M447.2 483.9h0.7M435.7 438.9h0.7M437.2 436.9h0.7M437.7 441.3h0.7M446.7 448.0h0.7M463.8 455.4h0.7M443.6 460.5h0.7M439.5 425.5h0.7M458.4 482.2h0.7M442.9 483.7h0.7M441.4 418.6h0.7M471.6 469.1h0.7M439.3 425.6h0.7M450.3 433.6h0.7M462.0 480.5h0.7M444.8 461.6h0.7M466.8 477.6h0.7M440.6 465.6h0.7M435.6 436.8h0.7M437.4 443.6h0.7M472.0 470.0h0.7M441.1 421.4h0.7M471.4 472.1h0.7M438.3 468.8h0.7M471.1 468.3h0.7M441.2 488.8h0.7M449.4 439.0h0.7M463.4 454.5h0.7M462.7 481.4h0.7M472.1 458.8h0.7M469.8 458.6h0.7M441.6 443.8h0.7M436.8 485.9h0.7M460.6 481.1h0.7M448.1 460.7h0.7M451.9 458.2h0.7M457.4 452.3h0.7M461.6 455.7h0.7M445.5 484.2h0.7M437.3 479.0h0.7M468.1 459.8h0.7M440.2 425.4h0.7M477.3 460.5h0.7M470.4 473.9h0.7M436.9 437.0h0.7M440.6 463.9h0.7M442.9 446.3h0.7M453.5 486.3h0.7M467.1 478.5h0.7M435.8 476.1h0.7M438.3 469.2h0.7M453.2 483.9h0.7M444.9 423.5h0.7M468.1 462.7h0.7M442.0 464.2h0.7M455.3 455.8h0.7M434.1 482.0h0.7M437.2 439.2h0.7M447.8 420.8h0.7M442.6 460.4h0.7M451.2 445.2h0.7M438.3 483.9h0.7M435.8 473.2h0.7M440.2 445.7h0.7M435.4 478.4h0.7M463.2 454.8h0.7M440.9 446.8h0.7M454.8 483.9h0.7M452.1 456.6h0.7M440.0 444.6h0.7M457.1 453.1h0.7M443.7 423.5h0.7M467.7 454.2h0.7M435.3 422.8h0.7M472.9 465.5h0.7M467.9 475.7h0.7M439.2 444.2h0.7M438.3 469.2h0.7M446.7 461.0h0.7M466.4 478.5h0.7M458.0 454.4h0.7M448.2 459.2h0.7M439.6 462.9h0.7M438.1 481.6h0.7M434.1 472.1h0.7M469.9 472.2h0.7M435.0 431.4h0.7M443.6 485.5h0.7M447.0 444.8h0.7M435.4 431.8h0.7M467.5 475.6h0.7M438.6 442.2h0.7M465.8 459.1h0.7M470.0 467.3h0.7M450.5 484.2h0.7M457.4 454.4h0.7M448.1 426.8h0.7M448.4 445.6h0.7M464.5 458.2h0.7M449.6 427.7h0.7M458.0 454.6h0.7M448.5 446.7h0.7M457.6 454.5h0.7M470.1 474.4h0.7M468.5 458.6h0.7M440.8 458.8h0.7M450.0 459.5h0.7M441.2 424.6h0.7M447.9 423.5h0.7M474.4 457.8h0.7M446.3 443.7h0.7M464.6 457.8h0.7M444.0 459.9h0.7M437.1 472.3h0.7M462.4 481.9h0.7M470.0 468.9h0.7M460.4 481.7h0.7M469.7 474.1h0.7M458.4 453.4h0.7M464.1 456.9h0.7M454.6 431.2h0.7M465.4 457.0h0.7M450.7 455.4h0.7M461.6 480.4h0.7M468.4 462.3h0.7M440.7 483.8h0.7M448.1 458.2h0.7M438.7 467.4h0.7M462.4 480.8h0.7M435.0 477.4h0.7M439.1 481.7h0.7M451.6 457.7h0.7M439.2 422.2h0.7M482.9 468.8h0.7M457.5 454.5h0.7M468.5 467.2h0.7M454.1 456.6h0.7M446.5 420.4h0.7M438.8 468.3h0.7M445.9 443.6h0.7M451.0 433.0h0.7M438.0 441.9h0.7M436.3 474.1h0.7M435.7 434.2h0.7M439.5 465.6h0.7M432.3 426.5h0.7M466.5 461.9h0.7M436.6 439.3h0.7M445.9 461.9h0.7M437.3 476.8h0.7M467.9 475.0h0.7M438.5 481.9h0.7M456.8 455.2h0.7M449.3 437.4h0.7M455.5 455.5h0.7M436.1 465.4h0.7M436.3 441.9h0.7M440.2 485.0h0.7M446.4 460.2h0.7M462.7 456.3h0.7M461.4 456.0h0.7" stroke="#777" stroke-width="0.7" fill="none"/>
<path d="M452.1 474.4 451.1 474.4 451.1 473.4 452.8 473.4 452.1 474.4Z M451.9 475.6 449.6 475.1 449.2 474.1 449.5 472.9 451.4 471.6 453.9 471.8 454.9 472.9 454.8 473.9 451.9 475.6Z M452.4 476.7 450.1 476.8 448.4 476.1 447.6 474.9 447.7 472.9 448.7 471.4 450.4 470.3 454.6 470.2 456.6 471.6 457.0 473.4 455.4 475.3 452.4 476.7Z M443.4 435.7 442.6 435.3 442.3 434.1 442.6 432.9 443.4 432.5 444.3 434.1 443.4 435.7Z M452.1 477.9 448.9 477.8 446.6 476.6 445.8 474.6 446.2 472.1 447.9 470.0 450.1 468.7 453.4 468.3 456.4 469.0 458.7 471.1 458.9 473.6 456.4 476.2 452.1 477.9Z M443.4 437.4 441.9 436.5 441.2 434.1 441.9 431.7 443.4 430.8 444.8 431.9 445.4 434.1 444.8 436.4 443.4 437.4Z M458.9 461.9 458.1 461.9 458.1 461.2 458.9 461.2 458.9 461.9Z M451.4 479.1 447.6 478.8 444.9 477.1 444.1 474.1 445.2 470.6 447.6 468.2 450.9 467.0 454.9 466.8 458.4 468.0 460.0 469.4 461.0 471.1 461.1 472.6 460.5 474.1 456.9 477.3 451.4 479.1Z M444.1 438.9 442.9 439.0 441.6 438.3 440.2 434.9 440.8 431.1 441.9 429.7 443.1 429.1 445.2 430.1 446.4 433.4 445.9 436.9 444.1 438.9Z M452.1 480.2 447.6 480.2 444.1 478.6 442.6 475.9 442.8 471.9 444.6 468.8 447.6 466.5 450.6 465.4 457.2 464.4 456.3 462.4 456.4 460.9 457.6 459.8 459.1 459.7 460.4 460.6 460.6 462.1 459.9 463.4 458.1 464.6 462.4 469.1 463.2 471.1 463.0 473.1 461.5 475.4 458.9 477.5 452.1 480.2Z M444.1 440.7 442.4 440.6 440.9 439.6 439.7 437.6 439.1 434.9 440.0 429.9 441.4 428.2 443.1 427.4 444.6 427.8 446.1 429.1 447.5 433.4 446.7 438.1 445.6 439.7 444.1 440.7Z M451.6 481.4 446.4 481.2 442.4 479.1 440.8 475.9 441.2 471.4 442.9 468.4 445.4 466.0 453.2 462.9 455.2 459.9 456.6 458.6 459.9 458.4 462.1 460.6 462.3 464.9 465.0 469.6 465.0 472.9 463.3 475.6 460.1 478.2 455.9 480.3 451.6 481.4Z M443.9 442.4 441.6 442.0 439.9 440.5 438.5 437.6 438.0 434.6 438.3 431.4 439.4 428.4 441.1 426.5 443.1 425.7 445.1 426.2 446.8 427.9 448.0 430.4 448.6 433.4 448.3 436.6 447.4 439.4 445.9 441.4 443.9 442.4Z M450.6 482.6 444.6 482.0 440.7 479.6 439.6 477.9 439.1 475.6 439.8 470.6 441.3 467.9 443.4 465.6 446.1 463.8 451.6 461.4 455.4 457.6 457.9 456.8 460.6 457.2 462.4 458.4 463.7 460.4 464.7 464.4 467.2 469.6 467.0 472.9 464.9 476.1 460.9 479.2 455.9 481.5 450.6 482.6Z M443.6 444.2 441.1 443.6 439.1 441.6 437.6 438.4 437.0 434.6 437.3 430.6 438.7 427.1 440.6 425.0 443.1 424.0 445.6 424.7 447.5 426.6 449.1 429.9 449.6 433.6 449.2 437.6 448.0 440.9 445.9 443.3 443.6 444.2Z M451.6 483.7 444.9 483.4 442.1 482.5 439.6 480.8 438.2 478.9 437.5 476.4 438.0 470.6 440.2 466.6 443.9 463.3 450.1 460.1 455.4 456.0 458.1 455.4 460.9 455.7 463.4 457.2 465.2 459.6 469.2 468.6 469.2 472.4 467.1 475.9 463.1 479.3 457.6 482.0 451.6 483.7Z" stroke="#000" stroke-width="0.75" fill="none" stroke-linejoin="round"/>
<ellipse cx="443.30" cy="433.20" rx="1.0" ry="1.5" fill="#fff"/>
<ellipse cx="452.80" cy="473.60" rx="2.6" ry="1.3" fill="#fff"/>
</g>
<line x1="448.40" y1="416.00" x2="448.40" y2="497.30" stroke="#555" stroke-width="0.85"/>
<line x1="416.50" y1="448.00" x2="509.70" y2="448.00" stroke="#555" stroke-width="0.85"/>
<rect x="416.50" y="416.00" width="93.20" height="81.30" fill="none" stroke="#8a8a8a" stroke-width="0.8"/>
<line x1="414.30" y1="422.80" x2="416.50" y2="422.80" stroke="#555" stroke-width="0.7"/>
<text x="413.90" y="424.70" font-size="5.6" fill="#333" text-anchor="end">10<tspan font-size="4.03" dy="-2.2">5</tspan></text>
<line x1="414.30" y1="443.00" x2="416.50" y2="443.00" stroke="#555" stroke-width="0.7"/>
<text x="413.90" y="444.90" font-size="5.6" fill="#333" text-anchor="end">10<tspan font-size="4.03" dy="-2.2">4</tspan></text>
<line x1="414.30" y1="463.40" x2="416.50" y2="463.40" stroke="#555" stroke-width="0.7"/>
<text x="413.90" y="465.30" font-size="5.6" fill="#333" text-anchor="end">10<tspan font-size="4.03" dy="-2.2">3</tspan></text>
<line x1="414.30" y1="478.00" x2="416.50" y2="478.00" stroke="#555" stroke-width="0.7"/>
<text x="412.30" y="479.90" font-size="5.6" fill="#333" text-anchor="end">0</text>
<line x1="414.30" y1="489.50" x2="416.50" y2="489.50" stroke="#555" stroke-width="0.7"/>
<text x="413.90" y="491.40" font-size="5.6" fill="#333" text-anchor="end">−10<tspan font-size="4.03" dy="-2.2">3</tspan></text>
<line x1="415.40" y1="428.86" x2="416.50" y2="428.86" stroke="#777" stroke-width="0.5"/>
<line x1="415.40" y1="432.90" x2="416.50" y2="432.90" stroke="#777" stroke-width="0.5"/>
<line x1="415.40" y1="436.94" x2="416.50" y2="436.94" stroke="#777" stroke-width="0.5"/>
<line x1="415.40" y1="449.12" x2="416.50" y2="449.12" stroke="#777" stroke-width="0.5"/>
<line x1="415.40" y1="453.20" x2="416.50" y2="453.20" stroke="#777" stroke-width="0.5"/>
<line x1="415.40" y1="457.28" x2="416.50" y2="457.28" stroke="#777" stroke-width="0.5"/>
<line x1="415.40" y1="467.78" x2="416.50" y2="467.78" stroke="#777" stroke-width="0.5"/>
<line x1="415.40" y1="470.70" x2="416.50" y2="470.70" stroke="#777" stroke-width="0.5"/>
<line x1="415.40" y1="473.62" x2="416.50" y2="473.62" stroke="#777" stroke-width="0.5"/>
<line x1="415.40" y1="481.45" x2="416.50" y2="481.45" stroke="#777" stroke-width="0.5"/>
<line x1="415.40" y1="483.75" x2="416.50" y2="483.75" stroke="#777" stroke-width="0.5"/>
<line x1="415.40" y1="486.05" x2="416.50" y2="486.05" stroke="#777" stroke-width="0.5"/>
<line x1="422.70" y1="497.30" x2="422.70" y2="499.50" stroke="#555" stroke-width="0.7"/>
<text x="422.90" y="507.90" font-size="5.6" fill="#333" text-anchor="middle">−10<tspan font-size="4.03" dy="-2.2">3</tspan></text>
<line x1="436.70" y1="497.30" x2="436.70" y2="499.50" stroke="#555" stroke-width="0.7"/>
<text x="436.70" y="507.90" font-size="5.6" fill="#333" text-anchor="middle">0</text>
<line x1="450.60" y1="497.30" x2="450.60" y2="499.50" stroke="#555" stroke-width="0.7"/>
<text x="450.80" y="507.90" font-size="5.6" fill="#333" text-anchor="middle">10<tspan font-size="4.03" dy="-2.2">3</tspan></text>
<line x1="477.50" y1="497.30" x2="477.50" y2="499.50" stroke="#555" stroke-width="0.7"/>
<text x="477.70" y="507.90" font-size="5.6" fill="#333" text-anchor="middle">10<tspan font-size="4.03" dy="-2.2">4</tspan></text>
<line x1="497.70" y1="497.30" x2="497.70" y2="499.50" stroke="#555" stroke-width="0.7"/>
<text x="497.90" y="507.90" font-size="5.6" fill="#333" text-anchor="middle">10<tspan font-size="4.03" dy="-2.2">5</tspan></text>
<line x1="426.90" y1="497.30" x2="426.90" y2="498.40" stroke="#777" stroke-width="0.5"/>
<line x1="429.70" y1="497.30" x2="429.70" y2="498.40" stroke="#777" stroke-width="0.5"/>
<line x1="432.50" y1="497.30" x2="432.50" y2="498.40" stroke="#777" stroke-width="0.5"/>
<line x1="440.87" y1="497.30" x2="440.87" y2="498.40" stroke="#777" stroke-width="0.5"/>
<line x1="443.65" y1="497.30" x2="443.65" y2="498.40" stroke="#777" stroke-width="0.5"/>
<line x1="446.43" y1="497.30" x2="446.43" y2="498.40" stroke="#777" stroke-width="0.5"/>
<line x1="458.67" y1="497.30" x2="458.67" y2="498.40" stroke="#777" stroke-width="0.5"/>
<line x1="464.05" y1="497.30" x2="464.05" y2="498.40" stroke="#777" stroke-width="0.5"/>
<line x1="469.43" y1="497.30" x2="469.43" y2="498.40" stroke="#777" stroke-width="0.5"/>
<line x1="483.56" y1="497.30" x2="483.56" y2="498.40" stroke="#777" stroke-width="0.5"/>
<line x1="487.60" y1="497.30" x2="487.60" y2="498.40" stroke="#777" stroke-width="0.5"/>
<line x1="491.64" y1="497.30" x2="491.64" y2="498.40" stroke="#777" stroke-width="0.5"/>
<rect x="414.90" y="476.40" width="1.4" height="3.2" fill="#000"/>
<rect x="434.30" y="497.60" width="4.8" height="1.4" fill="#000"/>
<text x="418.80" y="425.60" font-size="8.2" fill="#1a1a1a" font-weight="bold">13,3</text>
<text x="504.50" y="425.60" font-size="8.2" fill="#1a1a1a" font-weight="bold" text-anchor="end">5,91</text>
<text x="418.80" y="493.90" font-size="8.2" fill="#1a1a1a" font-weight="bold">15,8</text>
<text x="504.50" y="493.90" font-size="8.2" fill="#1a1a1a" font-weight="bold" text-anchor="end">65,0</text>
<text x="274.60" y="557.70" font-size="17" text-anchor="start" font-weight="bold" fill="#000">F</text>
<text x="346.00" y="575.50" font-size="11.2" text-anchor="middle" fill="#000">Day 4</text>
<text x="461.30" y="575.00" font-size="11.2" text-anchor="middle" fill="#000">Day 6</text>
<text x="343.40" y="694.30" font-size="11.2" text-anchor="middle" fill="#000">CD19</text>
<text x="461.20" y="694.30" font-size="11.2" text-anchor="middle" fill="#000">CD19</text>
<text x="343.50" y="715.80" font-size="9.7" text-anchor="middle" fill="#000">Gate CD19+/27+</text>
<text x="461.20" y="715.80" font-size="9.7" text-anchor="middle" fill="#000">Gate CD19+/27+</text>
<text x="343.40" y="823.60" font-size="11.2" text-anchor="middle" fill="#000">CFSE</text>
<text x="461.20" y="823.60" font-size="11.2" text-anchor="middle" fill="#000">CFSE</text>
<text x="284.00" y="633.90" font-size="11.3" text-anchor="middle" fill="#000" transform="rotate(-90 284.00 633.90)">CD27</text>
<text x="283.50" y="763.20" font-size="11.3" text-anchor="middle" fill="#000" transform="rotate(-90 283.50 763.20)">Fas</text>
<clipPath id="c9"><rect x="297.40" y="587.30" width="93.30" height="84.50"/></clipPath>
<g clip-path="url(#c9)">
<path d="M328.7 642.2h0.7M346.4 640.4h0.7M363.2 669.5h0.7M343.6 655.1h0.7M362.6 655.3h0.7M355.0 599.6h0.7M360.7 636.6h0.7M349.7 611.1h0.7M354.6 637.4h0.7M371.0 627.8h0.7M356.4 645.1h0.7M332.7 662.4h0.7M354.3 629.0h0.7M357.8 639.3h0.7M322.8 635.7h0.7M353.1 654.2h0.7M351.7 645.9h0.7M356.0 642.3h0.7M365.9 647.4h0.7M345.9 606.1h0.7M334.6 635.4h0.7M370.8 650.0h0.7M345.4 650.1h0.7M342.7 649.2h0.7M340.1 649.2h0.7M327.3 663.9h0.7M342.2 623.2h0.7M346.3 640.1h0.7M351.5 629.3h0.7M331.5 650.0h0.7M345.0 648.0h0.7M320.7 594.2h0.7M355.8 644.8h0.7M372.3 635.4h0.7M338.7 632.6h0.7M342.0 602.0h0.7M361.2 647.1h0.7M338.8 648.3h0.7M386.3 663.1h0.7M310.4 643.3h0.7M337.1 654.0h0.7M340.3 615.8h0.7M362.4 657.8h0.7M352.0 644.7h0.7M354.2 663.4h0.7M356.9 640.4h0.7M357.7 603.6h0.7M348.3 634.2h0.7M341.5 636.4h0.7M310.3 659.5h0.7M357.3 642.3h0.7M364.0 651.4h0.7M354.6 610.7h0.7M346.1 652.8h0.7M371.9 671.1h0.7M369.4 629.0h0.7M318.6 653.3h0.7M349.8 658.8h0.7M347.6 648.4h0.7M328.4 651.6h0.7M343.2 650.2h0.7M355.8 643.7h0.7M353.8 645.1h0.7M360.0 652.3h0.7M341.7 637.1h0.7M363.3 601.6h0.7M363.3 650.8h0.7M341.5 634.8h0.7M351.1 648.9h0.7M358.0 627.6h0.7M341.1 644.0h0.7M371.8 612.3h0.7M355.5 637.7h0.7M355.4 638.4h0.7M354.5 667.2h0.7M354.4 651.4h0.7M354.6 634.8h0.7M357.0 642.4h0.7M332.7 602.0h0.7M339.7 607.6h0.7M348.8 637.9h0.7M369.8 659.1h0.7M367.2 653.8h0.7M347.9 639.4h0.7M345.5 658.6h0.7M351.0 624.5h0.7M348.9 625.5h0.7M351.7 628.4h0.7M331.7 647.0h0.7M348.3 622.0h0.7M328.7 670.8h0.7M339.8 638.4h0.7M346.9 625.1h0.7M358.0 605.7h0.7M338.9 641.4h0.7M328.2 640.4h0.7M362.5 621.3h0.7M343.3 647.4h0.7M364.1 664.2h0.7M336.9 597.1h0.7M355.7 640.2h0.7M345.1 660.4h0.7M373.1 649.0h0.7M346.7 653.3h0.7M319.7 602.2h0.7M359.5 647.3h0.7M346.7 610.1h0.7M359.4 668.1h0.7M339.2 654.9h0.7M359.5 623.6h0.7M362.5 664.3h0.7M352.6 644.4h0.7M360.4 623.7h0.7M350.7 660.1h0.7M332.0 659.2h0.7M343.5 616.2h0.7M347.9 631.7h0.7M353.9 628.9h0.7M364.1 635.0h0.7M354.4 637.0h0.7M344.9 662.0h0.7M352.4 639.8h0.7M331.9 661.5h0.7M359.7 640.7h0.7M352.8 630.9h0.7M330.2 596.5h0.7M354.3 649.4h0.7M339.0 655.6h0.7M360.4 647.7h0.7M354.9 600.3h0.7M341.0 605.6h0.7M348.9 656.4h0.7M331.9 665.3h0.7M338.5 643.0h0.7M330.1 653.7h0.7M367.2 660.3h0.7M361.1 623.5h0.7M338.4 638.8h0.7M336.3 661.0h0.7M352.0 645.0h0.7M356.2 632.0h0.7M336.7 633.0h0.7M356.4 650.1h0.7M357.5 660.4h0.7M330.4 637.5h0.7M351.5 626.4h0.7M341.9 659.5h0.7M364.8 660.4h0.7M350.0 642.3h0.7M364.5 640.1h0.7M354.1 663.9h0.7M344.3 636.8h0.7M349.3 653.7h0.7M356.2 647.5h0.7M357.2 622.9h0.7M337.4 647.6h0.7M336.4 626.5h0.7M332.5 632.4h0.7M346.9 631.0h0.7M352.7 669.0h0.7M347.3 663.1h0.7M353.4 629.6h0.7M339.3 595.4h0.7M360.2 629.2h0.7M367.9 653.4h0.7M321.1 656.3h0.7M371.1 634.2h0.7M363.2 620.1h0.7M352.9 622.0h0.7M356.2 620.3h0.7M312.5 650.8h0.7M369.9 598.1h0.7M361.0 646.8h0.7M344.9 653.9h0.7M372.4 628.0h0.7M357.3 650.1h0.7M329.5 667.9h0.7M376.7 632.0h0.7M373.7 646.1h0.7M347.1 666.3h0.7M352.6 649.8h0.7M370.6 663.3h0.7M361.9 625.7h0.7M327.4 661.1h0.7M336.4 647.4h0.7M334.4 642.7h0.7M331.5 668.1h0.7M335.1 643.6h0.7M346.8 662.2h0.7M329.5 644.8h0.7M346.5 652.7h0.7M356.0 638.8h0.7M352.8 640.1h0.7M356.0 643.9h0.7M340.2 644.9h0.7M342.5 649.6h0.7M369.9 616.2h0.7M325.0 628.7h0.7M354.9 662.2h0.7M346.3 610.8h0.7M317.0 659.6h0.7M352.0 627.1h0.7M365.0 623.8h0.7M365.3 665.6h0.7M338.7 629.8h0.7M361.2 630.0h0.7M361.5 628.6h0.7M360.7 646.6h0.7M343.3 632.8h0.7M352.7 618.8h0.7M345.5 639.8h0.7M350.5 593.5h0.7M373.4 640.9h0.7M328.7 612.0h0.7M372.7 642.7h0.7M336.9 645.5h0.7M339.7 640.9h0.7M371.2 650.8h0.7M351.4 650.1h0.7M348.6 657.1h0.7M361.7 640.1h0.7M355.3 642.7h0.7M378.1 645.4h0.7M334.0 654.7h0.7M336.8 638.3h0.7M354.0 643.5h0.7M333.2 598.4h0.7M341.1 661.6h0.7M339.3 637.3h0.7M377.9 637.5h0.7M370.3 663.7h0.7M347.3 625.4h0.7M355.7 654.7h0.7M362.9 646.3h0.7M366.3 664.8h0.7M334.6 665.3h0.7M351.8 637.4h0.7M363.2 620.3h0.7M350.6 643.3h0.7M346.9 638.1h0.7M324.9 608.3h0.7" stroke="#aaa" stroke-width="0.7" fill="none"/>
<path d="M344.3 624.3h0.7M331.1 591.5h0.7M343.5 622.5h0.7M362.8 634.6h0.7M335.4 654.3h0.7M332.3 590.3h0.7M320.9 653.1h0.7M362.3 632.6h0.7M361.8 633.8h0.7M324.5 590.0h0.7M347.3 658.1h0.7M326.6 611.5h0.7M347.8 629.9h0.7M364.3 629.0h0.7M369.7 662.8h0.7M364.3 637.2h0.7M357.1 671.2h0.7M326.2 607.5h0.7M340.2 645.3h0.7M363.1 633.7h0.7M342.7 626.9h0.7M367.9 640.6h0.7M344.4 630.5h0.7M343.2 615.0h0.7M367.7 642.6h0.7M356.4 591.9h0.7M361.5 624.4h0.7M345.9 622.6h0.7M326.8 605.5h0.7M366.2 632.4h0.7M346.7 645.6h0.7M324.6 595.9h0.7M353.0 612.6h0.7M351.0 590.5h0.7M362.4 636.7h0.7M330.9 591.8h0.7M324.9 607.1h0.7M359.8 622.1h0.7M341.3 622.7h0.7M350.7 589.0h0.7M366.6 667.6h0.7M327.6 607.2h0.7M363.2 638.4h0.7M325.7 606.4h0.7M363.2 636.5h0.7M343.2 616.0h0.7M341.3 613.9h0.7M360.1 624.2h0.7M348.2 635.1h0.7M375.3 636.6h0.7M345.0 646.7h0.7M331.0 610.6h0.7M354.3 592.7h0.7M328.5 609.5h0.7M339.2 614.3h0.7M368.3 637.9h0.7M354.8 620.1h0.7M328.2 613.7h0.7M358.4 593.1h0.7M347.1 636.7h0.7M326.4 594.5h0.7M344.9 627.2h0.7M344.5 646.6h0.7M348.2 640.3h0.7M361.5 599.4h0.7M341.7 616.2h0.7M366.5 666.9h0.7M329.5 592.7h0.7M368.7 646.2h0.7M362.6 621.4h0.7M348.0 639.0h0.7M360.4 618.7h0.7M357.7 595.7h0.7M363.8 631.7h0.7M347.3 656.4h0.7M370.5 652.9h0.7M341.1 617.5h0.7M349.0 628.9h0.7M360.1 627.9h0.7M360.8 670.5h0.7M346.4 589.4h0.7M355.0 612.8h0.7M355.0 619.7h0.7M317.7 652.5h0.7M369.7 648.6h0.7M358.6 620.8h0.7M337.7 588.3h0.7M336.9 643.7h0.7M354.2 619.8h0.7M358.7 594.8h0.7M367.6 641.2h0.7M335.6 622.3h0.7M357.3 613.2h0.7M332.4 610.6h0.7M348.8 627.4h0.7M326.5 608.9h0.7M357.3 618.6h0.7M349.6 667.3h0.7M349.9 624.5h0.7M329.1 609.5h0.7M350.1 627.5h0.7M347.3 664.0h0.7M344.8 656.7h0.7M342.4 646.1h0.7M343.3 661.1h0.7M323.3 650.4h0.7M329.5 646.4h0.7M337.3 621.1h0.7M326.3 598.3h0.7M326.4 648.9h0.7M366.4 641.6h0.7M363.0 669.8h0.7M333.9 614.1h0.7M370.7 657.6h0.7M358.5 605.9h0.7M351.1 667.6h0.7M334.0 589.7h0.7M355.7 614.1h0.7M364.3 669.7h0.7M369.7 645.6h0.7M322.0 597.0h0.7M326.7 587.8h0.7M357.2 609.0h0.7M351.9 667.4h0.7M325.9 653.4h0.7M342.5 621.1h0.7M325.3 650.7h0.7M345.5 661.6h0.7M335.5 612.9h0.7M370.0 657.4h0.7M354.8 610.7h0.7M353.7 614.5h0.7M349.0 589.3h0.7M321.9 599.6h0.7M346.9 630.5h0.7M343.3 588.6h0.7M339.4 630.0h0.7M326.1 600.7h0.7M324.6 650.0h0.7M326.8 596.1h0.7M360.1 604.8h0.7M331.8 610.6h0.7M347.6 634.6h0.7M321.9 653.7h0.7M325.7 650.1h0.7M327.8 649.4h0.7M340.6 646.5h0.7M363.2 629.3h0.7M357.2 615.2h0.7M362.1 601.7h0.7M346.4 656.5h0.7M343.6 619.8h0.7M343.4 643.8h0.7M332.4 591.0h0.7M353.1 616.4h0.7M355.7 593.4h0.7M358.0 616.0h0.7M330.6 648.9h0.7M343.6 615.1h0.7M342.6 646.3h0.7M327.5 595.7h0.7M344.6 618.2h0.7M353.5 620.0h0.7M350.9 626.4h0.7M358.6 606.9h0.7M338.4 647.1h0.7M370.6 658.4h0.7M317.1 653.9h0.7M344.1 589.0h0.7M343.8 625.2h0.7M339.7 615.3h0.7M349.4 633.2h0.7M355.8 591.9h0.7M333.2 648.6h0.7M343.7 620.5h0.7M349.2 667.5h0.7M346.4 588.4h0.7M353.4 620.5h0.7M358.9 624.9h0.7M340.2 654.7h0.7M321.8 650.5h0.7M361.7 602.0h0.7M335.0 613.4h0.7M322.7 649.1h0.7M361.1 620.5h0.7M354.4 610.2h0.7M366.8 665.7h0.7M371.6 655.2h0.7M338.5 616.2h0.7M360.5 630.3h0.7M368.2 665.4h0.7M360.4 605.7h0.7M347.9 662.6h0.7M326.2 658.8h0.7M317.1 648.6h0.7M336.1 646.6h0.7M328.1 646.7h0.7M347.8 629.6h0.7M367.1 634.5h0.7M359.3 603.7h0.7M340.7 631.9h0.7M342.8 646.0h0.7M348.5 625.0h0.7M370.8 646.2h0.7M342.6 623.3h0.7M373.7 653.2h0.7M335.9 648.1h0.7M355.0 592.5h0.7M325.8 651.1h0.7M332.3 612.0h0.7M330.0 591.9h0.7M357.2 595.4h0.7M353.5 614.2h0.7M360.0 627.6h0.7M333.5 614.8h0.7M325.4 604.5h0.7M325.4 651.2h0.7M341.3 617.4h0.7M346.8 657.4h0.7M361.1 608.3h0.7M301.8 647.0h0.7M353.8 616.1h0.7M332.8 655.6h0.7M347.0 643.3h0.7M347.1 646.3h0.7M361.6 592.8h0.7M374.3 649.9h0.7M356.9 616.0h0.7M323.3 649.3h0.7M337.0 655.5h0.7M322.9 595.6h0.7M328.0 588.4h0.7M327.9 650.5h0.7M365.2 669.6h0.7M370.5 661.1h0.7M357.0 621.4h0.7M333.2 655.0h0.7M342.3 588.8h0.7M351.8 590.1h0.7M349.1 634.4h0.7M360.1 627.8h0.7M336.4 654.4h0.7M358.1 607.3h0.7M347.0 623.4h0.7M363.4 671.0h0.7M329.5 613.1h0.7M360.2 619.5h0.7M343.1 638.1h0.7M324.3 602.2h0.7M331.0 646.9h0.7M354.3 620.2h0.7M359.6 619.1h0.7M330.5 609.7h0.7M345.9 623.8h0.7M362.0 633.3h0.7M353.6 618.6h0.7M359.3 626.2h0.7M366.5 641.9h0.7M343.7 655.6h0.7M346.4 631.8h0.7M355.5 617.9h0.7M354.6 669.3h0.7M359.3 601.0h0.7M351.9 589.3h0.7M369.6 662.4h0.7M331.5 610.3h0.7M325.7 598.7h0.7M353.3 618.3h0.7M360.9 615.1h0.7M359.6 615.8h0.7M341.4 655.6h0.7M356.1 612.1h0.7M326.2 596.6h0.7M327.0 605.8h0.7M367.4 668.0h0.7M344.0 621.3h0.7M352.9 616.4h0.7M326.7 651.8h0.7M348.8 666.5h0.7M342.0 626.6h0.7M331.1 654.0h0.7M324.5 610.4h0.7M356.0 615.7h0.7M361.6 633.8h0.7M359.2 607.6h0.7M332.2 611.1h0.7M325.5 602.8h0.7M330.1 610.2h0.7M334.5 655.1h0.7M371.5 652.6h0.7M357.6 594.6h0.7M343.3 615.8h0.7M320.9 648.4h0.7M343.5 656.3h0.7M361.8 631.4h0.7M318.9 648.8h0.7M326.9 608.0h0.7M328.2 651.9h0.7M336.2 654.2h0.7M355.0 619.6h0.7M357.2 607.6h0.7M351.3 589.0h0.7M369.9 640.8h0.7M366.7 641.4h0.7M346.0 627.5h0.7M351.7 666.8h0.7M339.2 588.9h0.7M326.0 597.3h0.7M349.7 590.2h0.7M336.9 621.7h0.7M344.3 618.2h0.7M371.8 657.0h0.7M353.5 590.6h0.7M366.0 603.8h0.7M350.9 666.8h0.7M346.3 588.5h0.7M329.1 610.0h0.7M340.7 618.8h0.7M359.1 612.0h0.7M363.2 637.5h0.7M347.7 639.2h0.7M365.0 638.2h0.7M347.8 644.0h0.7M366.0 638.8h0.7M334.3 589.2h0.7M345.3 644.4h0.7M363.7 634.7h0.7M326.5 605.9h0.7M359.3 620.5h0.7M327.7 608.0h0.7M328.0 657.0h0.7M333.4 611.5h0.7M324.9 599.8h0.7M326.0 653.0h0.7M325.0 650.6h0.7M345.2 655.6h0.7M342.7 646.2h0.7M344.0 620.5h0.7M344.5 624.5h0.7M348.3 630.8h0.7M364.3 636.4h0.7M366.5 667.5h0.7M330.6 610.5h0.7M322.0 651.1h0.7M339.5 588.3h0.7M326.5 603.0h0.7M351.5 667.5h0.7M329.8 609.3h0.7M346.9 626.6h0.7M368.3 663.7h0.7M342.2 644.5h0.7M345.4 625.1h0.7M320.8 647.4h0.7M358.1 670.3h0.7M367.3 667.0h0.7M359.1 601.9h0.7M326.7 597.4h0.7M330.9 612.2h0.7M358.6 598.0h0.7M318.4 651.0h0.7M334.1 654.9h0.7M359.0 597.5h0.7M353.6 591.1h0.7M352.7 614.3h0.7M340.1 646.7h0.7M328.2 651.2h0.7M360.7 623.3h0.7M347.3 642.4h0.7M348.7 663.9h0.7M369.8 658.1h0.7M326.0 595.2h0.7M327.5 647.9h0.7M323.9 651.7h0.7M347.1 662.3h0.7M354.3 620.4h0.7M325.1 599.2h0.7M358.0 624.2h0.7M341.1 617.2h0.7M360.4 618.6h0.7M331.9 653.2h0.7M318.8 644.2h0.7M329.4 646.4h0.7M346.6 644.1h0.7M323.4 597.6h0.7M351.3 590.2h0.7M344.2 618.8h0.7M332.8 655.8h0.7M347.9 643.6h0.7M316.7 652.6h0.7M374.7 639.9h0.7M324.1 652.1h0.7M327.7 648.0h0.7M319.2 656.5h0.7" stroke="#999" stroke-width="0.7" fill="none"/>
<path d="M359.0 654.9 358.4 654.4 358.8 653.5 359.3 653.9 359.0 654.9Z M342.8 601.8 342.0 601.5 342.2 600.9 343.2 601.2 342.8 601.8Z M359.3 655.8 358.3 655.7 357.7 654.4 357.9 653.2 358.8 652.5 359.5 652.7 360.1 653.9 359.3 655.8Z M343.3 602.5 341.3 602.2 340.8 601.4 341.3 600.4 342.8 600.0 344.0 600.5 344.3 601.7 343.3 602.5Z M359.0 657.0 357.6 656.2 357.0 654.4 357.4 652.4 358.8 651.4 360.2 652.2 360.8 653.9 360.4 655.9 359.0 657.0Z M343.0 603.4 341.3 603.2 340.0 602.2 339.8 600.7 341.0 599.5 343.5 599.3 345.2 600.4 345.1 602.4 343.0 603.4Z M355.5 647.5 355.3 646.4 355.5 647.5Z M359.3 658.0 357.3 657.2 356.3 654.7 356.9 651.7 358.8 650.4 360.7 651.4 361.5 653.9 360.9 656.7 359.3 658.0Z M343.5 604.2 341.0 604.0 339.1 602.7 338.6 600.9 339.8 599.2 343.3 598.4 346.1 599.9 346.6 601.2 346.1 602.7 343.5 604.2Z M356.0 647.9 354.5 647.4 355.3 644.4 356.2 645.9 356.5 647.4 356.0 647.9Z M359.5 658.9 358.3 658.9 357.0 658.2 355.6 654.9 355.9 651.4 357.3 649.8 358.5 649.3 361.0 650.4 362.2 653.4 361.6 656.9 359.5 658.9Z M344.0 605.0 340.8 604.9 338.4 603.4 337.5 601.2 338.8 598.8 340.8 597.7 343.0 597.5 345.3 598.0 346.8 599.2 347.7 600.9 347.4 602.7 346.0 604.1 344.0 605.0Z M359.5 660.0 358.0 659.9 356.8 659.2 355.1 656.2 354.7 651.4 355.9 649.2 353.9 647.4 354.4 643.9 355.3 642.5 356.3 643.4 357.5 647.4 361.0 649.2 362.7 652.2 362.9 654.7 362.4 657.2 361.3 658.9 359.5 660.0Z M343.3 605.9 339.3 605.2 336.7 602.7 336.8 599.7 339.5 597.3 342.3 596.7 345.0 597.0 347.2 598.2 348.5 599.9 348.7 601.9 347.7 603.9 345.8 605.3 343.3 605.9Z M359.8 661.0 358.0 661.0 356.5 660.2 355.2 658.4 354.4 656.2 353.5 651.4 354.5 649.7 353.3 647.2 353.9 642.7 355.3 640.6 356.5 641.7 358.0 646.1 361.8 648.7 363.4 652.2 363.6 655.2 362.9 657.9 361.5 659.9 359.8 661.0Z M344.0 606.7 339.5 606.3 337.5 605.3 336.0 603.7 335.3 601.9 335.4 600.2 336.4 598.4 338.0 597.0 341.0 595.9 344.3 596.0 347.3 597.1 349.2 598.9 349.9 601.2 349.2 603.7 347.0 605.7 344.0 606.7Z M360.0 662.0 357.3 661.8 355.1 659.9 353.8 657.2 353.2 652.7 352.1 651.4 353.4 649.7 352.7 647.4 353.4 641.9 354.3 639.5 355.3 638.6 356.8 639.9 358.5 644.9 362.5 648.2 364.1 651.9 364.3 655.2 363.6 658.2 362.0 660.7 360.0 662.0Z M344.5 607.5 341.8 607.6 339.0 607.0 336.8 605.9 335.1 604.2 334.3 602.2 334.3 600.2 335.1 598.4 336.8 596.7 340.0 595.3 343.8 595.0 347.3 596.0 349.9 598.2 351.0 600.9 350.4 603.7 348.0 606.1 344.5 607.5Z M360.3 662.9 357.5 662.9 355.0 661.2 353.4 658.2 352.3 652.9 350.2 651.4 352.3 649.4 352.0 647.4 352.9 640.9 353.9 637.9 355.3 636.7 357.0 638.2 359.3 644.2 363.5 648.2 364.9 651.9 365.0 655.7 364.1 658.9 362.5 661.4 360.3 662.9Z M343.5 608.4 340.3 608.2 337.3 607.2 335.0 605.6 333.5 603.4 333.1 600.9 333.7 598.7 335.5 596.5 338.0 595.0 342.0 594.2 346.0 594.6 349.5 596.4 351.7 599.2 352.1 602.2 350.5 605.3 347.5 607.5 343.5 608.4Z M359.0 664.2 356.8 663.7 354.8 662.2 352.8 658.9 351.5 653.4 347.6 651.4 351.2 649.2 352.7 638.7 353.8 635.9 355.3 634.7 356.3 635.1 357.3 636.4 359.7 643.2 364.1 647.7 365.7 652.4 365.6 656.7 364.1 660.7 361.8 663.3 359.0 664.2Z M344.5 609.2 341.0 609.2 337.5 608.3 334.8 606.7 332.9 604.7 332.0 602.2 332.3 599.4 333.7 596.9 336.0 595.0 340.3 593.5 345.3 593.6 349.5 595.2 352.4 598.2 353.2 601.7 351.9 605.2 348.8 607.9 344.5 609.2Z M359.5 665.2 356.5 664.7 353.9 662.4 352.2 659.4 350.5 653.5 344.6 651.4 345.2 650.7 349.4 649.4 350.4 648.7 352.4 636.9 353.8 633.9 355.3 632.8 356.5 633.3 357.5 634.7 360.3 642.3 364.6 646.9 366.4 652.2 366.2 656.9 364.9 660.9 362.5 663.9 359.5 665.2Z M345.5 609.9 341.5 610.1 337.8 609.3 334.8 607.9 332.4 605.7 331.1 603.2 330.9 600.2 332.0 597.4 334.3 595.1 338.5 593.0 344.0 592.5 349.3 594.0 352.8 596.9 354.3 600.7 353.5 604.7 350.3 608.1 345.5 609.9Z M359.8 666.2 356.5 665.8 353.6 663.4 351.7 660.2 349.7 653.9 343.0 652.3 341.5 651.4 342.5 650.4 348.5 648.9 349.6 648.2 352.1 635.2 353.5 632.1 355.3 630.8 356.5 631.2 357.8 632.9 360.8 641.3 365.4 646.7 367.1 652.2 366.9 657.2 365.4 661.7 362.8 664.9 359.8 666.2Z M345.3 610.9 340.8 610.9 337.0 610.0 333.5 608.1 331.1 605.7 329.9 602.7 329.9 599.7 331.3 596.7 334.0 594.1 339.0 592.0 345.0 591.8 350.3 593.5 354.1 596.9 355.5 601.2 355.2 603.4 354.1 605.7 350.3 609.3 345.3 610.9Z M360.0 667.2 356.5 666.8 353.3 664.4 351.2 660.9 349.0 654.4 340.5 652.6 338.3 651.4 340.0 650.0 347.7 648.4 349.0 647.5 351.9 633.2 353.5 629.9 355.3 628.8 356.5 629.2 357.9 630.9 361.0 639.9 365.9 645.9 367.7 651.7 367.7 657.2 366.2 661.9 363.5 665.4 360.0 667.2Z M347.5 612.0 341.8 611.9 337.5 611.1 334.0 609.6 331.0 607.2 329.2 604.2 328.6 600.9 329.5 597.7 331.8 594.7 336.8 591.8 343.3 590.8 349.3 592.1 354.2 595.4 356.4 599.7 356.6 601.9 356.0 604.4 353.0 608.5 347.5 612.0Z M348.8 619.3 347.8 619.1 347.2 617.7 347.4 615.9 348.3 614.9 349.2 615.4 349.7 616.9 348.8 619.3Z M360.3 668.2 356.5 667.9 353.0 665.4 350.7 661.7 349.0 655.9 348.3 654.8 338.0 652.9 335.2 651.4 335.8 650.4 337.5 649.7 346.8 647.9 348.5 646.9 351.4 631.9 353.0 628.4 355.0 626.8 356.8 627.4 358.2 629.2 361.5 638.9 366.4 645.2 368.5 651.7 368.4 657.4 366.7 662.7 363.8 666.4 360.3 668.2Z M349.3 621.5 347.8 621.5 346.6 620.2 345.2 613.7 337.8 612.1 334.3 610.7 330.9 608.4 328.5 605.4 327.5 601.7 328.2 597.9 330.4 594.7 334.0 592.0 340.3 590.1 347.0 590.5 353.0 593.1 356.7 597.2 357.7 600.4 357.3 603.9 355.4 607.4 350.7 612.4 350.9 618.7 350.3 620.4 349.3 621.5Z M360.3 669.2 356.3 668.9 352.7 666.4 350.4 662.9 348.4 656.4 347.5 655.3 335.5 653.2 333.2 652.4 332.0 651.4 332.6 650.4 335.0 649.3 346.0 647.4 347.8 646.6 348.5 644.7 349.9 635.2 351.2 629.7 352.9 625.9 355.0 624.6 356.8 625.2 358.6 627.7 361.9 637.9 367.2 644.9 369.2 651.7 369.0 658.2 367.2 663.4 364.0 667.4 360.3 669.2Z M360.5 670.2 356.5 670.0 352.5 667.4 349.9 663.7 347.7 656.9 346.7 655.7 333.0 653.5 329.9 652.4 328.9 651.4 329.6 650.2 332.3 649.0 345.3 646.9 347.3 645.9 348.0 643.8 350.8 626.2 350.7 624.4 347.8 623.8 346.0 622.2 343.6 614.7 336.3 612.5 332.5 610.8 329.2 608.2 327.1 604.9 326.4 600.4 327.9 596.2 331.3 592.6 336.5 590.0 343.5 589.2 350.3 590.6 355.5 593.9 357.3 596.2 358.4 598.7 358.8 601.7 358.1 604.9 352.4 613.2 352.7 621.2 353.3 621.8 356.5 622.8 358.6 625.4 362.5 637.3 366.7 642.7 368.5 645.9 370.0 653.4 369.4 659.4 367.4 664.7 364.3 668.4 360.5 670.2Z" stroke="#6e6e6e" stroke-width="0.55" fill="none" stroke-linejoin="round"/>
<ellipse cx="358.90" cy="653.80" rx="1.0" ry="2.5" fill="#fff"/>
<ellipse cx="344.40" cy="601.30" rx="1.2" ry="1.0" fill="#fff"/>
<rect x="316.60" y="587.60" width="69.80" height="30.80" fill="none" stroke="#555" stroke-width="0.9"/>
<text x="384.0" y="616.8" font-size="8.2" fill="#1a1a1a" text-anchor="end" font-weight="bold">30,7</text>
</g>
<rect x="297.40" y="587.30" width="93.30" height="84.50" fill="none" stroke="#8a8a8a" stroke-width="0.8"/>
<line x1="295.20" y1="596.30" x2="297.40" y2="596.30" stroke="#555" stroke-width="0.7"/>
<text x="294.80" y="598.20" font-size="5.6" fill="#333" text-anchor="end">10<tspan font-size="4.03" dy="-2.2">5</tspan></text>
<line x1="295.20" y1="615.80" x2="297.40" y2="615.80" stroke="#555" stroke-width="0.7"/>
<text x="294.80" y="617.70" font-size="5.6" fill="#333" text-anchor="end">10<tspan font-size="4.03" dy="-2.2">4</tspan></text>
<line x1="295.20" y1="639.00" x2="297.40" y2="639.00" stroke="#555" stroke-width="0.7"/>
<text x="294.80" y="640.90" font-size="5.6" fill="#333" text-anchor="end">10<tspan font-size="4.03" dy="-2.2">3</tspan></text>
<line x1="295.20" y1="652.80" x2="297.40" y2="652.80" stroke="#555" stroke-width="0.7"/>
<text x="293.20" y="654.70" font-size="5.6" fill="#333" text-anchor="end">0</text>
<line x1="295.20" y1="666.60" x2="297.40" y2="666.60" stroke="#555" stroke-width="0.7"/>
<text x="294.80" y="668.50" font-size="5.6" fill="#333" text-anchor="end">−10<tspan font-size="4.03" dy="-2.2">3</tspan></text>
<line x1="296.30" y1="602.15" x2="297.40" y2="602.15" stroke="#777" stroke-width="0.5"/>
<line x1="296.30" y1="606.05" x2="297.40" y2="606.05" stroke="#777" stroke-width="0.5"/>
<line x1="296.30" y1="609.95" x2="297.40" y2="609.95" stroke="#777" stroke-width="0.5"/>
<line x1="296.30" y1="622.76" x2="297.40" y2="622.76" stroke="#777" stroke-width="0.5"/>
<line x1="296.30" y1="627.40" x2="297.40" y2="627.40" stroke="#777" stroke-width="0.5"/>
<line x1="296.30" y1="632.04" x2="297.40" y2="632.04" stroke="#777" stroke-width="0.5"/>
<line x1="296.30" y1="643.14" x2="297.40" y2="643.14" stroke="#777" stroke-width="0.5"/>
<line x1="296.30" y1="645.90" x2="297.40" y2="645.90" stroke="#777" stroke-width="0.5"/>
<line x1="296.30" y1="648.66" x2="297.40" y2="648.66" stroke="#777" stroke-width="0.5"/>
<line x1="296.30" y1="656.94" x2="297.40" y2="656.94" stroke="#777" stroke-width="0.5"/>
<line x1="296.30" y1="659.70" x2="297.40" y2="659.70" stroke="#777" stroke-width="0.5"/>
<line x1="296.30" y1="662.46" x2="297.40" y2="662.46" stroke="#777" stroke-width="0.5"/>
<line x1="304.20" y1="671.80" x2="304.20" y2="674.00" stroke="#555" stroke-width="0.7"/>
<text x="304.40" y="682.40" font-size="5.6" fill="#333" text-anchor="middle">−10<tspan font-size="4.03" dy="-2.2">3</tspan></text>
<line x1="318.10" y1="671.80" x2="318.10" y2="674.00" stroke="#555" stroke-width="0.7"/>
<text x="318.10" y="682.40" font-size="5.6" fill="#333" text-anchor="middle">0</text>
<line x1="333.20" y1="671.80" x2="333.20" y2="674.00" stroke="#555" stroke-width="0.7"/>
<text x="333.40" y="682.40" font-size="5.6" fill="#333" text-anchor="middle">10<tspan font-size="4.03" dy="-2.2">3</tspan></text>
<line x1="358.70" y1="671.80" x2="358.70" y2="674.00" stroke="#555" stroke-width="0.7"/>
<text x="358.90" y="682.40" font-size="5.6" fill="#333" text-anchor="middle">10<tspan font-size="4.03" dy="-2.2">4</tspan></text>
<line x1="379.90" y1="671.80" x2="379.90" y2="674.00" stroke="#555" stroke-width="0.7"/>
<text x="380.10" y="682.40" font-size="5.6" fill="#333" text-anchor="middle">10<tspan font-size="4.03" dy="-2.2">5</tspan></text>
<line x1="308.37" y1="671.80" x2="308.37" y2="672.90" stroke="#777" stroke-width="0.5"/>
<line x1="311.15" y1="671.80" x2="311.15" y2="672.90" stroke="#777" stroke-width="0.5"/>
<line x1="313.93" y1="671.80" x2="313.93" y2="672.90" stroke="#777" stroke-width="0.5"/>
<line x1="322.63" y1="671.80" x2="322.63" y2="672.90" stroke="#777" stroke-width="0.5"/>
<line x1="325.65" y1="671.80" x2="325.65" y2="672.90" stroke="#777" stroke-width="0.5"/>
<line x1="328.67" y1="671.80" x2="328.67" y2="672.90" stroke="#777" stroke-width="0.5"/>
<line x1="340.85" y1="671.80" x2="340.85" y2="672.90" stroke="#777" stroke-width="0.5"/>
<line x1="345.95" y1="671.80" x2="345.95" y2="672.90" stroke="#777" stroke-width="0.5"/>
<line x1="351.05" y1="671.80" x2="351.05" y2="672.90" stroke="#777" stroke-width="0.5"/>
<line x1="365.06" y1="671.80" x2="365.06" y2="672.90" stroke="#777" stroke-width="0.5"/>
<line x1="369.30" y1="671.80" x2="369.30" y2="672.90" stroke="#777" stroke-width="0.5"/>
<line x1="373.54" y1="671.80" x2="373.54" y2="672.90" stroke="#777" stroke-width="0.5"/>
<rect x="295.80" y="651.20" width="1.4" height="3.2" fill="#000"/>
<rect x="315.70" y="672.10" width="4.8" height="1.4" fill="#000"/>
<clipPath id="c10"><rect x="413.80" y="586.00" width="93.30" height="84.50"/></clipPath>
<g clip-path="url(#c10)">
<path d="M476.7 593.7h0.7M477.7 590.4h0.7M467.6 594.2h0.7M478.0 594.7h0.7M466.6 591.3h0.7M474.1 594.0h0.7M476.3 596.0h0.7M481.8 592.5h0.7M477.6 589.9h0.7M470.5 596.7h0.7M479.7 594.9h0.7M479.4 595.2h0.7M477.8 587.7h0.7M472.8 596.5h0.7M477.1 588.7h0.7M480.9 590.8h0.7M475.0 595.2h0.7M477.9 588.7h0.7M480.5 592.5h0.7M471.9 594.5h0.7M464.9 595.9h0.7M475.9 591.7h0.7M474.1 594.1h0.7M477.1 596.8h0.7M475.4 593.3h0.7M480.5 598.9h0.7M474.7 596.0h0.7M469.8 600.5h0.7M480.3 596.6h0.7M474.5 591.2h0.7M480.7 594.6h0.7M470.2 591.3h0.7M477.7 592.7h0.7M487.4 587.8h0.7M473.2 594.6h0.7M467.1 594.3h0.7M483.4 590.8h0.7M471.6 591.5h0.7M479.2 594.9h0.7M476.6 592.5h0.7M477.6 594.6h0.7M473.2 596.9h0.7M464.5 594.0h0.7M474.3 594.2h0.7M470.7 596.9h0.7M481.2 593.5h0.7M477.7 596.0h0.7M476.5 590.1h0.7M476.2 598.0h0.7M470.5 596.1h0.7M473.1 592.1h0.7M471.2 596.0h0.7M477.6 594.3h0.7M468.7 595.7h0.7M478.4 596.1h0.7M479.8 595.2h0.7M481.8 594.4h0.7M472.0 595.6h0.7M470.0 588.5h0.7M470.0 602.8h0.7" stroke="#777" stroke-width="0.7" fill="none"/>
<path d="M473.5 624.0h0.7M474.7 624.9h0.7M439.7 635.0h0.7M463.3 619.1h0.7M457.3 591.5h0.7M441.2 605.9h0.7M467.3 588.8h0.7M442.9 607.4h0.7M439.8 638.6h0.7M455.6 612.0h0.7M455.6 666.1h0.7M470.6 669.5h0.7M441.8 597.9h0.7M443.8 663.9h0.7M480.4 646.5h0.7M458.2 606.2h0.7M442.3 659.7h0.7M459.8 617.1h0.7M443.2 607.2h0.7M443.1 612.0h0.7M442.0 669.3h0.7M473.9 624.0h0.7M461.2 620.6h0.7M473.4 667.5h0.7M473.0 666.8h0.7M474.4 668.1h0.7M456.0 590.0h0.7M480.6 649.7h0.7M460.7 668.3h0.7M442.3 663.5h0.7M446.0 668.5h0.7M460.6 667.9h0.7M481.2 644.4h0.7M468.5 598.4h0.7M440.3 648.8h0.7M471.3 590.3h0.7M466.5 618.0h0.7M439.6 614.1h0.7M457.9 614.9h0.7M443.6 664.0h0.7M453.2 668.0h0.7M456.2 668.5h0.7M483.8 640.7h0.7M442.5 660.3h0.7M470.4 598.2h0.7M442.6 617.9h0.7M476.4 661.9h0.7M472.3 621.7h0.7M476.2 625.4h0.7M477.4 661.5h0.7M443.3 609.1h0.7M445.4 667.3h0.7M441.6 656.7h0.7M474.5 592.8h0.7M471.9 620.1h0.7M445.4 668.8h0.7M466.1 612.8h0.7M470.0 589.4h0.7M441.0 604.4h0.7M477.8 630.8h0.7M446.3 595.3h0.7M471.4 591.4h0.7M470.5 599.6h0.7M442.4 665.7h0.7M448.0 669.8h0.7M440.1 599.7h0.7M440.9 632.8h0.7M479.9 648.8h0.7M442.9 592.6h0.7M475.7 667.7h0.7M439.1 657.7h0.7M481.9 648.8h0.7M441.0 624.1h0.7M439.3 662.4h0.7M442.6 665.5h0.7M459.8 614.1h0.7M455.2 610.2h0.7M476.8 624.3h0.7M461.8 619.8h0.7M464.3 669.1h0.7M439.4 654.4h0.7M478.0 657.3h0.7M475.7 663.5h0.7M443.6 666.0h0.7M480.6 649.2h0.7M442.9 662.5h0.7M473.2 665.6h0.7M456.2 665.8h0.7M472.9 591.0h0.7M479.2 659.4h0.7M451.3 593.5h0.7M481.5 654.2h0.7M479.2 652.5h0.7M475.1 626.0h0.7M460.3 615.3h0.7M478.0 630.4h0.7M441.0 603.4h0.7M463.4 619.3h0.7M438.8 641.3h0.7M480.6 653.3h0.7M479.3 630.9h0.7M443.9 668.1h0.7M457.7 668.1h0.7M455.4 668.5h0.7M434.7 637.3h0.7M456.4 611.1h0.7M471.4 590.9h0.7M440.3 635.6h0.7M475.7 627.9h0.7M446.2 587.4h0.7M440.6 600.7h0.7M447.2 669.9h0.7M479.5 657.8h0.7M470.8 668.4h0.7M468.3 616.6h0.7M474.5 620.5h0.7M478.8 636.1h0.7M461.5 619.7h0.7M464.1 590.4h0.7M440.3 623.0h0.7M440.4 647.1h0.7M470.3 618.0h0.7M469.1 668.9h0.7M461.4 669.2h0.7M450.2 590.3h0.7M469.4 619.9h0.7M480.0 638.6h0.7M469.4 619.7h0.7M472.2 669.9h0.7M456.6 615.3h0.7M445.3 668.5h0.7M467.6 617.5h0.7M470.6 668.0h0.7M472.0 595.1h0.7M475.7 666.7h0.7M455.8 666.3h0.7M439.3 633.7h0.7M441.5 615.6h0.7M441.6 619.5h0.7M468.8 598.4h0.7M459.1 613.7h0.7M439.7 627.9h0.7M477.7 628.3h0.7M441.9 623.0h0.7M479.5 667.4h0.7M441.7 608.4h0.7M441.9 661.7h0.7M458.3 667.2h0.7M462.4 618.2h0.7M457.5 591.6h0.7M444.8 665.1h0.7M440.5 655.3h0.7M476.1 624.5h0.7M440.8 669.1h0.7M444.0 612.2h0.7M479.5 654.9h0.7M440.5 644.7h0.7M467.5 619.1h0.7M442.2 661.0h0.7M446.5 596.0h0.7M442.2 616.0h0.7M475.1 625.3h0.7M469.0 669.7h0.7M440.3 659.4h0.7M453.9 591.7h0.7M440.3 641.7h0.7M442.5 600.0h0.7M442.2 619.4h0.7M467.5 669.7h0.7M441.4 613.3h0.7M472.6 595.3h0.7M446.8 669.1h0.7M458.1 608.0h0.7M480.4 636.7h0.7M461.7 612.2h0.7M459.6 669.4h0.7M439.0 658.1h0.7M477.1 663.0h0.7M446.6 595.5h0.7M462.3 618.3h0.7M458.4 666.8h0.7M443.3 614.8h0.7M472.2 596.0h0.7M458.4 666.8h0.7M456.4 612.8h0.7M440.7 637.1h0.7M455.0 606.4h0.7M444.7 597.7h0.7M437.9 625.3h0.7M479.4 643.3h0.7M441.6 660.2h0.7M459.3 669.1h0.7M478.2 628.1h0.7M440.3 650.0h0.7M441.5 616.2h0.7M455.9 668.2h0.7M466.6 617.7h0.7M456.5 590.7h0.7M440.7 608.0h0.7M441.0 600.8h0.7M480.4 643.3h0.7M441.0 602.9h0.7M476.7 621.6h0.7M467.0 616.8h0.7M438.9 663.0h0.7M442.3 614.6h0.7M456.0 610.0h0.7M456.9 614.4h0.7M442.6 606.4h0.7M480.2 645.6h0.7M440.6 628.5h0.7M479.1 650.9h0.7M442.9 597.0h0.7M475.6 663.4h0.7M477.3 630.9h0.7M463.1 670.0h0.7M465.1 589.7h0.7M480.2 638.4h0.7M455.3 611.6h0.7M482.4 650.7h0.7M469.7 599.6h0.7M478.4 633.8h0.7M477.1 659.1h0.7M480.3 634.1h0.7M457.5 615.4h0.7M478.5 657.1h0.7M464.0 669.0h0.7M459.6 613.5h0.7M471.6 596.1h0.7M464.7 619.5h0.7M471.1 619.6h0.7M461.2 619.3h0.7M465.9 669.5h0.7M457.9 610.4h0.7M456.2 591.7h0.7M465.2 589.6h0.7M476.9 624.0h0.7M455.8 612.9h0.7M474.2 625.0h0.7M440.5 650.6h0.7M458.5 616.5h0.7M468.5 598.6h0.7M461.5 668.7h0.7M455.7 605.8h0.7M464.3 615.8h0.7M449.0 590.0h0.7M480.7 639.7h0.7M470.5 610.2h0.7M436.7 657.6h0.7M462.3 620.4h0.7M457.1 665.7h0.7M441.4 617.3h0.7M483.8 661.1h0.7M450.8 592.7h0.7M459.4 618.0h0.7M457.9 616.7h0.7M470.1 619.6h0.7M442.0 608.6h0.7M468.4 614.5h0.7M458.5 669.9h0.7M451.5 593.4h0.7M441.2 625.6h0.7M471.9 668.4h0.7M471.9 622.3h0.7M460.0 621.2h0.7M477.5 628.4h0.7M442.4 599.3h0.7M455.5 607.1h0.7M479.7 651.7h0.7M438.9 638.1h0.7M459.3 609.4h0.7M473.5 624.1h0.7M442.0 607.5h0.7M479.3 663.0h0.7M474.7 669.1h0.7M477.4 630.7h0.7M460.8 603.2h0.7M441.0 623.4h0.7M476.1 661.6h0.7M486.5 646.2h0.7M456.6 666.3h0.7M441.5 626.5h0.7M446.5 588.9h0.7M465.3 590.3h0.7M442.4 663.2h0.7M477.9 630.1h0.7M454.5 668.7h0.7M443.4 666.6h0.7M440.3 644.0h0.7M440.4 637.4h0.7M478.2 660.5h0.7M441.1 604.4h0.7M464.2 618.5h0.7M481.2 643.6h0.7M440.8 628.7h0.7M439.3 603.9h0.7M471.6 616.7h0.7M466.7 599.6h0.7M444.8 666.2h0.7M439.3 605.5h0.7M440.5 644.6h0.7M441.2 604.2h0.7M468.2 598.5h0.7M472.7 590.6h0.7M458.4 618.3h0.7M456.4 666.1h0.7M453.8 668.6h0.7M440.5 630.4h0.7M472.4 667.0h0.7M479.7 645.3h0.7M453.5 669.6h0.7M454.5 607.9h0.7M470.4 611.7h0.7M457.0 612.8h0.7M442.9 665.2h0.7M468.9 669.2h0.7M477.0 660.7h0.7M463.5 669.7h0.7M459.9 588.9h0.7M461.4 603.2h0.7M463.7 601.8h0.7M441.6 617.2h0.7M460.2 618.5h0.7M460.8 619.5h0.7M461.7 602.5h0.7M440.8 628.9h0.7M479.6 646.0h0.7M442.9 664.5h0.7M440.7 601.9h0.7M458.1 611.8h0.7M439.8 620.2h0.7M456.2 668.4h0.7M440.8 601.7h0.7M468.5 620.1h0.7M440.1 618.0h0.7M472.8 593.9h0.7M460.7 590.9h0.7M441.0 607.8h0.7M439.5 627.7h0.7M472.4 590.9h0.7M454.8 607.1h0.7M453.7 669.3h0.7M438.4 624.5h0.7M455.9 613.4h0.7M479.2 653.4h0.7M473.8 617.7h0.7M476.1 666.5h0.7M459.1 590.7h0.7M457.1 616.3h0.7M471.3 669.3h0.7M440.4 629.1h0.7M449.2 594.6h0.7M450.9 594.0h0.7M450.7 669.3h0.7M473.5 618.8h0.7M473.2 667.9h0.7M455.7 611.6h0.7M438.0 636.3h0.7M455.0 610.1h0.7M456.9 666.7h0.7M475.6 662.7h0.7M459.6 669.9h0.7M474.7 625.2h0.7M477.1 659.3h0.7M447.7 594.3h0.7M479.1 639.9h0.7M479.8 656.9h0.7M440.7 657.3h0.7M443.4 613.6h0.7M473.2 589.5h0.7M440.4 640.4h0.7M441.6 659.0h0.7M480.7 630.2h0.7M458.8 605.2h0.7M465.1 619.7h0.7M456.0 609.2h0.7M460.1 667.7h0.7M440.1 648.9h0.7M479.3 639.6h0.7M479.4 654.1h0.7M464.1 669.5h0.7M448.6 589.6h0.7M471.7 590.8h0.7M470.7 618.6h0.7M478.6 655.8h0.7M467.3 618.8h0.7M443.6 663.0h0.7M441.3 657.8h0.7M463.0 614.8h0.7M440.4 654.8h0.7M463.9 590.1h0.7M471.1 590.9h0.7M475.9 627.3h0.7M447.8 668.8h0.7M456.5 591.1h0.7M464.5 616.9h0.7M467.3 599.1h0.7M460.2 667.8h0.7M468.4 619.5h0.7M442.5 616.3h0.7M470.7 620.6h0.7M463.5 619.0h0.7M476.3 628.9h0.7M451.6 593.4h0.7M446.8 594.7h0.7M458.0 612.7h0.7M475.2 597.7h0.7M446.8 670.0h0.7M462.8 602.2h0.7M453.5 668.2h0.7M443.2 615.5h0.7M441.3 601.3h0.7M440.5 635.1h0.7M432.9 652.1h0.7M468.4 590.2h0.7M478.0 631.7h0.7M440.9 625.8h0.7M475.0 663.6h0.7M459.1 618.6h0.7M441.3 625.3h0.7M466.6 590.2h0.7M439.4 650.5h0.7M474.1 669.6h0.7M479.7 661.1h0.7M443.3 663.2h0.7M442.0 658.3h0.7M455.1 609.6h0.7M449.0 669.3h0.7M473.3 593.3h0.7M475.5 623.4h0.7M475.8 665.1h0.7M440.2 655.7h0.7M456.5 610.5h0.7M443.0 614.8h0.7M476.8 630.5h0.7M441.0 619.1h0.7M442.0 600.9h0.7M456.5 613.5h0.7M441.8 656.8h0.7M471.8 621.9h0.7M476.1 627.2h0.7M469.2 597.4h0.7M464.9 590.1h0.7M453.1 668.7h0.7M474.4 666.4h0.7M476.4 625.2h0.7M439.6 645.4h0.7M440.5 647.9h0.7M475.8 621.1h0.7M471.3 595.2h0.7M459.9 590.2h0.7M478.9 657.1h0.7M444.5 665.2h0.7M471.8 592.0h0.7M475.2 664.3h0.7M465.2 589.9h0.7M439.6 667.8h0.7M476.3 626.3h0.7M474.7 625.6h0.7M441.7 656.5h0.7M476.4 629.4h0.7M457.6 666.7h0.7M440.5 621.3h0.7M442.0 614.2h0.7M443.4 663.5h0.7M474.0 665.2h0.7M479.2 640.0h0.7M442.3 613.3h0.7M442.5 664.3h0.7M440.5 604.1h0.7M440.8 645.1h0.7M480.0 635.5h0.7M460.4 590.9h0.7M479.7 648.7h0.7M450.4 593.7h0.7M439.4 648.4h0.7M440.2 643.4h0.7M454.6 667.8h0.7M475.2 614.3h0.7M440.5 635.2h0.7M441.5 655.3h0.7M445.0 591.1h0.7M454.3 606.8h0.7M478.9 638.4h0.7M445.1 667.2h0.7M441.6 620.3h0.7M450.5 669.7h0.7M463.9 619.3h0.7M438.9 618.6h0.7M440.0 645.7h0.7M479.8 644.9h0.7M468.9 668.6h0.7M455.7 607.0h0.7M460.9 668.9h0.7M473.5 623.5h0.7M457.5 615.0h0.7M467.7 619.2h0.7M444.2 608.3h0.7M473.0 614.7h0.7M477.0 659.7h0.7M457.5 618.5h0.7M444.5 668.2h0.7M480.0 647.1h0.7M462.7 619.6h0.7M457.6 619.7h0.7M479.0 635.9h0.7M482.3 638.7h0.7M466.3 615.6h0.7M473.5 589.8h0.7M480.5 633.8h0.7M464.9 616.5h0.7M441.6 660.8h0.7M471.6 667.9h0.7M470.3 617.7h0.7M442.1 618.3h0.7M477.3 662.1h0.7M441.7 661.7h0.7M443.7 610.7h0.7M470.0 668.8h0.7M440.8 637.1h0.7M481.5 622.8h0.7M455.9 610.6h0.7M480.6 651.2h0.7M475.9 662.3h0.7M462.7 619.9h0.7M440.9 659.3h0.7M437.8 650.9h0.7M456.3 613.7h0.7M439.7 649.4h0.7M471.0 596.6h0.7M477.4 626.0h0.7M441.5 627.4h0.7M478.7 657.0h0.7M442.0 658.9h0.7M479.5 635.2h0.7M445.9 589.9h0.7M440.2 598.9h0.7M481.1 640.7h0.7M458.6 667.3h0.7M457.2 591.8h0.7M443.5 663.2h0.7M474.9 626.3h0.7M480.4 648.0h0.7M466.7 590.2h0.7M463.8 619.7h0.7M455.4 669.1h0.7M465.1 600.6h0.7M443.6 608.0h0.7M463.0 619.5h0.7M474.7 624.1h0.7M461.1 590.9h0.7M477.1 592.9h0.7M480.4 637.6h0.7M467.7 588.2h0.7M456.9 610.3h0.7M456.8 612.6h0.7M444.5 610.8h0.7M469.5 669.0h0.7M455.6 607.8h0.7M481.8 644.8h0.7M441.9 606.4h0.7M468.6 668.8h0.7M481.4 656.6h0.7M442.6 608.0h0.7M478.3 634.6h0.7M478.5 632.3h0.7M443.2 588.9h0.7M445.6 667.4h0.7M455.5 611.6h0.7M440.9 651.3h0.7M448.4 594.4h0.7M472.3 622.6h0.7M481.5 618.7h0.7M440.9 653.4h0.7M457.4 613.3h0.7M471.3 595.7h0.7M456.1 612.4h0.7M474.7 591.3h0.7M462.0 617.7h0.7M452.9 668.1h0.7M475.1 626.6h0.7" stroke="#666" stroke-width="0.7" fill="none"/>
<path d="M482.1 634.0h0.7M473.6 648.3h0.7M471.9 614.3h0.7M478.0 661.1h0.7M481.1 638.1h0.7M476.7 644.3h0.7M475.6 611.0h0.7M475.9 652.2h0.7M475.8 630.0h0.7M481.8 659.6h0.7M481.9 626.2h0.7M479.2 658.1h0.7M477.9 613.7h0.7M472.9 611.5h0.7M476.3 643.4h0.7M478.8 624.8h0.7M479.6 640.8h0.7M478.9 612.8h0.7M478.4 604.4h0.7M479.9 646.6h0.7M480.2 638.6h0.7M477.9 637.2h0.7M481.3 623.8h0.7M477.6 647.3h0.7M476.9 624.5h0.7M477.0 643.0h0.7M482.3 630.6h0.7M471.8 653.5h0.7M477.9 647.3h0.7M477.6 637.8h0.7M472.5 646.5h0.7M474.7 647.7h0.7M472.5 655.4h0.7M477.3 603.2h0.7M478.0 638.9h0.7M478.0 620.9h0.7M482.5 612.8h0.7M480.5 600.2h0.7M479.4 644.6h0.7M477.6 655.7h0.7M476.0 644.0h0.7M477.5 641.4h0.7M475.0 646.9h0.7M479.2 641.8h0.7M474.9 613.5h0.7M476.0 634.2h0.7M478.7 619.6h0.7M477.4 660.7h0.7M479.7 623.8h0.7M481.2 612.8h0.7M477.2 654.3h0.7M479.6 643.1h0.7M474.9 613.6h0.7M479.2 642.0h0.7M482.4 629.2h0.7M474.7 629.5h0.7M472.7 632.1h0.7M473.4 614.7h0.7M482.6 664.9h0.7M476.7 629.0h0.7M478.6 622.1h0.7M474.3 626.5h0.7M475.5 618.2h0.7M476.1 618.7h0.7M479.8 644.5h0.7M472.9 627.8h0.7M476.0 658.2h0.7M471.1 621.0h0.7M482.2 624.5h0.7M479.2 639.2h0.7M480.2 617.4h0.7M476.7 613.1h0.7M479.8 608.5h0.7M474.0 606.6h0.7M475.7 625.6h0.7M478.0 646.0h0.7M481.0 658.5h0.7M477.9 621.6h0.7M478.7 608.6h0.7M477.8 627.8h0.7M476.1 641.0h0.7M474.7 636.7h0.7M477.6 654.0h0.7M481.0 649.9h0.7M478.0 664.2h0.7M480.6 619.5h0.7M478.7 645.4h0.7M475.5 642.2h0.7M477.0 625.0h0.7M474.2 612.4h0.7M474.5 638.7h0.7M472.7 655.5h0.7M476.9 639.8h0.7M480.6 652.5h0.7M477.1 643.4h0.7M480.6 659.6h0.7M475.7 642.9h0.7M474.8 624.9h0.7M477.6 635.0h0.7M474.8 624.5h0.7M477.6 616.3h0.7M478.2 619.9h0.7M481.7 640.3h0.7M479.8 632.1h0.7M478.1 618.9h0.7M479.8 639.3h0.7M479.5 636.1h0.7M479.5 633.2h0.7M476.9 640.1h0.7M478.0 636.9h0.7M475.6 633.8h0.7M480.4 639.7h0.7M478.7 630.1h0.7M481.7 634.7h0.7M479.3 637.5h0.7M481.1 614.1h0.7M471.9 632.4h0.7M470.7 625.5h0.7M475.6 633.3h0.7M479.5 616.8h0.7M479.1 656.1h0.7M480.1 609.0h0.7M476.7 666.5h0.7M474.9 654.9h0.7M478.8 646.3h0.7M473.1 616.5h0.7M475.3 647.2h0.7M480.1 625.9h0.7M478.6 640.0h0.7M475.1 621.2h0.7M472.2 620.1h0.7M475.3 655.6h0.7M480.0 633.9h0.7M478.5 624.0h0.7M470.9 640.3h0.7M479.1 624.7h0.7M480.9 652.3h0.7M479.8 607.9h0.7M477.6 645.9h0.7M475.0 628.6h0.7M479.9 667.6h0.7M479.8 640.3h0.7M476.1 620.4h0.7M475.2 642.6h0.7M471.5 623.7h0.7M473.9 619.7h0.7M477.5 640.5h0.7M478.0 621.1h0.7M470.7 621.6h0.7M476.7 630.5h0.7M479.6 644.1h0.7M473.8 626.2h0.7M474.0 643.8h0.7M471.4 622.1h0.7M475.1 648.0h0.7M475.9 629.1h0.7M478.8 612.5h0.7M475.2 660.7h0.7M480.9 634.9h0.7M481.0 645.1h0.7M479.2 623.8h0.7M480.5 629.6h0.7M482.0 622.7h0.7M484.9 628.2h0.7M468.4 609.3h0.7M478.9 642.5h0.7M475.9 649.7h0.7M481.7 616.9h0.7M480.0 651.6h0.7M480.3 612.3h0.7M482.1 637.9h0.7M474.5 623.6h0.7M470.5 651.0h0.7M478.8 664.0h0.7M479.0 659.4h0.7M481.1 621.2h0.7M477.8 628.2h0.7M477.8 625.8h0.7M468.0 615.6h0.7M477.1 645.9h0.7M482.6 633.3h0.7M477.3 657.1h0.7M477.9 606.7h0.7M473.8 607.0h0.7M470.4 613.0h0.7M473.1 614.1h0.7M478.3 642.4h0.7M480.0 620.6h0.7M474.7 657.9h0.7M478.6 619.9h0.7M474.9 638.2h0.7M474.0 617.9h0.7M467.5 613.8h0.7M483.5 611.3h0.7M468.2 615.9h0.7M478.5 628.5h0.7M478.1 635.5h0.7M475.3 636.5h0.7M476.7 642.2h0.7M479.5 623.6h0.7M477.3 621.2h0.7M476.6 638.9h0.7M479.6 625.1h0.7M476.0 615.0h0.7M472.5 614.2h0.7M475.9 642.3h0.7M474.1 643.7h0.7M476.1 658.8h0.7M476.2 641.6h0.7M479.6 648.5h0.7M482.0 661.7h0.7M477.3 630.6h0.7M481.7 643.9h0.7M477.5 638.4h0.7M477.3 620.9h0.7M465.4 611.4h0.7M476.3 623.0h0.7M481.0 656.7h0.7M477.5 659.8h0.7M477.1 659.4h0.7M480.2 642.7h0.7M476.3 613.8h0.7M481.3 634.6h0.7M479.8 628.4h0.7M476.1 642.4h0.7M478.7 659.7h0.7M477.8 645.7h0.7M478.7 623.8h0.7M468.6 614.4h0.7M478.3 621.8h0.7M474.7 624.4h0.7M477.8 646.9h0.7M475.8 625.3h0.7M481.2 663.5h0.7M479.2 628.8h0.7M476.0 647.4h0.7M472.8 613.2h0.7M480.2 615.3h0.7M475.4 667.2h0.7M476.2 656.6h0.7M476.8 620.4h0.7M478.8 635.2h0.7M479.9 615.0h0.7M479.0 640.4h0.7M479.9 641.3h0.7M475.0 657.1h0.7M480.2 651.2h0.7M479.4 642.9h0.7M471.4 605.3h0.7M473.4 635.1h0.7M464.7 611.9h0.7M480.0 623.2h0.7M482.9 612.1h0.7M479.5 608.0h0.7M478.5 661.5h0.7M476.7 618.2h0.7M474.4 646.5h0.7M476.9 617.9h0.7M471.5 609.0h0.7M475.2 621.0h0.7M467.1 621.7h0.7M478.4 623.2h0.7M482.3 626.6h0.7M472.3 639.5h0.7M476.7 619.4h0.7M478.7 629.4h0.7M475.9 617.6h0.7M475.1 635.9h0.7M475.9 640.9h0.7M477.2 621.3h0.7M474.9 613.7h0.7M476.9 637.4h0.7M483.5 641.4h0.7M476.8 626.1h0.7M466.6 615.0h0.7M477.4 627.5h0.7M479.4 641.9h0.7M479.3 632.2h0.7M481.6 644.9h0.7M475.7 636.4h0.7M477.3 611.6h0.7M481.0 630.2h0.7M472.5 647.1h0.7M476.1 637.0h0.7M477.1 652.3h0.7M477.5 649.2h0.7M475.1 637.3h0.7M475.8 636.1h0.7M483.5 624.7h0.7M478.5 630.9h0.7M478.6 623.6h0.7M471.1 605.0h0.7M480.8 636.7h0.7M474.2 607.4h0.7M481.5 652.2h0.7M476.4 640.0h0.7M476.7 649.8h0.7M464.6 616.3h0.7M478.1 648.5h0.7M474.6 625.0h0.7M469.1 620.8h0.7M478.6 652.1h0.7M479.8 646.4h0.7M474.4 633.9h0.7M481.3 642.2h0.7M469.8 610.8h0.7M476.5 633.9h0.7M478.0 637.8h0.7M479.0 653.2h0.7M479.5 622.7h0.7M483.4 634.7h0.7M471.2 622.5h0.7M479.3 618.9h0.7M481.4 635.8h0.7M477.5 622.2h0.7M480.7 641.5h0.7M482.5 634.2h0.7M478.5 617.1h0.7M482.7 639.6h0.7M479.7 610.6h0.7M476.9 631.8h0.7M480.9 608.9h0.7M474.9 642.6h0.7M477.9 638.7h0.7M479.2 635.9h0.7M479.8 658.1h0.7M475.5 657.5h0.7M475.9 619.6h0.7M477.7 636.8h0.7M478.6 621.4h0.7M477.5 629.3h0.7M480.7 638.6h0.7M476.0 622.4h0.7M477.7 665.9h0.7M473.0 627.6h0.7M481.1 652.3h0.7M477.1 635.6h0.7M476.5 624.6h0.7M476.9 645.4h0.7M478.7 615.9h0.7M477.2 628.1h0.7M481.1 617.7h0.7M469.3 608.0h0.7M487.7 626.3h0.7M477.2 652.5h0.7M473.1 634.8h0.7M482.9 615.2h0.7M474.2 629.1h0.7M476.2 635.8h0.7M477.4 630.9h0.7M467.9 615.8h0.7M477.7 614.4h0.7M479.3 635.5h0.7M480.6 618.9h0.7M476.0 624.9h0.7M480.9 623.0h0.7M479.4 651.1h0.7M474.2 655.9h0.7M477.5 638.3h0.7M480.8 647.3h0.7M473.8 649.0h0.7M477.6 656.8h0.7M478.6 648.7h0.7M470.5 611.9h0.7M475.1 645.1h0.7M475.7 635.8h0.7M484.3 655.1h0.7M485.3 632.0h0.7M476.3 636.7h0.7M480.6 631.2h0.7M483.3 612.9h0.7M482.7 628.5h0.7M471.9 620.2h0.7M475.0 615.9h0.7M477.4 646.6h0.7M477.0 669.9h0.7M480.7 649.4h0.7" stroke="#555" stroke-width="0.7" fill="none"/>
<path d="M465.9 647.0 465.2 646.1 465.7 644.9 466.4 645.9 465.9 647.0Z M453.9 599.9 452.9 599.6 455.0 598.9 453.9 599.9Z M466.2 648.4 464.9 648.0 464.4 646.4 464.7 644.2 465.7 643.2 466.7 643.8 467.2 645.6 467.0 647.4 466.2 648.4Z M453.7 600.4 452.4 600.5 452.1 599.9 453.9 598.5 456.2 598.4 455.8 599.4 453.7 600.4Z M466.2 649.9 464.4 649.2 463.5 646.4 464.0 643.1 465.7 641.5 467.3 642.6 468.1 645.4 467.7 648.4 466.2 649.9Z M453.4 600.9 451.6 600.9 451.3 599.9 454.2 598.0 457.4 597.9 456.6 599.4 453.4 600.9Z M466.2 651.4 464.9 651.2 463.7 650.1 462.6 646.4 463.4 641.9 464.4 640.5 465.7 639.9 466.9 640.3 467.9 641.4 469.0 645.6 468.3 649.4 466.2 651.4Z M453.2 601.4 451.4 601.5 450.5 600.9 450.6 599.9 451.7 598.8 455.7 597.2 458.5 597.4 458.6 598.1 457.4 599.4 453.2 601.4Z M466.2 652.9 464.7 652.6 463.2 651.3 462.1 648.9 461.7 646.4 462.8 640.6 464.2 638.8 465.7 638.2 467.2 638.6 468.5 640.1 469.9 645.4 468.9 650.4 467.7 652.1 466.2 652.9Z M452.9 601.9 450.9 602.0 449.8 601.4 449.8 600.1 451.1 598.6 455.9 596.7 458.4 596.4 459.7 596.9 459.7 597.9 458.2 599.5 452.9 601.9Z M466.2 654.4 464.2 653.9 462.6 652.4 461.3 649.6 460.9 646.4 461.2 642.4 462.3 639.4 463.9 637.2 465.7 636.5 467.7 637.2 469.2 639.1 470.3 642.1 470.7 645.6 470.5 648.6 469.5 651.6 467.9 653.6 466.2 654.4Z M449.9 646.5 449.2 645.9 448.9 644.4 449.7 640.0 450.4 640.9 450.7 643.4 450.6 645.4 449.9 646.5Z M452.7 602.4 450.4 602.5 448.9 601.6 449.0 600.1 450.7 598.4 456.7 596.1 459.4 595.8 460.9 596.4 460.8 597.6 458.9 599.5 452.7 602.4Z M465.9 655.9 463.7 655.2 461.8 653.1 460.5 650.1 460.0 646.1 460.3 642.1 461.6 638.4 463.4 635.8 465.7 634.8 467.9 635.6 469.8 637.9 471.1 641.4 471.6 645.6 471.3 649.4 470.0 652.9 468.2 655.0 465.9 655.9Z M450.2 648.7 449.4 648.7 448.8 647.9 448.1 644.6 448.5 638.9 449.7 636.3 450.9 637.9 451.5 642.6 451.3 646.6 450.2 648.7Z M452.2 602.9 449.4 602.9 448.1 601.9 448.3 600.1 450.2 598.2 452.9 596.8 457.2 595.5 460.4 595.2 462.0 595.9 462.0 597.4 459.7 599.6 455.7 601.8 452.2 602.9Z M450.4 650.9 449.4 651.0 448.4 649.9 447.3 644.9 447.8 636.6 448.7 633.8 449.7 632.6 450.7 633.3 451.4 635.1 452.3 641.9 452.0 647.6 450.4 650.9Z M467.2 657.1 464.4 657.1 461.8 655.1 460.0 651.6 459.1 647.1 459.5 641.9 460.8 637.4 463.0 634.4 465.7 633.1 468.2 634.0 470.2 636.3 471.7 640.1 472.4 644.4 472.3 648.6 471.3 652.4 469.6 655.4 467.2 657.1Z M451.9 603.4 448.7 603.3 447.2 602.1 447.6 600.1 449.7 598.0 452.7 596.4 457.4 595.0 461.2 594.6 463.2 595.4 463.1 597.1 460.7 599.5 456.2 602.0 451.9 603.4Z M449.9 653.4 448.7 652.9 447.5 650.9 446.4 644.1 447.4 633.6 448.4 630.3 449.7 629.0 450.9 629.8 452.1 632.9 453.2 643.6 452.3 650.4 451.2 652.6 449.9 653.4Z M467.2 658.6 463.9 658.5 461.2 656.2 459.1 652.1 458.2 647.1 458.6 641.4 460.2 636.1 462.7 632.8 465.7 631.5 468.4 632.4 470.8 635.1 472.5 639.4 473.3 644.4 473.1 649.4 471.9 653.6 469.8 656.9 467.2 658.6Z M451.7 603.9 448.4 603.9 446.5 602.6 446.7 600.4 449.2 597.9 452.7 596.0 458.4 594.3 462.2 594.0 464.4 594.9 464.2 596.9 461.4 599.6 456.2 602.5 451.7 603.9Z M450.2 655.7 448.4 655.0 447.1 652.9 446.0 649.1 445.6 644.6 445.8 637.6 446.8 631.1 448.1 626.9 449.7 625.3 451.4 626.6 452.7 630.4 454.2 643.6 453.1 651.6 451.7 654.5 450.2 655.7Z M467.2 660.1 463.7 659.9 460.5 657.1 458.3 652.6 457.2 646.9 457.7 640.6 459.5 635.1 462.4 631.1 465.7 629.8 468.9 631.0 471.5 634.1 473.4 638.9 474.2 644.6 473.9 650.1 472.5 654.6 470.2 658.2 467.2 660.1Z M451.4 604.4 447.7 604.4 445.6 602.9 446.0 600.4 448.7 597.7 452.9 595.5 458.7 593.8 463.2 593.4 465.5 594.4 465.8 595.4 465.3 596.6 461.9 599.8 455.9 603.0 451.4 604.4Z M467.2 661.6 463.9 661.5 460.7 659.2 458.3 655.6 455.7 649.1 452.8 655.4 450.9 657.7 448.7 657.6 446.6 654.9 444.9 647.1 445.1 636.4 446.8 626.1 448.0 623.1 449.4 621.7 451.2 622.5 452.6 625.4 455.9 640.6 459.9 632.1 461.9 629.7 463.9 628.5 466.4 628.2 468.7 629.0 471.0 631.1 472.9 634.4 474.9 642.4 475.1 647.1 474.5 651.4 473.4 655.1 471.7 658.3 469.4 660.6 467.2 661.6Z M449.4 605.1 445.9 604.4 444.6 602.4 445.8 599.6 448.9 597.0 453.7 594.7 459.9 593.1 464.2 592.8 466.7 593.9 467.0 595.1 466.3 596.6 462.2 600.2 454.7 604.0 449.4 605.1Z M467.2 663.1 464.2 663.1 461.4 661.6 455.7 654.2 452.2 659.0 450.2 660.2 447.9 659.4 445.8 655.9 444.1 647.1 444.3 634.6 446.2 623.4 447.7 619.8 449.2 618.2 450.9 618.5 452.5 620.9 456.2 634.2 457.2 633.8 461.7 628.1 463.7 626.9 465.7 626.4 467.9 626.9 470.2 628.3 472.1 630.6 473.8 633.9 475.8 642.9 475.9 647.9 475.3 652.1 474.0 656.1 472.1 659.6 469.7 662.0 467.2 663.1Z M450.4 605.6 446.2 605.4 444.7 604.5 443.9 603.4 444.5 600.4 447.7 597.3 452.4 594.8 459.4 592.7 464.9 592.2 467.9 593.4 468.2 594.6 467.5 596.1 463.7 599.8 456.4 603.7 450.4 605.6Z M467.2 664.6 464.7 664.7 461.9 663.6 455.9 657.6 454.9 658.0 451.4 662.1 448.9 662.4 446.9 660.6 445.1 657.1 443.2 647.1 443.6 632.9 445.8 620.4 447.4 616.3 449.2 614.5 450.9 614.8 452.7 617.2 456.7 630.1 457.7 630.1 462.9 625.5 466.9 624.9 469.2 625.8 471.4 627.7 474.9 633.9 476.1 638.4 476.8 643.6 476.7 648.4 476.0 653.1 474.6 657.4 472.5 660.9 469.9 663.4 467.2 664.6Z M450.4 606.4 445.7 606.0 444.1 605.1 443.1 603.9 443.5 600.9 446.9 597.2 451.9 594.5 460.4 592.0 466.2 591.6 469.0 592.9 469.4 594.1 468.8 595.6 464.9 599.5 458.4 603.3 450.4 606.4Z M467.2 666.1 464.9 666.2 462.4 665.5 455.9 660.4 451.7 664.3 448.9 664.7 446.4 662.6 444.3 658.1 443.0 652.9 442.4 646.4 443.0 629.9 445.5 616.6 447.3 612.6 449.2 610.8 451.2 611.3 452.9 613.7 457.2 626.7 458.4 626.8 463.9 623.3 466.2 623.1 468.2 623.5 470.4 624.9 472.6 627.1 475.8 633.6 477.1 638.6 477.7 644.4 477.5 649.6 476.6 654.6 475.0 658.9 472.8 662.4 470.2 664.9 467.2 666.1Z M467.2 667.6 464.9 667.7 462.4 667.0 456.4 663.0 455.2 663.4 450.9 666.9 449.2 667.1 447.4 666.1 445.1 663.1 443.3 658.4 442.0 652.4 441.5 645.6 441.8 634.4 442.8 623.9 444.5 615.6 447.0 608.4 442.6 604.9 442.1 603.4 442.5 601.4 445.4 597.8 450.2 594.8 458.4 592.0 465.2 591.0 468.4 591.3 470.2 592.3 470.5 593.9 469.4 596.1 464.9 600.1 453.6 606.1 452.1 607.9 454.3 612.9 457.7 623.6 458.9 624.1 462.7 622.1 465.2 621.4 467.4 621.6 469.7 622.6 472.2 624.7 474.3 627.6 477.3 635.4 478.3 640.9 478.6 646.6 478.1 651.9 477.0 656.4 475.3 660.6 472.9 664.1 470.2 666.4 467.2 667.6Z M450.2 669.4 447.4 668.5 444.7 665.1 442.6 659.6 441.2 652.9 440.7 643.9 441.3 629.6 442.5 619.4 444.9 608.9 444.5 607.9 441.6 604.9 441.4 602.4 442.5 600.1 444.7 597.7 450.7 594.0 461.9 590.8 469.2 590.6 470.9 591.4 471.7 592.6 471.4 594.4 470.1 596.4 465.2 600.5 455.4 605.9 454.4 606.9 454.2 607.9 457.4 619.2 458.4 621.1 459.7 621.5 464.9 619.8 468.4 620.2 472.3 622.9 475.6 627.6 477.8 633.6 479.2 641.1 479.4 648.6 478.3 655.1 476.9 659.6 474.9 663.4 472.4 666.3 469.7 668.3 466.9 669.2 463.9 669.0 456.4 665.4 452.2 668.6 450.2 669.4Z" stroke="#6e6e6e" stroke-width="0.55" fill="none" stroke-linejoin="round"/>
<ellipse cx="452.30" cy="604.30" rx="3.5" ry="1.6" fill="#fff"/>
<path d="M470.8 591.0 L483.8 588.6 L501.8 587.8" stroke="#666" stroke-width="0.9" fill="none"/>
<rect x="433.00" y="586.30" width="71.40" height="31.00" fill="none" stroke="#555" stroke-width="0.9"/>
<text x="501.3" y="615.0" font-size="8.2" fill="#1a1a1a" text-anchor="end" font-weight="bold">31,9</text>
</g>
<rect x="413.80" y="586.00" width="93.30" height="84.50" fill="none" stroke="#8a8a8a" stroke-width="0.8"/>
<line x1="411.60" y1="595.00" x2="413.80" y2="595.00" stroke="#555" stroke-width="0.7"/>
<text x="411.20" y="596.90" font-size="5.6" fill="#333" text-anchor="end">10<tspan font-size="4.03" dy="-2.2">5</tspan></text>
<line x1="411.60" y1="614.50" x2="413.80" y2="614.50" stroke="#555" stroke-width="0.7"/>
<text x="411.20" y="616.40" font-size="5.6" fill="#333" text-anchor="end">10<tspan font-size="4.03" dy="-2.2">4</tspan></text>
<line x1="411.60" y1="637.70" x2="413.80" y2="637.70" stroke="#555" stroke-width="0.7"/>
<text x="411.20" y="639.60" font-size="5.6" fill="#333" text-anchor="end">10<tspan font-size="4.03" dy="-2.2">3</tspan></text>
<line x1="411.60" y1="651.50" x2="413.80" y2="651.50" stroke="#555" stroke-width="0.7"/>
<text x="409.60" y="653.40" font-size="5.6" fill="#333" text-anchor="end">0</text>
<line x1="411.60" y1="665.30" x2="413.80" y2="665.30" stroke="#555" stroke-width="0.7"/>
<text x="411.20" y="667.20" font-size="5.6" fill="#333" text-anchor="end">−10<tspan font-size="4.03" dy="-2.2">3</tspan></text>
<line x1="412.70" y1="600.85" x2="413.80" y2="600.85" stroke="#777" stroke-width="0.5"/>
<line x1="412.70" y1="604.75" x2="413.80" y2="604.75" stroke="#777" stroke-width="0.5"/>
<line x1="412.70" y1="608.65" x2="413.80" y2="608.65" stroke="#777" stroke-width="0.5"/>
<line x1="412.70" y1="621.46" x2="413.80" y2="621.46" stroke="#777" stroke-width="0.5"/>
<line x1="412.70" y1="626.10" x2="413.80" y2="626.10" stroke="#777" stroke-width="0.5"/>
<line x1="412.70" y1="630.74" x2="413.80" y2="630.74" stroke="#777" stroke-width="0.5"/>
<line x1="412.70" y1="641.84" x2="413.80" y2="641.84" stroke="#777" stroke-width="0.5"/>
<line x1="412.70" y1="644.60" x2="413.80" y2="644.60" stroke="#777" stroke-width="0.5"/>
<line x1="412.70" y1="647.36" x2="413.80" y2="647.36" stroke="#777" stroke-width="0.5"/>
<line x1="412.70" y1="655.64" x2="413.80" y2="655.64" stroke="#777" stroke-width="0.5"/>
<line x1="412.70" y1="658.40" x2="413.80" y2="658.40" stroke="#777" stroke-width="0.5"/>
<line x1="412.70" y1="661.16" x2="413.80" y2="661.16" stroke="#777" stroke-width="0.5"/>
<line x1="420.60" y1="670.50" x2="420.60" y2="672.70" stroke="#555" stroke-width="0.7"/>
<text x="420.80" y="681.10" font-size="5.6" fill="#333" text-anchor="middle">−10<tspan font-size="4.03" dy="-2.2">3</tspan></text>
<line x1="434.50" y1="670.50" x2="434.50" y2="672.70" stroke="#555" stroke-width="0.7"/>
<text x="434.50" y="681.10" font-size="5.6" fill="#333" text-anchor="middle">0</text>
<line x1="449.60" y1="670.50" x2="449.60" y2="672.70" stroke="#555" stroke-width="0.7"/>
<text x="449.80" y="681.10" font-size="5.6" fill="#333" text-anchor="middle">10<tspan font-size="4.03" dy="-2.2">3</tspan></text>
<line x1="475.10" y1="670.50" x2="475.10" y2="672.70" stroke="#555" stroke-width="0.7"/>
<text x="475.30" y="681.10" font-size="5.6" fill="#333" text-anchor="middle">10<tspan font-size="4.03" dy="-2.2">4</tspan></text>
<line x1="496.30" y1="670.50" x2="496.30" y2="672.70" stroke="#555" stroke-width="0.7"/>
<text x="496.50" y="681.10" font-size="5.6" fill="#333" text-anchor="middle">10<tspan font-size="4.03" dy="-2.2">5</tspan></text>
<line x1="424.77" y1="670.50" x2="424.77" y2="671.60" stroke="#777" stroke-width="0.5"/>
<line x1="427.55" y1="670.50" x2="427.55" y2="671.60" stroke="#777" stroke-width="0.5"/>
<line x1="430.33" y1="670.50" x2="430.33" y2="671.60" stroke="#777" stroke-width="0.5"/>
<line x1="439.03" y1="670.50" x2="439.03" y2="671.60" stroke="#777" stroke-width="0.5"/>
<line x1="442.05" y1="670.50" x2="442.05" y2="671.60" stroke="#777" stroke-width="0.5"/>
<line x1="445.07" y1="670.50" x2="445.07" y2="671.60" stroke="#777" stroke-width="0.5"/>
<line x1="457.25" y1="670.50" x2="457.25" y2="671.60" stroke="#777" stroke-width="0.5"/>
<line x1="462.35" y1="670.50" x2="462.35" y2="671.60" stroke="#777" stroke-width="0.5"/>
<line x1="467.45" y1="670.50" x2="467.45" y2="671.60" stroke="#777" stroke-width="0.5"/>
<line x1="481.46" y1="670.50" x2="481.46" y2="671.60" stroke="#777" stroke-width="0.5"/>
<line x1="485.70" y1="670.50" x2="485.70" y2="671.60" stroke="#777" stroke-width="0.5"/>
<line x1="489.94" y1="670.50" x2="489.94" y2="671.60" stroke="#777" stroke-width="0.5"/>
<rect x="412.20" y="649.90" width="1.4" height="3.2" fill="#000"/>
<rect x="432.10" y="670.80" width="4.8" height="1.4" fill="#000"/>
<clipPath id="c11"><rect x="297.40" y="717.50" width="93.30" height="85.80"/></clipPath>
<g clip-path="url(#c11)">
<path d="M352.9 791.4h0.7M352.8 737.4h0.7M340.5 782.4h0.7M310.7 733.4h0.7M360.2 759.1h0.7M335.3 734.4h0.7M345.6 754.6h0.7M338.4 753.1h0.7M335.2 790.0h0.7M309.5 759.7h0.7M331.2 770.2h0.7M343.6 764.1h0.7M355.9 761.2h0.7M363.3 732.5h0.7M362.6 753.6h0.7M353.5 785.5h0.7M365.4 793.2h0.7M311.4 740.3h0.7M362.8 737.1h0.7M344.5 788.2h0.7M361.4 740.2h0.7M354.7 769.1h0.7M348.5 755.7h0.7M349.7 730.5h0.7M349.4 740.1h0.7M353.7 765.2h0.7M333.1 768.5h0.7M353.1 756.7h0.7M359.0 751.9h0.7M342.9 758.9h0.7M346.5 778.1h0.7M309.4 751.9h0.7M315.2 748.0h0.7M351.1 757.1h0.7M362.4 762.7h0.7M303.0 736.6h0.7M371.6 784.8h0.7M348.2 728.7h0.7M381.3 718.7h0.7M351.4 755.5h0.7M350.2 735.2h0.7M339.8 775.5h0.7M338.3 731.2h0.7M345.9 757.6h0.7M343.9 741.7h0.7M354.7 753.7h0.7M327.2 759.9h0.7M345.5 758.6h0.7M318.7 742.1h0.7M353.4 772.8h0.7M351.7 759.0h0.7M357.9 774.1h0.7M374.7 765.0h0.7M337.5 765.3h0.7M315.5 757.9h0.7M339.8 756.6h0.7M354.9 758.0h0.7M323.8 750.7h0.7M334.3 756.9h0.7M353.0 739.9h0.7M359.0 780.8h0.7M342.9 770.5h0.7M323.6 747.6h0.7M362.7 725.6h0.7M339.2 741.3h0.7M365.7 778.0h0.7M337.3 759.6h0.7M305.5 772.7h0.7M352.9 781.3h0.7M309.1 763.7h0.7M336.2 755.9h0.7M360.2 760.9h0.7M339.0 765.4h0.7M345.6 745.7h0.7M331.0 760.1h0.7M349.8 790.5h0.7M340.1 786.3h0.7M352.9 778.6h0.7M332.8 741.7h0.7M342.4 773.6h0.7M350.2 771.0h0.7M352.5 776.0h0.7M350.6 748.0h0.7M355.6 759.1h0.7M375.4 754.6h0.7M349.1 752.0h0.7M365.9 773.2h0.7M357.8 735.1h0.7M323.1 762.3h0.7M359.0 784.1h0.7M318.7 754.4h0.7M320.4 740.2h0.7M343.9 774.8h0.7M339.0 744.6h0.7M342.3 780.1h0.7M386.1 729.7h0.7M343.0 749.8h0.7M366.1 765.3h0.7M372.1 739.3h0.7M347.6 749.3h0.7M329.9 754.7h0.7M328.4 796.6h0.7M354.1 739.2h0.7M337.7 788.7h0.7M339.8 770.0h0.7M356.7 777.2h0.7M357.6 753.7h0.7M337.9 725.5h0.7M346.6 760.0h0.7M341.6 754.9h0.7M328.0 796.6h0.7M339.4 738.9h0.7M337.8 754.5h0.7M355.7 746.4h0.7M344.5 775.8h0.7M359.7 745.3h0.7M345.9 791.2h0.7M369.2 773.2h0.7M347.6 774.9h0.7M353.8 747.7h0.7M331.4 767.0h0.7M353.6 779.3h0.7M339.7 782.8h0.7M341.6 780.2h0.7M356.2 747.2h0.7M332.3 755.4h0.7M343.2 774.5h0.7M336.4 731.0h0.7M347.2 792.2h0.7M373.7 746.4h0.7M343.1 763.3h0.7M336.8 753.2h0.7M343.1 738.7h0.7M337.6 748.8h0.7M351.2 736.3h0.7M349.1 739.9h0.7M334.5 737.3h0.7M369.0 772.2h0.7M343.7 758.8h0.7M352.1 765.6h0.7M357.0 785.0h0.7M300.1 747.6h0.7M358.3 751.1h0.7M344.9 784.4h0.7M350.5 789.6h0.7M346.7 761.8h0.7M330.4 721.8h0.7M340.7 758.6h0.7M341.9 733.3h0.7M357.9 758.8h0.7M347.6 743.5h0.7M373.8 784.1h0.7M352.3 755.4h0.7M351.5 788.1h0.7M340.6 724.9h0.7M361.4 766.5h0.7M368.8 742.0h0.7M321.5 760.2h0.7M354.0 778.2h0.7M320.4 749.4h0.7M343.2 733.2h0.7M344.8 771.9h0.7M346.9 731.6h0.7M353.0 773.0h0.7M356.0 771.8h0.7M321.0 765.8h0.7M357.1 750.8h0.7M346.6 743.6h0.7M367.2 752.2h0.7M332.3 760.9h0.7M349.2 769.6h0.7M334.1 745.4h0.7M353.6 797.8h0.7M354.9 733.0h0.7M350.2 743.5h0.7M317.8 745.2h0.7M338.2 765.1h0.7M368.6 778.1h0.7M360.4 749.8h0.7M350.0 756.8h0.7M370.0 745.8h0.7M338.6 784.5h0.7M356.7 749.5h0.7M350.1 760.3h0.7M350.5 772.0h0.7M353.3 754.3h0.7M339.4 726.4h0.7M340.5 778.2h0.7M351.1 745.8h0.7M343.6 742.1h0.7M352.1 793.8h0.7M376.5 779.2h0.7M360.0 753.5h0.7M327.6 757.9h0.7" stroke="#aaa" stroke-width="0.7" fill="none"/>
<path d="M343.0 756.2h0.7M344.7 792.3h0.7M352.4 776.5h0.7M366.7 769.6h0.7M341.5 770.2h0.7M338.7 763.3h0.7M372.0 794.9h0.7M334.4 795.9h0.7M310.6 752.1h0.7M332.3 729.8h0.7M346.4 742.1h0.7M362.9 745.5h0.7M304.5 756.8h0.7M365.0 779.0h0.7M313.4 778.6h0.7M336.6 762.3h0.7M320.8 794.5h0.7M321.3 740.3h0.7M308.5 756.9h0.7M360.5 788.6h0.7M360.2 779.4h0.7M339.3 769.3h0.7M370.3 780.0h0.7M322.0 731.4h0.7M363.8 781.3h0.7M311.9 766.2h0.7M315.9 791.1h0.7M311.4 742.9h0.7M345.8 755.7h0.7M326.0 797.0h0.7M351.7 749.9h0.7M361.0 779.6h0.7M318.7 794.4h0.7M312.9 769.2h0.7M336.5 765.9h0.7M339.1 766.4h0.7M352.2 745.5h0.7M336.9 765.9h0.7M366.0 781.8h0.7M312.8 764.3h0.7M351.1 750.7h0.7M312.9 755.7h0.7M324.3 739.9h0.7M336.5 729.4h0.7M333.1 795.0h0.7M336.8 754.4h0.7M364.5 782.3h0.7M354.9 778.7h0.7M318.2 746.9h0.7M344.5 749.3h0.7M312.5 777.6h0.7M315.4 764.2h0.7M352.0 778.0h0.7M313.4 773.3h0.7M309.3 762.0h0.7M351.8 776.6h0.7M311.8 760.1h0.7M339.1 738.3h0.7M316.1 767.6h0.7M323.2 796.0h0.7M372.4 783.5h0.7M349.1 746.3h0.7M339.3 765.1h0.7M340.4 740.2h0.7M357.7 779.1h0.7M313.9 754.3h0.7M342.7 774.1h0.7M321.1 797.2h0.7M342.7 775.6h0.7M369.3 787.9h0.7M348.2 729.7h0.7M312.7 750.3h0.7M348.3 773.7h0.7M346.0 743.1h0.7M338.7 769.9h0.7M312.5 752.0h0.7M313.6 761.7h0.7M358.5 739.3h0.7M364.2 782.0h0.7M315.9 745.9h0.7M356.4 751.2h0.7M350.3 742.2h0.7M317.8 745.3h0.7M336.8 741.7h0.7M319.9 799.1h0.7M361.3 788.5h0.7M368.2 784.5h0.7M321.8 739.6h0.7M349.5 745.5h0.7M316.0 794.3h0.7M347.9 793.2h0.7M321.2 742.9h0.7M340.8 774.6h0.7M357.0 778.9h0.7M308.2 757.2h0.7M310.6 751.3h0.7M346.6 745.5h0.7M366.7 781.4h0.7M314.4 751.0h0.7M366.7 782.1h0.7M344.7 735.0h0.7M314.3 768.3h0.7M361.1 792.6h0.7M338.8 741.0h0.7M352.2 728.7h0.7M364.1 782.7h0.7M349.3 743.1h0.7M342.3 771.8h0.7M324.5 731.4h0.7M310.6 764.2h0.7M335.8 756.9h0.7M349.4 734.2h0.7M316.6 748.4h0.7M309.9 760.3h0.7M341.0 766.0h0.7M346.8 750.3h0.7M356.7 777.9h0.7M370.2 784.2h0.7M326.1 740.3h0.7M354.1 793.8h0.7M338.2 753.0h0.7M342.3 775.4h0.7M314.9 794.3h0.7M360.5 780.0h0.7M335.8 757.9h0.7M370.8 784.7h0.7M310.0 751.0h0.7M326.5 735.8h0.7M312.3 779.2h0.7M337.6 755.1h0.7M355.8 791.1h0.7M351.8 735.8h0.7M370.6 781.8h0.7M313.2 759.9h0.7M325.0 736.6h0.7M336.8 756.1h0.7M383.1 788.4h0.7M344.1 792.9h0.7M350.2 776.8h0.7M363.5 781.3h0.7M340.4 792.8h0.7M317.5 795.3h0.7M338.9 765.9h0.7M334.4 736.4h0.7M353.9 777.8h0.7M329.4 737.6h0.7M338.3 738.5h0.7M315.0 764.9h0.7M341.7 775.7h0.7M340.2 739.8h0.7M354.8 777.5h0.7M364.7 783.7h0.7M353.8 794.5h0.7M313.2 759.9h0.7M331.4 796.6h0.7M354.1 743.5h0.7M339.6 772.7h0.7M330.6 744.7h0.7M309.8 753.7h0.7M346.5 745.4h0.7M324.5 798.6h0.7M333.1 796.0h0.7M339.5 772.9h0.7M340.6 739.1h0.7M323.9 744.2h0.7M334.2 742.4h0.7M347.9 748.4h0.7M337.4 759.3h0.7M339.8 755.2h0.7M340.8 759.6h0.7M361.6 788.2h0.7M335.9 758.0h0.7M316.0 766.5h0.7M313.4 762.7h0.7M347.3 745.5h0.7M314.1 774.6h0.7M311.6 742.7h0.7M334.2 740.4h0.7M340.1 773.4h0.7M363.0 780.4h0.7M318.6 740.3h0.7M312.6 764.5h0.7M340.6 740.7h0.7M345.2 752.0h0.7M358.5 777.9h0.7M377.9 778.4h0.7M337.8 757.4h0.7M364.3 789.8h0.7M364.1 791.4h0.7M350.2 743.7h0.7M321.3 795.3h0.7M332.1 745.0h0.7M334.8 794.2h0.7M340.6 775.2h0.7M321.1 795.5h0.7M307.9 751.6h0.7M354.9 790.7h0.7M352.0 751.9h0.7M377.5 780.3h0.7M364.5 784.0h0.7M364.2 789.5h0.7M366.6 776.4h0.7M336.8 758.7h0.7M330.0 723.0h0.7M370.6 782.2h0.7M313.7 773.1h0.7M342.4 740.5h0.7M363.6 780.5h0.7M336.3 754.7h0.7M367.4 777.9h0.7M313.8 760.0h0.7M309.9 787.8h0.7M362.9 782.7h0.7M318.0 792.9h0.7M358.7 792.7h0.7M346.6 724.5h0.7M313.3 775.9h0.7M320.0 797.8h0.7M313.2 735.1h0.7M311.1 785.1h0.7M318.1 747.1h0.7M338.1 771.4h0.7M328.4 739.4h0.7M351.2 777.7h0.7M315.9 791.4h0.7M365.3 784.1h0.7M361.4 781.3h0.7M354.0 792.9h0.7M340.6 772.1h0.7M330.1 744.1h0.7M307.2 767.6h0.7M371.3 789.2h0.7M315.0 749.9h0.7M337.2 756.8h0.7M359.4 789.2h0.7M340.2 738.2h0.7M335.9 737.9h0.7M299.8 752.4h0.7M316.0 791.1h0.7M333.9 740.7h0.7M314.8 770.2h0.7M366.4 778.8h0.7M335.1 737.8h0.7M315.7 790.9h0.7M366.5 786.8h0.7M361.0 735.4h0.7M314.8 761.4h0.7M344.7 757.1h0.7M364.6 784.0h0.7M339.4 735.7h0.7M307.6 752.4h0.7M343.7 737.6h0.7M315.2 765.9h0.7M342.0 738.9h0.7M364.3 788.2h0.7M344.2 750.8h0.7M333.2 727.6h0.7M347.1 748.6h0.7M314.8 768.4h0.7M318.8 743.9h0.7M328.9 741.5h0.7M314.6 786.1h0.7M343.7 772.4h0.7M344.0 736.2h0.7M308.8 780.2h0.7M338.0 739.4h0.7M366.7 787.4h0.7M365.3 789.6h0.7M346.5 747.0h0.7M347.9 731.8h0.7M314.9 768.9h0.7M339.5 771.3h0.7M311.6 750.9h0.7M351.0 755.1h0.7M352.8 735.5h0.7M330.3 795.9h0.7M343.7 739.9h0.7M306.2 760.2h0.7M347.5 745.3h0.7M350.9 776.0h0.7M322.3 744.4h0.7M324.7 738.2h0.7M338.8 765.1h0.7M313.2 745.3h0.7M352.5 778.0h0.7M348.7 748.2h0.7M373.9 793.2h0.7M314.5 773.1h0.7M314.8 764.5h0.7M309.9 762.3h0.7M339.2 772.6h0.7M313.4 769.5h0.7M337.2 767.2h0.7M348.0 743.1h0.7M368.1 785.9h0.7M336.7 754.6h0.7M346.7 744.6h0.7M342.8 775.6h0.7M350.2 776.9h0.7M339.9 753.3h0.7" stroke="#aaa" stroke-width="0.7" fill="none"/>
<path d="M326.8 782.9 325.9 782.6 326.3 781.4 326.8 781.9 326.8 782.9Z M326.8 783.9 325.8 783.8 325.1 782.6 325.5 780.6 326.3 779.8 327.2 780.4 327.7 781.9 327.6 783.1 326.8 783.9Z M327.3 784.6 325.5 784.6 324.4 782.9 324.9 779.6 326.3 778.2 327.7 779.1 328.5 781.4 328.5 783.4 327.3 784.6Z M327.0 785.6 324.8 785.1 323.6 782.9 324.2 778.6 325.2 777.1 326.3 776.6 327.5 777.0 328.4 778.1 329.6 782.9 329.4 784.1 327.0 785.6Z M330.5 785.4 329.9 784.9 330.3 784.2 331.4 784.9 330.5 785.4Z M327.5 786.4 324.5 786.0 322.8 783.1 323.6 777.6 324.8 775.8 326.3 775.0 327.8 775.5 328.9 776.9 331.0 783.1 333.6 784.9 332.0 785.8 327.5 786.4Z M327.3 787.4 325.3 787.3 323.8 786.5 322.5 784.9 322.0 782.9 323.1 776.4 324.5 774.2 326.3 773.4 327.8 773.8 329.3 775.4 331.8 782.4 336.2 784.9 334.5 786.0 327.3 787.4Z M328.5 788.1 325.8 788.3 323.8 787.5 322.2 785.9 321.3 783.6 321.4 779.6 322.4 775.6 324.0 772.9 326.0 771.8 328.0 772.2 329.6 773.9 332.8 781.8 337.9 783.9 338.9 784.9 338.5 785.6 337.0 786.3 328.5 788.1Z M327.8 789.1 325.0 789.0 322.9 787.9 321.1 785.6 320.5 783.1 320.8 778.1 322.1 773.9 324.0 771.1 326.3 770.1 328.3 770.7 330.1 772.6 333.6 781.1 340.0 783.4 341.6 784.9 341.0 785.9 339.0 786.8 327.8 789.1Z M324.8 756.7 323.8 756.4 324.0 755.4 325.0 755.6 324.8 756.7Z M329.0 789.9 325.5 790.0 323.0 789.0 320.9 786.9 319.8 783.6 320.0 778.4 321.3 773.4 323.5 769.9 326.0 768.5 328.3 769.0 330.5 771.1 334.4 780.4 342.3 783.0 344.4 784.9 343.6 786.1 341.5 787.1 329.0 789.9Z M324.5 758.4 323.0 757.8 322.3 756.1 322.8 754.6 324.3 753.7 325.8 754.3 326.5 755.9 326.0 757.6 324.5 758.4Z M328.0 790.9 324.8 790.7 322.0 789.3 319.9 786.6 318.9 783.4 319.4 777.1 320.9 771.9 323.3 768.2 326.0 766.8 328.5 767.4 330.8 769.6 335.3 779.8 344.5 782.5 346.4 783.6 347.2 784.9 346.5 786.1 343.8 787.5 328.0 790.9Z M325.3 760.1 322.5 759.4 321.0 756.9 321.6 753.9 323.8 752.3 326.4 752.9 327.9 755.4 327.3 758.4 325.3 760.1Z M329.0 791.6 325.0 791.7 321.8 790.2 319.4 787.4 318.2 783.6 318.6 776.9 320.2 771.1 322.8 766.8 325.8 764.9 328.5 765.6 331.2 768.1 333.1 771.6 335.0 777.6 336.0 779.0 346.8 782.1 349.0 783.4 350.0 784.9 349.1 786.4 346.0 787.9 334.5 790.0 329.0 791.6Z M328.0 792.6 324.3 792.4 321.0 790.7 318.6 787.6 317.4 783.6 317.6 778.1 318.6 772.9 322.9 763.1 320.0 758.4 319.7 754.9 321.3 752.0 324.0 750.7 326.8 751.3 328.8 753.6 329.3 756.9 328.1 762.1 332.8 768.6 336.3 777.9 338.3 779.0 349.3 781.7 351.8 783.2 352.7 784.9 351.7 786.6 348.3 788.3 335.2 790.6 328.0 792.6Z M339.8 747.6 338.5 747.8 337.8 746.9 338.5 745.7 340.0 745.2 340.9 746.1 339.8 747.6Z M329.0 793.4 324.5 793.3 320.8 791.5 318.0 788.1 316.7 783.9 317.4 774.4 320.6 763.9 318.4 758.1 318.3 754.6 320.3 751.0 323.8 749.2 327.5 750.0 330.1 752.9 330.8 755.9 330.6 762.1 334.0 768.6 337.1 777.1 339.3 778.4 351.5 781.3 354.5 783.1 355.5 784.9 354.3 786.9 350.3 788.7 335.3 791.4 329.0 793.4Z M338.8 749.4 336.2 748.6 335.8 747.4 336.2 746.1 338.8 744.0 341.8 744.0 342.7 745.4 342.3 747.1 340.8 748.7 338.8 749.4Z M328.0 794.4 323.5 794.0 319.8 791.8 317.1 788.1 315.9 783.6 316.4 775.4 318.9 764.6 317.0 757.9 317.1 753.9 318.0 751.6 319.6 749.6 321.8 748.2 324.0 747.7 328.3 748.6 331.4 751.6 332.3 754.9 332.4 762.1 337.8 776.4 340.0 777.6 348.5 779.2 353.5 780.7 356.9 782.6 358.3 784.9 356.9 787.1 352.3 789.2 336.3 791.9 328.0 794.4Z M328.8 795.2 324.5 795.1 320.8 793.6 317.6 790.6 315.6 786.6 315.1 783.4 315.2 778.4 317.5 765.1 315.6 757.9 315.8 753.4 317.8 749.4 321.3 746.8 325.8 746.2 332.3 747.9 337.3 743.2 339.8 742.2 342.0 742.3 343.5 743.1 344.4 744.4 344.4 746.1 343.6 747.9 340.3 750.5 335.0 751.7 334.1 753.6 333.9 762.1 337.9 774.6 338.8 775.9 340.3 776.7 350.8 778.7 356.8 780.7 360.1 782.9 361.1 785.4 359.1 787.6 354.3 789.7 347.5 791.2 336.7 792.6 328.8 795.2Z M327.8 796.1 323.5 795.8 319.8 793.9 316.8 790.9 314.9 786.9 314.3 783.6 314.4 779.1 316.1 765.9 314.2 757.6 314.6 752.6 317.0 748.1 321.0 745.3 324.8 744.5 331.3 745.1 338.0 741.3 340.5 740.7 343.0 740.9 344.8 741.7 345.9 743.1 346.3 745.1 345.8 747.1 342.8 750.6 336.8 753.9 335.4 757.6 335.5 763.1 338.8 774.1 339.8 775.4 341.3 776.1 352.0 778.0 359.0 780.3 363.0 782.9 363.8 784.4 363.8 785.6 361.3 788.1 356.0 790.2 349.0 791.7 337.0 793.3 327.8 796.1Z" stroke="#6e6e6e" stroke-width="0.55" fill="none" stroke-linejoin="round"/>
<ellipse cx="324.20" cy="755.80" rx="0.9" ry="1.2" fill="#fff"/>
</g>
<rect x="297.40" y="717.50" width="93.30" height="85.80" fill="none" stroke="#8a8a8a" stroke-width="0.8"/>
<line x1="295.20" y1="727.50" x2="297.40" y2="727.50" stroke="#555" stroke-width="0.7"/>
<text x="294.80" y="729.40" font-size="5.6" fill="#333" text-anchor="end">10<tspan font-size="4.03" dy="-2.2">5</tspan></text>
<line x1="295.20" y1="746.30" x2="297.40" y2="746.30" stroke="#555" stroke-width="0.7"/>
<text x="294.80" y="748.20" font-size="5.6" fill="#333" text-anchor="end">10<tspan font-size="4.03" dy="-2.2">4</tspan></text>
<line x1="295.20" y1="767.30" x2="297.40" y2="767.30" stroke="#555" stroke-width="0.7"/>
<text x="294.80" y="769.20" font-size="5.6" fill="#333" text-anchor="end">10<tspan font-size="4.03" dy="-2.2">3</tspan></text>
<line x1="295.20" y1="783.70" x2="297.40" y2="783.70" stroke="#555" stroke-width="0.7"/>
<text x="293.20" y="785.60" font-size="5.6" fill="#333" text-anchor="end">0</text>
<line x1="295.20" y1="797.50" x2="297.40" y2="797.50" stroke="#555" stroke-width="0.7"/>
<text x="294.80" y="799.40" font-size="5.6" fill="#333" text-anchor="end">−10<tspan font-size="4.03" dy="-2.2">3</tspan></text>
<line x1="296.30" y1="733.14" x2="297.40" y2="733.14" stroke="#777" stroke-width="0.5"/>
<line x1="296.30" y1="736.90" x2="297.40" y2="736.90" stroke="#777" stroke-width="0.5"/>
<line x1="296.30" y1="740.66" x2="297.40" y2="740.66" stroke="#777" stroke-width="0.5"/>
<line x1="296.30" y1="752.60" x2="297.40" y2="752.60" stroke="#777" stroke-width="0.5"/>
<line x1="296.30" y1="756.80" x2="297.40" y2="756.80" stroke="#777" stroke-width="0.5"/>
<line x1="296.30" y1="761.00" x2="297.40" y2="761.00" stroke="#777" stroke-width="0.5"/>
<line x1="296.30" y1="772.22" x2="297.40" y2="772.22" stroke="#777" stroke-width="0.5"/>
<line x1="296.30" y1="775.50" x2="297.40" y2="775.50" stroke="#777" stroke-width="0.5"/>
<line x1="296.30" y1="778.78" x2="297.40" y2="778.78" stroke="#777" stroke-width="0.5"/>
<line x1="296.30" y1="787.84" x2="297.40" y2="787.84" stroke="#777" stroke-width="0.5"/>
<line x1="296.30" y1="790.60" x2="297.40" y2="790.60" stroke="#777" stroke-width="0.5"/>
<line x1="296.30" y1="793.36" x2="297.40" y2="793.36" stroke="#777" stroke-width="0.5"/>
<line x1="304.20" y1="803.30" x2="304.20" y2="805.50" stroke="#555" stroke-width="0.7"/>
<text x="304.40" y="813.90" font-size="5.6" fill="#333" text-anchor="middle">−10<tspan font-size="4.03" dy="-2.2">3</tspan></text>
<line x1="318.10" y1="803.30" x2="318.10" y2="805.50" stroke="#555" stroke-width="0.7"/>
<text x="318.10" y="813.90" font-size="5.6" fill="#333" text-anchor="middle">0</text>
<line x1="333.20" y1="803.30" x2="333.20" y2="805.50" stroke="#555" stroke-width="0.7"/>
<text x="333.40" y="813.90" font-size="5.6" fill="#333" text-anchor="middle">10<tspan font-size="4.03" dy="-2.2">3</tspan></text>
<line x1="358.70" y1="803.30" x2="358.70" y2="805.50" stroke="#555" stroke-width="0.7"/>
<text x="358.90" y="813.90" font-size="5.6" fill="#333" text-anchor="middle">10<tspan font-size="4.03" dy="-2.2">4</tspan></text>
<line x1="379.90" y1="803.30" x2="379.90" y2="805.50" stroke="#555" stroke-width="0.7"/>
<text x="380.10" y="813.90" font-size="5.6" fill="#333" text-anchor="middle">10<tspan font-size="4.03" dy="-2.2">5</tspan></text>
<line x1="308.37" y1="803.30" x2="308.37" y2="804.40" stroke="#777" stroke-width="0.5"/>
<line x1="311.15" y1="803.30" x2="311.15" y2="804.40" stroke="#777" stroke-width="0.5"/>
<line x1="313.93" y1="803.30" x2="313.93" y2="804.40" stroke="#777" stroke-width="0.5"/>
<line x1="322.63" y1="803.30" x2="322.63" y2="804.40" stroke="#777" stroke-width="0.5"/>
<line x1="325.65" y1="803.30" x2="325.65" y2="804.40" stroke="#777" stroke-width="0.5"/>
<line x1="328.67" y1="803.30" x2="328.67" y2="804.40" stroke="#777" stroke-width="0.5"/>
<line x1="340.85" y1="803.30" x2="340.85" y2="804.40" stroke="#777" stroke-width="0.5"/>
<line x1="345.95" y1="803.30" x2="345.95" y2="804.40" stroke="#777" stroke-width="0.5"/>
<line x1="351.05" y1="803.30" x2="351.05" y2="804.40" stroke="#777" stroke-width="0.5"/>
<line x1="365.06" y1="803.30" x2="365.06" y2="804.40" stroke="#777" stroke-width="0.5"/>
<line x1="369.30" y1="803.30" x2="369.30" y2="804.40" stroke="#777" stroke-width="0.5"/>
<line x1="373.54" y1="803.30" x2="373.54" y2="804.40" stroke="#777" stroke-width="0.5"/>
<rect x="295.80" y="782.10" width="1.4" height="3.2" fill="#000"/>
<rect x="315.70" y="803.60" width="4.8" height="1.4" fill="#000"/>
<clipPath id="c12"><rect x="413.80" y="717.50" width="93.30" height="85.80"/></clipPath>
<g clip-path="url(#c12)">
<path d="M497.2 791.4h0.7M427.6 743.7h0.7M453.2 741.8h0.7M457.0 771.1h0.7M443.6 778.1h0.7M505.6 769.7h0.7M477.4 767.8h0.7M462.9 758.2h0.7M433.8 779.5h0.7M495.0 767.3h0.7M467.5 740.9h0.7M457.8 773.9h0.7M461.6 768.9h0.7M436.3 742.5h0.7M457.1 797.0h0.7M453.3 737.9h0.7M445.6 763.4h0.7M497.2 788.8h0.7M441.5 747.5h0.7M456.5 767.1h0.7M435.9 786.2h0.7M451.3 772.1h0.7M457.9 777.2h0.7M460.0 771.9h0.7M497.1 771.6h0.7M502.9 741.9h0.7M457.5 746.2h0.7M423.5 765.9h0.7M490.2 728.8h0.7M468.8 743.8h0.7M468.5 786.6h0.7M448.7 787.5h0.7M440.1 768.0h0.7M443.9 767.3h0.7M456.7 722.1h0.7M450.8 755.4h0.7M462.5 781.1h0.7M459.0 793.5h0.7M456.7 761.2h0.7M450.7 757.5h0.7M502.2 732.5h0.7M417.2 783.4h0.7M472.6 781.4h0.7M452.5 777.4h0.7M452.6 754.1h0.7M446.9 766.7h0.7M460.7 756.1h0.7M502.4 772.6h0.7M448.9 737.8h0.7M456.3 731.4h0.7M433.5 740.7h0.7M433.4 766.7h0.7M468.9 753.7h0.7M439.4 776.4h0.7M453.1 796.4h0.7M452.1 743.6h0.7M416.6 760.0h0.7M484.6 737.8h0.7M491.2 778.6h0.7M447.4 787.4h0.7M463.8 770.4h0.7M466.6 761.3h0.7M415.5 773.0h0.7M446.3 779.5h0.7M462.3 739.2h0.7M473.3 778.2h0.7M478.6 748.3h0.7M427.6 778.1h0.7M454.9 760.0h0.7M484.4 783.3h0.7M470.8 758.1h0.7M498.6 741.9h0.7M456.7 769.0h0.7M418.4 748.2h0.7M481.3 760.9h0.7M427.4 795.8h0.7M462.2 764.8h0.7M442.2 744.5h0.7M494.1 746.6h0.7M466.0 782.5h0.7M451.4 744.9h0.7M440.5 763.5h0.7M430.0 765.6h0.7M439.6 758.7h0.7M455.2 794.7h0.7M455.8 751.5h0.7M491.0 792.7h0.7M488.7 755.0h0.7M471.8 761.9h0.7M492.5 786.0h0.7M470.0 759.3h0.7M487.5 779.2h0.7M486.7 791.6h0.7M455.3 759.5h0.7M463.2 758.9h0.7M485.5 775.3h0.7M459.8 745.2h0.7M460.2 762.0h0.7M466.9 772.7h0.7M445.2 778.8h0.7M450.0 776.5h0.7M472.7 793.2h0.7M464.4 800.1h0.7M454.6 750.6h0.7M482.5 743.3h0.7M474.8 775.7h0.7M469.6 776.1h0.7M470.1 793.5h0.7M461.1 729.1h0.7M454.3 784.7h0.7M492.2 781.7h0.7M465.6 749.7h0.7M433.9 719.6h0.7M482.6 734.3h0.7M485.8 768.0h0.7M482.8 794.8h0.7M460.9 755.6h0.7M496.7 754.0h0.7M453.8 783.7h0.7M438.6 740.0h0.7M470.5 766.2h0.7M446.2 784.9h0.7M428.5 780.8h0.7M431.4 775.0h0.7M426.9 778.2h0.7M458.9 756.6h0.7M462.1 762.0h0.7M482.9 751.4h0.7M471.6 758.1h0.7M442.1 754.1h0.7M428.2 770.5h0.7M461.3 770.9h0.7M500.0 787.7h0.7M455.1 764.0h0.7M464.1 785.1h0.7M499.8 770.1h0.7M466.5 764.2h0.7M469.0 799.9h0.7M441.8 777.7h0.7M428.3 743.4h0.7M500.9 797.1h0.7M482.1 764.1h0.7M489.4 743.8h0.7M420.5 747.2h0.7M453.7 728.3h0.7M437.4 797.8h0.7M453.8 756.4h0.7M441.2 778.3h0.7M477.1 765.8h0.7M454.2 721.4h0.7M417.7 755.5h0.7M442.5 757.2h0.7M444.9 798.6h0.7M489.2 741.5h0.7M478.5 770.8h0.7M456.6 758.1h0.7M467.6 799.9h0.7M442.8 759.9h0.7M454.5 729.8h0.7M458.1 747.0h0.7M465.2 771.4h0.7M450.9 778.3h0.7M472.9 775.6h0.7M473.3 754.4h0.7M438.3 751.1h0.7M449.5 770.6h0.7M435.9 749.4h0.7M459.8 761.9h0.7M462.3 740.0h0.7M452.8 747.7h0.7M472.0 784.4h0.7M458.6 762.3h0.7M475.4 756.2h0.7M464.0 785.2h0.7M464.1 770.7h0.7M464.8 761.2h0.7M475.5 796.7h0.7M473.4 759.3h0.7M437.9 763.7h0.7M445.6 748.6h0.7M478.1 771.3h0.7M490.3 774.8h0.7M450.4 783.7h0.7M472.1 792.8h0.7M434.6 759.0h0.7M463.4 796.2h0.7M474.4 743.9h0.7M437.2 776.5h0.7M419.8 752.9h0.7M458.1 759.2h0.7M469.5 781.5h0.7M468.9 741.2h0.7M497.1 786.0h0.7M439.3 759.3h0.7M425.4 792.8h0.7M448.9 774.0h0.7M474.7 790.5h0.7M464.9 759.4h0.7M478.2 785.0h0.7M447.8 764.8h0.7M421.1 793.3h0.7M444.4 785.2h0.7M485.6 781.3h0.7M487.8 751.3h0.7M468.2 753.1h0.7M459.1 752.4h0.7M490.1 754.5h0.7M459.2 762.2h0.7M422.5 728.8h0.7M469.7 747.2h0.7M472.6 746.5h0.7M479.7 789.1h0.7M485.2 754.3h0.7M434.7 784.2h0.7M454.3 763.2h0.7M471.6 789.1h0.7M476.4 776.4h0.7M431.6 771.2h0.7M443.2 781.4h0.7M490.5 790.6h0.7M433.7 764.9h0.7M487.7 721.1h0.7M475.8 771.5h0.7M461.6 733.8h0.7M444.8 763.0h0.7M454.4 746.7h0.7M494.5 786.7h0.7M455.2 796.7h0.7M432.5 774.3h0.7M460.9 778.1h0.7M461.9 757.7h0.7M443.6 768.6h0.7M460.9 774.4h0.7M441.9 773.5h0.7M490.6 756.1h0.7M444.1 755.6h0.7M430.3 736.9h0.7M431.3 762.2h0.7M440.8 795.9h0.7M457.6 758.7h0.7M447.3 775.8h0.7M465.6 773.4h0.7M486.0 797.2h0.7M439.3 781.2h0.7M465.4 772.8h0.7M448.5 780.0h0.7M481.1 775.1h0.7M443.5 781.5h0.7M438.5 738.5h0.7M486.2 765.5h0.7M421.4 754.4h0.7M464.9 786.6h0.7M458.3 752.2h0.7M435.8 741.8h0.7M461.0 752.8h0.7M481.1 754.1h0.7M493.0 763.6h0.7M465.2 765.7h0.7M460.4 799.0h0.7M445.2 758.0h0.7M457.9 780.5h0.7M437.6 795.7h0.7M438.3 757.1h0.7M466.9 770.9h0.7M439.3 784.8h0.7M484.6 782.1h0.7M477.1 763.3h0.7M474.9 763.6h0.7M455.9 764.2h0.7M489.9 762.5h0.7M488.4 765.9h0.7M497.0 745.5h0.7M434.9 780.3h0.7M505.5 759.5h0.7M478.0 754.3h0.7M502.9 794.5h0.7M448.7 761.0h0.7M483.1 781.3h0.7M501.9 778.0h0.7M440.4 756.1h0.7M443.7 765.2h0.7M441.7 782.9h0.7M496.0 798.9h0.7M450.1 742.8h0.7M452.8 768.0h0.7M450.2 775.9h0.7M476.2 773.3h0.7M439.1 782.6h0.7M438.8 719.2h0.7M456.4 787.5h0.7M459.0 732.9h0.7M448.7 785.4h0.7M461.9 760.5h0.7M424.3 761.3h0.7M438.5 790.9h0.7M464.9 778.0h0.7M478.4 794.9h0.7M491.6 747.2h0.7M449.1 756.7h0.7M427.4 756.2h0.7M439.0 753.9h0.7M438.4 757.5h0.7M475.2 749.1h0.7M425.2 773.3h0.7M455.7 775.6h0.7M432.2 760.3h0.7M434.6 737.0h0.7M443.2 759.8h0.7M464.4 739.4h0.7M476.3 782.5h0.7M465.0 754.0h0.7M433.7 780.9h0.7M434.5 786.9h0.7M468.0 738.1h0.7M483.2 753.9h0.7M442.8 768.4h0.7M485.9 778.6h0.7M452.1 756.4h0.7M479.0 748.2h0.7M432.4 746.0h0.7M472.9 758.3h0.7M474.7 734.2h0.7M454.0 783.0h0.7M466.7 743.7h0.7M459.8 762.2h0.7M498.8 782.2h0.7M450.2 789.9h0.7M476.7 766.1h0.7M451.2 778.1h0.7M505.3 737.2h0.7M467.6 786.0h0.7M443.8 754.5h0.7M503.2 763.9h0.7M454.9 776.8h0.7M473.4 779.8h0.7M481.2 796.7h0.7M476.3 786.6h0.7M445.1 773.6h0.7M452.2 796.9h0.7M474.8 792.4h0.7M460.8 751.8h0.7M487.1 766.4h0.7M427.0 763.5h0.7M445.5 796.0h0.7M464.0 782.6h0.7M480.4 792.7h0.7M479.1 779.4h0.7M477.8 744.0h0.7M466.6 746.0h0.7M433.9 769.7h0.7M417.3 762.9h0.7M489.2 765.2h0.7M481.8 745.5h0.7M429.9 751.1h0.7M506.2 802.1h0.7M439.0 794.7h0.7M482.4 757.6h0.7M481.2 787.4h0.7M442.2 783.7h0.7M475.4 779.7h0.7M415.1 763.8h0.7M439.6 791.3h0.7M499.9 733.1h0.7M503.1 757.4h0.7M488.4 769.1h0.7M452.7 761.6h0.7M449.2 794.0h0.7M464.6 747.0h0.7M480.2 757.1h0.7M476.4 751.4h0.7M471.7 748.5h0.7M440.7 772.7h0.7M486.2 769.8h0.7M478.8 755.9h0.7M422.3 786.9h0.7M485.7 759.4h0.7M449.2 766.5h0.7M490.8 748.8h0.7M499.5 771.9h0.7M474.7 797.5h0.7M456.3 779.9h0.7M459.0 767.8h0.7M458.5 790.7h0.7M448.8 776.3h0.7M471.7 775.1h0.7M415.3 757.2h0.7M448.7 797.1h0.7M452.1 777.9h0.7M468.1 738.5h0.7M430.2 770.5h0.7M480.8 796.2h0.7M453.6 740.3h0.7M458.6 738.3h0.7M497.5 758.5h0.7M458.8 801.1h0.7M471.6 739.7h0.7M472.2 751.7h0.7M425.5 748.0h0.7M420.9 774.5h0.7M435.8 756.3h0.7M487.5 760.4h0.7M446.3 767.0h0.7M444.0 765.9h0.7M454.1 781.8h0.7M450.3 747.7h0.7M449.4 722.7h0.7M455.8 780.4h0.7M494.6 729.0h0.7M497.4 773.9h0.7M493.7 755.6h0.7M472.3 768.9h0.7M449.1 763.2h0.7M501.3 735.7h0.7M451.5 774.4h0.7M498.8 743.9h0.7M424.3 725.9h0.7M468.5 761.4h0.7M459.3 763.0h0.7M485.7 739.1h0.7M440.6 746.1h0.7M438.6 800.6h0.7M486.5 744.5h0.7M466.0 750.0h0.7M441.1 762.7h0.7M442.2 783.4h0.7M467.0 750.9h0.7M445.8 762.5h0.7M477.9 779.7h0.7M489.3 772.6h0.7M451.2 794.7h0.7M458.7 756.2h0.7M483.6 790.7h0.7M450.8 757.9h0.7M458.7 752.4h0.7M453.1 782.1h0.7M481.1 719.6h0.7M504.0 794.3h0.7M433.2 795.6h0.7M427.2 795.7h0.7M449.2 777.6h0.7M470.1 779.9h0.7M428.3 797.9h0.7M485.1 771.6h0.7M499.0 766.9h0.7M471.4 732.2h0.7M470.6 753.1h0.7M441.6 785.2h0.7M461.0 788.8h0.7M432.9 751.6h0.7M470.6 722.4h0.7M431.8 764.7h0.7M431.1 779.7h0.7M439.8 793.5h0.7M417.9 791.8h0.7M458.2 726.8h0.7M476.8 753.7h0.7M455.1 764.1h0.7M483.3 757.2h0.7M477.2 745.0h0.7M445.6 775.2h0.7M496.3 766.5h0.7M454.8 775.0h0.7M477.7 748.6h0.7M427.8 766.5h0.7M474.9 766.1h0.7M446.1 766.0h0.7M477.8 754.3h0.7M438.8 770.0h0.7M467.2 744.4h0.7M419.1 748.8h0.7M472.0 755.2h0.7M483.9 785.9h0.7M462.0 802.3h0.7M422.6 778.8h0.7M490.0 736.9h0.7M482.0 761.6h0.7M469.9 779.0h0.7M499.3 760.1h0.7M479.5 790.2h0.7M490.0 786.7h0.7M423.5 777.9h0.7M496.2 760.9h0.7M478.0 761.6h0.7M484.9 775.2h0.7M441.7 779.6h0.7M478.6 742.9h0.7M458.6 761.9h0.7M430.1 789.1h0.7M444.9 769.7h0.7M426.8 774.8h0.7M455.7 785.9h0.7M465.6 763.9h0.7M447.2 750.7h0.7M460.2 778.0h0.7M480.9 788.7h0.7M463.1 788.2h0.7M483.5 788.9h0.7M492.6 781.4h0.7M491.3 755.7h0.7M478.4 769.0h0.7M451.2 794.9h0.7M486.2 801.2h0.7M434.9 759.3h0.7M477.7 787.0h0.7M506.1 776.5h0.7M471.8 797.6h0.7M478.6 779.4h0.7M437.3 753.4h0.7M446.4 775.2h0.7M434.2 733.0h0.7M467.5 748.2h0.7M454.2 778.6h0.7M494.4 776.2h0.7M437.9 791.5h0.7M448.4 792.2h0.7M471.3 728.1h0.7M469.7 791.1h0.7M481.7 798.4h0.7M486.6 770.1h0.7M436.7 796.8h0.7M495.3 788.5h0.7M443.5 790.0h0.7M464.9 767.8h0.7M432.3 750.5h0.7M450.6 753.9h0.7M455.9 770.0h0.7M417.8 773.4h0.7M463.2 795.3h0.7M443.2 726.2h0.7M464.8 774.5h0.7M495.6 782.3h0.7M439.4 768.8h0.7M432.0 778.6h0.7M422.2 738.1h0.7M453.0 774.8h0.7M453.3 727.7h0.7M466.2 777.0h0.7M499.0 774.5h0.7M447.5 734.4h0.7M454.5 765.3h0.7M465.9 745.6h0.7M443.7 762.9h0.7M466.7 771.9h0.7M420.7 783.6h0.7M418.5 770.0h0.7M434.0 760.9h0.7M465.4 758.7h0.7M470.2 761.1h0.7M449.3 780.8h0.7M450.1 774.4h0.7M437.4 781.8h0.7M458.4 802.2h0.7M429.2 766.9h0.7M432.8 772.9h0.7M440.2 739.2h0.7M434.4 750.8h0.7M462.9 745.1h0.7M478.3 760.1h0.7M454.0 757.9h0.7M461.1 799.8h0.7M434.6 765.1h0.7M466.1 774.3h0.7M445.3 719.3h0.7M480.0 778.6h0.7M487.6 777.3h0.7M432.0 793.6h0.7M453.8 775.6h0.7M440.8 769.9h0.7M504.8 786.9h0.7M461.4 740.7h0.7M439.1 760.6h0.7M469.1 792.9h0.7M495.4 732.1h0.7M449.5 748.6h0.7M443.0 777.3h0.7M459.8 743.9h0.7M504.6 751.7h0.7M430.7 755.7h0.7M443.8 772.3h0.7M435.6 785.3h0.7M472.5 719.4h0.7M467.2 789.9h0.7M421.2 766.5h0.7M448.8 775.8h0.7M420.6 784.6h0.7M454.3 794.9h0.7M485.2 760.1h0.7M430.0 753.8h0.7M501.0 786.8h0.7M473.4 776.1h0.7M460.0 754.2h0.7M455.1 760.0h0.7M441.8 771.8h0.7M479.2 767.5h0.7M430.0 774.1h0.7M467.1 742.7h0.7M494.1 778.2h0.7M466.9 763.3h0.7M489.1 788.2h0.7M435.5 736.0h0.7M458.0 785.1h0.7M459.0 801.4h0.7M464.5 759.5h0.7M474.6 741.6h0.7M438.7 759.8h0.7M447.0 801.6h0.7M492.3 773.9h0.7M454.4 790.0h0.7M499.4 762.5h0.7M425.6 775.7h0.7M458.0 758.7h0.7M463.3 787.2h0.7M457.4 765.1h0.7M448.6 752.0h0.7M435.1 780.7h0.7M465.6 758.3h0.7M454.7 775.0h0.7M481.1 768.7h0.7M468.2 777.2h0.7M441.2 736.9h0.7M503.1 747.3h0.7M468.4 796.0h0.7" stroke="#aaa" stroke-width="0.7" fill="none"/>
<path d="M437.8 749.5h0.7M504.9 750.7h0.7M484.2 744.7h0.7M480.5 746.9h0.7M500.6 747.7h0.7M483.6 741.4h0.7M462.9 791.7h0.7M432.4 763.5h0.7M437.4 752.3h0.7M436.8 738.1h0.7M494.7 785.1h0.7M441.2 745.6h0.7M434.8 766.2h0.7M434.8 762.8h0.7M481.6 746.5h0.7M495.9 744.1h0.7M437.1 790.2h0.7M459.2 738.3h0.7M437.6 784.7h0.7M428.4 795.9h0.7M462.4 744.0h0.7M478.7 746.8h0.7M435.6 745.2h0.7M434.3 764.3h0.7M427.5 756.9h0.7M458.3 793.3h0.7M439.0 787.0h0.7M432.3 784.1h0.7M490.5 747.6h0.7M490.4 746.8h0.7M499.3 742.1h0.7M489.8 778.9h0.7M493.4 742.7h0.7M501.6 781.5h0.7M434.5 771.2h0.7M480.5 794.0h0.7M476.3 745.1h0.7M475.2 741.3h0.7M429.9 778.4h0.7M484.8 779.1h0.7M427.3 764.3h0.7M476.5 788.3h0.7M478.9 792.5h0.7M443.8 742.8h0.7M494.1 743.7h0.7M453.5 792.2h0.7M434.2 733.0h0.7M474.9 745.0h0.7M458.8 740.6h0.7M498.6 782.0h0.7M502.8 743.3h0.7M447.7 791.2h0.7M460.4 793.9h0.7M500.3 744.5h0.7M433.2 754.8h0.7M487.6 742.0h0.7M486.8 780.6h0.7M441.0 788.7h0.7M471.8 741.8h0.7M443.8 788.6h0.7M481.9 745.6h0.7M488.1 769.4h0.7M464.3 743.7h0.7M452.9 793.2h0.7M488.1 777.1h0.7M496.8 786.0h0.7M485.1 770.3h0.7M444.9 789.7h0.7M441.1 746.2h0.7M502.1 775.2h0.7M486.6 775.9h0.7M464.7 742.7h0.7M485.7 768.6h0.7M502.4 774.4h0.7M435.0 752.5h0.7M486.8 774.2h0.7M432.4 774.8h0.7M449.2 744.5h0.7M486.4 755.1h0.7M486.0 755.2h0.7M477.8 747.8h0.7M439.7 744.8h0.7M486.4 788.7h0.7M494.5 742.6h0.7M463.1 742.9h0.7M483.1 779.2h0.7M471.7 799.6h0.7M421.7 789.3h0.7M483.5 778.1h0.7M485.1 773.5h0.7M486.4 772.0h0.7M436.8 782.4h0.7M447.4 743.2h0.7M480.7 749.3h0.7M487.9 765.6h0.7M443.8 745.0h0.7M483.0 790.8h0.7M428.8 768.2h0.7M433.0 782.4h0.7M468.5 744.8h0.7M431.5 769.6h0.7M501.1 748.8h0.7M445.3 735.6h0.7M446.5 795.5h0.7M505.3 747.2h0.7M501.1 784.4h0.7M478.4 743.6h0.7M492.3 746.1h0.7M445.7 792.8h0.7M486.8 771.6h0.7M434.0 761.4h0.7M471.5 739.7h0.7M447.6 744.8h0.7M486.7 778.0h0.7M487.8 752.6h0.7M434.9 761.4h0.7M434.8 791.8h0.7M478.7 787.4h0.7M486.6 776.5h0.7M483.6 749.8h0.7M494.9 786.2h0.7M485.4 772.1h0.7M486.8 783.1h0.7M497.3 781.7h0.7M487.0 781.6h0.7M437.5 749.3h0.7M430.6 770.0h0.7M446.6 792.9h0.7M494.6 782.0h0.7M473.6 792.6h0.7M486.2 782.2h0.7M440.9 746.0h0.7M456.8 793.2h0.7M425.1 773.3h0.7M436.0 754.3h0.7M430.0 762.7h0.7M476.9 743.0h0.7M475.1 744.0h0.7M447.5 791.3h0.7M487.1 751.1h0.7M487.0 757.5h0.7M439.7 787.0h0.7M423.9 767.6h0.7M456.0 791.9h0.7M481.0 745.1h0.7M444.6 789.9h0.7M476.0 790.8h0.7M478.2 787.8h0.7M436.3 748.3h0.7M491.5 789.4h0.7M502.5 776.8h0.7M488.5 770.8h0.7M503.1 773.9h0.7M432.3 761.7h0.7M460.9 795.2h0.7M494.3 781.6h0.7M506.4 784.4h0.7M455.3 795.0h0.7M427.8 759.0h0.7M424.8 779.4h0.7M489.2 772.9h0.7M438.1 749.3h0.7M478.1 790.5h0.7M466.3 743.6h0.7M496.8 782.9h0.7M431.7 759.2h0.7M431.8 766.2h0.7M496.5 731.0h0.7M434.5 746.9h0.7M503.5 753.1h0.7M486.5 767.3h0.7M487.5 783.8h0.7M506.3 735.6h0.7M482.8 783.4h0.7M453.2 740.1h0.7M498.2 745.3h0.7M478.3 791.3h0.7M432.1 766.0h0.7M506.3 745.0h0.7M502.9 752.1h0.7M430.2 765.9h0.7M480.1 743.3h0.7M433.6 756.6h0.7M490.0 752.2h0.7M485.6 765.7h0.7M495.9 744.0h0.7M440.0 748.4h0.7M496.8 743.5h0.7M463.9 794.8h0.7M448.0 742.5h0.7M474.1 791.5h0.7M476.4 795.1h0.7M503.2 774.4h0.7M439.5 795.9h0.7M436.1 750.6h0.7M435.2 777.2h0.7M477.2 788.7h0.7M483.7 755.8h0.7M431.7 780.4h0.7M490.0 740.2h0.7M461.9 744.5h0.7M448.8 737.1h0.7M435.2 767.6h0.7M485.1 765.5h0.7M453.3 791.5h0.7M434.7 758.2h0.7M483.0 754.0h0.7M475.9 745.6h0.7M434.4 784.6h0.7M494.5 740.1h0.7M429.3 764.3h0.7M482.1 784.7h0.7M496.8 792.9h0.7M434.1 753.0h0.7M438.5 749.8h0.7M442.7 787.8h0.7M483.1 747.8h0.7M476.5 790.7h0.7M498.1 744.3h0.7M478.3 797.3h0.7M490.0 786.8h0.7M428.6 768.4h0.7M434.5 763.6h0.7M496.4 783.0h0.7M504.4 750.8h0.7M504.0 777.8h0.7M485.4 781.9h0.7M494.9 739.7h0.7M458.0 795.2h0.7M490.7 778.7h0.7M470.4 791.4h0.7M472.2 790.5h0.7M457.1 793.8h0.7M468.1 798.0h0.7M466.3 739.9h0.7M467.8 792.8h0.7M461.7 741.1h0.7M484.7 777.2h0.7M463.3 743.2h0.7M434.3 767.8h0.7M451.7 744.0h0.7M421.9 733.1h0.7M504.2 746.9h0.7M434.6 777.0h0.7M428.6 794.1h0.7M443.8 790.4h0.7M460.8 797.8h0.7M476.0 797.7h0.7M480.6 744.6h0.7M453.7 742.3h0.7M444.0 736.2h0.7M443.0 787.8h0.7M493.9 785.1h0.7M462.3 732.2h0.7M435.2 762.3h0.7M484.1 788.7h0.7M437.3 750.7h0.7M426.7 750.4h0.7M428.6 777.0h0.7M470.6 797.2h0.7M465.8 790.8h0.7M457.1 791.2h0.7M457.0 742.0h0.7M439.8 734.1h0.7M450.3 791.1h0.7M473.2 743.3h0.7M497.8 786.2h0.7M438.0 744.1h0.7M466.0 743.8h0.7M427.3 774.6h0.7M489.1 747.4h0.7M444.0 746.9h0.7M425.9 744.0h0.7M477.6 748.2h0.7M438.6 750.1h0.7M462.5 743.3h0.7M490.7 778.6h0.7M484.6 782.8h0.7M491.8 779.1h0.7M506.3 783.8h0.7M448.1 742.3h0.7M429.1 777.8h0.7M485.0 768.8h0.7M458.0 798.3h0.7M503.8 778.1h0.7M449.8 739.7h0.7M503.8 751.4h0.7M427.6 753.5h0.7M447.6 795.7h0.7M482.9 785.9h0.7M486.0 771.4h0.7M434.7 765.8h0.7M456.3 730.3h0.7M492.9 781.0h0.7M429.6 761.2h0.7M469.5 744.8h0.7M488.1 736.6h0.7M490.0 751.2h0.7M482.0 751.4h0.7M501.7 786.2h0.7M481.0 791.7h0.7M488.3 754.9h0.7M486.1 744.5h0.7M483.5 750.6h0.7M496.3 744.3h0.7M506.0 780.2h0.7M487.5 778.8h0.7M434.2 758.1h0.7M501.5 744.4h0.7M434.1 750.8h0.7M482.7 792.2h0.7M478.7 741.0h0.7M440.2 747.3h0.7M488.3 779.9h0.7M446.4 745.8h0.7M475.5 792.8h0.7M436.1 780.8h0.7M454.2 791.5h0.7M437.1 751.9h0.7M454.3 738.5h0.7M467.0 741.4h0.7M483.8 749.7h0.7M483.8 779.7h0.7M495.6 786.6h0.7M478.2 741.1h0.7M448.6 792.0h0.7M434.1 750.1h0.7M479.6 737.9h0.7M474.7 744.2h0.7M459.6 737.7h0.7M493.5 735.0h0.7M439.8 749.7h0.7M502.2 744.5h0.7M431.7 747.9h0.7M443.7 793.9h0.7M443.2 746.4h0.7M439.4 738.8h0.7M467.7 792.6h0.7M498.8 780.6h0.7M434.0 785.7h0.7M436.4 780.4h0.7M437.6 786.8h0.7M447.8 798.1h0.7M478.3 794.1h0.7M472.4 732.9h0.7M420.8 755.1h0.7M469.5 791.1h0.7M434.8 783.5h0.7M494.0 782.1h0.7M431.4 774.8h0.7M456.8 794.5h0.7M438.0 749.0h0.7M438.6 786.7h0.7M505.9 783.7h0.7M431.7 772.4h0.7M431.9 773.1h0.7M490.4 785.0h0.7M431.4 759.5h0.7M470.7 741.8h0.7M488.0 748.5h0.7M481.6 739.2h0.7M485.5 753.6h0.7M499.5 746.7h0.7M475.7 790.2h0.7M443.5 743.2h0.7M486.5 788.7h0.7M444.0 788.7h0.7M429.5 758.1h0.7M488.7 758.2h0.7M493.3 797.4h0.7M487.1 774.4h0.7M425.4 768.2h0.7M464.6 791.8h0.7M436.4 785.1h0.7M430.5 775.1h0.7M468.8 742.2h0.7M429.3 763.0h0.7M435.1 761.1h0.7M432.9 791.4h0.7M435.3 768.3h0.7M483.9 745.9h0.7M434.5 771.4h0.7M475.7 734.2h0.7M431.7 768.2h0.7M482.8 781.5h0.7M479.1 742.4h0.7M427.4 768.2h0.7M482.8 734.9h0.7M488.4 773.4h0.7M458.9 793.4h0.7M438.8 800.0h0.7M420.7 756.0h0.7M500.5 747.3h0.7M430.4 775.6h0.7M428.9 755.7h0.7M493.7 741.2h0.7M500.4 785.8h0.7M464.6 741.3h0.7M485.8 771.7h0.7M480.9 790.7h0.7M430.9 785.6h0.7M466.8 796.0h0.7M437.8 752.6h0.7M460.1 793.0h0.7M482.9 753.7h0.7M440.5 747.7h0.7M451.6 742.9h0.7M487.0 777.0h0.7M493.9 745.2h0.7M495.1 741.3h0.7M458.6 799.5h0.7M447.2 741.4h0.7M503.0 774.7h0.7M486.0 770.1h0.7M432.5 762.2h0.7M442.3 745.0h0.7M447.0 794.6h0.7M482.6 787.7h0.7M433.9 758.5h0.7M467.0 799.9h0.7M434.4 742.1h0.7M482.1 748.7h0.7M435.0 739.1h0.7M504.1 745.0h0.7M483.5 749.6h0.7M485.8 767.2h0.7M430.5 775.3h0.7M464.1 739.8h0.7M496.1 785.9h0.7M460.5 796.3h0.7M487.6 747.6h0.7M487.7 748.0h0.7M486.3 755.5h0.7M501.5 746.2h0.7M435.3 788.2h0.7M486.5 767.8h0.7M451.2 740.0h0.7M439.5 786.6h0.7M501.7 776.9h0.7M461.3 744.1h0.7M432.9 762.0h0.7M498.4 781.3h0.7M490.7 743.1h0.7M441.4 748.1h0.7M472.1 744.2h0.7M486.5 757.1h0.7M441.7 789.3h0.7M482.1 750.3h0.7M495.8 789.6h0.7M431.7 779.6h0.7M443.0 742.5h0.7M455.8 795.1h0.7M480.0 749.9h0.7M499.8 744.3h0.7M478.7 748.6h0.7M488.8 741.5h0.7M482.2 782.2h0.7M469.4 794.5h0.7M454.2 791.6h0.7M455.8 743.4h0.7M436.3 756.3h0.7M435.8 752.1h0.7M447.0 735.5h0.7M429.8 785.4h0.7M489.4 740.4h0.7M473.3 743.9h0.7M456.9 802.7h0.7M428.1 771.5h0.7M479.3 794.4h0.7M429.0 773.3h0.7M484.2 782.8h0.7M453.1 791.2h0.7M434.4 754.5h0.7M496.7 793.7h0.7M502.9 794.6h0.7M441.1 789.5h0.7M487.6 772.0h0.7M455.8 793.4h0.7M501.0 744.8h0.7M488.8 748.1h0.7M487.2 748.7h0.7M471.5 744.1h0.7M438.7 750.2h0.7M435.7 756.6h0.7M437.3 742.5h0.7M490.3 750.6h0.7M476.6 788.1h0.7M428.7 773.5h0.7M452.5 742.2h0.7M500.1 791.6h0.7M466.8 791.2h0.7M498.0 782.0h0.7M488.1 776.2h0.7M482.5 744.7h0.7M435.0 754.7h0.7M443.4 788.3h0.7M434.7 768.3h0.7M499.1 790.8h0.7" stroke="#999" stroke-width="0.7" fill="none"/>
<path d="M460.4 768.5 459.1 768.4 459.2 766.9 460.6 767.1 460.4 768.5Z M508.9 765.2 508.7 763.8 508.9 765.2Z M461.2 769.9 458.9 770.0 457.7 769.4 457.3 767.1 457.9 765.8 460.4 765.4 461.9 766.0 462.2 768.6 461.2 769.9Z M508.9 766.4 508.1 764.9 508.7 762.6 509.5 764.1 508.9 766.4Z M461.4 771.4 457.9 771.4 456.3 770.4 455.8 766.6 456.9 764.4 461.2 763.9 463.4 765.1 463.7 769.6 462.9 770.8 461.4 771.4Z M509.2 767.4 508.4 767.4 507.7 765.4 507.9 762.9 508.7 761.4 509.4 761.9 509.9 763.6 509.2 767.4Z M496.2 764.4 495.6 763.1 496.2 762.0 496.6 763.1 496.2 764.4Z M461.9 772.9 457.2 772.8 454.8 771.1 454.3 765.9 454.9 764.1 455.9 763.1 457.9 762.5 461.7 762.5 463.4 763.0 464.7 764.1 465.4 766.4 465.1 770.4 464.0 772.1 461.9 772.9Z M509.2 768.7 507.9 768.0 507.3 765.1 507.6 761.9 508.7 760.2 509.7 761.1 510.3 763.9 510.1 766.9 509.2 768.7Z M496.4 765.7 495.5 765.4 495.0 763.6 495.3 761.4 496.2 760.5 497.2 762.9 496.4 765.7Z M461.9 774.4 456.2 774.1 454.5 773.4 453.4 772.1 452.7 769.6 452.8 765.1 453.5 763.1 454.9 761.8 457.7 761.0 462.4 761.1 464.7 761.8 466.3 763.4 467.0 766.6 466.5 771.6 464.9 773.5 461.9 774.4Z M496.4 767.2 495.2 766.6 494.5 763.6 494.9 760.4 496.2 759.1 497.3 760.4 497.7 762.9 497.4 765.6 496.4 767.2Z M508.9 769.9 507.5 768.6 506.9 764.9 507.4 760.9 508.7 759.1 510.1 760.4 510.7 764.1 510.2 768.1 508.9 769.9Z M461.9 775.9 455.2 775.5 453.2 774.5 451.9 772.9 451.1 769.9 451.3 764.4 452.3 761.9 454.2 760.3 457.4 759.5 463.4 759.7 466.2 760.7 467.8 762.6 468.5 767.1 467.8 772.6 465.7 775.0 461.9 775.9Z M496.4 768.7 495.4 768.5 494.7 767.4 493.9 763.4 494.5 759.4 495.2 758.2 496.2 757.7 497.6 759.1 498.3 762.9 497.8 766.6 496.4 768.7Z M461.4 777.4 453.9 776.7 451.7 775.4 450.3 773.4 449.5 769.6 449.8 763.4 451.1 760.6 453.4 758.9 457.4 758.0 464.2 758.3 467.4 759.6 469.3 761.9 470.0 764.6 470.1 768.9 469.1 773.9 466.2 776.5 461.4 777.4Z M509.2 771.0 508.2 770.9 507.4 769.8 506.5 765.4 507.0 760.1 508.7 757.9 510.3 759.4 511.1 763.6 510.6 768.6 509.2 771.0Z M496.2 770.2 495.2 769.8 494.1 768.1 493.3 763.1 494.2 758.1 495.2 756.6 496.2 756.2 497.2 756.8 498.1 758.4 498.9 763.1 498.1 768.1 497.2 769.6 496.2 770.2Z M464.4 778.6 454.4 778.5 451.4 777.3 449.4 775.4 448.1 771.4 448.1 764.1 449.2 760.4 451.4 758.0 455.7 756.7 463.9 756.7 467.7 757.8 470.3 760.1 471.6 764.9 471.1 773.4 470.2 775.4 468.7 777.0 464.4 778.6Z M509.2 772.2 508.2 772.1 507.1 770.6 506.1 765.1 506.7 759.4 507.7 757.4 508.7 756.7 509.7 757.1 510.6 758.6 511.5 763.9 511.0 769.1 510.2 771.2 509.2 772.2Z M496.7 771.5 495.4 771.4 494.1 769.9 492.8 763.9 493.6 757.6 494.7 755.6 496.2 754.8 497.4 755.5 498.4 757.1 499.4 762.6 498.7 768.4 497.8 770.4 496.7 771.5Z M464.4 780.2 457.4 780.3 453.2 779.8 450.0 778.4 447.9 776.1 446.5 771.6 446.6 763.4 447.8 759.4 450.4 756.7 455.4 755.2 464.7 755.3 468.9 756.6 471.8 759.4 472.8 761.9 473.2 765.1 473.1 771.1 472.4 774.6 471.2 776.9 469.4 778.5 464.4 780.2Z M509.2 773.4 507.9 773.1 506.8 771.4 505.6 765.1 506.5 758.4 507.4 756.4 508.7 755.6 509.9 756.1 510.8 757.6 512.0 763.9 511.3 770.1 510.3 772.4 509.2 773.4Z M496.7 772.9 495.2 772.8 493.6 770.9 492.2 764.1 493.1 756.9 494.4 754.3 495.9 753.4 497.4 753.9 498.7 755.9 500.0 762.4 499.2 769.1 498.1 771.6 496.7 772.9Z M464.7 781.6 456.9 781.8 452.4 781.2 448.8 779.6 446.4 776.9 445.0 771.9 445.1 762.4 446.6 758.1 449.7 755.2 455.2 753.7 465.2 753.8 469.9 755.2 473.2 758.4 474.3 761.4 474.7 765.1 474.6 771.9 473.8 775.6 472.4 778.1 470.4 779.9 467.9 781.0 464.7 781.6Z M509.4 774.5 507.9 774.3 506.6 772.4 505.2 765.6 506.1 757.9 507.3 755.4 508.7 754.4 509.9 754.9 511.1 756.9 512.4 763.4 511.6 770.6 510.7 773.1 509.4 774.5Z M496.4 774.4 494.7 773.9 493.0 771.4 492.0 767.9 491.6 763.4 491.9 759.4 492.9 755.4 494.4 752.7 496.2 751.9 497.9 752.9 499.2 755.1 500.3 758.9 500.6 762.9 499.5 770.6 498.2 773.2 496.4 774.4Z M464.7 783.1 456.2 783.2 451.4 782.6 447.7 780.9 445.0 777.9 443.4 772.1 443.6 761.9 445.2 757.1 448.7 753.9 454.9 752.3 466.2 752.4 471.4 754.2 474.7 757.6 475.9 760.9 476.3 765.1 476.2 772.1 475.2 776.6 473.7 779.3 471.4 781.2 468.4 782.5 464.7 783.1Z M509.4 775.6 507.9 775.5 506.3 773.4 505.3 769.9 504.8 765.6 505.8 757.1 507.0 754.4 508.7 753.2 510.2 753.9 511.4 755.9 512.8 763.4 512.0 771.1 510.9 774.1 509.4 775.6Z M496.2 775.9 494.2 775.0 492.5 772.1 491.4 767.9 491.0 763.1 491.5 757.9 492.5 754.1 494.2 751.5 496.2 750.5 498.2 751.6 499.7 754.4 500.8 758.4 501.2 763.1 500.8 767.9 499.8 771.9 498.2 774.8 496.2 775.9Z M464.7 784.6 455.7 784.7 450.4 783.9 446.2 781.9 443.5 778.6 441.8 772.4 442.1 761.1 444.0 755.9 447.7 752.6 450.7 751.4 454.7 750.8 466.9 751.0 472.7 753.0 476.2 756.9 477.5 760.6 477.9 765.4 477.7 772.9 476.6 777.6 474.9 780.4 472.4 782.5 468.9 784.0 464.7 784.6Z M512.9 768.8 512.1 772.6 510.9 775.4 509.4 776.8 507.9 776.7 506.5 775.1 505.3 772.1 504.4 764.4 505.3 756.9 506.5 753.9 507.9 752.3 509.4 752.2 510.9 753.6 512.1 756.4 512.9 760.2 M485.4 761.7 484.9 761.8 484.7 761.1 485.4 761.1 485.4 761.7Z M496.9 777.2 494.7 776.9 492.5 774.1 491.1 769.6 490.5 764.4 490.7 758.6 491.9 753.9 493.7 750.4 495.9 749.1 497.9 749.8 499.8 752.6 501.1 756.6 501.8 762.1 501.6 767.1 500.6 771.9 498.9 775.4 496.9 777.2Z M464.4 786.1 454.7 786.1 449.2 785.2 444.7 782.9 441.8 779.1 440.3 772.4 440.6 760.1 442.8 754.6 444.7 752.6 447.2 751.0 450.7 749.8 454.7 749.3 468.2 749.7 471.4 750.6 474.2 752.0 476.2 753.9 477.8 756.4 479.1 760.6 479.5 766.4 479.2 773.9 477.9 778.9 475.9 781.9 472.9 784.2 469.2 785.5 464.4 786.1Z M512.9 771.5 512.0 774.6 510.6 777.1 508.9 778.1 507.4 777.5 506.0 775.6 504.9 772.4 503.9 764.4 505.1 755.9 506.3 752.9 507.7 751.3 509.2 750.9 510.7 752.0 512.9 757.5 M485.4 762.4 484.1 761.9 484.0 761.1 484.7 760.4 486.1 761.1 485.4 762.4Z M464.2 787.6 453.9 787.5 448.2 786.5 443.4 784.0 440.3 779.9 439.2 776.6 438.7 772.4 439.1 759.4 440.1 756.1 441.6 753.4 443.7 751.2 446.2 749.7 449.7 748.5 454.4 747.8 468.9 748.3 472.4 749.2 475.4 750.8 477.6 752.9 479.3 755.6 481.1 762.9 480.8 773.9 479.3 779.9 477.1 783.1 473.9 785.5 469.7 787.0 464.2 787.6Z M496.9 778.6 494.4 778.2 492.1 775.1 490.5 770.4 489.8 763.9 490.3 757.6 491.5 752.6 493.4 749.1 495.9 747.6 498.3 748.6 500.4 751.9 501.8 756.6 502.7 763.1 502.1 768.4 500.7 773.6 498.9 777.1 496.9 778.6Z M512.9 773.5 511.8 776.6 510.4 778.5 508.9 779.3 507.2 778.5 505.8 776.6 504.6 773.4 503.1 764.1 504.6 755.6 505.8 752.4 507.2 750.5 508.9 749.7 510.4 750.5 511.8 752.4 512.9 755.5 M484.9 763.1 483.6 762.6 483.0 761.4 483.7 760.2 484.9 759.7 486.2 760.1 486.8 761.4 486.2 762.6 484.9 763.1Z M463.4 789.1 452.9 789.0 446.7 787.7 441.9 784.9 438.7 780.4 437.6 776.6 437.1 772.1 437.1 763.4 437.7 758.1 438.9 754.6 440.6 751.9 442.9 749.7 445.9 748.0 450.4 746.8 456.4 746.3 466.4 746.4 472.2 747.5 475.7 749.0 478.4 751.2 480.3 753.9 482.5 758.6 485.9 759.2 487.4 760.6 487.5 761.9 486.7 763.1 482.9 764.9 482.0 776.9 480.8 780.6 478.9 783.6 476.2 786.1 472.9 787.7 468.7 788.7 463.4 789.1Z M512.9 775.3 510.7 779.5 509.4 780.3 507.9 780.2 505.6 777.6 502.9 770.3 498.9 778.7 496.9 780.1 494.7 779.8 492.5 777.6 490.7 773.9 489.6 768.6 489.1 762.1 489.8 756.4 491.1 751.6 492.9 748.2 495.2 746.4 497.4 746.5 499.4 748.4 501.0 751.4 502.9 757.2 505.9 750.9 508.2 748.7 509.4 748.7 510.7 749.5 512.9 753.7 M512.9 777.0 510.7 780.8 509.4 781.5 507.9 781.4 505.8 779.4 502.9 773.4 498.7 780.5 496.7 781.6 494.4 781.2 492.3 779.1 490.5 775.6 489.3 771.4 488.3 764.6 487.7 763.9 485.3 765.1 484.5 766.1 483.8 775.4 482.9 779.9 480.9 783.9 477.7 787.1 473.4 789.2 468.4 790.3 451.2 790.3 447.2 789.5 443.7 788.1 440.9 786.3 438.7 783.9 437.1 780.9 436.1 777.4 435.5 767.6 436.0 758.4 438.2 752.4 440.1 749.9 442.4 748.0 448.9 745.5 454.7 744.8 464.2 744.8 469.4 745.3 473.7 746.3 478.9 749.3 481.3 752.1 483.8 757.1 487.9 759.3 488.6 758.4 490.0 752.4 491.5 748.6 493.2 746.3 495.2 744.9 497.2 745.0 499.2 746.5 503.2 754.3 506.1 749.1 508.2 747.5 509.4 747.5 510.7 748.2 512.9 752.0" stroke="#6e6e6e" stroke-width="0.55" fill="none" stroke-linejoin="round"/>
<ellipse cx="462.30" cy="769.50" rx="2.0" ry="7.5" fill="#fff" transform="rotate(-30 462.30 769.50)"/>
<ellipse cx="456.80" cy="759.50" rx="1.5" ry="3" fill="#fff"/>
</g>
<rect x="413.80" y="717.50" width="93.30" height="85.80" fill="none" stroke="#8a8a8a" stroke-width="0.8"/>
<line x1="411.60" y1="727.50" x2="413.80" y2="727.50" stroke="#555" stroke-width="0.7"/>
<text x="411.20" y="729.40" font-size="5.6" fill="#333" text-anchor="end">10<tspan font-size="4.03" dy="-2.2">5</tspan></text>
<line x1="411.60" y1="746.30" x2="413.80" y2="746.30" stroke="#555" stroke-width="0.7"/>
<text x="411.20" y="748.20" font-size="5.6" fill="#333" text-anchor="end">10<tspan font-size="4.03" dy="-2.2">4</tspan></text>
<line x1="411.60" y1="767.30" x2="413.80" y2="767.30" stroke="#555" stroke-width="0.7"/>
<text x="411.20" y="769.20" font-size="5.6" fill="#333" text-anchor="end">10<tspan font-size="4.03" dy="-2.2">3</tspan></text>
<line x1="411.60" y1="783.70" x2="413.80" y2="783.70" stroke="#555" stroke-width="0.7"/>
<text x="409.60" y="785.60" font-size="5.6" fill="#333" text-anchor="end">0</text>
<line x1="411.60" y1="797.50" x2="413.80" y2="797.50" stroke="#555" stroke-width="0.7"/>
<text x="411.20" y="799.40" font-size="5.6" fill="#333" text-anchor="end">−10<tspan font-size="4.03" dy="-2.2">3</tspan></text>
<line x1="412.70" y1="733.14" x2="413.80" y2="733.14" stroke="#777" stroke-width="0.5"/>
<line x1="412.70" y1="736.90" x2="413.80" y2="736.90" stroke="#777" stroke-width="0.5"/>
<line x1="412.70" y1="740.66" x2="413.80" y2="740.66" stroke="#777" stroke-width="0.5"/>
<line x1="412.70" y1="752.60" x2="413.80" y2="752.60" stroke="#777" stroke-width="0.5"/>
<line x1="412.70" y1="756.80" x2="413.80" y2="756.80" stroke="#777" stroke-width="0.5"/>
<line x1="412.70" y1="761.00" x2="413.80" y2="761.00" stroke="#777" stroke-width="0.5"/>
<line x1="412.70" y1="772.22" x2="413.80" y2="772.22" stroke="#777" stroke-width="0.5"/>
<line x1="412.70" y1="775.50" x2="413.80" y2="775.50" stroke="#777" stroke-width="0.5"/>
<line x1="412.70" y1="778.78" x2="413.80" y2="778.78" stroke="#777" stroke-width="0.5"/>
<line x1="412.70" y1="787.84" x2="413.80" y2="787.84" stroke="#777" stroke-width="0.5"/>
<line x1="412.70" y1="790.60" x2="413.80" y2="790.60" stroke="#777" stroke-width="0.5"/>
<line x1="412.70" y1="793.36" x2="413.80" y2="793.36" stroke="#777" stroke-width="0.5"/>
<line x1="420.60" y1="803.30" x2="420.60" y2="805.50" stroke="#555" stroke-width="0.7"/>
<text x="420.80" y="813.90" font-size="5.6" fill="#333" text-anchor="middle">−10<tspan font-size="4.03" dy="-2.2">3</tspan></text>
<line x1="434.50" y1="803.30" x2="434.50" y2="805.50" stroke="#555" stroke-width="0.7"/>
<text x="434.50" y="813.90" font-size="5.6" fill="#333" text-anchor="middle">0</text>
<line x1="449.60" y1="803.30" x2="449.60" y2="805.50" stroke="#555" stroke-width="0.7"/>
<text x="449.80" y="813.90" font-size="5.6" fill="#333" text-anchor="middle">10<tspan font-size="4.03" dy="-2.2">3</tspan></text>
<line x1="475.10" y1="803.30" x2="475.10" y2="805.50" stroke="#555" stroke-width="0.7"/>
<text x="475.30" y="813.90" font-size="5.6" fill="#333" text-anchor="middle">10<tspan font-size="4.03" dy="-2.2">4</tspan></text>
<line x1="496.30" y1="803.30" x2="496.30" y2="805.50" stroke="#555" stroke-width="0.7"/>
<text x="496.50" y="813.90" font-size="5.6" fill="#333" text-anchor="middle">10<tspan font-size="4.03" dy="-2.2">5</tspan></text>
<line x1="424.77" y1="803.30" x2="424.77" y2="804.40" stroke="#777" stroke-width="0.5"/>
<line x1="427.55" y1="803.30" x2="427.55" y2="804.40" stroke="#777" stroke-width="0.5"/>
<line x1="430.33" y1="803.30" x2="430.33" y2="804.40" stroke="#777" stroke-width="0.5"/>
<line x1="439.03" y1="803.30" x2="439.03" y2="804.40" stroke="#777" stroke-width="0.5"/>
<line x1="442.05" y1="803.30" x2="442.05" y2="804.40" stroke="#777" stroke-width="0.5"/>
<line x1="445.07" y1="803.30" x2="445.07" y2="804.40" stroke="#777" stroke-width="0.5"/>
<line x1="457.25" y1="803.30" x2="457.25" y2="804.40" stroke="#777" stroke-width="0.5"/>
<line x1="462.35" y1="803.30" x2="462.35" y2="804.40" stroke="#777" stroke-width="0.5"/>
<line x1="467.45" y1="803.30" x2="467.45" y2="804.40" stroke="#777" stroke-width="0.5"/>
<line x1="481.46" y1="803.30" x2="481.46" y2="804.40" stroke="#777" stroke-width="0.5"/>
<line x1="485.70" y1="803.30" x2="485.70" y2="804.40" stroke="#777" stroke-width="0.5"/>
<line x1="489.94" y1="803.30" x2="489.94" y2="804.40" stroke="#777" stroke-width="0.5"/>
<rect x="412.20" y="782.10" width="1.4" height="3.2" fill="#000"/>
<rect x="432.10" y="803.60" width="4.8" height="1.4" fill="#000"/>
<rect x="0.00" y="0.00" width="520.00" height="1.00" fill="#000"/>
<rect x="0.00" y="0.00" width="1.10" height="836.00" fill="#000"/>
<rect x="518.70" y="0.00" width="1.30" height="836.00" fill="#000"/>
<rect x="0.00" y="834.40" width="520.00" height="1.60" fill="#000"/>
</svg></body></html>
